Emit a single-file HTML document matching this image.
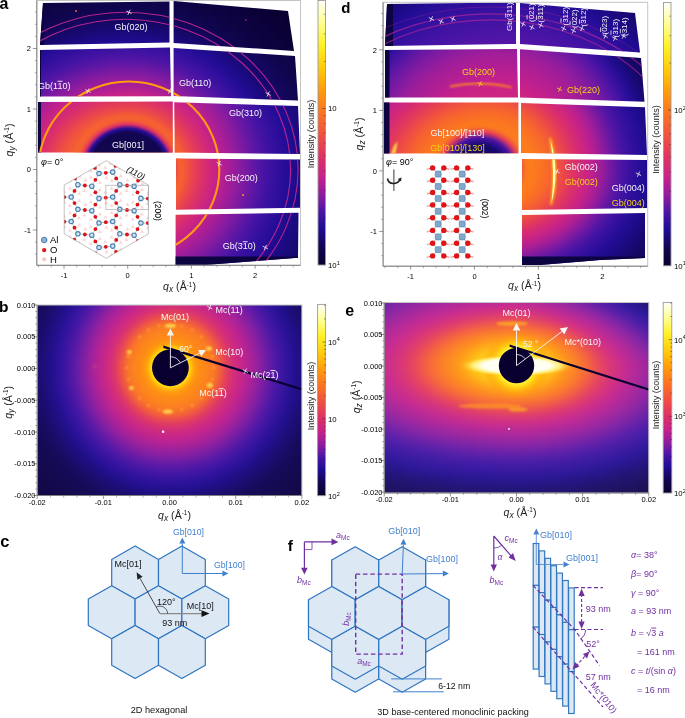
<!DOCTYPE html>
<html><head><meta charset="utf-8"><title>Figure</title>
<style>html,body{margin:0;padding:0;background:#fff;width:685px;height:718px;overflow:hidden}svg{display:block}</style>
</head><body>
<svg width="685" height="718" viewBox="0 0 685 718" font-family="'Liberation Sans', Arial, sans-serif">
<defs><clipPath id="cA"><polygon points="43.0,3.0 169.5,1.5 169.5,42.5 40.0,45.0" /><polygon points="40.0,50.0 170.0,47.5 171.0,96.3 40.0,96.5" /><polygon points="38.0,102.0 172.8,101.6 172.8,152.4 38.0,152.4" /><polygon points="173.6,1.0 288.0,11.0 294.0,51.0 173.6,43.0" /><polygon points="173.6,48.0 295.0,56.0 298.0,100.5 173.6,96.0" /><polygon points="174.2,102.2 298.0,106.0 300.0,154.0 174.8,152.4" /><polygon points="176.0,158.6 300.0,159.6 300.0,207.7 176.0,209.7" /><polygon points="175.6,214.8 298.5,212.8 298.0,257.7 259.0,260.8 205.0,264.9 175.6,264.9" /></clipPath>
<clipPath id="cA1"><polygon points="43.0,3.0 169.5,1.5 169.5,42.5 40.0,45.0" /><polygon points="173.6,1.0 288.0,11.0 294.0,51.0 173.6,43.0" /></clipPath>
<clipPath id="cA2"><polygon points="40.0,50.0 170.0,47.5 171.0,96.3 40.0,96.5" /><polygon points="173.6,48.0 295.0,56.0 298.0,100.5 173.6,96.0" /></clipPath>
<clipPath id="cA3"><polygon points="38.0,102.0 172.8,101.6 172.8,152.4 38.0,152.4" /><polygon points="174.2,102.2 298.0,106.0 300.0,154.0 174.8,152.4" /><polygon points="176.0,158.6 300.0,159.6 300.0,207.7 176.0,209.7" /><polygon points="175.6,214.8 298.5,212.8 298.0,257.7 259.0,260.8 205.0,264.9 175.6,264.9" /></clipPath>
<radialGradient id="gablob" gradientUnits="userSpaceOnUse" cx="127.7" cy="169.5" r="60" fx="127.7" fy="169.5" gradientTransform="translate(127.7 169.5) scale(1.03 1) translate(-127.7 -169.5)"><stop offset="0.0000" stop-color="#0e0548" stop-opacity="1"/><stop offset="0.6167" stop-color="#120650" stop-opacity="1"/><stop offset="0.6833" stop-color="#270d99" stop-opacity="1"/><stop offset="0.7500" stop-color="#db3069" stop-opacity="1"/><stop offset="0.8167" stop-color="#f45c35" stop-opacity="0.8"/><stop offset="0.9000" stop-color="#f96c27" stop-opacity="0.4"/><stop offset="1.0000" stop-color="#f1543c" stop-opacity="0"/></radialGradient>
<linearGradient id="cba" gradientUnits="userSpaceOnUse" x1="0" y1="0.5" x2="0" y2="265"><stop offset="0.000" stop-color="#fffff8"/><stop offset="0.033" stop-color="#ffffcf"/><stop offset="0.067" stop-color="#ffffa6"/><stop offset="0.100" stop-color="#fffc7d"/><stop offset="0.133" stop-color="#fff652"/><stop offset="0.167" stop-color="#fff128"/><stop offset="0.200" stop-color="#ffe31b"/><stop offset="0.233" stop-color="#ffd412"/><stop offset="0.267" stop-color="#ffc40a"/><stop offset="0.300" stop-color="#ffb20b"/><stop offset="0.333" stop-color="#ff9f0c"/><stop offset="0.367" stop-color="#fe8e11"/><stop offset="0.400" stop-color="#fc7e1b"/><stop offset="0.433" stop-color="#fa6f25"/><stop offset="0.467" stop-color="#f56131"/><stop offset="0.500" stop-color="#f1543c"/><stop offset="0.533" stop-color="#eb474a"/><stop offset="0.567" stop-color="#e33b59"/><stop offset="0.600" stop-color="#db3069"/><stop offset="0.633" stop-color="#d1287a"/><stop offset="0.667" stop-color="#c7218a"/><stop offset="0.700" stop-color="#ac1e95"/><stop offset="0.733" stop-color="#901c9e"/><stop offset="0.767" stop-color="#6d18a3"/><stop offset="0.800" stop-color="#4814a6"/><stop offset="0.833" stop-color="#32109d"/><stop offset="0.867" stop-color="#1e0b90"/><stop offset="0.900" stop-color="#17096f"/><stop offset="0.933" stop-color="#100650"/><stop offset="0.967" stop-color="#0d0340"/><stop offset="1.000" stop-color="#0a0030"/></linearGradient>
<clipPath id="cI"><polygon points="106.3,160.7 148.4,185.1 148.4,233.9 106.3,258.3 64.2,233.9 64.2,185.1" /></clipPath>
<clipPath id="cD"><polygon points="387.0,4.0 516.0,2.5 516.0,44.0 385.0,46.0" /><polygon points="385.0,50.0 517.0,49.0 518.0,97.4 385.0,97.5" /><polygon points="384.0,102.4 518.4,102.4 518.4,153.2 384.0,153.4" /><polygon points="520.0,3.0 635.0,13.0 640.0,52.5 520.0,44.0" /><polygon points="520.0,49.3 641.0,58.0 644.5,101.8 520.0,97.4" /><polygon points="521.0,103.0 645.0,107.3 647.0,155.0 521.0,153.0" /><polygon points="522.0,159.0 647.0,160.0 647.0,208.0 522.0,210.0" /><polygon points="522.0,215.0 645.0,213.0 645.0,258.0 600.0,260.0 540.0,264.9 522.0,264.9" /></clipPath>
<clipPath id="cD1"><polygon points="387.0,4.0 516.0,2.5 516.0,44.0 385.0,46.0" /><polygon points="520.0,3.0 635.0,13.0 640.0,52.5 520.0,44.0" /></clipPath>
<clipPath id="cD2"><polygon points="385.0,50.0 517.0,49.0 518.0,97.4 385.0,97.5" /><polygon points="520.0,49.3 641.0,58.0 644.5,101.8 520.0,97.4" /></clipPath>
<clipPath id="cD3"><polygon points="384.0,102.4 518.4,102.4 518.4,153.2 384.0,153.4" /><polygon points="521.0,103.0 645.0,107.3 647.0,155.0 521.0,153.0" /><polygon points="522.0,159.0 647.0,160.0 647.0,208.0 522.0,210.0" /><polygon points="522.0,215.0 645.0,213.0 645.0,258.0 600.0,260.0 540.0,264.9 522.0,264.9" /></clipPath>
<radialGradient id="gdblob" gradientUnits="userSpaceOnUse" cx="480" cy="169" r="50" fx="480" fy="169" gradientTransform="translate(480 169) scale(1.08 1) translate(-480 -169)"><stop offset="0.0000" stop-color="#100652" stop-opacity="1"/><stop offset="0.4800" stop-color="#17096f" stop-opacity="1"/><stop offset="0.6200" stop-color="#4814a6" stop-opacity="1"/><stop offset="0.7400" stop-color="#e03660" stop-opacity="0.9"/><stop offset="0.8600" stop-color="#fb7521" stop-opacity="0.5"/><stop offset="1.0000" stop-color="#fc7e1b" stop-opacity="0"/></radialGradient>
<linearGradient id="cbd" gradientUnits="userSpaceOnUse" x1="0" y1="2.5" x2="0" y2="265.8"><stop offset="0.000" stop-color="#fffff8"/><stop offset="0.033" stop-color="#ffffcf"/><stop offset="0.067" stop-color="#ffffa6"/><stop offset="0.100" stop-color="#fffc7d"/><stop offset="0.133" stop-color="#fff652"/><stop offset="0.167" stop-color="#fff128"/><stop offset="0.200" stop-color="#ffe31b"/><stop offset="0.233" stop-color="#ffd412"/><stop offset="0.267" stop-color="#ffc40a"/><stop offset="0.300" stop-color="#ffb20b"/><stop offset="0.333" stop-color="#ff9f0c"/><stop offset="0.367" stop-color="#fe8e11"/><stop offset="0.400" stop-color="#fc7e1b"/><stop offset="0.433" stop-color="#fa6f25"/><stop offset="0.467" stop-color="#f56131"/><stop offset="0.500" stop-color="#f1543c"/><stop offset="0.533" stop-color="#eb474a"/><stop offset="0.567" stop-color="#e33b59"/><stop offset="0.600" stop-color="#db3069"/><stop offset="0.633" stop-color="#d1287a"/><stop offset="0.667" stop-color="#c7218a"/><stop offset="0.700" stop-color="#ac1e95"/><stop offset="0.733" stop-color="#901c9e"/><stop offset="0.767" stop-color="#6d18a3"/><stop offset="0.800" stop-color="#4814a6"/><stop offset="0.833" stop-color="#32109d"/><stop offset="0.867" stop-color="#1e0b90"/><stop offset="0.900" stop-color="#17096f"/><stop offset="0.933" stop-color="#100650"/><stop offset="0.967" stop-color="#0d0340"/><stop offset="1.000" stop-color="#0a0030"/></linearGradient>
<filter id="bl4" color-interpolation-filters="sRGB" x="-5%" y="-5%" width="110%" height="110%"><feGaussianBlur stdDeviation="4"/></filter>
<filter id="bl3" color-interpolation-filters="sRGB" x="-5%" y="-5%" width="110%" height="110%"><feGaussianBlur stdDeviation="3"/></filter>
<filter id="bl1" color-interpolation-filters="sRGB" x="-20%" y="-20%" width="140%" height="140%"><feGaussianBlur stdDeviation="1.2"/></filter>
<radialGradient id="gbc" gradientUnits="userSpaceOnUse" cx="170.4" cy="367.8" r="36" fx="170.4" fy="367.8"><stop offset="0.0000" stop-color="#ffe31b" stop-opacity="1"/><stop offset="0.5000" stop-color="#ffe31b" stop-opacity="1"/><stop offset="0.5694" stop-color="#ffc80a" stop-opacity="1"/><stop offset="0.6667" stop-color="#ffa10c" stop-opacity="0.9"/><stop offset="0.8056" stop-color="#fe8c12" stop-opacity="0.5"/><stop offset="1.0000" stop-color="#fc8318" stop-opacity="0"/></radialGradient>
<clipPath id="cB"><rect x="37.2" y="305" width="264.7" height="190.5"/></clipPath>
<linearGradient id="cbb" gradientUnits="userSpaceOnUse" x1="0" y1="304.4" x2="0" y2="495.7"><stop offset="0.000" stop-color="#fffff8"/><stop offset="0.033" stop-color="#ffffcf"/><stop offset="0.067" stop-color="#ffffa6"/><stop offset="0.100" stop-color="#fffc7d"/><stop offset="0.133" stop-color="#fff652"/><stop offset="0.167" stop-color="#fff128"/><stop offset="0.200" stop-color="#ffe31b"/><stop offset="0.233" stop-color="#ffd412"/><stop offset="0.267" stop-color="#ffc40a"/><stop offset="0.300" stop-color="#ffb20b"/><stop offset="0.333" stop-color="#ff9f0c"/><stop offset="0.367" stop-color="#fe8e11"/><stop offset="0.400" stop-color="#fc7e1b"/><stop offset="0.433" stop-color="#fa6f25"/><stop offset="0.467" stop-color="#f56131"/><stop offset="0.500" stop-color="#f1543c"/><stop offset="0.533" stop-color="#eb474a"/><stop offset="0.567" stop-color="#e33b59"/><stop offset="0.600" stop-color="#db3069"/><stop offset="0.633" stop-color="#d1287a"/><stop offset="0.667" stop-color="#c7218a"/><stop offset="0.700" stop-color="#ac1e95"/><stop offset="0.733" stop-color="#901c9e"/><stop offset="0.767" stop-color="#6d18a3"/><stop offset="0.800" stop-color="#4814a6"/><stop offset="0.833" stop-color="#32109d"/><stop offset="0.867" stop-color="#1e0b90"/><stop offset="0.900" stop-color="#17096f"/><stop offset="0.933" stop-color="#100650"/><stop offset="0.967" stop-color="#0d0340"/><stop offset="1.000" stop-color="#0a0030"/></linearGradient>
<radialGradient id="gstreak" gradientUnits="userSpaceOnUse" cx="516.5" cy="365.6" r="58" fx="516.5" fy="365.6" gradientTransform="translate(516.5 365.6) scale(1 0.2) translate(-516.5 -365.6)"><stop offset="0.0000" stop-color="#ffffff" stop-opacity="1"/><stop offset="0.5862" stop-color="#fffff0" stop-opacity="1"/><stop offset="0.7586" stop-color="#fff27a" stop-opacity="0.9"/><stop offset="1.0000" stop-color="#ffb000" stop-opacity="0"/></radialGradient>
<radialGradient id="gec" gradientUnits="userSpaceOnUse" cx="516.5" cy="365.6" r="34" fx="516.5" fy="365.6"><stop offset="0.0000" stop-color="#fff33d" stop-opacity="1"/><stop offset="0.5206" stop-color="#fff33d" stop-opacity="1"/><stop offset="0.6176" stop-color="#ffda16" stop-opacity="1"/><stop offset="0.7647" stop-color="#ffb20b" stop-opacity="0.7"/><stop offset="1.0000" stop-color="#fd8815" stop-opacity="0"/></radialGradient>
<clipPath id="cE"><rect x="384.2" y="302.5" width="264.6" height="190.5"/></clipPath>
<linearGradient id="cbe" gradientUnits="userSpaceOnUse" x1="0" y1="302.4" x2="0" y2="493"><stop offset="0.000" stop-color="#fffff8"/><stop offset="0.033" stop-color="#ffffcf"/><stop offset="0.067" stop-color="#ffffa6"/><stop offset="0.100" stop-color="#fffc7d"/><stop offset="0.133" stop-color="#fff652"/><stop offset="0.167" stop-color="#fff128"/><stop offset="0.200" stop-color="#ffe31b"/><stop offset="0.233" stop-color="#ffd412"/><stop offset="0.267" stop-color="#ffc40a"/><stop offset="0.300" stop-color="#ffb20b"/><stop offset="0.333" stop-color="#ff9f0c"/><stop offset="0.367" stop-color="#fe8e11"/><stop offset="0.400" stop-color="#fc7e1b"/><stop offset="0.433" stop-color="#fa6f25"/><stop offset="0.467" stop-color="#f56131"/><stop offset="0.500" stop-color="#f1543c"/><stop offset="0.533" stop-color="#eb474a"/><stop offset="0.567" stop-color="#e33b59"/><stop offset="0.600" stop-color="#db3069"/><stop offset="0.633" stop-color="#d1287a"/><stop offset="0.667" stop-color="#c7218a"/><stop offset="0.700" stop-color="#ac1e95"/><stop offset="0.733" stop-color="#901c9e"/><stop offset="0.767" stop-color="#6d18a3"/><stop offset="0.800" stop-color="#4814a6"/><stop offset="0.833" stop-color="#32109d"/><stop offset="0.867" stop-color="#1e0b90"/><stop offset="0.900" stop-color="#17096f"/><stop offset="0.933" stop-color="#100650"/><stop offset="0.967" stop-color="#0d0340"/><stop offset="1.000" stop-color="#0a0030"/></linearGradient></defs>
<g clip-path="url(#cA1)">
<g filter="url(#bl4)"><path fill="#0c023c" d="M29 -8h8v8h-8z"/><path fill="#0c023d" d="M37 -8h8v8h-8z"/><path fill="#0d033e" d="M45 -8h8v8h-8z"/><path fill="#0d033f" d="M53 -8h8v8h-8z"/><path fill="#0d0340" d="M61 -8h8v8h-8z"/><path fill="#0d0341" d="M69 -8h8v8h-8z"/><path fill="#0d0343" d="M77 -8h8v8h-8z"/><path fill="#0d0344" d="M85 -8h8v8h-8z"/><path fill="#0e0444" d="M93 -8h8v8h-8z"/><path fill="#0e0445" d="M101 -8h8v8h-8z"/><path fill="#0e0445" d="M109 -8h8v8h-8z"/><path fill="#0e0446" d="M117 -8h8v8h-8z"/><path fill="#0e0446" d="M125 -8h8v8h-8z"/><path fill="#0e0446" d="M133 -8h8v8h-8z"/><path fill="#0e0445" d="M141 -8h8v8h-8z"/><path fill="#0e0445" d="M149 -8h8v8h-8z"/><path fill="#0d0344" d="M157 -8h8v8h-8z"/><path fill="#0d0343" d="M165 -8h8v8h-8z"/><path fill="#0d0341" d="M173 -8h8v8h-8z"/><path fill="#0d0340" d="M181 -8h8v8h-8z"/><path fill="#0d033f" d="M189 -8h8v8h-8z"/><path fill="#0c023e" d="M197 -8h8v8h-8z"/><path fill="#0c023c" d="M205 -8h8v8h-8z"/><path fill="#0c023b" d="M213 -8h8v8h-8z"/><path fill="#0c0239" d="M221 -8h8v8h-8z"/><path fill="#0b0137" d="M229 -8h8v8h-8z"/><path fill="#0b0135" d="M237 -8h8v8h-8z"/><path fill="#0b0133" d="M245 -8h8v8h-8z"/><path fill="#0a0032" d="M253 -8h8v8h-8z"/><path fill="#0a0031" d="M261 -8h8v8h-8z"/><path fill="#0a0030" d="M269 -8h8v8h-8z"/><path fill="#0a0030" d="M277 -8h8v8h-8z"/><path fill="#0a0030" d="M285 -8h8v8h-8z"/><path fill="#0a0030" d="M293 -8h8v8h-8z"/><path fill="#0a0030" d="M301 -8h8v8h-8z"/><path fill="#0d033f" d="M29 0h8v8h-8z"/><path fill="#0d0341" d="M37 0h8v8h-8z"/><path fill="#0d0342" d="M45 0h8v8h-8z"/><path fill="#0e0444" d="M53 0h8v8h-8z"/><path fill="#0e0446" d="M61 0h8v8h-8z"/><path fill="#0e0447" d="M69 0h8v8h-8z"/><path fill="#0e0448" d="M77 0h8v8h-8z"/><path fill="#0e0449" d="M85 0h8v8h-8z"/><path fill="#0f054a" d="M93 0h8v8h-8z"/><path fill="#0f054b" d="M101 0h8v8h-8z"/><path fill="#0f054b" d="M109 0h8v8h-8z"/><path fill="#0f054b" d="M117 0h8v8h-8z"/><path fill="#0f054c" d="M125 0h8v8h-8z"/><path fill="#0f054b" d="M133 0h8v8h-8z"/><path fill="#0f054b" d="M141 0h8v8h-8z"/><path fill="#0f054a" d="M149 0h8v8h-8z"/><path fill="#0e0449" d="M157 0h8v8h-8z"/><path fill="#0e0448" d="M165 0h8v8h-8z"/><path fill="#0e0447" d="M173 0h8v8h-8z"/><path fill="#0e0445" d="M181 0h8v8h-8z"/><path fill="#0d0343" d="M189 0h8v8h-8z"/><path fill="#0d0341" d="M197 0h8v8h-8z"/><path fill="#0d0340" d="M205 0h8v8h-8z"/><path fill="#0c023e" d="M213 0h8v8h-8z"/><path fill="#0c023c" d="M221 0h8v8h-8z"/><path fill="#0c023a" d="M229 0h8v8h-8z"/><path fill="#0b0138" d="M237 0h8v8h-8z"/><path fill="#0b0136" d="M245 0h8v8h-8z"/><path fill="#0b0134" d="M253 0h8v8h-8z"/><path fill="#0a0032" d="M261 0h8v8h-8z"/><path fill="#0a0031" d="M269 0h8v8h-8z"/><path fill="#0a0030" d="M277 0h8v8h-8z"/><path fill="#0a0030" d="M285 0h8v8h-8z"/><path fill="#0a0030" d="M293 0h8v8h-8z"/><path fill="#0a0030" d="M301 0h8v8h-8z"/><path fill="#0d0344" d="M29 8h8v8h-8z"/><path fill="#0e0446" d="M37 8h8v8h-8z"/><path fill="#0e0448" d="M45 8h8v8h-8z"/><path fill="#0f054a" d="M53 8h8v8h-8z"/><path fill="#0f054b" d="M61 8h8v8h-8z"/><path fill="#0f054d" d="M69 8h8v8h-8z"/><path fill="#0f054e" d="M77 8h8v8h-8z"/><path fill="#0f054f" d="M85 8h8v8h-8z"/><path fill="#100650" d="M93 8h8v8h-8z"/><path fill="#100651" d="M101 8h8v8h-8z"/><path fill="#100652" d="M109 8h8v8h-8z"/><path fill="#100652" d="M117 8h8v8h-8z"/><path fill="#100652" d="M125 8h8v8h-8z"/><path fill="#100652" d="M133 8h8v8h-8z"/><path fill="#100651" d="M141 8h8v8h-8z"/><path fill="#100650" d="M149 8h8v8h-8z"/><path fill="#0f054f" d="M157 8h8v8h-8z"/><path fill="#0f054e" d="M165 8h8v8h-8z"/><path fill="#0f054c" d="M173 8h8v8h-8z"/><path fill="#0f054b" d="M181 8h8v8h-8z"/><path fill="#0e0449" d="M189 8h8v8h-8z"/><path fill="#0e0447" d="M197 8h8v8h-8z"/><path fill="#0e0444" d="M205 8h8v8h-8z"/><path fill="#0d0342" d="M213 8h8v8h-8z"/><path fill="#0d0340" d="M221 8h8v8h-8z"/><path fill="#0c023e" d="M229 8h8v8h-8z"/><path fill="#0c023c" d="M237 8h8v8h-8z"/><path fill="#0c023a" d="M245 8h8v8h-8z"/><path fill="#0b0137" d="M253 8h8v8h-8z"/><path fill="#0b0135" d="M261 8h8v8h-8z"/><path fill="#0a0033" d="M269 8h8v8h-8z"/><path fill="#0a0032" d="M277 8h8v8h-8z"/><path fill="#0a0030" d="M285 8h8v8h-8z"/><path fill="#0a0030" d="M293 8h8v8h-8z"/><path fill="#0a0030" d="M301 8h8v8h-8z"/><path fill="#0e0449" d="M29 16h8v8h-8z"/><path fill="#0f054b" d="M37 16h8v8h-8z"/><path fill="#0f054d" d="M45 16h8v8h-8z"/><path fill="#0f054f" d="M53 16h8v8h-8z"/><path fill="#100651" d="M61 16h8v8h-8z"/><path fill="#110654" d="M69 16h8v8h-8z"/><path fill="#110758" d="M77 16h8v8h-8z"/><path fill="#12075b" d="M85 16h8v8h-8z"/><path fill="#13075d" d="M93 16h8v8h-8z"/><path fill="#13075f" d="M101 16h8v8h-8z"/><path fill="#130761" d="M109 16h8v8h-8z"/><path fill="#140761" d="M117 16h8v8h-8z"/><path fill="#140762" d="M125 16h8v8h-8z"/><path fill="#140761" d="M133 16h8v8h-8z"/><path fill="#130760" d="M141 16h8v8h-8z"/><path fill="#13075e" d="M149 16h8v8h-8z"/><path fill="#12075b" d="M157 16h8v8h-8z"/><path fill="#110658" d="M165 16h8v8h-8z"/><path fill="#100654" d="M173 16h8v8h-8z"/><path fill="#100650" d="M181 16h8v8h-8z"/><path fill="#0f054e" d="M189 16h8v8h-8z"/><path fill="#0f054c" d="M197 16h8v8h-8z"/><path fill="#0e0449" d="M205 16h8v8h-8z"/><path fill="#0e0447" d="M213 16h8v8h-8z"/><path fill="#0e0444" d="M221 16h8v8h-8z"/><path fill="#0d0341" d="M229 16h8v8h-8z"/><path fill="#0d033f" d="M237 16h8v8h-8z"/><path fill="#0c023d" d="M245 16h8v8h-8z"/><path fill="#0c023a" d="M253 16h8v8h-8z"/><path fill="#0b0138" d="M261 16h8v8h-8z"/><path fill="#0b0135" d="M269 16h8v8h-8z"/><path fill="#0b0133" d="M277 16h8v8h-8z"/><path fill="#0a0032" d="M285 16h8v8h-8z"/><path fill="#0a0031" d="M293 16h8v8h-8z"/><path fill="#0a0030" d="M301 16h8v8h-8z"/><path fill="#0f054e" d="M29 24h8v8h-8z"/><path fill="#100651" d="M37 24h8v8h-8z"/><path fill="#110655" d="M45 24h8v8h-8z"/><path fill="#12075a" d="M53 24h8v8h-8z"/><path fill="#13075f" d="M61 24h8v8h-8z"/><path fill="#140863" d="M69 24h8v8h-8z"/><path fill="#150867" d="M77 24h8v8h-8z"/><path fill="#16086a" d="M85 24h8v8h-8z"/><path fill="#16086d" d="M93 24h8v8h-8z"/><path fill="#17096f" d="M101 24h8v8h-8z"/><path fill="#170970" d="M109 24h8v8h-8z"/><path fill="#170971" d="M117 24h8v8h-8z"/><path fill="#170971" d="M125 24h8v8h-8z"/><path fill="#170971" d="M133 24h8v8h-8z"/><path fill="#17096f" d="M141 24h8v8h-8z"/><path fill="#16086d" d="M149 24h8v8h-8z"/><path fill="#16086a" d="M157 24h8v8h-8z"/><path fill="#150867" d="M165 24h8v8h-8z"/><path fill="#140762" d="M173 24h8v8h-8z"/><path fill="#13075d" d="M181 24h8v8h-8z"/><path fill="#110758" d="M189 24h8v8h-8z"/><path fill="#100652" d="M197 24h8v8h-8z"/><path fill="#0f054f" d="M205 24h8v8h-8z"/><path fill="#0f054c" d="M213 24h8v8h-8z"/><path fill="#0e0449" d="M221 24h8v8h-8z"/><path fill="#0e0446" d="M229 24h8v8h-8z"/><path fill="#0d0342" d="M237 24h8v8h-8z"/><path fill="#0d0340" d="M245 24h8v8h-8z"/><path fill="#0c023d" d="M253 24h8v8h-8z"/><path fill="#0c023b" d="M261 24h8v8h-8z"/><path fill="#0b0138" d="M269 24h8v8h-8z"/><path fill="#0b0136" d="M277 24h8v8h-8z"/><path fill="#0b0133" d="M285 24h8v8h-8z"/><path fill="#0a0032" d="M293 24h8v8h-8z"/><path fill="#0a0030" d="M301 24h8v8h-8z"/><path fill="#110657" d="M29 32h8v8h-8z"/><path fill="#13075d" d="M37 32h8v8h-8z"/><path fill="#140863" d="M45 32h8v8h-8z"/><path fill="#150868" d="M53 32h8v8h-8z"/><path fill="#16086d" d="M61 32h8v8h-8z"/><path fill="#180972" d="M69 32h8v8h-8z"/><path fill="#190976" d="M77 32h8v8h-8z"/><path fill="#1a0a7b" d="M85 32h8v8h-8z"/><path fill="#1a0a7f" d="M93 32h8v8h-8z"/><path fill="#1b0a81" d="M101 32h8v8h-8z"/><path fill="#1c0a83" d="M109 32h8v8h-8z"/><path fill="#1c0a85" d="M117 32h8v8h-8z"/><path fill="#1c0a85" d="M125 32h8v8h-8z"/><path fill="#1c0a84" d="M133 32h8v8h-8z"/><path fill="#1b0a82" d="M141 32h8v8h-8z"/><path fill="#1b0a7f" d="M149 32h8v8h-8z"/><path fill="#1a0a7b" d="M157 32h8v8h-8z"/><path fill="#190976" d="M165 32h8v8h-8z"/><path fill="#170971" d="M173 32h8v8h-8z"/><path fill="#16086c" d="M181 32h8v8h-8z"/><path fill="#150866" d="M189 32h8v8h-8z"/><path fill="#13075f" d="M197 32h8v8h-8z"/><path fill="#110758" d="M205 32h8v8h-8z"/><path fill="#100651" d="M213 32h8v8h-8z"/><path fill="#0f054e" d="M221 32h8v8h-8z"/><path fill="#0f054a" d="M229 32h8v8h-8z"/><path fill="#0e0447" d="M237 32h8v8h-8z"/><path fill="#0d0344" d="M245 32h8v8h-8z"/><path fill="#0d0340" d="M253 32h8v8h-8z"/><path fill="#0c023e" d="M261 32h8v8h-8z"/><path fill="#0c023b" d="M269 32h8v8h-8z"/><path fill="#0b0138" d="M277 32h8v8h-8z"/><path fill="#0b0136" d="M285 32h8v8h-8z"/><path fill="#0a0033" d="M293 32h8v8h-8z"/><path fill="#0a0031" d="M301 32h8v8h-8z"/><path fill="#140864" d="M29 40h8v8h-8z"/><path fill="#16086b" d="M37 40h8v8h-8z"/><path fill="#170971" d="M45 40h8v8h-8z"/><path fill="#190978" d="M53 40h8v8h-8z"/><path fill="#1a0a7f" d="M61 40h8v8h-8z"/><path fill="#1c0a85" d="M69 40h8v8h-8z"/><path fill="#1d0b8a" d="M77 40h8v8h-8z"/><path fill="#1e0b8f" d="M85 40h8v8h-8z"/><path fill="#1f0c93" d="M93 40h8v8h-8z"/><path fill="#200c96" d="M101 40h8v8h-8z"/><path fill="#210c97" d="M109 40h8v8h-8z"/><path fill="#220c97" d="M117 40h8v8h-8z"/><path fill="#220c97" d="M125 40h8v8h-8z"/><path fill="#220c97" d="M133 40h8v8h-8z"/><path fill="#210c96" d="M141 40h8v8h-8z"/><path fill="#1f0c94" d="M149 40h8v8h-8z"/><path fill="#1e0b8f" d="M157 40h8v8h-8z"/><path fill="#1d0b8a" d="M165 40h8v8h-8z"/><path fill="#1c0a84" d="M173 40h8v8h-8z"/><path fill="#1a0a7c" d="M181 40h8v8h-8z"/><path fill="#180974" d="M189 40h8v8h-8z"/><path fill="#16086d" d="M197 40h8v8h-8z"/><path fill="#150865" d="M205 40h8v8h-8z"/><path fill="#13075d" d="M213 40h8v8h-8z"/><path fill="#110655" d="M221 40h8v8h-8z"/><path fill="#0f054f" d="M229 40h8v8h-8z"/><path fill="#0f054c" d="M237 40h8v8h-8z"/><path fill="#0e0448" d="M245 40h8v8h-8z"/><path fill="#0e0444" d="M253 40h8v8h-8z"/><path fill="#0d0340" d="M261 40h8v8h-8z"/><path fill="#0c023e" d="M269 40h8v8h-8z"/><path fill="#0c023b" d="M277 40h8v8h-8z"/><path fill="#0b0138" d="M285 40h8v8h-8z"/><path fill="#0b0135" d="M293 40h8v8h-8z"/><path fill="#0a0032" d="M301 40h8v8h-8z"/><path fill="#170971" d="M29 48h8v8h-8z"/><path fill="#190979" d="M37 48h8v8h-8z"/><path fill="#1b0a82" d="M45 48h8v8h-8z"/><path fill="#1d0b8a" d="M53 48h8v8h-8z"/><path fill="#1f0c92" d="M61 48h8v8h-8z"/><path fill="#210c97" d="M69 48h8v8h-8z"/><path fill="#260d98" d="M77 48h8v8h-8z"/><path fill="#290e9a" d="M85 48h8v8h-8z"/><path fill="#2c0e9b" d="M93 48h8v8h-8z"/><path fill="#2e0f9c" d="M101 48h8v8h-8z"/><path fill="#300f9c" d="M109 48h8v8h-8z"/><path fill="#300f9d" d="M117 48h8v8h-8z"/><path fill="#310f9d" d="M125 48h8v8h-8z"/><path fill="#300f9c" d="M133 48h8v8h-8z"/><path fill="#2f0f9c" d="M141 48h8v8h-8z"/><path fill="#2c0e9b" d="M149 48h8v8h-8z"/><path fill="#290e9a" d="M157 48h8v8h-8z"/><path fill="#250d98" d="M165 48h8v8h-8z"/><path fill="#210c96" d="M173 48h8v8h-8z"/><path fill="#1e0b8f" d="M181 48h8v8h-8z"/><path fill="#1c0b86" d="M189 48h8v8h-8z"/><path fill="#1a0a7d" d="M197 48h8v8h-8z"/><path fill="#180973" d="M205 48h8v8h-8z"/><path fill="#16086a" d="M213 48h8v8h-8z"/><path fill="#140761" d="M221 48h8v8h-8z"/><path fill="#110758" d="M229 48h8v8h-8z"/><path fill="#100650" d="M237 48h8v8h-8z"/><path fill="#0f054c" d="M245 48h8v8h-8z"/><path fill="#0e0448" d="M253 48h8v8h-8z"/><path fill="#0e0444" d="M261 48h8v8h-8z"/><path fill="#0d0340" d="M269 48h8v8h-8z"/><path fill="#0c023d" d="M277 48h8v8h-8z"/><path fill="#0c023a" d="M285 48h8v8h-8z"/><path fill="#0b0138" d="M293 48h8v8h-8z"/><path fill="#0b0135" d="M301 48h8v8h-8z"/><path fill="#1b0a81" d="M29 56h8v8h-8z"/><path fill="#1d0b8b" d="M37 56h8v8h-8z"/><path fill="#200c94" d="M45 56h8v8h-8z"/><path fill="#240d98" d="M53 56h8v8h-8z"/><path fill="#2a0e9a" d="M61 56h8v8h-8z"/><path fill="#2f0f9c" d="M69 56h8v8h-8z"/><path fill="#33109e" d="M77 56h8v8h-8z"/><path fill="#37119f" d="M85 56h8v8h-8z"/><path fill="#3a11a0" d="M93 56h8v8h-8z"/><path fill="#3c12a1" d="M101 56h8v8h-8z"/><path fill="#3e12a2" d="M109 56h8v8h-8z"/><path fill="#3f12a2" d="M117 56h8v8h-8z"/><path fill="#3f12a2" d="M125 56h8v8h-8z"/><path fill="#3e12a2" d="M133 56h8v8h-8z"/><path fill="#3d12a1" d="M141 56h8v8h-8z"/><path fill="#3a11a0" d="M149 56h8v8h-8z"/><path fill="#37119f" d="M157 56h8v8h-8z"/><path fill="#33109d" d="M165 56h8v8h-8z"/><path fill="#2e0f9b" d="M173 56h8v8h-8z"/><path fill="#280e99" d="M181 56h8v8h-8z"/><path fill="#220c97" d="M189 56h8v8h-8z"/><path fill="#1e0b8e" d="M197 56h8v8h-8z"/><path fill="#1c0a83" d="M205 56h8v8h-8z"/><path fill="#190978" d="M213 56h8v8h-8z"/><path fill="#16086d" d="M221 56h8v8h-8z"/><path fill="#140864" d="M229 56h8v8h-8z"/><path fill="#120759" d="M237 56h8v8h-8z"/><path fill="#100650" d="M245 56h8v8h-8z"/><path fill="#0f054c" d="M253 56h8v8h-8z"/><path fill="#0e0448" d="M261 56h8v8h-8z"/><path fill="#0d0344" d="M269 56h8v8h-8z"/><path fill="#0d0340" d="M277 56h8v8h-8z"/><path fill="#0c023d" d="M285 56h8v8h-8z"/><path fill="#0c023a" d="M293 56h8v8h-8z"/><path fill="#0b0137" d="M301 56h8v8h-8z"/></g>
</g>
<g clip-path="url(#cA2)">
<g filter="url(#bl4)"><path fill="#180976" d="M29 36h8v8h-8z"/><path fill="#1a0a7c" d="M37 36h8v8h-8z"/><path fill="#1b0a82" d="M45 36h8v8h-8z"/><path fill="#1d0b88" d="M53 36h8v8h-8z"/><path fill="#1e0b8d" d="M61 36h8v8h-8z"/><path fill="#1f0c93" d="M69 36h8v8h-8z"/><path fill="#220c97" d="M77 36h8v8h-8z"/><path fill="#250d98" d="M85 36h8v8h-8z"/><path fill="#280e99" d="M93 36h8v8h-8z"/><path fill="#2a0e9a" d="M101 36h8v8h-8z"/><path fill="#2b0e9a" d="M109 36h8v8h-8z"/><path fill="#2c0e9b" d="M117 36h8v8h-8z"/><path fill="#2c0e9b" d="M125 36h8v8h-8z"/><path fill="#2b0e9b" d="M133 36h8v8h-8z"/><path fill="#2a0e9a" d="M141 36h8v8h-8z"/><path fill="#280e99" d="M149 36h8v8h-8z"/><path fill="#250d98" d="M157 36h8v8h-8z"/><path fill="#220c97" d="M165 36h8v8h-8z"/><path fill="#1f0c92" d="M173 36h8v8h-8z"/><path fill="#1d0b8b" d="M181 36h8v8h-8z"/><path fill="#1c0b85" d="M189 36h8v8h-8z"/><path fill="#1a0a7e" d="M197 36h8v8h-8z"/><path fill="#190977" d="M205 36h8v8h-8z"/><path fill="#17096f" d="M213 36h8v8h-8z"/><path fill="#150867" d="M221 36h8v8h-8z"/><path fill="#130760" d="M229 36h8v8h-8z"/><path fill="#120759" d="M237 36h8v8h-8z"/><path fill="#100652" d="M245 36h8v8h-8z"/><path fill="#0f054e" d="M253 36h8v8h-8z"/><path fill="#0f054b" d="M261 36h8v8h-8z"/><path fill="#0e0449" d="M269 36h8v8h-8z"/><path fill="#0e0446" d="M277 36h8v8h-8z"/><path fill="#0d0343" d="M285 36h8v8h-8z"/><path fill="#0d0340" d="M293 36h8v8h-8z"/><path fill="#0c023e" d="M301 36h8v8h-8z"/><path fill="#1b0a83" d="M29 44h8v8h-8z"/><path fill="#1d0b8a" d="M37 44h8v8h-8z"/><path fill="#1f0c91" d="M45 44h8v8h-8z"/><path fill="#220c97" d="M53 44h8v8h-8z"/><path fill="#270d99" d="M61 44h8v8h-8z"/><path fill="#2c0e9b" d="M69 44h8v8h-8z"/><path fill="#2f0f9c" d="M77 44h8v8h-8z"/><path fill="#33109d" d="M85 44h8v8h-8z"/><path fill="#35109f" d="M93 44h8v8h-8z"/><path fill="#38119f" d="M101 44h8v8h-8z"/><path fill="#3911a0" d="M109 44h8v8h-8z"/><path fill="#3a11a0" d="M117 44h8v8h-8z"/><path fill="#3a11a0" d="M125 44h8v8h-8z"/><path fill="#3a11a0" d="M133 44h8v8h-8z"/><path fill="#3811a0" d="M141 44h8v8h-8z"/><path fill="#36109f" d="M149 44h8v8h-8z"/><path fill="#33109e" d="M157 44h8v8h-8z"/><path fill="#2f0f9c" d="M165 44h8v8h-8z"/><path fill="#2b0e9a" d="M173 44h8v8h-8z"/><path fill="#250d98" d="M181 44h8v8h-8z"/><path fill="#200c95" d="M189 44h8v8h-8z"/><path fill="#1e0b8c" d="M197 44h8v8h-8z"/><path fill="#1c0a84" d="M205 44h8v8h-8z"/><path fill="#1a0a7c" d="M213 44h8v8h-8z"/><path fill="#180973" d="M221 44h8v8h-8z"/><path fill="#16086a" d="M229 44h8v8h-8z"/><path fill="#140762" d="M237 44h8v8h-8z"/><path fill="#12075a" d="M245 44h8v8h-8z"/><path fill="#100652" d="M253 44h8v8h-8z"/><path fill="#0f054e" d="M261 44h8v8h-8z"/><path fill="#0f054b" d="M269 44h8v8h-8z"/><path fill="#0e0448" d="M277 44h8v8h-8z"/><path fill="#0e0445" d="M285 44h8v8h-8z"/><path fill="#0d0343" d="M293 44h8v8h-8z"/><path fill="#0d0340" d="M301 44h8v8h-8z"/><path fill="#1f0c91" d="M29 52h8v8h-8z"/><path fill="#230d97" d="M37 52h8v8h-8z"/><path fill="#290e9a" d="M45 52h8v8h-8z"/><path fill="#2f0f9c" d="M53 52h8v8h-8z"/><path fill="#34109e" d="M61 52h8v8h-8z"/><path fill="#3911a0" d="M69 52h8v8h-8z"/><path fill="#3d12a2" d="M77 52h8v8h-8z"/><path fill="#4012a3" d="M85 52h8v8h-8z"/><path fill="#4313a4" d="M93 52h8v8h-8z"/><path fill="#4614a5" d="M101 52h8v8h-8z"/><path fill="#4714a6" d="M109 52h8v8h-8z"/><path fill="#4814a6" d="M117 52h8v8h-8z"/><path fill="#4914a6" d="M125 52h8v8h-8z"/><path fill="#4814a6" d="M133 52h8v8h-8z"/><path fill="#4614a5" d="M141 52h8v8h-8z"/><path fill="#4413a4" d="M149 52h8v8h-8z"/><path fill="#4113a3" d="M157 52h8v8h-8z"/><path fill="#3d12a1" d="M165 52h8v8h-8z"/><path fill="#3811a0" d="M173 52h8v8h-8z"/><path fill="#32109d" d="M181 52h8v8h-8z"/><path fill="#2c0e9b" d="M189 52h8v8h-8z"/><path fill="#250d98" d="M197 52h8v8h-8z"/><path fill="#1f0c93" d="M205 52h8v8h-8z"/><path fill="#1d0b89" d="M213 52h8v8h-8z"/><path fill="#1b0a80" d="M221 52h8v8h-8z"/><path fill="#180976" d="M229 52h8v8h-8z"/><path fill="#16086c" d="M237 52h8v8h-8z"/><path fill="#140763" d="M245 52h8v8h-8z"/><path fill="#12075b" d="M253 52h8v8h-8z"/><path fill="#100652" d="M261 52h8v8h-8z"/><path fill="#0f054e" d="M269 52h8v8h-8z"/><path fill="#0f054b" d="M277 52h8v8h-8z"/><path fill="#0e0448" d="M285 52h8v8h-8z"/><path fill="#0e0445" d="M293 52h8v8h-8z"/><path fill="#0d0342" d="M301 52h8v8h-8z"/><path fill="#280e99" d="M29 60h8v8h-8z"/><path fill="#2f0f9c" d="M37 60h8v8h-8z"/><path fill="#35109f" d="M45 60h8v8h-8z"/><path fill="#3b11a1" d="M53 60h8v8h-8z"/><path fill="#4113a3" d="M61 60h8v8h-8z"/><path fill="#4614a5" d="M69 60h8v8h-8z"/><path fill="#4c14a6" d="M77 60h8v8h-8z"/><path fill="#5215a5" d="M85 60h8v8h-8z"/><path fill="#5816a5" d="M93 60h8v8h-8z"/><path fill="#5d16a4" d="M101 60h8v8h-8z"/><path fill="#6017a4" d="M109 60h8v8h-8z"/><path fill="#6217a4" d="M117 60h8v8h-8z"/><path fill="#6217a4" d="M125 60h8v8h-8z"/><path fill="#6117a4" d="M133 60h8v8h-8z"/><path fill="#5e17a4" d="M141 60h8v8h-8z"/><path fill="#5916a4" d="M149 60h8v8h-8z"/><path fill="#5315a5" d="M157 60h8v8h-8z"/><path fill="#4b14a6" d="M165 60h8v8h-8z"/><path fill="#4513a5" d="M173 60h8v8h-8z"/><path fill="#3f12a2" d="M181 60h8v8h-8z"/><path fill="#3911a0" d="M189 60h8v8h-8z"/><path fill="#310f9d" d="M197 60h8v8h-8z"/><path fill="#2a0e9a" d="M205 60h8v8h-8z"/><path fill="#210c97" d="M213 60h8v8h-8z"/><path fill="#1e0b8b" d="M221 60h8v8h-8z"/><path fill="#1b0a81" d="M229 60h8v8h-8z"/><path fill="#190977" d="M237 60h8v8h-8z"/><path fill="#16086c" d="M245 60h8v8h-8z"/><path fill="#140762" d="M253 60h8v8h-8z"/><path fill="#12075a" d="M261 60h8v8h-8z"/><path fill="#100652" d="M269 60h8v8h-8z"/><path fill="#0f054d" d="M277 60h8v8h-8z"/><path fill="#0f054a" d="M285 60h8v8h-8z"/><path fill="#0e0447" d="M293 60h8v8h-8z"/><path fill="#0e0444" d="M301 60h8v8h-8z"/><path fill="#33109e" d="M29 68h8v8h-8z"/><path fill="#3a11a1" d="M37 68h8v8h-8z"/><path fill="#4113a3" d="M45 68h8v8h-8z"/><path fill="#4814a6" d="M53 68h8v8h-8z"/><path fill="#5115a5" d="M61 68h8v8h-8z"/><path fill="#5b16a4" d="M69 68h8v8h-8z"/><path fill="#6417a3" d="M77 68h8v8h-8z"/><path fill="#6c18a3" d="M85 68h8v8h-8z"/><path fill="#7219a2" d="M93 68h8v8h-8z"/><path fill="#771aa2" d="M101 68h8v8h-8z"/><path fill="#7b1aa1" d="M109 68h8v8h-8z"/><path fill="#7d1aa1" d="M117 68h8v8h-8z"/><path fill="#7d1aa1" d="M125 68h8v8h-8z"/><path fill="#7c1aa1" d="M133 68h8v8h-8z"/><path fill="#791aa2" d="M141 68h8v8h-8z"/><path fill="#7319a2" d="M149 68h8v8h-8z"/><path fill="#6c18a3" d="M157 68h8v8h-8z"/><path fill="#6317a4" d="M165 68h8v8h-8z"/><path fill="#5916a4" d="M173 68h8v8h-8z"/><path fill="#4e15a5" d="M181 68h8v8h-8z"/><path fill="#4513a5" d="M189 68h8v8h-8z"/><path fill="#3d12a2" d="M197 68h8v8h-8z"/><path fill="#35109e" d="M205 68h8v8h-8z"/><path fill="#2c0e9b" d="M213 68h8v8h-8z"/><path fill="#230d97" d="M221 68h8v8h-8z"/><path fill="#1e0b8d" d="M229 68h8v8h-8z"/><path fill="#1b0a82" d="M237 68h8v8h-8z"/><path fill="#190977" d="M245 68h8v8h-8z"/><path fill="#16086b" d="M253 68h8v8h-8z"/><path fill="#140761" d="M261 68h8v8h-8z"/><path fill="#110758" d="M269 68h8v8h-8z"/><path fill="#100650" d="M277 68h8v8h-8z"/><path fill="#0f054c" d="M285 68h8v8h-8z"/><path fill="#0e0449" d="M293 68h8v8h-8z"/><path fill="#0e0446" d="M301 68h8v8h-8z"/><path fill="#3e12a2" d="M29 76h8v8h-8z"/><path fill="#4614a5" d="M37 76h8v8h-8z"/><path fill="#5015a5" d="M45 76h8v8h-8z"/><path fill="#5d17a4" d="M53 76h8v8h-8z"/><path fill="#6918a3" d="M61 76h8v8h-8z"/><path fill="#7319a2" d="M69 76h8v8h-8z"/><path fill="#7d1aa1" d="M77 76h8v8h-8z"/><path fill="#861ba0" d="M85 76h8v8h-8z"/><path fill="#8d1c9f" d="M93 76h8v8h-8z"/><path fill="#911c9e" d="M101 76h8v8h-8z"/><path fill="#941d9d" d="M109 76h8v8h-8z"/><path fill="#961d9c" d="M117 76h8v8h-8z"/><path fill="#971d9c" d="M125 76h8v8h-8z"/><path fill="#961d9c" d="M133 76h8v8h-8z"/><path fill="#931d9d" d="M141 76h8v8h-8z"/><path fill="#8e1c9f" d="M149 76h8v8h-8z"/><path fill="#871ca0" d="M157 76h8v8h-8z"/><path fill="#7c1aa1" d="M165 76h8v8h-8z"/><path fill="#7119a2" d="M173 76h8v8h-8z"/><path fill="#6517a3" d="M181 76h8v8h-8z"/><path fill="#5616a5" d="M189 76h8v8h-8z"/><path fill="#4914a6" d="M197 76h8v8h-8z"/><path fill="#4012a3" d="M205 76h8v8h-8z"/><path fill="#37119f" d="M213 76h8v8h-8z"/><path fill="#2d0f9b" d="M221 76h8v8h-8z"/><path fill="#230d97" d="M229 76h8v8h-8z"/><path fill="#1e0b8c" d="M237 76h8v8h-8z"/><path fill="#1b0a80" d="M245 76h8v8h-8z"/><path fill="#180975" d="M253 76h8v8h-8z"/><path fill="#150868" d="M261 76h8v8h-8z"/><path fill="#13075e" d="M269 76h8v8h-8z"/><path fill="#110655" d="M277 76h8v8h-8z"/><path fill="#0f054f" d="M285 76h8v8h-8z"/><path fill="#0f054b" d="M293 76h8v8h-8z"/><path fill="#0e0448" d="M301 76h8v8h-8z"/><path fill="#4914a6" d="M29 84h8v8h-8z"/><path fill="#5716a5" d="M37 84h8v8h-8z"/><path fill="#6518a3" d="M45 84h8v8h-8z"/><path fill="#7319a2" d="M53 84h8v8h-8z"/><path fill="#801ba1" d="M61 84h8v8h-8z"/><path fill="#8c1c9f" d="M69 84h8v8h-8z"/><path fill="#951d9c" d="M77 84h8v8h-8z"/><path fill="#9c1d9a" d="M85 84h8v8h-8z"/><path fill="#a31e98" d="M93 84h8v8h-8z"/><path fill="#a91e96" d="M101 84h8v8h-8z"/><path fill="#af1e94" d="M109 84h8v8h-8z"/><path fill="#b21f93" d="M117 84h8v8h-8z"/><path fill="#b31f92" d="M125 84h8v8h-8z"/><path fill="#b11f93" d="M133 84h8v8h-8z"/><path fill="#ac1e95" d="M141 84h8v8h-8z"/><path fill="#a41e97" d="M149 84h8v8h-8z"/><path fill="#9d1d9a" d="M157 84h8v8h-8z"/><path fill="#941d9d" d="M165 84h8v8h-8z"/><path fill="#8a1ca0" d="M173 84h8v8h-8z"/><path fill="#7b1aa1" d="M181 84h8v8h-8z"/><path fill="#6c18a3" d="M189 84h8v8h-8z"/><path fill="#5c16a4" d="M197 84h8v8h-8z"/><path fill="#4c14a6" d="M205 84h8v8h-8z"/><path fill="#4113a3" d="M213 84h8v8h-8z"/><path fill="#37119f" d="M221 84h8v8h-8z"/><path fill="#2c0e9b" d="M229 84h8v8h-8z"/><path fill="#220c97" d="M237 84h8v8h-8z"/><path fill="#1d0b8a" d="M245 84h8v8h-8z"/><path fill="#1a0a7d" d="M253 84h8v8h-8z"/><path fill="#170971" d="M261 84h8v8h-8z"/><path fill="#140865" d="M269 84h8v8h-8z"/><path fill="#12075b" d="M277 84h8v8h-8z"/><path fill="#100652" d="M285 84h8v8h-8z"/><path fill="#0f054d" d="M293 84h8v8h-8z"/><path fill="#0f054a" d="M301 84h8v8h-8z"/><path fill="#5a16a4" d="M29 92h8v8h-8z"/><path fill="#6a18a3" d="M37 92h8v8h-8z"/><path fill="#7a1aa1" d="M45 92h8v8h-8z"/><path fill="#891ca0" d="M53 92h8v8h-8z"/><path fill="#951d9c" d="M61 92h8v8h-8z"/><path fill="#9f1d99" d="M69 92h8v8h-8z"/><path fill="#ac1e95" d="M77 92h8v8h-8z"/><path fill="#b81f91" d="M85 92h8v8h-8z"/><path fill="#c2208d" d="M93 92h8v8h-8z"/><path fill="#c82189" d="M101 92h8v8h-8z"/><path fill="#ca2386" d="M109 92h8v8h-8z"/><path fill="#cb2483" d="M117 92h8v8h-8z"/><path fill="#cc2483" d="M125 92h8v8h-8z"/><path fill="#cb2484" d="M133 92h8v8h-8z"/><path fill="#c92288" d="M141 92h8v8h-8z"/><path fill="#c5208c" d="M149 92h8v8h-8z"/><path fill="#b91f90" d="M157 92h8v8h-8z"/><path fill="#ab1e95" d="M165 92h8v8h-8z"/><path fill="#9d1d9a" d="M173 92h8v8h-8z"/><path fill="#911c9e" d="M181 92h8v8h-8z"/><path fill="#821ba1" d="M189 92h8v8h-8z"/><path fill="#7019a2" d="M197 92h8v8h-8z"/><path fill="#5e17a4" d="M205 92h8v8h-8z"/><path fill="#4c14a6" d="M213 92h8v8h-8z"/><path fill="#4012a3" d="M221 92h8v8h-8z"/><path fill="#35109e" d="M229 92h8v8h-8z"/><path fill="#2a0e9a" d="M237 92h8v8h-8z"/><path fill="#200c94" d="M245 92h8v8h-8z"/><path fill="#1c0b86" d="M253 92h8v8h-8z"/><path fill="#190979" d="M261 92h8v8h-8z"/><path fill="#16086c" d="M269 92h8v8h-8z"/><path fill="#130760" d="M277 92h8v8h-8z"/><path fill="#110656" d="M285 92h8v8h-8z"/><path fill="#10064f" d="M293 92h8v8h-8z"/><path fill="#0f054b" d="M301 92h8v8h-8z"/><path fill="#6c18a3" d="M29 100h8v8h-8z"/><path fill="#7d1aa1" d="M37 100h8v8h-8z"/><path fill="#8e1c9f" d="M45 100h8v8h-8z"/><path fill="#9b1d9a" d="M53 100h8v8h-8z"/><path fill="#a91e96" d="M61 100h8v8h-8z"/><path fill="#ba1f90" d="M69 100h8v8h-8z"/><path fill="#c7218a" d="M77 100h8v8h-8z"/><path fill="#cd2581" d="M85 100h8v8h-8z"/><path fill="#d12979" d="M93 100h8v8h-8z"/><path fill="#d52b73" d="M101 100h8v8h-8z"/><path fill="#d82e6e" d="M109 100h8v8h-8z"/><path fill="#da2f6b" d="M117 100h8v8h-8z"/><path fill="#da2f6b" d="M125 100h8v8h-8z"/><path fill="#d92e6c" d="M133 100h8v8h-8z"/><path fill="#d62c71" d="M141 100h8v8h-8z"/><path fill="#d22977" d="M149 100h8v8h-8z"/><path fill="#cd2580" d="M157 100h8v8h-8z"/><path fill="#c7218b" d="M165 100h8v8h-8z"/><path fill="#b71f91" d="M173 100h8v8h-8z"/><path fill="#a31e98" d="M181 100h8v8h-8z"/><path fill="#951d9c" d="M189 100h8v8h-8z"/><path fill="#841ba1" d="M197 100h8v8h-8z"/><path fill="#7019a2" d="M205 100h8v8h-8z"/><path fill="#5c16a4" d="M213 100h8v8h-8z"/><path fill="#4914a6" d="M221 100h8v8h-8z"/><path fill="#3d12a2" d="M229 100h8v8h-8z"/><path fill="#32109d" d="M237 100h8v8h-8z"/><path fill="#260d98" d="M245 100h8v8h-8z"/><path fill="#1e0b8e" d="M253 100h8v8h-8z"/><path fill="#1b0a80" d="M261 100h8v8h-8z"/><path fill="#180973" d="M269 100h8v8h-8z"/><path fill="#150865" d="M277 100h8v8h-8z"/><path fill="#12075b" d="M285 100h8v8h-8z"/><path fill="#100651" d="M293 100h8v8h-8z"/><path fill="#0f054d" d="M301 100h8v8h-8z"/><path fill="#7d1aa1" d="M29 108h8v8h-8z"/><path fill="#8f1c9e" d="M37 108h8v8h-8z"/><path fill="#9d1d9a" d="M45 108h8v8h-8z"/><path fill="#af1e94" d="M53 108h8v8h-8z"/><path fill="#c3208d" d="M61 108h8v8h-8z"/><path fill="#cc2482" d="M69 108h8v8h-8z"/><path fill="#d32a76" d="M77 108h8v8h-8z"/><path fill="#d92e6c" d="M85 108h8v8h-8z"/><path fill="#df3362" d="M93 108h8v8h-8z"/><path fill="#e2395b" d="M101 108h8v8h-8z"/><path fill="#e53e56" d="M109 108h8v8h-8z"/><path fill="#e74053" d="M117 108h8v8h-8z"/><path fill="#e74152" d="M125 108h8v8h-8z"/><path fill="#e63f54" d="M133 108h8v8h-8z"/><path fill="#e43b59" d="M141 108h8v8h-8z"/><path fill="#e03561" d="M149 108h8v8h-8z"/><path fill="#da2f6b" d="M157 108h8v8h-8z"/><path fill="#d32977" d="M165 108h8v8h-8z"/><path fill="#ca2385" d="M173 108h8v8h-8z"/><path fill="#bc1f8f" d="M181 108h8v8h-8z"/><path fill="#a51e97" d="M189 108h8v8h-8z"/><path fill="#941d9d" d="M197 108h8v8h-8z"/><path fill="#811ba1" d="M205 108h8v8h-8z"/><path fill="#6c18a3" d="M213 108h8v8h-8z"/><path fill="#5616a5" d="M221 108h8v8h-8z"/><path fill="#4513a5" d="M229 108h8v8h-8z"/><path fill="#3911a0" d="M237 108h8v8h-8z"/><path fill="#2d0f9b" d="M245 108h8v8h-8z"/><path fill="#210c96" d="M253 108h8v8h-8z"/><path fill="#1c0b87" d="M261 108h8v8h-8z"/><path fill="#190979" d="M269 108h8v8h-8z"/><path fill="#16086b" d="M277 108h8v8h-8z"/><path fill="#130760" d="M285 108h8v8h-8z"/><path fill="#110655" d="M293 108h8v8h-8z"/><path fill="#0f054e" d="M301 108h8v8h-8z"/></g>
</g>
<g clip-path="url(#cA3)">
<g filter="url(#bl4)"><path fill="#821ba1" d="M29 90h8v8h-8z"/><path fill="#901c9e" d="M37 90h8v8h-8z"/><path fill="#9c1d9a" d="M45 90h8v8h-8z"/><path fill="#a71e96" d="M53 90h8v8h-8z"/><path fill="#b31f92" d="M61 90h8v8h-8z"/><path fill="#bd1f8f" d="M69 90h8v8h-8z"/><path fill="#c6208c" d="M77 90h8v8h-8z"/><path fill="#ca2385" d="M85 90h8v8h-8z"/><path fill="#ce267f" d="M93 90h8v8h-8z"/><path fill="#d1287a" d="M101 90h8v8h-8z"/><path fill="#d32a77" d="M109 90h8v8h-8z"/><path fill="#d42a75" d="M117 90h8v8h-8z"/><path fill="#d42b74" d="M125 90h8v8h-8z"/><path fill="#d32a76" d="M133 90h8v8h-8z"/><path fill="#d22979" d="M141 90h8v8h-8z"/><path fill="#cf267e" d="M149 90h8v8h-8z"/><path fill="#cb2384" d="M157 90h8v8h-8z"/><path fill="#c6208c" d="M165 90h8v8h-8z"/><path fill="#bb1f90" d="M173 90h8v8h-8z"/><path fill="#af1e94" d="M181 90h8v8h-8z"/><path fill="#a21e98" d="M189 90h8v8h-8z"/><path fill="#941d9d" d="M197 90h8v8h-8z"/><path fill="#851ba0" d="M205 90h8v8h-8z"/><path fill="#7419a2" d="M213 90h8v8h-8z"/><path fill="#6317a4" d="M221 90h8v8h-8z"/><path fill="#5115a5" d="M229 90h8v8h-8z"/><path fill="#4313a4" d="M237 90h8v8h-8z"/><path fill="#38119f" d="M245 90h8v8h-8z"/><path fill="#2e0f9c" d="M253 90h8v8h-8z"/><path fill="#250d98" d="M261 90h8v8h-8z"/><path fill="#1f0c91" d="M269 90h8v8h-8z"/><path fill="#1c0b86" d="M277 90h8v8h-8z"/><path fill="#1a0a7c" d="M285 90h8v8h-8z"/><path fill="#180972" d="M293 90h8v8h-8z"/><path fill="#16086a" d="M301 90h8v8h-8z"/><path fill="#921d9d" d="M29 98h8v8h-8z"/><path fill="#9f1d99" d="M37 98h8v8h-8z"/><path fill="#ac1e95" d="M45 98h8v8h-8z"/><path fill="#b91f90" d="M53 98h8v8h-8z"/><path fill="#c5208c" d="M61 98h8v8h-8z"/><path fill="#cb2483" d="M69 98h8v8h-8z"/><path fill="#d1287a" d="M77 98h8v8h-8z"/><path fill="#d52c72" d="M85 98h8v8h-8z"/><path fill="#da2f6b" d="M93 98h8v8h-8z"/><path fill="#de3264" d="M101 98h8v8h-8z"/><path fill="#e03560" d="M109 98h8v8h-8z"/><path fill="#e1375e" d="M117 98h8v8h-8z"/><path fill="#e1385d" d="M125 98h8v8h-8z"/><path fill="#e1365f" d="M133 98h8v8h-8z"/><path fill="#df3363" d="M141 98h8v8h-8z"/><path fill="#db3069" d="M149 98h8v8h-8z"/><path fill="#d62c72" d="M157 98h8v8h-8z"/><path fill="#d0287b" d="M165 98h8v8h-8z"/><path fill="#ca2385" d="M173 98h8v8h-8z"/><path fill="#c1208e" d="M181 98h8v8h-8z"/><path fill="#b31f92" d="M189 98h8v8h-8z"/><path fill="#a31e98" d="M197 98h8v8h-8z"/><path fill="#951d9c" d="M205 98h8v8h-8z"/><path fill="#841ba1" d="M213 98h8v8h-8z"/><path fill="#7119a2" d="M221 98h8v8h-8z"/><path fill="#5f17a4" d="M229 98h8v8h-8z"/><path fill="#4c15a6" d="M237 98h8v8h-8z"/><path fill="#3f12a2" d="M245 98h8v8h-8z"/><path fill="#33109e" d="M253 98h8v8h-8z"/><path fill="#2a0e9a" d="M261 98h8v8h-8z"/><path fill="#210c97" d="M269 98h8v8h-8z"/><path fill="#1d0b8b" d="M277 98h8v8h-8z"/><path fill="#1b0a81" d="M285 98h8v8h-8z"/><path fill="#190977" d="M293 98h8v8h-8z"/><path fill="#16086d" d="M301 98h8v8h-8z"/><path fill="#9f1d99" d="M29 106h8v8h-8z"/><path fill="#ad1e94" d="M37 106h8v8h-8z"/><path fill="#bc1f8f" d="M45 106h8v8h-8z"/><path fill="#c82189" d="M53 106h8v8h-8z"/><path fill="#cf277d" d="M61 106h8v8h-8z"/><path fill="#d52b73" d="M69 106h8v8h-8z"/><path fill="#dc3167" d="M77 106h8v8h-8z"/><path fill="#e1375e" d="M85 106h8v8h-8z"/><path fill="#e53e56" d="M93 106h8v8h-8z"/><path fill="#e9444f" d="M101 106h8v8h-8z"/><path fill="#eb484a" d="M109 106h8v8h-8z"/><path fill="#ed4a47" d="M117 106h8v8h-8z"/><path fill="#ed4b46" d="M125 106h8v8h-8z"/><path fill="#ec4948" d="M133 106h8v8h-8z"/><path fill="#ea454d" d="M141 106h8v8h-8z"/><path fill="#e63f54" d="M149 106h8v8h-8z"/><path fill="#e1385d" d="M157 106h8v8h-8z"/><path fill="#dc3068" d="M165 106h8v8h-8z"/><path fill="#d42a75" d="M173 106h8v8h-8z"/><path fill="#cc2581" d="M181 106h8v8h-8z"/><path fill="#c3208d" d="M189 106h8v8h-8z"/><path fill="#b31f92" d="M197 106h8v8h-8z"/><path fill="#a21e98" d="M205 106h8v8h-8z"/><path fill="#921d9d" d="M213 106h8v8h-8z"/><path fill="#7f1ba1" d="M221 106h8v8h-8z"/><path fill="#6c18a3" d="M229 106h8v8h-8z"/><path fill="#5816a5" d="M237 106h8v8h-8z"/><path fill="#4614a5" d="M245 106h8v8h-8z"/><path fill="#3a11a0" d="M253 106h8v8h-8z"/><path fill="#2f0f9c" d="M261 106h8v8h-8z"/><path fill="#260d98" d="M269 106h8v8h-8z"/><path fill="#1f0c91" d="M277 106h8v8h-8z"/><path fill="#1c0b85" d="M285 106h8v8h-8z"/><path fill="#1a0a7b" d="M293 106h8v8h-8z"/><path fill="#170971" d="M301 106h8v8h-8z"/><path fill="#ac1e95" d="M29 114h8v8h-8z"/><path fill="#bb1f90" d="M37 114h8v8h-8z"/><path fill="#c82288" d="M45 114h8v8h-8z"/><path fill="#d0287b" d="M53 114h8v8h-8z"/><path fill="#d82d6e" d="M61 114h8v8h-8z"/><path fill="#e03561" d="M69 114h8v8h-8z"/><path fill="#e53e55" d="M77 114h8v8h-8z"/><path fill="#eb484a" d="M85 114h8v8h-8z"/><path fill="#f05040" d="M93 114h8v8h-8z"/><path fill="#f2563b" d="M101 114h8v8h-8z"/><path fill="#f35a37" d="M109 114h8v8h-8z"/><path fill="#f45c35" d="M117 114h8v8h-8z"/><path fill="#f45d35" d="M125 114h8v8h-8z"/><path fill="#f45b36" d="M133 114h8v8h-8z"/><path fill="#f25839" d="M141 114h8v8h-8z"/><path fill="#f1523f" d="M149 114h8v8h-8z"/><path fill="#ec4949" d="M157 114h8v8h-8z"/><path fill="#e53e56" d="M165 114h8v8h-8z"/><path fill="#de3363" d="M173 114h8v8h-8z"/><path fill="#d52b73" d="M181 114h8v8h-8z"/><path fill="#cc2581" d="M189 114h8v8h-8z"/><path fill="#c1208e" d="M197 114h8v8h-8z"/><path fill="#af1e94" d="M205 114h8v8h-8z"/><path fill="#9d1d9a" d="M213 114h8v8h-8z"/><path fill="#8c1c9f" d="M221 114h8v8h-8z"/><path fill="#771aa2" d="M229 114h8v8h-8z"/><path fill="#6317a4" d="M237 114h8v8h-8z"/><path fill="#4f15a5" d="M245 114h8v8h-8z"/><path fill="#4012a3" d="M253 114h8v8h-8z"/><path fill="#33109e" d="M261 114h8v8h-8z"/><path fill="#2a0e9a" d="M269 114h8v8h-8z"/><path fill="#200c96" d="M277 114h8v8h-8z"/><path fill="#1d0b89" d="M285 114h8v8h-8z"/><path fill="#1b0a7f" d="M293 114h8v8h-8z"/><path fill="#180974" d="M301 114h8v8h-8z"/><path fill="#b71f91" d="M29 122h8v8h-8z"/><path fill="#c7218a" d="M37 122h8v8h-8z"/><path fill="#cf277c" d="M45 122h8v8h-8z"/><path fill="#d82e6e" d="M53 122h8v8h-8z"/><path fill="#e1375f" d="M61 122h8v8h-8z"/><path fill="#e84251" d="M69 122h8v8h-8z"/><path fill="#ef4e43" d="M77 122h8v8h-8z"/><path fill="#f25839" d="M85 122h8v8h-8z"/><path fill="#f55f33" d="M93 122h8v8h-8z"/><path fill="#f45e33" d="M101 122h8v8h-8z"/><path fill="#f45d35" d="M109 122h8v8h-8z"/><path fill="#f45c36" d="M117 122h8v8h-8z"/><path fill="#f45c36" d="M125 122h8v8h-8z"/><path fill="#f45c35" d="M133 122h8v8h-8z"/><path fill="#f45e34" d="M141 122h8v8h-8z"/><path fill="#f56032" d="M149 122h8v8h-8z"/><path fill="#f35839" d="M157 122h8v8h-8z"/><path fill="#ee4d43" d="M165 122h8v8h-8z"/><path fill="#e64054" d="M173 122h8v8h-8z"/><path fill="#de3263" d="M181 122h8v8h-8z"/><path fill="#d42a75" d="M189 122h8v8h-8z"/><path fill="#ca2385" d="M197 122h8v8h-8z"/><path fill="#bb1f90" d="M205 122h8v8h-8z"/><path fill="#a81e96" d="M213 122h8v8h-8z"/><path fill="#961d9c" d="M221 122h8v8h-8z"/><path fill="#811ba1" d="M229 122h8v8h-8z"/><path fill="#6c18a3" d="M237 122h8v8h-8z"/><path fill="#5816a5" d="M245 122h8v8h-8z"/><path fill="#4513a5" d="M253 122h8v8h-8z"/><path fill="#3811a0" d="M261 122h8v8h-8z"/><path fill="#2d0f9b" d="M269 122h8v8h-8z"/><path fill="#240d97" d="M277 122h8v8h-8z"/><path fill="#1e0b8d" d="M285 122h8v8h-8z"/><path fill="#1b0a82" d="M293 122h8v8h-8z"/><path fill="#190977" d="M301 122h8v8h-8z"/><path fill="#c2208d" d="M29 130h8v8h-8z"/><path fill="#cd2581" d="M37 130h8v8h-8z"/><path fill="#d62c72" d="M45 130h8v8h-8z"/><path fill="#e03561" d="M53 130h8v8h-8z"/><path fill="#e74251" d="M61 130h8v8h-8z"/><path fill="#f04f41" d="M69 130h8v8h-8z"/><path fill="#f35b37" d="M77 130h8v8h-8z"/><path fill="#f55f33" d="M85 130h8v8h-8z"/><path fill="#f45c36" d="M93 130h8v8h-8z"/><path fill="#f45b36" d="M101 130h8v8h-8z"/><path fill="#f35b37" d="M109 130h8v8h-8z"/><path fill="#f35b37" d="M117 130h8v8h-8z"/><path fill="#f35a37" d="M125 130h8v8h-8z"/><path fill="#f35b37" d="M133 130h8v8h-8z"/><path fill="#f35b36" d="M141 130h8v8h-8z"/><path fill="#f45c36" d="M149 130h8v8h-8z"/><path fill="#f55e33" d="M157 130h8v8h-8z"/><path fill="#f35a37" d="M165 130h8v8h-8z"/><path fill="#ee4d44" d="M173 130h8v8h-8z"/><path fill="#e53d57" d="M181 130h8v8h-8z"/><path fill="#db3069" d="M189 130h8v8h-8z"/><path fill="#d0287b" d="M197 130h8v8h-8z"/><path fill="#c5208c" d="M205 130h8v8h-8z"/><path fill="#b21f93" d="M213 130h8v8h-8z"/><path fill="#9e1d99" d="M221 130h8v8h-8z"/><path fill="#8b1ca0" d="M229 130h8v8h-8z"/><path fill="#7419a2" d="M237 130h8v8h-8z"/><path fill="#5f17a4" d="M245 130h8v8h-8z"/><path fill="#4a14a6" d="M253 130h8v8h-8z"/><path fill="#3c12a1" d="M261 130h8v8h-8z"/><path fill="#300f9c" d="M269 130h8v8h-8z"/><path fill="#260d99" d="M277 130h8v8h-8z"/><path fill="#1f0c91" d="M285 130h8v8h-8z"/><path fill="#1c0a85" d="M293 130h8v8h-8z"/><path fill="#190a7a" d="M301 130h8v8h-8z"/><path fill="#c82288" d="M29 138h8v8h-8z"/><path fill="#d22979" d="M37 138h8v8h-8z"/><path fill="#dc3067" d="M45 138h8v8h-8z"/><path fill="#e53d57" d="M53 138h8v8h-8z"/><path fill="#ee4c45" d="M61 138h8v8h-8z"/><path fill="#f35a38" d="M69 138h8v8h-8z"/><path fill="#f55e33" d="M77 138h8v8h-8z"/><path fill="#f45c36" d="M85 138h8v8h-8z"/><path fill="#f35b37" d="M93 138h8v8h-8z"/><path fill="#f35a37" d="M101 138h8v8h-8z"/><path fill="#f35938" d="M109 138h8v8h-8z"/><path fill="#f35938" d="M117 138h8v8h-8z"/><path fill="#f35938" d="M125 138h8v8h-8z"/><path fill="#f35938" d="M133 138h8v8h-8z"/><path fill="#f35a37" d="M141 138h8v8h-8z"/><path fill="#f35b37" d="M149 138h8v8h-8z"/><path fill="#f45c36" d="M157 138h8v8h-8z"/><path fill="#f55f33" d="M165 138h8v8h-8z"/><path fill="#f2573a" d="M173 138h8v8h-8z"/><path fill="#eb474b" d="M181 138h8v8h-8z"/><path fill="#e1375f" d="M189 138h8v8h-8z"/><path fill="#d52b73" d="M197 138h8v8h-8z"/><path fill="#ca2385" d="M205 138h8v8h-8z"/><path fill="#b91f90" d="M213 138h8v8h-8z"/><path fill="#a51e97" d="M221 138h8v8h-8z"/><path fill="#911c9e" d="M229 138h8v8h-8z"/><path fill="#7b1aa1" d="M237 138h8v8h-8z"/><path fill="#6518a3" d="M245 138h8v8h-8z"/><path fill="#5015a5" d="M253 138h8v8h-8z"/><path fill="#3f12a3" d="M261 138h8v8h-8z"/><path fill="#33109d" d="M269 138h8v8h-8z"/><path fill="#290e99" d="M277 138h8v8h-8z"/><path fill="#200c94" d="M285 138h8v8h-8z"/><path fill="#1c0b87" d="M293 138h8v8h-8z"/><path fill="#1a0a7c" d="M301 138h8v8h-8z"/><path fill="#cc2483" d="M29 146h8v8h-8z"/><path fill="#d52b73" d="M37 146h8v8h-8z"/><path fill="#e03660" d="M45 146h8v8h-8z"/><path fill="#e9454e" d="M53 146h8v8h-8z"/><path fill="#f1543c" d="M61 146h8v8h-8z"/><path fill="#f56032" d="M69 146h8v8h-8z"/><path fill="#f45c36" d="M77 146h8v8h-8z"/><path fill="#f35b37" d="M85 146h8v8h-8z"/><path fill="#f35a37" d="M93 146h8v8h-8z"/><path fill="#f35938" d="M101 146h8v8h-8z"/><path fill="#f35839" d="M109 146h8v8h-8z"/><path fill="#f25839" d="M117 146h8v8h-8z"/><path fill="#f25839" d="M125 146h8v8h-8z"/><path fill="#f25839" d="M133 146h8v8h-8z"/><path fill="#f35938" d="M141 146h8v8h-8z"/><path fill="#f35a38" d="M149 146h8v8h-8z"/><path fill="#f35b37" d="M157 146h8v8h-8z"/><path fill="#f45c36" d="M165 146h8v8h-8z"/><path fill="#f45e33" d="M173 146h8v8h-8z"/><path fill="#ef4f41" d="M181 146h8v8h-8z"/><path fill="#e53d57" d="M189 146h8v8h-8z"/><path fill="#da2f6b" d="M197 146h8v8h-8z"/><path fill="#ce267f" d="M205 146h8v8h-8z"/><path fill="#c0208e" d="M213 146h8v8h-8z"/><path fill="#aa1e95" d="M221 146h8v8h-8z"/><path fill="#961d9c" d="M229 146h8v8h-8z"/><path fill="#801ba1" d="M237 146h8v8h-8z"/><path fill="#6a18a3" d="M245 146h8v8h-8z"/><path fill="#5415a5" d="M253 146h8v8h-8z"/><path fill="#4213a4" d="M261 146h8v8h-8z"/><path fill="#34109e" d="M269 146h8v8h-8z"/><path fill="#2a0e9a" d="M277 146h8v8h-8z"/><path fill="#200c96" d="M285 146h8v8h-8z"/><path fill="#1d0b89" d="M293 146h8v8h-8z"/><path fill="#1a0a7e" d="M301 146h8v8h-8z"/><path fill="#ce267f" d="M29 154h8v8h-8z"/><path fill="#d82e6d" d="M37 154h8v8h-8z"/><path fill="#e33a5b" d="M45 154h8v8h-8z"/><path fill="#ec4a48" d="M53 154h8v8h-8z"/><path fill="#f35938" d="M61 154h8v8h-8z"/><path fill="#f45e34" d="M69 154h8v8h-8z"/><path fill="#f45b36" d="M77 154h8v8h-8z"/><path fill="#f35a37" d="M85 154h8v8h-8z"/><path fill="#f35938" d="M93 154h8v8h-8z"/><path fill="#f35839" d="M101 154h8v8h-8z"/><path fill="#f2573a" d="M109 154h8v8h-8z"/><path fill="#f2563a" d="M117 154h8v8h-8z"/><path fill="#f2563b" d="M125 154h8v8h-8z"/><path fill="#f2573a" d="M133 154h8v8h-8z"/><path fill="#f25839" d="M141 154h8v8h-8z"/><path fill="#f35938" d="M149 154h8v8h-8z"/><path fill="#f35a37" d="M157 154h8v8h-8z"/><path fill="#f45b36" d="M165 154h8v8h-8z"/><path fill="#f55f33" d="M173 154h8v8h-8z"/><path fill="#f1543c" d="M181 154h8v8h-8z"/><path fill="#e74251" d="M189 154h8v8h-8z"/><path fill="#dd3166" d="M197 154h8v8h-8z"/><path fill="#d0287b" d="M205 154h8v8h-8z"/><path fill="#c4208d" d="M213 154h8v8h-8z"/><path fill="#ae1e94" d="M221 154h8v8h-8z"/><path fill="#991d9b" d="M229 154h8v8h-8z"/><path fill="#841ba1" d="M237 154h8v8h-8z"/><path fill="#6d18a3" d="M245 154h8v8h-8z"/><path fill="#5716a5" d="M253 154h8v8h-8z"/><path fill="#4413a4" d="M261 154h8v8h-8z"/><path fill="#36109f" d="M269 154h8v8h-8z"/><path fill="#2b0e9b" d="M277 154h8v8h-8z"/><path fill="#210c97" d="M285 154h8v8h-8z"/><path fill="#1d0b8a" d="M293 154h8v8h-8z"/><path fill="#1b0a7f" d="M301 154h8v8h-8z"/><path fill="#cf277d" d="M29 162h8v8h-8z"/><path fill="#da2f6b" d="M37 162h8v8h-8z"/><path fill="#e43c58" d="M45 162h8v8h-8z"/><path fill="#ee4c45" d="M53 162h8v8h-8z"/><path fill="#f45b36" d="M61 162h8v8h-8z"/><path fill="#f45d34" d="M69 162h8v8h-8z"/><path fill="#f35b36" d="M77 162h8v8h-8z"/><path fill="#f35a37" d="M85 162h8v8h-8z"/><path fill="#f35938" d="M93 162h8v8h-8z"/><path fill="#f25739" d="M101 162h8v8h-8z"/><path fill="#f2563a" d="M109 162h8v8h-8z"/><path fill="#f2553b" d="M117 162h8v8h-8z"/><path fill="#f1553c" d="M125 162h8v8h-8z"/><path fill="#f2563b" d="M133 162h8v8h-8z"/><path fill="#f2573a" d="M141 162h8v8h-8z"/><path fill="#f35839" d="M149 162h8v8h-8z"/><path fill="#f35a37" d="M157 162h8v8h-8z"/><path fill="#f35b36" d="M165 162h8v8h-8z"/><path fill="#f45e34" d="M173 162h8v8h-8z"/><path fill="#f2573a" d="M181 162h8v8h-8z"/><path fill="#e9444e" d="M189 162h8v8h-8z"/><path fill="#de3264" d="M197 162h8v8h-8z"/><path fill="#d12879" d="M205 162h8v8h-8z"/><path fill="#c6208c" d="M213 162h8v8h-8z"/><path fill="#b01f93" d="M221 162h8v8h-8z"/><path fill="#9b1d9a" d="M229 162h8v8h-8z"/><path fill="#861ca0" d="M237 162h8v8h-8z"/><path fill="#6f19a2" d="M245 162h8v8h-8z"/><path fill="#5816a5" d="M253 162h8v8h-8z"/><path fill="#4413a5" d="M261 162h8v8h-8z"/><path fill="#37119f" d="M269 162h8v8h-8z"/><path fill="#2c0e9b" d="M277 162h8v8h-8z"/><path fill="#220c97" d="M285 162h8v8h-8z"/><path fill="#1d0b8a" d="M293 162h8v8h-8z"/><path fill="#1b0a7f" d="M301 162h8v8h-8z"/><path fill="#cf277d" d="M29 170h8v8h-8z"/><path fill="#da2f6b" d="M37 170h8v8h-8z"/><path fill="#e43c58" d="M45 170h8v8h-8z"/><path fill="#ee4c45" d="M53 170h8v8h-8z"/><path fill="#f35b36" d="M61 170h8v8h-8z"/><path fill="#f45d34" d="M69 170h8v8h-8z"/><path fill="#f35b36" d="M77 170h8v8h-8z"/><path fill="#f35a37" d="M85 170h8v8h-8z"/><path fill="#f35938" d="M93 170h8v8h-8z"/><path fill="#f25839" d="M101 170h8v8h-8z"/><path fill="#f2563a" d="M109 170h8v8h-8z"/><path fill="#f2553b" d="M117 170h8v8h-8z"/><path fill="#f2553c" d="M125 170h8v8h-8z"/><path fill="#f2563b" d="M133 170h8v8h-8z"/><path fill="#f2573a" d="M141 170h8v8h-8z"/><path fill="#f35839" d="M149 170h8v8h-8z"/><path fill="#f35a37" d="M157 170h8v8h-8z"/><path fill="#f35b36" d="M165 170h8v8h-8z"/><path fill="#f45e34" d="M173 170h8v8h-8z"/><path fill="#f2563a" d="M181 170h8v8h-8z"/><path fill="#e9444f" d="M189 170h8v8h-8z"/><path fill="#de3264" d="M197 170h8v8h-8z"/><path fill="#d12879" d="M205 170h8v8h-8z"/><path fill="#c6208c" d="M213 170h8v8h-8z"/><path fill="#b01f93" d="M221 170h8v8h-8z"/><path fill="#9b1d9a" d="M229 170h8v8h-8z"/><path fill="#861ba0" d="M237 170h8v8h-8z"/><path fill="#6f19a2" d="M245 170h8v8h-8z"/><path fill="#5816a5" d="M253 170h8v8h-8z"/><path fill="#4413a5" d="M261 170h8v8h-8z"/><path fill="#37119f" d="M269 170h8v8h-8z"/><path fill="#2c0e9b" d="M277 170h8v8h-8z"/><path fill="#220c97" d="M285 170h8v8h-8z"/><path fill="#1d0b8a" d="M293 170h8v8h-8z"/><path fill="#1b0a7f" d="M301 170h8v8h-8z"/><path fill="#ce267f" d="M29 178h8v8h-8z"/><path fill="#d82e6e" d="M37 178h8v8h-8z"/><path fill="#e2395b" d="M45 178h8v8h-8z"/><path fill="#ec4948" d="M53 178h8v8h-8z"/><path fill="#f35939" d="M61 178h8v8h-8z"/><path fill="#f45e34" d="M69 178h8v8h-8z"/><path fill="#f45b36" d="M77 178h8v8h-8z"/><path fill="#f35a37" d="M85 178h8v8h-8z"/><path fill="#f35938" d="M93 178h8v8h-8z"/><path fill="#f35839" d="M101 178h8v8h-8z"/><path fill="#f2573a" d="M109 178h8v8h-8z"/><path fill="#f2563a" d="M117 178h8v8h-8z"/><path fill="#f2563b" d="M125 178h8v8h-8z"/><path fill="#f2573a" d="M133 178h8v8h-8z"/><path fill="#f25839" d="M141 178h8v8h-8z"/><path fill="#f35938" d="M149 178h8v8h-8z"/><path fill="#f35a37" d="M157 178h8v8h-8z"/><path fill="#f45c36" d="M165 178h8v8h-8z"/><path fill="#f55f33" d="M173 178h8v8h-8z"/><path fill="#f1543c" d="M181 178h8v8h-8z"/><path fill="#e74152" d="M189 178h8v8h-8z"/><path fill="#dc3167" d="M197 178h8v8h-8z"/><path fill="#d0277c" d="M205 178h8v8h-8z"/><path fill="#c3208d" d="M213 178h8v8h-8z"/><path fill="#ae1e94" d="M221 178h8v8h-8z"/><path fill="#991d9b" d="M229 178h8v8h-8z"/><path fill="#841ba1" d="M237 178h8v8h-8z"/><path fill="#6d18a3" d="M245 178h8v8h-8z"/><path fill="#5716a5" d="M253 178h8v8h-8z"/><path fill="#4313a4" d="M261 178h8v8h-8z"/><path fill="#36109f" d="M269 178h8v8h-8z"/><path fill="#2b0e9b" d="M277 178h8v8h-8z"/><path fill="#210c96" d="M285 178h8v8h-8z"/><path fill="#1d0b8a" d="M293 178h8v8h-8z"/><path fill="#1b0a7f" d="M301 178h8v8h-8z"/><path fill="#cb2483" d="M29 186h8v8h-8z"/><path fill="#d52b73" d="M37 186h8v8h-8z"/><path fill="#e03561" d="M45 186h8v8h-8z"/><path fill="#e9444f" d="M53 186h8v8h-8z"/><path fill="#f1543d" d="M61 186h8v8h-8z"/><path fill="#f56032" d="M69 186h8v8h-8z"/><path fill="#f45c36" d="M77 186h8v8h-8z"/><path fill="#f35b36" d="M85 186h8v8h-8z"/><path fill="#f35a37" d="M93 186h8v8h-8z"/><path fill="#f35938" d="M101 186h8v8h-8z"/><path fill="#f35839" d="M109 186h8v8h-8z"/><path fill="#f25839" d="M117 186h8v8h-8z"/><path fill="#f25839" d="M125 186h8v8h-8z"/><path fill="#f35839" d="M133 186h8v8h-8z"/><path fill="#f35938" d="M141 186h8v8h-8z"/><path fill="#f35a37" d="M149 186h8v8h-8z"/><path fill="#f35b36" d="M157 186h8v8h-8z"/><path fill="#f45c35" d="M165 186h8v8h-8z"/><path fill="#f45e34" d="M173 186h8v8h-8z"/><path fill="#ef4e42" d="M181 186h8v8h-8z"/><path fill="#e43c58" d="M189 186h8v8h-8z"/><path fill="#d92e6c" d="M197 186h8v8h-8z"/><path fill="#cd2680" d="M205 186h8v8h-8z"/><path fill="#bf208e" d="M213 186h8v8h-8z"/><path fill="#aa1e95" d="M221 186h8v8h-8z"/><path fill="#961d9c" d="M229 186h8v8h-8z"/><path fill="#801ba1" d="M237 186h8v8h-8z"/><path fill="#6a18a3" d="M245 186h8v8h-8z"/><path fill="#5315a5" d="M253 186h8v8h-8z"/><path fill="#4213a3" d="M261 186h8v8h-8z"/><path fill="#34109e" d="M269 186h8v8h-8z"/><path fill="#2a0e9a" d="M277 186h8v8h-8z"/><path fill="#200c96" d="M285 186h8v8h-8z"/><path fill="#1d0b89" d="M293 186h8v8h-8z"/><path fill="#1a0a7e" d="M301 186h8v8h-8z"/><path fill="#c82189" d="M29 194h8v8h-8z"/><path fill="#d1287a" d="M37 194h8v8h-8z"/><path fill="#db3069" d="M45 194h8v8h-8z"/><path fill="#e43c58" d="M53 194h8v8h-8z"/><path fill="#ed4b46" d="M61 194h8v8h-8z"/><path fill="#f35839" d="M69 194h8v8h-8z"/><path fill="#f55f33" d="M77 194h8v8h-8z"/><path fill="#f45c36" d="M85 194h8v8h-8z"/><path fill="#f35b36" d="M93 194h8v8h-8z"/><path fill="#f35a37" d="M101 194h8v8h-8z"/><path fill="#f35a38" d="M109 194h8v8h-8z"/><path fill="#f35938" d="M117 194h8v8h-8z"/><path fill="#f35938" d="M125 194h8v8h-8z"/><path fill="#f35938" d="M133 194h8v8h-8z"/><path fill="#f35a37" d="M141 194h8v8h-8z"/><path fill="#f35b37" d="M149 194h8v8h-8z"/><path fill="#f45c36" d="M157 194h8v8h-8z"/><path fill="#f55f33" d="M165 194h8v8h-8z"/><path fill="#f2563b" d="M173 194h8v8h-8z"/><path fill="#ea464c" d="M181 194h8v8h-8z"/><path fill="#e03660" d="M189 194h8v8h-8z"/><path fill="#d42b74" d="M197 194h8v8h-8z"/><path fill="#ca2386" d="M205 194h8v8h-8z"/><path fill="#b91f90" d="M213 194h8v8h-8z"/><path fill="#a41e97" d="M221 194h8v8h-8z"/><path fill="#911c9e" d="M229 194h8v8h-8z"/><path fill="#7a1aa1" d="M237 194h8v8h-8z"/><path fill="#6517a3" d="M245 194h8v8h-8z"/><path fill="#4f15a5" d="M253 194h8v8h-8z"/><path fill="#3f12a2" d="M261 194h8v8h-8z"/><path fill="#32109d" d="M269 194h8v8h-8z"/><path fill="#280e99" d="M277 194h8v8h-8z"/><path fill="#1f0c94" d="M285 194h8v8h-8z"/><path fill="#1c0b87" d="M293 194h8v8h-8z"/><path fill="#1a0a7c" d="M301 194h8v8h-8z"/><path fill="#c0208e" d="M29 202h8v8h-8z"/><path fill="#cc2582" d="M37 202h8v8h-8z"/><path fill="#d52b73" d="M45 202h8v8h-8z"/><path fill="#df3462" d="M53 202h8v8h-8z"/><path fill="#e74053" d="M61 202h8v8h-8z"/><path fill="#ef4e43" d="M69 202h8v8h-8z"/><path fill="#f35938" d="M77 202h8v8h-8z"/><path fill="#f55f33" d="M85 202h8v8h-8z"/><path fill="#f45c35" d="M93 202h8v8h-8z"/><path fill="#f45b36" d="M101 202h8v8h-8z"/><path fill="#f35b36" d="M109 202h8v8h-8z"/><path fill="#f35b37" d="M117 202h8v8h-8z"/><path fill="#f35b37" d="M125 202h8v8h-8z"/><path fill="#f35b37" d="M133 202h8v8h-8z"/><path fill="#f45b36" d="M141 202h8v8h-8z"/><path fill="#f45c36" d="M149 202h8v8h-8z"/><path fill="#f55f33" d="M157 202h8v8h-8z"/><path fill="#f35938" d="M165 202h8v8h-8z"/><path fill="#ed4b46" d="M173 202h8v8h-8z"/><path fill="#e43c58" d="M181 202h8v8h-8z"/><path fill="#da2f6a" d="M189 202h8v8h-8z"/><path fill="#cf277c" d="M197 202h8v8h-8z"/><path fill="#c4208d" d="M205 202h8v8h-8z"/><path fill="#b01f93" d="M213 202h8v8h-8z"/><path fill="#9d1d9a" d="M221 202h8v8h-8z"/><path fill="#8a1ca0" d="M229 202h8v8h-8z"/><path fill="#7419a2" d="M237 202h8v8h-8z"/><path fill="#5e17a4" d="M245 202h8v8h-8z"/><path fill="#4914a6" d="M253 202h8v8h-8z"/><path fill="#3c12a1" d="M261 202h8v8h-8z"/><path fill="#300f9c" d="M269 202h8v8h-8z"/><path fill="#260d98" d="M277 202h8v8h-8z"/><path fill="#1f0c90" d="M285 202h8v8h-8z"/><path fill="#1c0a85" d="M293 202h8v8h-8z"/><path fill="#190a7a" d="M301 202h8v8h-8z"/><path fill="#b61f91" d="M29 210h8v8h-8z"/><path fill="#c6208c" d="M37 210h8v8h-8z"/><path fill="#cf267e" d="M45 210h8v8h-8z"/><path fill="#d72d70" d="M53 210h8v8h-8z"/><path fill="#e03560" d="M61 210h8v8h-8z"/><path fill="#e74053" d="M69 210h8v8h-8z"/><path fill="#ee4c45" d="M77 210h8v8h-8z"/><path fill="#f2563b" d="M85 210h8v8h-8z"/><path fill="#f45d34" d="M93 210h8v8h-8z"/><path fill="#f55f33" d="M101 210h8v8h-8z"/><path fill="#f45d34" d="M109 210h8v8h-8z"/><path fill="#f45d35" d="M117 210h8v8h-8z"/><path fill="#f45c35" d="M125 210h8v8h-8z"/><path fill="#f45d35" d="M133 210h8v8h-8z"/><path fill="#f45e33" d="M141 210h8v8h-8z"/><path fill="#f55f33" d="M149 210h8v8h-8z"/><path fill="#f2573a" d="M157 210h8v8h-8z"/><path fill="#ed4b46" d="M165 210h8v8h-8z"/><path fill="#e53e56" d="M173 210h8v8h-8z"/><path fill="#dd3165" d="M181 210h8v8h-8z"/><path fill="#d32a77" d="M189 210h8v8h-8z"/><path fill="#c92286" d="M197 210h8v8h-8z"/><path fill="#ba1f90" d="M205 210h8v8h-8z"/><path fill="#a71e96" d="M213 210h8v8h-8z"/><path fill="#941d9d" d="M221 210h8v8h-8z"/><path fill="#801ba1" d="M229 210h8v8h-8z"/><path fill="#6b18a3" d="M237 210h8v8h-8z"/><path fill="#5716a5" d="M245 210h8v8h-8z"/><path fill="#4413a4" d="M253 210h8v8h-8z"/><path fill="#37119f" d="M261 210h8v8h-8z"/><path fill="#2d0f9b" d="M269 210h8v8h-8z"/><path fill="#230d97" d="M277 210h8v8h-8z"/><path fill="#1e0b8c" d="M285 210h8v8h-8z"/><path fill="#1b0a82" d="M293 210h8v8h-8z"/><path fill="#190977" d="M301 210h8v8h-8z"/><path fill="#aa1e95" d="M29 218h8v8h-8z"/><path fill="#ba1f90" d="M37 218h8v8h-8z"/><path fill="#c7218a" d="M45 218h8v8h-8z"/><path fill="#cf277d" d="M53 218h8v8h-8z"/><path fill="#d72d70" d="M61 218h8v8h-8z"/><path fill="#df3363" d="M69 218h8v8h-8z"/><path fill="#e43c57" d="M77 218h8v8h-8z"/><path fill="#ea464c" d="M85 218h8v8h-8z"/><path fill="#ef4e43" d="M93 218h8v8h-8z"/><path fill="#f1543c" d="M101 218h8v8h-8z"/><path fill="#f35839" d="M109 218h8v8h-8z"/><path fill="#f35a37" d="M117 218h8v8h-8z"/><path fill="#f35b36" d="M125 218h8v8h-8z"/><path fill="#f35a38" d="M133 218h8v8h-8z"/><path fill="#f2563b" d="M141 218h8v8h-8z"/><path fill="#f04f41" d="M149 218h8v8h-8z"/><path fill="#ea464c" d="M157 218h8v8h-8z"/><path fill="#e43c58" d="M165 218h8v8h-8z"/><path fill="#dd3165" d="M173 218h8v8h-8z"/><path fill="#d42a75" d="M181 218h8v8h-8z"/><path fill="#cb2483" d="M189 218h8v8h-8z"/><path fill="#bf208e" d="M197 218h8v8h-8z"/><path fill="#ae1e94" d="M205 218h8v8h-8z"/><path fill="#9c1d9a" d="M213 218h8v8h-8z"/><path fill="#8b1ca0" d="M221 218h8v8h-8z"/><path fill="#761aa2" d="M229 218h8v8h-8z"/><path fill="#6217a4" d="M237 218h8v8h-8z"/><path fill="#4d15a6" d="M245 218h8v8h-8z"/><path fill="#3f12a2" d="M253 218h8v8h-8z"/><path fill="#33109e" d="M261 218h8v8h-8z"/><path fill="#290e9a" d="M269 218h8v8h-8z"/><path fill="#200c96" d="M277 218h8v8h-8z"/><path fill="#1d0b89" d="M285 218h8v8h-8z"/><path fill="#1a0a7e" d="M293 218h8v8h-8z"/><path fill="#180974" d="M301 218h8v8h-8z"/><path fill="#9d1d9a" d="M29 226h8v8h-8z"/><path fill="#ac1e95" d="M37 226h8v8h-8z"/><path fill="#ba1f90" d="M45 226h8v8h-8z"/><path fill="#c7218b" d="M53 226h8v8h-8z"/><path fill="#ce267f" d="M61 226h8v8h-8z"/><path fill="#d42a75" d="M69 226h8v8h-8z"/><path fill="#db2f6a" d="M77 226h8v8h-8z"/><path fill="#e03560" d="M85 226h8v8h-8z"/><path fill="#e43c58" d="M93 226h8v8h-8z"/><path fill="#e74152" d="M101 226h8v8h-8z"/><path fill="#ea454d" d="M109 226h8v8h-8z"/><path fill="#eb484a" d="M117 226h8v8h-8z"/><path fill="#eb4849" d="M125 226h8v8h-8z"/><path fill="#eb474b" d="M133 226h8v8h-8z"/><path fill="#e84350" d="M141 226h8v8h-8z"/><path fill="#e53d57" d="M149 226h8v8h-8z"/><path fill="#e0365f" d="M157 226h8v8h-8z"/><path fill="#da2f6a" d="M165 226h8v8h-8z"/><path fill="#d32977" d="M173 226h8v8h-8z"/><path fill="#cb2483" d="M181 226h8v8h-8z"/><path fill="#c1208e" d="M189 226h8v8h-8z"/><path fill="#b11f93" d="M197 226h8v8h-8z"/><path fill="#a01d99" d="M205 226h8v8h-8z"/><path fill="#901c9e" d="M213 226h8v8h-8z"/><path fill="#7d1aa1" d="M221 226h8v8h-8z"/><path fill="#6a18a3" d="M229 226h8v8h-8z"/><path fill="#5716a5" d="M237 226h8v8h-8z"/><path fill="#4513a5" d="M245 226h8v8h-8z"/><path fill="#3911a0" d="M253 226h8v8h-8z"/><path fill="#2f0f9c" d="M261 226h8v8h-8z"/><path fill="#250d98" d="M269 226h8v8h-8z"/><path fill="#1f0b90" d="M277 226h8v8h-8z"/><path fill="#1c0a85" d="M285 226h8v8h-8z"/><path fill="#1a0a7a" d="M293 226h8v8h-8z"/><path fill="#170970" d="M301 226h8v8h-8z"/><path fill="#901c9e" d="M29 234h8v8h-8z"/><path fill="#9d1d9a" d="M37 234h8v8h-8z"/><path fill="#aa1e95" d="M45 234h8v8h-8z"/><path fill="#b71f91" d="M53 234h8v8h-8z"/><path fill="#c3208d" d="M61 234h8v8h-8z"/><path fill="#ca2385" d="M69 234h8v8h-8z"/><path fill="#cf277c" d="M77 234h8v8h-8z"/><path fill="#d42a75" d="M85 234h8v8h-8z"/><path fill="#d82e6d" d="M93 234h8v8h-8z"/><path fill="#dc3167" d="M101 234h8v8h-8z"/><path fill="#df3363" d="M109 234h8v8h-8z"/><path fill="#e03561" d="M117 234h8v8h-8z"/><path fill="#e03560" d="M125 234h8v8h-8z"/><path fill="#df3461" d="M133 234h8v8h-8z"/><path fill="#dd3165" d="M141 234h8v8h-8z"/><path fill="#d92e6c" d="M149 234h8v8h-8z"/><path fill="#d42b74" d="M157 234h8v8h-8z"/><path fill="#cf277d" d="M165 234h8v8h-8z"/><path fill="#c92287" d="M173 234h8v8h-8z"/><path fill="#bf208e" d="M181 234h8v8h-8z"/><path fill="#b11f93" d="M189 234h8v8h-8z"/><path fill="#a21e98" d="M197 234h8v8h-8z"/><path fill="#931d9d" d="M205 234h8v8h-8z"/><path fill="#821ba1" d="M213 234h8v8h-8z"/><path fill="#7019a2" d="M221 234h8v8h-8z"/><path fill="#5d17a4" d="M229 234h8v8h-8z"/><path fill="#4b14a6" d="M237 234h8v8h-8z"/><path fill="#3e12a2" d="M245 234h8v8h-8z"/><path fill="#33109e" d="M253 234h8v8h-8z"/><path fill="#2a0e9a" d="M261 234h8v8h-8z"/><path fill="#210c96" d="M269 234h8v8h-8z"/><path fill="#1d0b8a" d="M277 234h8v8h-8z"/><path fill="#1b0a80" d="M285 234h8v8h-8z"/><path fill="#190976" d="M293 234h8v8h-8z"/><path fill="#16086d" d="M301 234h8v8h-8z"/><path fill="#7f1ba1" d="M29 242h8v8h-8z"/><path fill="#8e1c9f" d="M37 242h8v8h-8z"/><path fill="#9a1d9b" d="M45 242h8v8h-8z"/><path fill="#a51e97" d="M53 242h8v8h-8z"/><path fill="#b01f93" d="M61 242h8v8h-8z"/><path fill="#ba1f90" d="M69 242h8v8h-8z"/><path fill="#c4208d" d="M77 242h8v8h-8z"/><path fill="#c92287" d="M85 242h8v8h-8z"/><path fill="#cd2581" d="M93 242h8v8h-8z"/><path fill="#cf277d" d="M101 242h8v8h-8z"/><path fill="#d12879" d="M109 242h8v8h-8z"/><path fill="#d22977" d="M117 242h8v8h-8z"/><path fill="#d32a77" d="M125 242h8v8h-8z"/><path fill="#d22978" d="M133 242h8v8h-8z"/><path fill="#d0287b" d="M141 242h8v8h-8z"/><path fill="#cd2580" d="M149 242h8v8h-8z"/><path fill="#c92287" d="M157 242h8v8h-8z"/><path fill="#c3208d" d="M165 242h8v8h-8z"/><path fill="#b81f91" d="M173 242h8v8h-8z"/><path fill="#ac1e95" d="M181 242h8v8h-8z"/><path fill="#a01d99" d="M189 242h8v8h-8z"/><path fill="#921d9d" d="M197 242h8v8h-8z"/><path fill="#831ba1" d="M205 242h8v8h-8z"/><path fill="#7219a2" d="M213 242h8v8h-8z"/><path fill="#6117a4" d="M221 242h8v8h-8z"/><path fill="#5015a5" d="M229 242h8v8h-8z"/><path fill="#4213a3" d="M237 242h8v8h-8z"/><path fill="#37119f" d="M245 242h8v8h-8z"/><path fill="#2d0f9b" d="M253 242h8v8h-8z"/><path fill="#250d98" d="M261 242h8v8h-8z"/><path fill="#1f0b90" d="M269 242h8v8h-8z"/><path fill="#1c0b85" d="M277 242h8v8h-8z"/><path fill="#1a0a7b" d="M285 242h8v8h-8z"/><path fill="#170971" d="M293 242h8v8h-8z"/><path fill="#16086a" d="M301 242h8v8h-8z"/><path fill="#6f19a2" d="M29 250h8v8h-8z"/><path fill="#7c1aa1" d="M37 250h8v8h-8z"/><path fill="#891ca0" d="M45 250h8v8h-8z"/><path fill="#941d9d" d="M53 250h8v8h-8z"/><path fill="#9e1d99" d="M61 250h8v8h-8z"/><path fill="#a71e96" d="M69 250h8v8h-8z"/><path fill="#af1e94" d="M77 250h8v8h-8z"/><path fill="#b61f91" d="M85 250h8v8h-8z"/><path fill="#bd1f8f" d="M93 250h8v8h-8z"/><path fill="#c1208e" d="M101 250h8v8h-8z"/><path fill="#c5208c" d="M109 250h8v8h-8z"/><path fill="#c6208b" d="M117 250h8v8h-8z"/><path fill="#c7218b" d="M125 250h8v8h-8z"/><path fill="#c6208c" d="M133 250h8v8h-8z"/><path fill="#c3208d" d="M141 250h8v8h-8z"/><path fill="#be1f8f" d="M149 250h8v8h-8z"/><path fill="#b71f91" d="M157 250h8v8h-8z"/><path fill="#af1e94" d="M165 250h8v8h-8z"/><path fill="#a51e97" d="M173 250h8v8h-8z"/><path fill="#9a1d9b" d="M181 250h8v8h-8z"/><path fill="#8f1c9e" d="M189 250h8v8h-8z"/><path fill="#801ba1" d="M197 250h8v8h-8z"/><path fill="#7119a2" d="M205 250h8v8h-8z"/><path fill="#6217a4" d="M213 250h8v8h-8z"/><path fill="#5215a5" d="M221 250h8v8h-8z"/><path fill="#4413a4" d="M229 250h8v8h-8z"/><path fill="#3911a0" d="M237 250h8v8h-8z"/><path fill="#300f9c" d="M245 250h8v8h-8z"/><path fill="#280e99" d="M253 250h8v8h-8z"/><path fill="#200c95" d="M261 250h8v8h-8z"/><path fill="#1d0b89" d="M269 250h8v8h-8z"/><path fill="#1b0a80" d="M277 250h8v8h-8z"/><path fill="#180976" d="M285 250h8v8h-8z"/><path fill="#16086d" d="M293 250h8v8h-8z"/><path fill="#150867" d="M301 250h8v8h-8z"/><path fill="#5d17a4" d="M29 258h8v8h-8z"/><path fill="#6918a3" d="M37 258h8v8h-8z"/><path fill="#7519a2" d="M45 258h8v8h-8z"/><path fill="#801ba1" d="M53 258h8v8h-8z"/><path fill="#8b1ca0" d="M61 258h8v8h-8z"/><path fill="#941d9d" d="M69 258h8v8h-8z"/><path fill="#9b1d9a" d="M77 258h8v8h-8z"/><path fill="#a11e98" d="M85 258h8v8h-8z"/><path fill="#a71e96" d="M93 258h8v8h-8z"/><path fill="#ab1e95" d="M101 258h8v8h-8z"/><path fill="#ae1e94" d="M109 258h8v8h-8z"/><path fill="#b01f93" d="M117 258h8v8h-8z"/><path fill="#b11f93" d="M125 258h8v8h-8z"/><path fill="#af1e94" d="M133 258h8v8h-8z"/><path fill="#ac1e95" d="M141 258h8v8h-8z"/><path fill="#a81e96" d="M149 258h8v8h-8z"/><path fill="#a21e98" d="M157 258h8v8h-8z"/><path fill="#9a1d9b" d="M165 258h8v8h-8z"/><path fill="#921d9d" d="M173 258h8v8h-8z"/><path fill="#881ca0" d="M181 258h8v8h-8z"/><path fill="#7b1aa1" d="M189 258h8v8h-8z"/><path fill="#6e19a3" d="M197 258h8v8h-8z"/><path fill="#6017a4" d="M205 258h8v8h-8z"/><path fill="#5115a5" d="M213 258h8v8h-8z"/><path fill="#4413a4" d="M221 258h8v8h-8z"/><path fill="#3a11a1" d="M229 258h8v8h-8z"/><path fill="#310f9d" d="M237 258h8v8h-8z"/><path fill="#290e9a" d="M245 258h8v8h-8z"/><path fill="#210c97" d="M253 258h8v8h-8z"/><path fill="#1e0b8c" d="M261 258h8v8h-8z"/><path fill="#1c0a83" d="M269 258h8v8h-8z"/><path fill="#19097a" d="M277 258h8v8h-8z"/><path fill="#170970" d="M285 258h8v8h-8z"/><path fill="#160869" d="M293 258h8v8h-8z"/><path fill="#140763" d="M301 258h8v8h-8z"/><path fill="#4b14a6" d="M29 266h8v8h-8z"/><path fill="#5716a5" d="M37 266h8v8h-8z"/><path fill="#6217a4" d="M45 266h8v8h-8z"/><path fill="#6c18a3" d="M53 266h8v8h-8z"/><path fill="#751aa2" d="M61 266h8v8h-8z"/><path fill="#7e1ba1" d="M69 266h8v8h-8z"/><path fill="#871ca0" d="M77 266h8v8h-8z"/><path fill="#8d1c9f" d="M85 266h8v8h-8z"/><path fill="#921d9d" d="M93 266h8v8h-8z"/><path fill="#961d9c" d="M101 266h8v8h-8z"/><path fill="#991d9b" d="M109 266h8v8h-8z"/><path fill="#9a1d9b" d="M117 266h8v8h-8z"/><path fill="#9a1d9b" d="M125 266h8v8h-8z"/><path fill="#991d9b" d="M133 266h8v8h-8z"/><path fill="#971d9c" d="M141 266h8v8h-8z"/><path fill="#931d9d" d="M149 266h8v8h-8z"/><path fill="#8e1c9f" d="M157 266h8v8h-8z"/><path fill="#861ca0" d="M165 266h8v8h-8z"/><path fill="#7c1aa1" d="M173 266h8v8h-8z"/><path fill="#7219a2" d="M181 266h8v8h-8z"/><path fill="#6718a3" d="M189 266h8v8h-8z"/><path fill="#5b16a4" d="M197 266h8v8h-8z"/><path fill="#4e15a5" d="M205 266h8v8h-8z"/><path fill="#4313a4" d="M213 266h8v8h-8z"/><path fill="#3a11a0" d="M221 266h8v8h-8z"/><path fill="#310f9d" d="M229 266h8v8h-8z"/><path fill="#2a0e9a" d="M237 266h8v8h-8z"/><path fill="#230d97" d="M245 266h8v8h-8z"/><path fill="#1e0b8e" d="M253 266h8v8h-8z"/><path fill="#1c0b85" d="M261 266h8v8h-8z"/><path fill="#1a0a7c" d="M269 266h8v8h-8z"/><path fill="#180973" d="M277 266h8v8h-8z"/><path fill="#16086c" d="M285 266h8v8h-8z"/><path fill="#150865" d="M293 266h8v8h-8z"/><path fill="#13075f" d="M301 266h8v8h-8z"/></g>
<ellipse cx="127.7" cy="169.5" rx="62" ry="60" fill="url(#gablob)"/>
</g>
<g clip-path="url(#cA)">
<path d="M36 0h8v46h-8zM36 46h5v112h-5z" fill="#0c0440"/>
<rect x="170" y="256.5" width="135" height="12" fill="#0c0440"/>
<ellipse cx="128.8" cy="169.5" rx="90.5" ry="88" fill="none" stroke="#ff9c10" stroke-width="2.1"/>
<ellipse cx="125.5" cy="169.5" rx="165.1" ry="150.3" fill="none" stroke="#b8248e" stroke-width="1.1"/>
<ellipse cx="125.5" cy="169.5" rx="172.6" ry="157.2" fill="none" stroke="#b8248e" stroke-width="1.1"/>
<circle cx="76" cy="11" r="1" fill="#e86040"/><circle cx="246" cy="20" r="0.8" fill="#c04070"/><circle cx="243" cy="195" r="1.1" fill="#ff8a20"/>
</g>
<rect x="36.8" y="0.5" width="263.7" height="264.8" fill="none" stroke="#c4c4c4" stroke-width="1"/><line x1="36.8" y1="0.5" x2="36.8" y2="265.3" stroke="#777" stroke-width="0.9"/><line x1="36.8" y1="265.3" x2="300.5" y2="265.3" stroke="#777" stroke-width="0.9"/>
<line x1="32.8" y1="48.5" x2="36.8" y2="48.5" stroke="#555" stroke-width="0.6"/>
<text x="31" y="51.2" font-size="7.5" text-anchor="end">2</text>
<line x1="32.8" y1="109.0" x2="36.8" y2="109.0" stroke="#555" stroke-width="0.6"/>
<text x="31" y="111.7" font-size="7.5" text-anchor="end">1</text>
<line x1="32.8" y1="169.5" x2="36.8" y2="169.5" stroke="#555" stroke-width="0.6"/>
<text x="31" y="172.2" font-size="7.5" text-anchor="end">0</text>
<line x1="32.8" y1="230.0" x2="36.8" y2="230.0" stroke="#555" stroke-width="0.6"/>
<text x="31" y="232.7" font-size="7.5" text-anchor="end">-1</text>
<line x1="34.8" y1="254.2" x2="36.8" y2="254.2" stroke="#666" stroke-width="0.5"/>
<line x1="34.8" y1="242.1" x2="36.8" y2="242.1" stroke="#666" stroke-width="0.5"/>
<line x1="34.8" y1="217.9" x2="36.8" y2="217.9" stroke="#666" stroke-width="0.5"/>
<line x1="34.8" y1="205.8" x2="36.8" y2="205.8" stroke="#666" stroke-width="0.5"/>
<line x1="34.8" y1="193.7" x2="36.8" y2="193.7" stroke="#666" stroke-width="0.5"/>
<line x1="34.8" y1="181.6" x2="36.8" y2="181.6" stroke="#666" stroke-width="0.5"/>
<line x1="34.8" y1="157.4" x2="36.8" y2="157.4" stroke="#666" stroke-width="0.5"/>
<line x1="34.8" y1="145.3" x2="36.8" y2="145.3" stroke="#666" stroke-width="0.5"/>
<line x1="34.8" y1="133.2" x2="36.8" y2="133.2" stroke="#666" stroke-width="0.5"/>
<line x1="34.8" y1="121.1" x2="36.8" y2="121.1" stroke="#666" stroke-width="0.5"/>
<line x1="34.8" y1="96.9" x2="36.8" y2="96.9" stroke="#666" stroke-width="0.5"/>
<line x1="34.8" y1="84.8" x2="36.8" y2="84.8" stroke="#666" stroke-width="0.5"/>
<line x1="34.8" y1="72.7" x2="36.8" y2="72.7" stroke="#666" stroke-width="0.5"/>
<line x1="34.8" y1="60.6" x2="36.8" y2="60.6" stroke="#666" stroke-width="0.5"/>
<line x1="34.8" y1="36.4" x2="36.8" y2="36.4" stroke="#666" stroke-width="0.5"/>
<line x1="34.8" y1="24.3" x2="36.8" y2="24.3" stroke="#666" stroke-width="0.5"/>
<line x1="34.8" y1="12.2" x2="36.8" y2="12.2" stroke="#666" stroke-width="0.5"/>
<line x1="64.0" y1="265.3" x2="64.0" y2="268.8" stroke="#555" stroke-width="0.6"/>
<text x="64" y="277.6" font-size="7.5" text-anchor="middle">-1</text>
<line x1="127.7" y1="265.3" x2="127.7" y2="268.8" stroke="#555" stroke-width="0.6"/>
<text x="127.7" y="277.6" font-size="7.5" text-anchor="middle">0</text>
<line x1="191.4" y1="265.3" x2="191.4" y2="268.8" stroke="#555" stroke-width="0.6"/>
<text x="191.4" y="277.6" font-size="7.5" text-anchor="middle">1</text>
<line x1="255.1" y1="265.3" x2="255.1" y2="268.8" stroke="#555" stroke-width="0.6"/>
<text x="255.1" y="277.6" font-size="7.5" text-anchor="middle">2</text>
<line x1="38.5" y1="265.3" x2="38.5" y2="267.3" stroke="#666" stroke-width="0.5"/>
<line x1="51.3" y1="265.3" x2="51.3" y2="267.3" stroke="#666" stroke-width="0.5"/>
<line x1="76.7" y1="265.3" x2="76.7" y2="267.3" stroke="#666" stroke-width="0.5"/>
<line x1="89.5" y1="265.3" x2="89.5" y2="267.3" stroke="#666" stroke-width="0.5"/>
<line x1="102.2" y1="265.3" x2="102.2" y2="267.3" stroke="#666" stroke-width="0.5"/>
<line x1="115.0" y1="265.3" x2="115.0" y2="267.3" stroke="#666" stroke-width="0.5"/>
<line x1="140.4" y1="265.3" x2="140.4" y2="267.3" stroke="#666" stroke-width="0.5"/>
<line x1="153.2" y1="265.3" x2="153.2" y2="267.3" stroke="#666" stroke-width="0.5"/>
<line x1="165.9" y1="265.3" x2="165.9" y2="267.3" stroke="#666" stroke-width="0.5"/>
<line x1="178.7" y1="265.3" x2="178.7" y2="267.3" stroke="#666" stroke-width="0.5"/>
<line x1="204.1" y1="265.3" x2="204.1" y2="267.3" stroke="#666" stroke-width="0.5"/>
<line x1="216.9" y1="265.3" x2="216.9" y2="267.3" stroke="#666" stroke-width="0.5"/>
<line x1="229.6" y1="265.3" x2="229.6" y2="267.3" stroke="#666" stroke-width="0.5"/>
<line x1="242.4" y1="265.3" x2="242.4" y2="267.3" stroke="#666" stroke-width="0.5"/>
<line x1="267.8" y1="265.3" x2="267.8" y2="267.3" stroke="#666" stroke-width="0.5"/>
<line x1="280.6" y1="265.3" x2="280.6" y2="267.3" stroke="#666" stroke-width="0.5"/>
<line x1="293.3" y1="265.3" x2="293.3" y2="267.3" stroke="#666" stroke-width="0.5"/>
<text x="179.5" y="290.3" font-size="10.6" text-anchor="middle" fill="#222"><tspan font-style="italic">q</tspan><tspan font-size="8.4" dy="2" font-style="italic">x</tspan><tspan dy="-2"> (Å</tspan><tspan font-size="6.4" dy="-3.6">-1</tspan><tspan dy="3.6">)</tspan></text>
<text x="0" y="0" font-size="10.6" text-anchor="middle" transform="translate(12.8 140) rotate(-90)" fill="#222"><tspan font-style="italic">q</tspan><tspan font-size="8.4" dy="2" font-style="italic">y</tspan><tspan dy="-2"> (Å</tspan><tspan font-size="6.4" dy="-3.6">-1</tspan><tspan dy="3.6">)</tspan></text>
<text x="131" y="30" font-size="9" text-anchor="middle" fill="#f6f6f6">Gb(020)</text>
<text x="54.3" y="88.8" font-size="9" text-anchor="middle" fill="#f6f6f6">Gb(1<tspan text-decoration="overline">1</tspan>0)</text>
<text x="195.2" y="86" font-size="9" text-anchor="middle" fill="#f6f6f6">Gb(110)</text>
<text x="245.5" y="116" font-size="9" text-anchor="middle" fill="#f6f6f6">Gb(310)</text>
<text x="127.9" y="148.2" font-size="9" text-anchor="middle" fill="#f6f6f6">Gb[001]</text>
<text x="241.3" y="181" font-size="9" text-anchor="middle" fill="#f6f6f6">Gb(200)</text>
<text x="239.2" y="249.3" font-size="9" text-anchor="middle" fill="#f6f6f6">Gb(3<tspan text-decoration="overline">1</tspan>0)</text>
<path d="M126.4 10.9L131.6 13.7M127.8 14.9L130.2 9.7" stroke="#f6f6f6" stroke-width="0.8" fill="none"/>
<path d="M85.4 89.6L90.6 92.4M86.8 93.6L89.2 88.4" stroke="#f6f6f6" stroke-width="0.8" fill="none"/>
<path d="M167.1 89.6L172.3 92.4M168.5 93.6L170.9 88.4" stroke="#f6f6f6" stroke-width="0.8" fill="none"/>
<path d="M265.6 92.6L270.8 95.4M267.0 96.6L269.4 91.4" stroke="#f6f6f6" stroke-width="0.8" fill="none"/>
<path d="M216.6 162.3L221.8 165.1M218.0 166.3L220.4 161.1" stroke="#f6f6f6" stroke-width="0.8" fill="none"/>
<path d="M262.7 246.1L267.9 248.9M264.1 250.1L266.5 244.9" stroke="#f6f6f6" stroke-width="0.8" fill="none"/>
<rect x="318" y="0.5" width="7.5" height="264.5" fill="url(#cba)" stroke="#9a9a9a" stroke-width="0.9"/>
<line x1="322.5" y1="108.5" x2="325.5" y2="108.5" stroke="#333" stroke-width="0.6"/>
<line x1="323.9" y1="217.889" x2="325.5" y2="217.889" stroke="#333" stroke-width="0.5"/>
<line x1="323.9" y1="190.331" x2="325.5" y2="190.331" stroke="#333" stroke-width="0.5"/>
<line x1="323.9" y1="170.778" x2="325.5" y2="170.778" stroke="#333" stroke-width="0.5"/>
<line x1="323.9" y1="155.611" x2="325.5" y2="155.611" stroke="#333" stroke-width="0.5"/>
<line x1="323.9" y1="143.219" x2="325.5" y2="143.219" stroke="#333" stroke-width="0.5"/>
<line x1="323.9" y1="132.742" x2="325.5" y2="132.742" stroke="#333" stroke-width="0.5"/>
<line x1="323.9" y1="123.666" x2="325.5" y2="123.666" stroke="#333" stroke-width="0.5"/>
<line x1="323.9" y1="115.661" x2="325.5" y2="115.661" stroke="#333" stroke-width="0.5"/>
<line x1="323.9" y1="61.3888" x2="325.5" y2="61.3888" stroke="#333" stroke-width="0.5"/>
<line x1="323.9" y1="33.8305" x2="325.5" y2="33.8305" stroke="#333" stroke-width="0.5"/>
<line x1="323.9" y1="14.2776" x2="325.5" y2="14.2776" stroke="#333" stroke-width="0.5"/>
<text x="328" y="111.3" font-size="7.8">10</text>
<text x="328" y="268" font-size="7.8">10<tspan font-size="5.5" dy="-3.2">1</tspan></text>
<text x="0" y="0" font-size="9" text-anchor="middle" transform="translate(314 134) rotate(-90)" fill="#222">Intensity (counts)</text>
<g clip-path="url(#cI)">
<polygon points="106.4,175.8 108.4,179.3 104.4,179.3" fill="#f2b8b8" opacity="0.55"/>
<polygon points="105.3,165.4 107.3,168.9 103.3,168.9" fill="#f2b8b8" opacity="0.55"/>
<polygon points="90.9,175.1 92.9,178.6 88.9,178.6" fill="#f2b8b8" opacity="0.55"/>
<polygon points="99.9,180.2 101.9,183.7 97.9,183.7" fill="#f2b8b8" opacity="0.55"/>
<polygon points="111.7,178.8 113.7,182.3 109.7,182.3" fill="#f2b8b8" opacity="0.55"/>
<polygon points="120.8,173.7 122.8,177.2 118.8,177.2" fill="#f2b8b8" opacity="0.55"/>
<polygon points="84.3,188.4 86.3,191.9 82.3,191.9" fill="#f2b8b8" opacity="0.55"/>
<polygon points="85.4,178.1 87.4,181.6 83.4,181.6" fill="#f2b8b8" opacity="0.55"/>
<polygon points="70.0,186.2 72.0,189.7 68.0,189.7" fill="#f2b8b8" opacity="0.55"/>
<polygon points="79.1,191.2 81.1,194.7 77.1,194.7" fill="#f2b8b8" opacity="0.55"/>
<polygon points="90.9,192.7 92.9,196.2 88.9,196.2" fill="#f2b8b8" opacity="0.55"/>
<polygon points="99.9,187.5 101.9,191.0 97.9,191.0" fill="#f2b8b8" opacity="0.55"/>
<polygon points="126.5,188.4 128.5,191.9 124.5,191.9" fill="#f2b8b8" opacity="0.55"/>
<polygon points="127.5,178.1 129.5,181.6 125.5,181.6" fill="#f2b8b8" opacity="0.55"/>
<polygon points="111.7,186.1 113.7,189.6 109.7,189.6" fill="#f2b8b8" opacity="0.55"/>
<polygon points="120.7,191.3 122.7,194.8 118.7,194.8" fill="#f2b8b8" opacity="0.55"/>
<polygon points="132.9,192.6 134.9,196.1 130.9,196.1" fill="#f2b8b8" opacity="0.55"/>
<polygon points="142.0,187.6 144.0,191.1 140.0,191.1" fill="#f2b8b8" opacity="0.55"/>
<polygon points="70.0,203.4 72.0,206.9 68.0,206.9" fill="#f2b8b8" opacity="0.55"/>
<polygon points="79.1,198.4 81.1,201.9 77.1,201.9" fill="#f2b8b8" opacity="0.55"/>
<polygon points="106.4,200.7 108.4,204.2 104.4,204.2" fill="#f2b8b8" opacity="0.55"/>
<polygon points="105.3,190.3 107.3,193.8 103.3,193.8" fill="#f2b8b8" opacity="0.55"/>
<polygon points="90.9,199.7 92.9,203.2 88.9,203.2" fill="#f2b8b8" opacity="0.55"/>
<polygon points="99.9,205.0 101.9,208.5 97.9,208.5" fill="#f2b8b8" opacity="0.55"/>
<polygon points="111.7,203.6 113.7,207.1 109.7,207.1" fill="#f2b8b8" opacity="0.55"/>
<polygon points="120.7,198.3 122.7,201.8 118.7,201.8" fill="#f2b8b8" opacity="0.55"/>
<polygon points="132.9,199.9 134.9,203.4 130.9,203.4" fill="#f2b8b8" opacity="0.55"/>
<polygon points="142.0,204.9 144.0,208.4 140.0,208.4" fill="#f2b8b8" opacity="0.55"/>
<polygon points="84.3,213.0 86.3,216.5 82.3,216.5" fill="#f2b8b8" opacity="0.55"/>
<polygon points="85.4,202.6 87.4,206.1 83.4,206.1" fill="#f2b8b8" opacity="0.55"/>
<polygon points="70.0,210.7 72.0,214.2 68.0,214.2" fill="#f2b8b8" opacity="0.55"/>
<polygon points="79.1,215.7 81.1,219.2 77.1,219.2" fill="#f2b8b8" opacity="0.55"/>
<polygon points="90.9,217.3 92.9,220.8 88.9,220.8" fill="#f2b8b8" opacity="0.55"/>
<polygon points="99.9,212.0 101.9,215.5 97.9,215.5" fill="#f2b8b8" opacity="0.55"/>
<polygon points="126.5,213.0 128.5,216.5 124.5,216.5" fill="#f2b8b8" opacity="0.55"/>
<polygon points="127.5,202.6 129.5,206.1 125.5,206.1" fill="#f2b8b8" opacity="0.55"/>
<polygon points="111.7,210.6 113.7,214.1 109.7,214.1" fill="#f2b8b8" opacity="0.55"/>
<polygon points="120.7,215.8 122.7,219.3 118.7,219.3" fill="#f2b8b8" opacity="0.55"/>
<polygon points="132.9,217.1 134.9,220.6 130.9,220.6" fill="#f2b8b8" opacity="0.55"/>
<polygon points="142.0,212.1 144.0,215.6 140.0,215.6" fill="#f2b8b8" opacity="0.55"/>
<polygon points="70.0,228.0 72.0,231.5 68.0,231.5" fill="#f2b8b8" opacity="0.55"/>
<polygon points="79.1,223.0 81.1,226.5 77.1,226.5" fill="#f2b8b8" opacity="0.55"/>
<polygon points="106.4,225.2 108.4,228.7 104.4,228.7" fill="#f2b8b8" opacity="0.55"/>
<polygon points="105.3,214.9 107.3,218.4 103.3,218.4" fill="#f2b8b8" opacity="0.55"/>
<polygon points="90.9,224.3 92.9,227.8 88.9,227.8" fill="#f2b8b8" opacity="0.55"/>
<polygon points="99.9,229.5 101.9,233.0 97.9,233.0" fill="#f2b8b8" opacity="0.55"/>
<polygon points="111.7,228.1 113.7,231.6 109.7,231.6" fill="#f2b8b8" opacity="0.55"/>
<polygon points="120.7,222.8 122.7,226.3 118.7,226.3" fill="#f2b8b8" opacity="0.55"/>
<polygon points="132.9,224.4 134.9,227.9 130.9,227.9" fill="#f2b8b8" opacity="0.55"/>
<polygon points="142.0,229.4 144.0,232.9 140.0,232.9" fill="#f2b8b8" opacity="0.55"/>
<polygon points="84.3,237.5 86.3,241.0 82.3,241.0" fill="#f2b8b8" opacity="0.55"/>
<polygon points="85.4,227.1 87.4,230.6 83.4,230.6" fill="#f2b8b8" opacity="0.55"/>
<polygon points="90.9,241.8 92.9,245.3 88.9,245.3" fill="#f2b8b8" opacity="0.55"/>
<polygon points="99.9,236.5 101.9,240.0 97.9,240.0" fill="#f2b8b8" opacity="0.55"/>
<polygon points="126.5,237.5 128.5,241.0 124.5,241.0" fill="#f2b8b8" opacity="0.55"/>
<polygon points="127.5,227.1 129.5,230.6 125.5,230.6" fill="#f2b8b8" opacity="0.55"/>
<polygon points="111.7,235.1 113.7,238.6 109.7,238.6" fill="#f2b8b8" opacity="0.55"/>
<polygon points="120.7,240.3 122.7,243.8 118.7,243.8" fill="#f2b8b8" opacity="0.55"/>
<polygon points="106.4,249.7 108.4,253.2 104.4,253.2" fill="#f2b8b8" opacity="0.55"/>
<polygon points="105.3,239.4 107.3,242.9 103.3,242.9" fill="#f2b8b8" opacity="0.55"/>
<polygon points="99.1,162.7 101.1,166.2 97.1,166.2" fill="#f2b8b8" opacity="0.55"/>
<polygon points="90.7,168.8 92.7,172.3 88.7,172.3" fill="#f2b8b8" opacity="0.55"/>
<polygon points="120.2,165.7 122.2,169.2 118.2,169.2" fill="#f2b8b8" opacity="0.55"/>
<polygon points="110.7,161.5 112.7,165.0 108.7,165.0" fill="#f2b8b8" opacity="0.55"/>
<polygon points="79.8,174.1 81.8,177.6 77.8,177.6" fill="#f2b8b8" opacity="0.55"/>
<polygon points="70.4,178.4 72.4,181.9 68.4,181.9" fill="#f2b8b8" opacity="0.55"/>
<polygon points="142.4,181.4 144.4,184.9 140.4,184.9" fill="#f2b8b8" opacity="0.55"/>
<polygon points="133.9,175.3 135.9,178.8 131.9,178.8" fill="#f2b8b8" opacity="0.55"/>
<polygon points="64.2,189.8 66.2,193.3 62.2,193.3" fill="#f2b8b8" opacity="0.55"/>
<polygon points="64.4,200.1 66.4,203.6 62.4,203.6" fill="#f2b8b8" opacity="0.55"/>
<polygon points="147.7,201.6 149.7,205.1 145.7,205.1" fill="#f2b8b8" opacity="0.55"/>
<polygon points="147.9,191.2 149.9,194.7 145.9,194.7" fill="#f2b8b8" opacity="0.55"/>
<polygon points="64.2,214.3 66.2,217.8 62.2,217.8" fill="#f2b8b8" opacity="0.55"/>
<polygon points="64.4,224.7 66.4,228.2 62.4,228.2" fill="#f2b8b8" opacity="0.55"/>
<polygon points="147.7,226.1 149.7,229.6 145.7,229.6" fill="#f2b8b8" opacity="0.55"/>
<polygon points="147.9,215.7 149.9,219.2 145.9,219.2" fill="#f2b8b8" opacity="0.55"/>
<polygon points="69.9,234.8 71.9,238.3 67.9,238.3" fill="#f2b8b8" opacity="0.55"/>
<polygon points="78.8,240.2 80.8,243.7 76.8,243.7" fill="#f2b8b8" opacity="0.55"/>
<polygon points="133.2,241.6 135.2,245.1 131.2,245.1" fill="#f2b8b8" opacity="0.55"/>
<polygon points="142.1,236.2 144.1,239.7 140.1,239.7" fill="#f2b8b8" opacity="0.55"/>
<polygon points="91.0,248.7 93.0,252.2 89.0,252.2" fill="#f2b8b8" opacity="0.55"/>
<polygon points="100.1,253.9 102.1,257.4 98.1,257.4" fill="#f2b8b8" opacity="0.55"/>
<polygon points="111.6,252.4 113.6,255.9 109.6,255.9" fill="#f2b8b8" opacity="0.55"/>
<polygon points="120.6,247.3 122.6,250.8 118.6,250.8" fill="#f2b8b8" opacity="0.55"/>
<path d="M100.8 173.3L110.8 172.3" stroke="#a8c0d8" stroke-width="0.9"/>
<path d="M97.9 175.5L92.9 184.2" stroke="#a8c0d8" stroke-width="0.9"/>
<path d="M113.8 174.1L118.7 182.8" stroke="#a8c0d8" stroke-width="0.9"/>
<path d="M79.9 184.9L89.8 186.0" stroke="#a8c0d8" stroke-width="0.9"/>
<path d="M77.0 186.5L72.1 195.3" stroke="#a8c0d8" stroke-width="0.9"/>
<path d="M92.9 188.0L97.9 196.6" stroke="#a8c0d8" stroke-width="0.9"/>
<path d="M122.0 185.0L131.9 186.0" stroke="#a8c0d8" stroke-width="0.9"/>
<path d="M118.8 186.6L113.7 195.2" stroke="#a8c0d8" stroke-width="0.9"/>
<path d="M135.1 187.9L139.9 196.7" stroke="#a8c0d8" stroke-width="0.9"/>
<path d="M72.1 198.8L77.0 207.5" stroke="#a8c0d8" stroke-width="0.9"/>
<path d="M100.8 198.2L110.8 197.2" stroke="#a8c0d8" stroke-width="0.9"/>
<path d="M97.9 200.2L92.9 208.9" stroke="#a8c0d8" stroke-width="0.9"/>
<path d="M113.7 198.8L118.8 207.5" stroke="#a8c0d8" stroke-width="0.9"/>
<path d="M139.9 200.2L135.1 208.9" stroke="#a8c0d8" stroke-width="0.9"/>
<path d="M79.9 209.5L89.8 210.5" stroke="#a8c0d8" stroke-width="0.9"/>
<path d="M77.0 211.0L72.1 219.8" stroke="#a8c0d8" stroke-width="0.9"/>
<path d="M92.9 212.5L97.9 221.1" stroke="#a8c0d8" stroke-width="0.9"/>
<path d="M122.0 209.5L131.9 210.5" stroke="#a8c0d8" stroke-width="0.9"/>
<path d="M118.8 211.1L113.7 219.7" stroke="#a8c0d8" stroke-width="0.9"/>
<path d="M135.1 212.4L139.9 221.2" stroke="#a8c0d8" stroke-width="0.9"/>
<path d="M72.1 223.3L77.0 232.0" stroke="#a8c0d8" stroke-width="0.9"/>
<path d="M100.8 222.8L110.8 221.7" stroke="#a8c0d8" stroke-width="0.9"/>
<path d="M97.9 224.8L92.9 233.4" stroke="#a8c0d8" stroke-width="0.9"/>
<path d="M113.7 223.3L118.8 232.0" stroke="#a8c0d8" stroke-width="0.9"/>
<path d="M139.9 224.7L135.1 233.5" stroke="#a8c0d8" stroke-width="0.9"/>
<path d="M79.9 234.0L89.8 235.0" stroke="#a8c0d8" stroke-width="0.9"/>
<path d="M92.9 237.0L97.9 245.7" stroke="#a8c0d8" stroke-width="0.9"/>
<path d="M122.0 234.0L131.9 235.0" stroke="#a8c0d8" stroke-width="0.9"/>
<path d="M118.8 235.6L113.7 244.2" stroke="#a8c0d8" stroke-width="0.9"/>
<path d="M100.8 247.3L110.8 246.3" stroke="#a8c0d8" stroke-width="0.9"/>
<path d="M97.9 172.0L92.0 163.9" stroke="#a8c0d8" stroke-width="0.9"/>
<path d="M113.4 170.3L117.5 161.2" stroke="#a8c0d8" stroke-width="0.9"/>
<path d="M77.1 183.0L73.1 173.9" stroke="#a8c0d8" stroke-width="0.9"/>
<path d="M135.2 184.6L141.1 176.5" stroke="#a8c0d8" stroke-width="0.9"/>
<path d="M69.3 197.0L59.3 197.3" stroke="#a8c0d8" stroke-width="0.9"/>
<path d="M142.8 198.5L152.8 198.7" stroke="#a8c0d8" stroke-width="0.9"/>
<path d="M69.3 221.6L59.3 221.8" stroke="#a8c0d8" stroke-width="0.9"/>
<path d="M142.8 223.0L152.8 223.2" stroke="#a8c0d8" stroke-width="0.9"/>
<path d="M76.9 235.4L71.8 244.0" stroke="#a8c0d8" stroke-width="0.9"/>
<path d="M135.1 236.8L140.3 245.4" stroke="#a8c0d8" stroke-width="0.9"/>
<path d="M98.0 249.1L93.1 257.8" stroke="#a8c0d8" stroke-width="0.9"/>
<path d="M113.6 247.7L118.6 256.4" stroke="#a8c0d8" stroke-width="0.9"/>
<circle cx="105.8" cy="172.8" r="1.9" fill="#e01010"/>
<circle cx="95.4" cy="179.8" r="1.9" fill="#e01010"/>
<circle cx="116.2" cy="178.4" r="1.9" fill="#e01010"/>
<circle cx="84.9" cy="185.5" r="1.9" fill="#e01010"/>
<circle cx="74.5" cy="190.9" r="1.9" fill="#e01010"/>
<circle cx="95.4" cy="192.3" r="1.9" fill="#e01010"/>
<circle cx="127.0" cy="185.5" r="1.9" fill="#e01010"/>
<circle cx="116.2" cy="190.9" r="1.9" fill="#e01010"/>
<circle cx="137.5" cy="192.3" r="1.9" fill="#e01010"/>
<circle cx="74.5" cy="203.1" r="1.9" fill="#e01010"/>
<circle cx="105.8" cy="197.7" r="1.9" fill="#e01010"/>
<circle cx="95.4" cy="204.6" r="1.9" fill="#e01010"/>
<circle cx="116.2" cy="203.1" r="1.9" fill="#e01010"/>
<circle cx="137.5" cy="204.6" r="1.9" fill="#e01010"/>
<circle cx="84.9" cy="210.0" r="1.9" fill="#e01010"/>
<circle cx="74.5" cy="215.4" r="1.9" fill="#e01010"/>
<circle cx="95.4" cy="216.8" r="1.9" fill="#e01010"/>
<circle cx="127.0" cy="210.0" r="1.9" fill="#e01010"/>
<circle cx="116.2" cy="215.4" r="1.9" fill="#e01010"/>
<circle cx="137.5" cy="216.8" r="1.9" fill="#e01010"/>
<circle cx="74.5" cy="227.7" r="1.9" fill="#e01010"/>
<circle cx="105.8" cy="222.2" r="1.9" fill="#e01010"/>
<circle cx="95.4" cy="229.1" r="1.9" fill="#e01010"/>
<circle cx="116.2" cy="227.7" r="1.9" fill="#e01010"/>
<circle cx="137.5" cy="229.1" r="1.9" fill="#e01010"/>
<circle cx="84.9" cy="234.5" r="1.9" fill="#e01010"/>
<circle cx="95.4" cy="241.4" r="1.9" fill="#e01010"/>
<circle cx="127.0" cy="234.5" r="1.9" fill="#e01010"/>
<circle cx="116.2" cy="239.9" r="1.9" fill="#e01010"/>
<circle cx="105.8" cy="246.8" r="1.9" fill="#e01010"/>
<circle cx="94.9" cy="167.9" r="1.9" fill="#e01010"/>
<circle cx="115.5" cy="165.8" r="1.9" fill="#e01010"/>
<circle cx="75.1" cy="178.4" r="1.9" fill="#e01010"/>
<circle cx="138.1" cy="180.6" r="1.9" fill="#e01010"/>
<circle cx="64.3" cy="197.1" r="1.9" fill="#e01010"/>
<circle cx="147.8" cy="198.6" r="1.9" fill="#e01010"/>
<circle cx="64.3" cy="221.7" r="1.9" fill="#e01010"/>
<circle cx="147.8" cy="223.1" r="1.9" fill="#e01010"/>
<circle cx="74.3" cy="239.7" r="1.9" fill="#e01010"/>
<circle cx="137.7" cy="241.1" r="1.9" fill="#e01010"/>
<circle cx="95.5" cy="253.5" r="1.9" fill="#e01010"/>
<circle cx="116.1" cy="252.0" r="1.9" fill="#e01010"/>
<circle cx="99.0" cy="173.5" r="2.2" fill="#d4e6f4" stroke="#5283ad" stroke-width="1.2"/>
<circle cx="112.7" cy="172.1" r="2.2" fill="#d4e6f4" stroke="#5283ad" stroke-width="1.2"/>
<circle cx="77.9" cy="184.7" r="2.2" fill="#d4e6f4" stroke="#5283ad" stroke-width="1.2"/>
<circle cx="91.8" cy="186.2" r="2.2" fill="#d4e6f4" stroke="#5283ad" stroke-width="1.2"/>
<circle cx="119.8" cy="184.7" r="2.2" fill="#d4e6f4" stroke="#5283ad" stroke-width="1.2"/>
<circle cx="134.1" cy="186.2" r="2.2" fill="#d4e6f4" stroke="#5283ad" stroke-width="1.2"/>
<circle cx="71.2" cy="197.0" r="2.2" fill="#d4e6f4" stroke="#5283ad" stroke-width="1.2"/>
<circle cx="99.0" cy="198.4" r="2.2" fill="#d4e6f4" stroke="#5283ad" stroke-width="1.2"/>
<circle cx="112.7" cy="197.0" r="2.2" fill="#d4e6f4" stroke="#5283ad" stroke-width="1.2"/>
<circle cx="140.9" cy="198.4" r="2.2" fill="#d4e6f4" stroke="#5283ad" stroke-width="1.2"/>
<circle cx="77.9" cy="209.3" r="2.2" fill="#d4e6f4" stroke="#5283ad" stroke-width="1.2"/>
<circle cx="91.8" cy="210.7" r="2.2" fill="#d4e6f4" stroke="#5283ad" stroke-width="1.2"/>
<circle cx="119.8" cy="209.3" r="2.2" fill="#d4e6f4" stroke="#5283ad" stroke-width="1.2"/>
<circle cx="134.1" cy="210.7" r="2.2" fill="#d4e6f4" stroke="#5283ad" stroke-width="1.2"/>
<circle cx="71.2" cy="221.5" r="2.2" fill="#d4e6f4" stroke="#5283ad" stroke-width="1.2"/>
<circle cx="99.0" cy="223.0" r="2.2" fill="#d4e6f4" stroke="#5283ad" stroke-width="1.2"/>
<circle cx="112.7" cy="221.5" r="2.2" fill="#d4e6f4" stroke="#5283ad" stroke-width="1.2"/>
<circle cx="140.9" cy="223.0" r="2.2" fill="#d4e6f4" stroke="#5283ad" stroke-width="1.2"/>
<circle cx="77.9" cy="233.8" r="2.2" fill="#d4e6f4" stroke="#5283ad" stroke-width="1.2"/>
<circle cx="91.8" cy="235.2" r="2.2" fill="#d4e6f4" stroke="#5283ad" stroke-width="1.2"/>
<circle cx="119.8" cy="233.8" r="2.2" fill="#d4e6f4" stroke="#5283ad" stroke-width="1.2"/>
<circle cx="134.1" cy="235.2" r="2.2" fill="#d4e6f4" stroke="#5283ad" stroke-width="1.2"/>
<circle cx="99.0" cy="247.5" r="2.2" fill="#d4e6f4" stroke="#5283ad" stroke-width="1.2"/>
<circle cx="112.7" cy="246.1" r="2.2" fill="#d4e6f4" stroke="#5283ad" stroke-width="1.2"/>
</g>
<polygon points="106.3,160.7 148.4,185.1 148.4,233.9 106.3,258.3 64.2,233.9 64.2,185.1" fill="none" stroke="#9a9a9a" stroke-width="0.6"/>
<rect x="105.9" y="185.2" width="42.5" height="24.1" fill="none" stroke="#a0a0a0" stroke-width="0.6"/>
<text x="41" y="165" font-size="9"><tspan font-style="italic">φ</tspan>= 0°</text>
<text x="126" y="171" font-size="8.5" font-style="italic" transform="rotate(28 126 171)">(110)</text>
<text x="154.5" y="201" font-size="8.5" transform="rotate(90 154.5 201)">(200)</text>
<circle cx="44.2" cy="240" r="2.8" fill="#8fb2d2" stroke="#4f7fa8" stroke-width="1"/>
<circle cx="44.2" cy="250.1" r="2.2" fill="#e31a1a"/>
<circle cx="44.2" cy="259.3" r="1.6" fill="#f6d0d0" stroke="#e8a0a0" stroke-width="0.5"/>
<text x="50" y="243.3" font-size="9.5">Al</text>
<text x="50" y="253.4" font-size="9.5">O</text>
<text x="50" y="262.6" font-size="9.5">H</text>
<g clip-path="url(#cD1)">
<g filter="url(#bl4)"><path fill="#140864" d="M375 -8h8v8h-8z"/><path fill="#150869" d="M383 -8h8v8h-8z"/><path fill="#17096f" d="M391 -8h8v8h-8z"/><path fill="#180975" d="M399 -8h8v8h-8z"/><path fill="#1a0a7b" d="M407 -8h8v8h-8z"/><path fill="#1b0a80" d="M415 -8h8v8h-8z"/><path fill="#1c0b85" d="M423 -8h8v8h-8z"/><path fill="#1d0b8b" d="M431 -8h8v8h-8z"/><path fill="#1f0b90" d="M439 -8h8v8h-8z"/><path fill="#200c95" d="M447 -8h8v8h-8z"/><path fill="#220c97" d="M455 -8h8v8h-8z"/><path fill="#240d98" d="M463 -8h8v8h-8z"/><path fill="#260d98" d="M471 -8h8v8h-8z"/><path fill="#270d99" d="M479 -8h8v8h-8z"/><path fill="#280e99" d="M487 -8h8v8h-8z"/><path fill="#280e99" d="M495 -8h8v8h-8z"/><path fill="#280e99" d="M503 -8h8v8h-8z"/><path fill="#270d99" d="M511 -8h8v8h-8z"/><path fill="#260d98" d="M519 -8h8v8h-8z"/><path fill="#240d98" d="M527 -8h8v8h-8z"/><path fill="#220c97" d="M535 -8h8v8h-8z"/><path fill="#200c96" d="M543 -8h8v8h-8z"/><path fill="#1f0c91" d="M551 -8h8v8h-8z"/><path fill="#1e0b8c" d="M559 -8h8v8h-8z"/><path fill="#1c0b87" d="M567 -8h8v8h-8z"/><path fill="#1b0a81" d="M575 -8h8v8h-8z"/><path fill="#1a0a7c" d="M583 -8h8v8h-8z"/><path fill="#190977" d="M591 -8h8v8h-8z"/><path fill="#170971" d="M599 -8h8v8h-8z"/><path fill="#16086b" d="M607 -8h8v8h-8z"/><path fill="#140865" d="M615 -8h8v8h-8z"/><path fill="#140761" d="M623 -8h8v8h-8z"/><path fill="#13075d" d="M631 -8h8v8h-8z"/><path fill="#12075a" d="M639 -8h8v8h-8z"/><path fill="#110656" d="M647 -8h8v8h-8z"/><path fill="#100652" d="M655 -8h8v8h-8z"/><path fill="#16086c" d="M375 0h8v8h-8z"/><path fill="#180973" d="M383 0h8v8h-8z"/><path fill="#190979" d="M391 0h8v8h-8z"/><path fill="#1b0a7f" d="M399 0h8v8h-8z"/><path fill="#1c0b86" d="M407 0h8v8h-8z"/><path fill="#1e0b8d" d="M415 0h8v8h-8z"/><path fill="#1f0c93" d="M423 0h8v8h-8z"/><path fill="#220c97" d="M431 0h8v8h-8z"/><path fill="#260d98" d="M439 0h8v8h-8z"/><path fill="#290e9a" d="M447 0h8v8h-8z"/><path fill="#2c0e9b" d="M455 0h8v8h-8z"/><path fill="#2e0f9c" d="M463 0h8v8h-8z"/><path fill="#2f0f9c" d="M471 0h8v8h-8z"/><path fill="#300f9d" d="M479 0h8v8h-8z"/><path fill="#310f9d" d="M487 0h8v8h-8z"/><path fill="#310f9d" d="M495 0h8v8h-8z"/><path fill="#310f9d" d="M503 0h8v8h-8z"/><path fill="#310f9d" d="M511 0h8v8h-8z"/><path fill="#300f9c" d="M519 0h8v8h-8z"/><path fill="#2e0f9c" d="M527 0h8v8h-8z"/><path fill="#2d0f9b" d="M535 0h8v8h-8z"/><path fill="#2a0e9a" d="M543 0h8v8h-8z"/><path fill="#270d99" d="M551 0h8v8h-8z"/><path fill="#230d97" d="M559 0h8v8h-8z"/><path fill="#200c95" d="M567 0h8v8h-8z"/><path fill="#1e0b8f" d="M575 0h8v8h-8z"/><path fill="#1d0b88" d="M583 0h8v8h-8z"/><path fill="#1b0a81" d="M591 0h8v8h-8z"/><path fill="#1a0a7b" d="M599 0h8v8h-8z"/><path fill="#180974" d="M607 0h8v8h-8z"/><path fill="#17086e" d="M615 0h8v8h-8z"/><path fill="#150867" d="M623 0h8v8h-8z"/><path fill="#140762" d="M631 0h8v8h-8z"/><path fill="#13075e" d="M639 0h8v8h-8z"/><path fill="#12075a" d="M647 0h8v8h-8z"/><path fill="#110656" d="M655 0h8v8h-8z"/><path fill="#180975" d="M375 8h8v8h-8z"/><path fill="#1a0a7c" d="M383 8h8v8h-8z"/><path fill="#1c0a83" d="M391 8h8v8h-8z"/><path fill="#1e0b8c" d="M399 8h8v8h-8z"/><path fill="#1f0c93" d="M407 8h8v8h-8z"/><path fill="#230d97" d="M415 8h8v8h-8z"/><path fill="#280e99" d="M423 8h8v8h-8z"/><path fill="#2c0e9b" d="M431 8h8v8h-8z"/><path fill="#2f0f9c" d="M439 8h8v8h-8z"/><path fill="#32109d" d="M447 8h8v8h-8z"/><path fill="#34109e" d="M455 8h8v8h-8z"/><path fill="#36109f" d="M463 8h8v8h-8z"/><path fill="#37119f" d="M471 8h8v8h-8z"/><path fill="#3811a0" d="M479 8h8v8h-8z"/><path fill="#3911a0" d="M487 8h8v8h-8z"/><path fill="#3911a0" d="M495 8h8v8h-8z"/><path fill="#3911a0" d="M503 8h8v8h-8z"/><path fill="#3911a0" d="M511 8h8v8h-8z"/><path fill="#38119f" d="M519 8h8v8h-8z"/><path fill="#36109f" d="M527 8h8v8h-8z"/><path fill="#35109e" d="M535 8h8v8h-8z"/><path fill="#32109d" d="M543 8h8v8h-8z"/><path fill="#300f9c" d="M551 8h8v8h-8z"/><path fill="#2d0f9b" d="M559 8h8v8h-8z"/><path fill="#290e9a" d="M567 8h8v8h-8z"/><path fill="#240d98" d="M575 8h8v8h-8z"/><path fill="#200c95" d="M583 8h8v8h-8z"/><path fill="#1e0b8e" d="M591 8h8v8h-8z"/><path fill="#1c0b85" d="M599 8h8v8h-8z"/><path fill="#1a0a7e" d="M607 8h8v8h-8z"/><path fill="#190977" d="M615 8h8v8h-8z"/><path fill="#170970" d="M623 8h8v8h-8z"/><path fill="#150869" d="M631 8h8v8h-8z"/><path fill="#140863" d="M639 8h8v8h-8z"/><path fill="#13075f" d="M647 8h8v8h-8z"/><path fill="#12075a" d="M655 8h8v8h-8z"/><path fill="#1a0a7f" d="M375 16h8v8h-8z"/><path fill="#1c0b87" d="M383 16h8v8h-8z"/><path fill="#1f0b90" d="M391 16h8v8h-8z"/><path fill="#220c97" d="M399 16h8v8h-8z"/><path fill="#270d99" d="M407 16h8v8h-8z"/><path fill="#2d0f9b" d="M415 16h8v8h-8z"/><path fill="#310f9d" d="M423 16h8v8h-8z"/><path fill="#34109e" d="M431 16h8v8h-8z"/><path fill="#37119f" d="M439 16h8v8h-8z"/><path fill="#3a11a0" d="M447 16h8v8h-8z"/><path fill="#3c12a1" d="M455 16h8v8h-8z"/><path fill="#3e12a2" d="M463 16h8v8h-8z"/><path fill="#3f12a3" d="M471 16h8v8h-8z"/><path fill="#4012a3" d="M479 16h8v8h-8z"/><path fill="#4113a3" d="M487 16h8v8h-8z"/><path fill="#4113a3" d="M495 16h8v8h-8z"/><path fill="#4113a3" d="M503 16h8v8h-8z"/><path fill="#4113a3" d="M511 16h8v8h-8z"/><path fill="#4012a3" d="M519 16h8v8h-8z"/><path fill="#3e12a2" d="M527 16h8v8h-8z"/><path fill="#3c12a1" d="M535 16h8v8h-8z"/><path fill="#3a11a0" d="M543 16h8v8h-8z"/><path fill="#38119f" d="M551 16h8v8h-8z"/><path fill="#35109e" d="M559 16h8v8h-8z"/><path fill="#310f9d" d="M567 16h8v8h-8z"/><path fill="#2e0f9c" d="M575 16h8v8h-8z"/><path fill="#290e9a" d="M583 16h8v8h-8z"/><path fill="#230d97" d="M591 16h8v8h-8z"/><path fill="#1f0c92" d="M599 16h8v8h-8z"/><path fill="#1d0b89" d="M607 16h8v8h-8z"/><path fill="#1b0a80" d="M615 16h8v8h-8z"/><path fill="#190979" d="M623 16h8v8h-8z"/><path fill="#170971" d="M631 16h8v8h-8z"/><path fill="#160869" d="M639 16h8v8h-8z"/><path fill="#140863" d="M647 16h8v8h-8z"/><path fill="#13075f" d="M655 16h8v8h-8z"/><path fill="#1d0b89" d="M375 24h8v8h-8z"/><path fill="#1f0c93" d="M383 24h8v8h-8z"/><path fill="#250d98" d="M391 24h8v8h-8z"/><path fill="#2b0e9a" d="M399 24h8v8h-8z"/><path fill="#300f9c" d="M407 24h8v8h-8z"/><path fill="#34109e" d="M415 24h8v8h-8z"/><path fill="#38119f" d="M423 24h8v8h-8z"/><path fill="#3b11a1" d="M431 24h8v8h-8z"/><path fill="#3e12a2" d="M439 24h8v8h-8z"/><path fill="#4113a3" d="M447 24h8v8h-8z"/><path fill="#4313a4" d="M455 24h8v8h-8z"/><path fill="#4413a4" d="M463 24h8v8h-8z"/><path fill="#4513a5" d="M471 24h8v8h-8z"/><path fill="#4614a5" d="M479 24h8v8h-8z"/><path fill="#4614a5" d="M487 24h8v8h-8z"/><path fill="#4714a5" d="M495 24h8v8h-8z"/><path fill="#4714a5" d="M503 24h8v8h-8z"/><path fill="#4614a5" d="M511 24h8v8h-8z"/><path fill="#4513a5" d="M519 24h8v8h-8z"/><path fill="#4413a5" d="M527 24h8v8h-8z"/><path fill="#4313a4" d="M535 24h8v8h-8z"/><path fill="#4213a3" d="M543 24h8v8h-8z"/><path fill="#3f12a2" d="M551 24h8v8h-8z"/><path fill="#3c12a1" d="M559 24h8v8h-8z"/><path fill="#3911a0" d="M567 24h8v8h-8z"/><path fill="#35109e" d="M575 24h8v8h-8z"/><path fill="#310f9d" d="M583 24h8v8h-8z"/><path fill="#2c0e9b" d="M591 24h8v8h-8z"/><path fill="#260d98" d="M599 24h8v8h-8z"/><path fill="#200c96" d="M607 24h8v8h-8z"/><path fill="#1e0b8c" d="M615 24h8v8h-8z"/><path fill="#1b0a82" d="M623 24h8v8h-8z"/><path fill="#190a7a" d="M631 24h8v8h-8z"/><path fill="#170972" d="M639 24h8v8h-8z"/><path fill="#160869" d="M647 24h8v8h-8z"/><path fill="#140763" d="M655 24h8v8h-8z"/><path fill="#200c95" d="M375 32h8v8h-8z"/><path fill="#260d99" d="M383 32h8v8h-8z"/><path fill="#2d0f9b" d="M391 32h8v8h-8z"/><path fill="#32109d" d="M399 32h8v8h-8z"/><path fill="#36109f" d="M407 32h8v8h-8z"/><path fill="#3b11a1" d="M415 32h8v8h-8z"/><path fill="#3f12a2" d="M423 32h8v8h-8z"/><path fill="#4213a4" d="M431 32h8v8h-8z"/><path fill="#4413a5" d="M439 32h8v8h-8z"/><path fill="#4614a5" d="M447 32h8v8h-8z"/><path fill="#4814a6" d="M455 32h8v8h-8z"/><path fill="#4a14a6" d="M463 32h8v8h-8z"/><path fill="#4c14a6" d="M471 32h8v8h-8z"/><path fill="#4d15a6" d="M479 32h8v8h-8z"/><path fill="#4e15a5" d="M487 32h8v8h-8z"/><path fill="#4f15a5" d="M495 32h8v8h-8z"/><path fill="#4e15a5" d="M503 32h8v8h-8z"/><path fill="#4e15a5" d="M511 32h8v8h-8z"/><path fill="#4c15a6" d="M519 32h8v8h-8z"/><path fill="#4b14a6" d="M527 32h8v8h-8z"/><path fill="#4814a6" d="M535 32h8v8h-8z"/><path fill="#4714a5" d="M543 32h8v8h-8z"/><path fill="#4513a5" d="M551 32h8v8h-8z"/><path fill="#4313a4" d="M559 32h8v8h-8z"/><path fill="#4012a3" d="M567 32h8v8h-8z"/><path fill="#3c12a1" d="M575 32h8v8h-8z"/><path fill="#38119f" d="M583 32h8v8h-8z"/><path fill="#33109e" d="M591 32h8v8h-8z"/><path fill="#2e0f9c" d="M599 32h8v8h-8z"/><path fill="#280e99" d="M607 32h8v8h-8z"/><path fill="#210c96" d="M615 32h8v8h-8z"/><path fill="#1e0b8d" d="M623 32h8v8h-8z"/><path fill="#1b0a82" d="M631 32h8v8h-8z"/><path fill="#190a7a" d="M639 32h8v8h-8z"/><path fill="#170971" d="M647 32h8v8h-8z"/><path fill="#150868" d="M655 32h8v8h-8z"/><path fill="#270d99" d="M375 40h8v8h-8z"/><path fill="#2e0f9c" d="M383 40h8v8h-8z"/><path fill="#33109e" d="M391 40h8v8h-8z"/><path fill="#3811a0" d="M399 40h8v8h-8z"/><path fill="#3d12a2" d="M407 40h8v8h-8z"/><path fill="#4113a3" d="M415 40h8v8h-8z"/><path fill="#4413a5" d="M423 40h8v8h-8z"/><path fill="#4714a6" d="M431 40h8v8h-8z"/><path fill="#4a14a6" d="M439 40h8v8h-8z"/><path fill="#4d15a6" d="M447 40h8v8h-8z"/><path fill="#5015a5" d="M455 40h8v8h-8z"/><path fill="#5315a5" d="M463 40h8v8h-8z"/><path fill="#5315a5" d="M471 40h8v8h-8z"/><path fill="#5415a5" d="M479 40h8v8h-8z"/><path fill="#5415a5" d="M487 40h8v8h-8z"/><path fill="#5415a5" d="M495 40h8v8h-8z"/><path fill="#5415a5" d="M503 40h8v8h-8z"/><path fill="#5415a5" d="M511 40h8v8h-8z"/><path fill="#5315a5" d="M519 40h8v8h-8z"/><path fill="#5315a5" d="M527 40h8v8h-8z"/><path fill="#5115a5" d="M535 40h8v8h-8z"/><path fill="#4e15a5" d="M543 40h8v8h-8z"/><path fill="#4b14a6" d="M551 40h8v8h-8z"/><path fill="#4714a6" d="M559 40h8v8h-8z"/><path fill="#4513a5" d="M567 40h8v8h-8z"/><path fill="#4213a4" d="M575 40h8v8h-8z"/><path fill="#3e12a2" d="M583 40h8v8h-8z"/><path fill="#3a11a0" d="M591 40h8v8h-8z"/><path fill="#35109e" d="M599 40h8v8h-8z"/><path fill="#2f0f9c" d="M607 40h8v8h-8z"/><path fill="#290e9a" d="M615 40h8v8h-8z"/><path fill="#210c97" d="M623 40h8v8h-8z"/><path fill="#1e0b8d" d="M631 40h8v8h-8z"/><path fill="#1b0a82" d="M639 40h8v8h-8z"/><path fill="#190979" d="M647 40h8v8h-8z"/><path fill="#170970" d="M655 40h8v8h-8z"/><path fill="#2e0f9c" d="M375 48h8v8h-8z"/><path fill="#34109e" d="M383 48h8v8h-8z"/><path fill="#3911a0" d="M391 48h8v8h-8z"/><path fill="#3f12a2" d="M399 48h8v8h-8z"/><path fill="#4313a4" d="M407 48h8v8h-8z"/><path fill="#4614a5" d="M415 48h8v8h-8z"/><path fill="#4914a6" d="M423 48h8v8h-8z"/><path fill="#4e15a5" d="M431 48h8v8h-8z"/><path fill="#5215a5" d="M439 48h8v8h-8z"/><path fill="#5415a5" d="M447 48h8v8h-8z"/><path fill="#5415a5" d="M455 48h8v8h-8z"/><path fill="#5516a5" d="M463 48h8v8h-8z"/><path fill="#5516a5" d="M471 48h8v8h-8z"/><path fill="#5616a5" d="M479 48h8v8h-8z"/><path fill="#5616a5" d="M487 48h8v8h-8z"/><path fill="#5616a5" d="M495 48h8v8h-8z"/><path fill="#5616a5" d="M503 48h8v8h-8z"/><path fill="#5616a5" d="M511 48h8v8h-8z"/><path fill="#5516a5" d="M519 48h8v8h-8z"/><path fill="#5516a5" d="M527 48h8v8h-8z"/><path fill="#5416a5" d="M535 48h8v8h-8z"/><path fill="#5415a5" d="M543 48h8v8h-8z"/><path fill="#5315a5" d="M551 48h8v8h-8z"/><path fill="#4f15a5" d="M559 48h8v8h-8z"/><path fill="#4b14a6" d="M567 48h8v8h-8z"/><path fill="#4714a5" d="M575 48h8v8h-8z"/><path fill="#4413a4" d="M583 48h8v8h-8z"/><path fill="#4012a3" d="M591 48h8v8h-8z"/><path fill="#3b11a1" d="M599 48h8v8h-8z"/><path fill="#35109f" d="M607 48h8v8h-8z"/><path fill="#300f9c" d="M615 48h8v8h-8z"/><path fill="#290e9a" d="M623 48h8v8h-8z"/><path fill="#210c96" d="M631 48h8v8h-8z"/><path fill="#1e0b8c" d="M639 48h8v8h-8z"/><path fill="#1b0a80" d="M647 48h8v8h-8z"/><path fill="#190977" d="M655 48h8v8h-8z"/><path fill="#34109e" d="M375 56h8v8h-8z"/><path fill="#3a11a0" d="M383 56h8v8h-8z"/><path fill="#3f12a3" d="M391 56h8v8h-8z"/><path fill="#4413a4" d="M399 56h8v8h-8z"/><path fill="#4714a6" d="M407 56h8v8h-8z"/><path fill="#4c14a6" d="M415 56h8v8h-8z"/><path fill="#5115a5" d="M423 56h8v8h-8z"/><path fill="#5415a5" d="M431 56h8v8h-8z"/><path fill="#5516a5" d="M439 56h8v8h-8z"/><path fill="#5516a5" d="M447 56h8v8h-8z"/><path fill="#5616a5" d="M455 56h8v8h-8z"/><path fill="#5716a5" d="M463 56h8v8h-8z"/><path fill="#5716a5" d="M471 56h8v8h-8z"/><path fill="#5816a5" d="M479 56h8v8h-8z"/><path fill="#5816a5" d="M487 56h8v8h-8z"/><path fill="#5816a5" d="M495 56h8v8h-8z"/><path fill="#5816a5" d="M503 56h8v8h-8z"/><path fill="#5816a5" d="M511 56h8v8h-8z"/><path fill="#5716a5" d="M519 56h8v8h-8z"/><path fill="#5716a5" d="M527 56h8v8h-8z"/><path fill="#5616a5" d="M535 56h8v8h-8z"/><path fill="#5616a5" d="M543 56h8v8h-8z"/><path fill="#5516a5" d="M551 56h8v8h-8z"/><path fill="#5415a5" d="M559 56h8v8h-8z"/><path fill="#5215a5" d="M567 56h8v8h-8z"/><path fill="#4d15a6" d="M575 56h8v8h-8z"/><path fill="#4814a6" d="M583 56h8v8h-8z"/><path fill="#4413a5" d="M591 56h8v8h-8z"/><path fill="#4113a3" d="M599 56h8v8h-8z"/><path fill="#3b11a1" d="M607 56h8v8h-8z"/><path fill="#35109f" d="M615 56h8v8h-8z"/><path fill="#2f0f9c" d="M623 56h8v8h-8z"/><path fill="#280e99" d="M631 56h8v8h-8z"/><path fill="#200c95" d="M639 56h8v8h-8z"/><path fill="#1d0b89" d="M647 56h8v8h-8z"/><path fill="#1a0a7e" d="M655 56h8v8h-8z"/></g>
</g>
<g clip-path="url(#cD2)">
<g filter="url(#bl4)"><path fill="#190977" d="M375 36h8v8h-8z"/><path fill="#1d0b88" d="M383 36h8v8h-8z"/><path fill="#220c97" d="M391 36h8v8h-8z"/><path fill="#2e0f9b" d="M399 36h8v8h-8z"/><path fill="#3911a0" d="M407 36h8v8h-8z"/><path fill="#4413a4" d="M415 36h8v8h-8z"/><path fill="#5315a5" d="M423 36h8v8h-8z"/><path fill="#5d16a4" d="M431 36h8v8h-8z"/><path fill="#6518a3" d="M439 36h8v8h-8z"/><path fill="#6d19a3" d="M447 36h8v8h-8z"/><path fill="#7419a2" d="M455 36h8v8h-8z"/><path fill="#7a1aa1" d="M463 36h8v8h-8z"/><path fill="#7f1ba1" d="M471 36h8v8h-8z"/><path fill="#821ba1" d="M479 36h8v8h-8z"/><path fill="#841ba1" d="M487 36h8v8h-8z"/><path fill="#851ba0" d="M495 36h8v8h-8z"/><path fill="#841ba1" d="M503 36h8v8h-8z"/><path fill="#821ba1" d="M511 36h8v8h-8z"/><path fill="#7e1ba1" d="M519 36h8v8h-8z"/><path fill="#781aa2" d="M527 36h8v8h-8z"/><path fill="#7119a2" d="M535 36h8v8h-8z"/><path fill="#6918a3" d="M543 36h8v8h-8z"/><path fill="#5f17a4" d="M551 36h8v8h-8z"/><path fill="#5315a5" d="M559 36h8v8h-8z"/><path fill="#4313a4" d="M567 36h8v8h-8z"/><path fill="#37119f" d="M575 36h8v8h-8z"/><path fill="#290e9a" d="M583 36h8v8h-8z"/><path fill="#1f0b90" d="M591 36h8v8h-8z"/><path fill="#1a0a7d" d="M599 36h8v8h-8z"/><path fill="#16086c" d="M607 36h8v8h-8z"/><path fill="#140762" d="M615 36h8v8h-8z"/><path fill="#120759" d="M623 36h8v8h-8z"/><path fill="#100651" d="M631 36h8v8h-8z"/><path fill="#100650" d="M639 36h8v8h-8z"/><path fill="#0f054e" d="M647 36h8v8h-8z"/><path fill="#0f054c" d="M655 36h8v8h-8z"/><path fill="#1d0b8a" d="M375 44h8v8h-8z"/><path fill="#240d98" d="M383 44h8v8h-8z"/><path fill="#310f9d" d="M391 44h8v8h-8z"/><path fill="#3e12a2" d="M399 44h8v8h-8z"/><path fill="#4b14a6" d="M407 44h8v8h-8z"/><path fill="#5a16a4" d="M415 44h8v8h-8z"/><path fill="#6518a3" d="M423 44h8v8h-8z"/><path fill="#6f19a2" d="M431 44h8v8h-8z"/><path fill="#791aa2" d="M439 44h8v8h-8z"/><path fill="#811ba1" d="M447 44h8v8h-8z"/><path fill="#881ca0" d="M455 44h8v8h-8z"/><path fill="#8d1c9f" d="M463 44h8v8h-8z"/><path fill="#911c9e" d="M471 44h8v8h-8z"/><path fill="#941d9d" d="M479 44h8v8h-8z"/><path fill="#951d9c" d="M487 44h8v8h-8z"/><path fill="#961d9c" d="M495 44h8v8h-8z"/><path fill="#951d9c" d="M503 44h8v8h-8z"/><path fill="#931d9d" d="M511 44h8v8h-8z"/><path fill="#901c9e" d="M519 44h8v8h-8z"/><path fill="#8c1c9f" d="M527 44h8v8h-8z"/><path fill="#851ba0" d="M535 44h8v8h-8z"/><path fill="#7c1aa1" d="M543 44h8v8h-8z"/><path fill="#7119a2" d="M551 44h8v8h-8z"/><path fill="#6618a3" d="M559 44h8v8h-8z"/><path fill="#5916a4" d="M567 44h8v8h-8z"/><path fill="#4714a6" d="M575 44h8v8h-8z"/><path fill="#3911a0" d="M583 44h8v8h-8z"/><path fill="#2a0e9a" d="M591 44h8v8h-8z"/><path fill="#1e0b8f" d="M599 44h8v8h-8z"/><path fill="#190a7a" d="M607 44h8v8h-8z"/><path fill="#16086a" d="M615 44h8v8h-8z"/><path fill="#130760" d="M623 44h8v8h-8z"/><path fill="#110656" d="M631 44h8v8h-8z"/><path fill="#100651" d="M639 44h8v8h-8z"/><path fill="#0f054f" d="M647 44h8v8h-8z"/><path fill="#0f054d" d="M655 44h8v8h-8z"/><path fill="#240d98" d="M375 52h8v8h-8z"/><path fill="#32109d" d="M383 52h8v8h-8z"/><path fill="#4012a3" d="M391 52h8v8h-8z"/><path fill="#5015a5" d="M399 52h8v8h-8z"/><path fill="#5e17a4" d="M407 52h8v8h-8z"/><path fill="#6b18a3" d="M415 52h8v8h-8z"/><path fill="#771aa2" d="M423 52h8v8h-8z"/><path fill="#821ba1" d="M431 52h8v8h-8z"/><path fill="#8b1ca0" d="M439 52h8v8h-8z"/><path fill="#921d9d" d="M447 52h8v8h-8z"/><path fill="#981d9b" d="M455 52h8v8h-8z"/><path fill="#9c1d9a" d="M463 52h8v8h-8z"/><path fill="#a01d99" d="M471 52h8v8h-8z"/><path fill="#a31e98" d="M479 52h8v8h-8z"/><path fill="#a51e97" d="M487 52h8v8h-8z"/><path fill="#a51e97" d="M495 52h8v8h-8z"/><path fill="#a51e97" d="M503 52h8v8h-8z"/><path fill="#a31e98" d="M511 52h8v8h-8z"/><path fill="#a01d99" d="M519 52h8v8h-8z"/><path fill="#9b1d9a" d="M527 52h8v8h-8z"/><path fill="#951d9c" d="M535 52h8v8h-8z"/><path fill="#8e1c9f" d="M543 52h8v8h-8z"/><path fill="#841ba1" d="M551 52h8v8h-8z"/><path fill="#771aa2" d="M559 52h8v8h-8z"/><path fill="#6a18a3" d="M567 52h8v8h-8z"/><path fill="#5b16a4" d="M575 52h8v8h-8z"/><path fill="#4814a6" d="M583 52h8v8h-8z"/><path fill="#3811a0" d="M591 52h8v8h-8z"/><path fill="#280e99" d="M599 52h8v8h-8z"/><path fill="#1e0b8c" d="M607 52h8v8h-8z"/><path fill="#180975" d="M615 52h8v8h-8z"/><path fill="#150867" d="M623 52h8v8h-8z"/><path fill="#13075d" d="M631 52h8v8h-8z"/><path fill="#100652" d="M639 52h8v8h-8z"/><path fill="#100650" d="M647 52h8v8h-8z"/><path fill="#0f054e" d="M655 52h8v8h-8z"/><path fill="#310f9d" d="M375 60h8v8h-8z"/><path fill="#4012a3" d="M383 60h8v8h-8z"/><path fill="#5215a5" d="M391 60h8v8h-8z"/><path fill="#6117a4" d="M399 60h8v8h-8z"/><path fill="#6f19a2" d="M407 60h8v8h-8z"/><path fill="#7c1aa1" d="M415 60h8v8h-8z"/><path fill="#881ca0" d="M423 60h8v8h-8z"/><path fill="#911c9e" d="M431 60h8v8h-8z"/><path fill="#991d9b" d="M439 60h8v8h-8z"/><path fill="#a01d99" d="M447 60h8v8h-8z"/><path fill="#a51e97" d="M455 60h8v8h-8z"/><path fill="#a91e96" d="M463 60h8v8h-8z"/><path fill="#ab1e95" d="M471 60h8v8h-8z"/><path fill="#ad1e94" d="M479 60h8v8h-8z"/><path fill="#ae1e94" d="M487 60h8v8h-8z"/><path fill="#af1e94" d="M495 60h8v8h-8z"/><path fill="#ae1e94" d="M503 60h8v8h-8z"/><path fill="#ad1e94" d="M511 60h8v8h-8z"/><path fill="#ab1e95" d="M519 60h8v8h-8z"/><path fill="#a81e96" d="M527 60h8v8h-8z"/><path fill="#a41e97" d="M535 60h8v8h-8z"/><path fill="#9c1d9a" d="M543 60h8v8h-8z"/><path fill="#931d9d" d="M551 60h8v8h-8z"/><path fill="#891ca0" d="M559 60h8v8h-8z"/><path fill="#7b1aa1" d="M567 60h8v8h-8z"/><path fill="#6c18a3" d="M575 60h8v8h-8z"/><path fill="#5b16a4" d="M583 60h8v8h-8z"/><path fill="#4714a5" d="M591 60h8v8h-8z"/><path fill="#36109f" d="M599 60h8v8h-8z"/><path fill="#250d98" d="M607 60h8v8h-8z"/><path fill="#1c0b85" d="M615 60h8v8h-8z"/><path fill="#17096e" d="M623 60h8v8h-8z"/><path fill="#140864" d="M631 60h8v8h-8z"/><path fill="#110758" d="M639 60h8v8h-8z"/><path fill="#100651" d="M647 60h8v8h-8z"/><path fill="#10064f" d="M655 60h8v8h-8z"/><path fill="#3e12a2" d="M375 68h8v8h-8z"/><path fill="#5115a5" d="M383 68h8v8h-8z"/><path fill="#6117a4" d="M391 68h8v8h-8z"/><path fill="#7019a2" d="M399 68h8v8h-8z"/><path fill="#7f1ba1" d="M407 68h8v8h-8z"/><path fill="#8c1c9f" d="M415 68h8v8h-8z"/><path fill="#951d9c" d="M423 68h8v8h-8z"/><path fill="#9f1d99" d="M431 68h8v8h-8z"/><path fill="#a61e97" d="M439 68h8v8h-8z"/><path fill="#aa1e95" d="M447 68h8v8h-8z"/><path fill="#ae1e94" d="M455 68h8v8h-8z"/><path fill="#b21f93" d="M463 68h8v8h-8z"/><path fill="#b51f92" d="M471 68h8v8h-8z"/><path fill="#b71f91" d="M479 68h8v8h-8z"/><path fill="#b81f91" d="M487 68h8v8h-8z"/><path fill="#b91f90" d="M495 68h8v8h-8z"/><path fill="#b81f91" d="M503 68h8v8h-8z"/><path fill="#b71f91" d="M511 68h8v8h-8z"/><path fill="#b41f92" d="M519 68h8v8h-8z"/><path fill="#b11f93" d="M527 68h8v8h-8z"/><path fill="#ad1e94" d="M535 68h8v8h-8z"/><path fill="#a71e96" d="M543 68h8v8h-8z"/><path fill="#a01d99" d="M551 68h8v8h-8z"/><path fill="#961d9c" d="M559 68h8v8h-8z"/><path fill="#8b1ca0" d="M567 68h8v8h-8z"/><path fill="#7b1aa1" d="M575 68h8v8h-8z"/><path fill="#6a18a3" d="M583 68h8v8h-8z"/><path fill="#5916a4" d="M591 68h8v8h-8z"/><path fill="#4313a4" d="M599 68h8v8h-8z"/><path fill="#310f9d" d="M607 68h8v8h-8z"/><path fill="#200c95" d="M615 68h8v8h-8z"/><path fill="#1a0a7c" d="M623 68h8v8h-8z"/><path fill="#16086a" d="M631 68h8v8h-8z"/><path fill="#13075e" d="M639 68h8v8h-8z"/><path fill="#100653" d="M647 68h8v8h-8z"/><path fill="#100650" d="M655 68h8v8h-8z"/><path fill="#4c14a6" d="M375 76h8v8h-8z"/><path fill="#5f17a4" d="M383 76h8v8h-8z"/><path fill="#6f19a2" d="M391 76h8v8h-8z"/><path fill="#7f1ba1" d="M399 76h8v8h-8z"/><path fill="#8d1c9f" d="M407 76h8v8h-8z"/><path fill="#981d9b" d="M415 76h8v8h-8z"/><path fill="#a21e98" d="M423 76h8v8h-8z"/><path fill="#a91e96" d="M431 76h8v8h-8z"/><path fill="#ae1e94" d="M439 76h8v8h-8z"/><path fill="#b31f92" d="M447 76h8v8h-8z"/><path fill="#b71f91" d="M455 76h8v8h-8z"/><path fill="#bb1f90" d="M463 76h8v8h-8z"/><path fill="#bf208e" d="M471 76h8v8h-8z"/><path fill="#c2208d" d="M479 76h8v8h-8z"/><path fill="#c4208d" d="M487 76h8v8h-8z"/><path fill="#c5208c" d="M495 76h8v8h-8z"/><path fill="#c4208d" d="M503 76h8v8h-8z"/><path fill="#c2208d" d="M511 76h8v8h-8z"/><path fill="#be1f8f" d="M519 76h8v8h-8z"/><path fill="#ba1f90" d="M527 76h8v8h-8z"/><path fill="#b51f92" d="M535 76h8v8h-8z"/><path fill="#b01f93" d="M543 76h8v8h-8z"/><path fill="#aa1e95" d="M551 76h8v8h-8z"/><path fill="#a31e98" d="M559 76h8v8h-8z"/><path fill="#971d9c" d="M567 76h8v8h-8z"/><path fill="#8a1ca0" d="M575 76h8v8h-8z"/><path fill="#791aa2" d="M583 76h8v8h-8z"/><path fill="#6718a3" d="M591 76h8v8h-8z"/><path fill="#5415a5" d="M599 76h8v8h-8z"/><path fill="#3d12a1" d="M607 76h8v8h-8z"/><path fill="#2a0e9a" d="M615 76h8v8h-8z"/><path fill="#1d0b8a" d="M623 76h8v8h-8z"/><path fill="#170971" d="M631 76h8v8h-8z"/><path fill="#140864" d="M639 76h8v8h-8z"/><path fill="#120758" d="M647 76h8v8h-8z"/><path fill="#100651" d="M655 76h8v8h-8z"/><path fill="#5a16a4" d="M375 84h8v8h-8z"/><path fill="#6c18a3" d="M383 84h8v8h-8z"/><path fill="#7c1aa1" d="M391 84h8v8h-8z"/><path fill="#8c1c9f" d="M399 84h8v8h-8z"/><path fill="#981d9b" d="M407 84h8v8h-8z"/><path fill="#a31e98" d="M415 84h8v8h-8z"/><path fill="#aa1e95" d="M423 84h8v8h-8z"/><path fill="#b01f93" d="M431 84h8v8h-8z"/><path fill="#b61f91" d="M439 84h8v8h-8z"/><path fill="#bc1f8f" d="M447 84h8v8h-8z"/><path fill="#c2208d" d="M455 84h8v8h-8z"/><path fill="#c7208b" d="M463 84h8v8h-8z"/><path fill="#c82288" d="M471 84h8v8h-8z"/><path fill="#ca2386" d="M479 84h8v8h-8z"/><path fill="#ca2385" d="M487 84h8v8h-8z"/><path fill="#cb2484" d="M495 84h8v8h-8z"/><path fill="#ca2385" d="M503 84h8v8h-8z"/><path fill="#ca2386" d="M511 84h8v8h-8z"/><path fill="#c82289" d="M519 84h8v8h-8z"/><path fill="#c6208c" d="M527 84h8v8h-8z"/><path fill="#be1f8f" d="M535 84h8v8h-8z"/><path fill="#b81f91" d="M543 84h8v8h-8z"/><path fill="#b21f93" d="M551 84h8v8h-8z"/><path fill="#ab1e95" d="M559 84h8v8h-8z"/><path fill="#a21e98" d="M567 84h8v8h-8z"/><path fill="#951d9c" d="M575 84h8v8h-8z"/><path fill="#861ca0" d="M583 84h8v8h-8z"/><path fill="#7319a2" d="M591 84h8v8h-8z"/><path fill="#6017a4" d="M599 84h8v8h-8z"/><path fill="#4814a6" d="M607 84h8v8h-8z"/><path fill="#34109e" d="M615 84h8v8h-8z"/><path fill="#210c96" d="M623 84h8v8h-8z"/><path fill="#1a0a7d" d="M631 84h8v8h-8z"/><path fill="#16086a" d="M639 84h8v8h-8z"/><path fill="#13075e" d="M647 84h8v8h-8z"/><path fill="#100652" d="M655 84h8v8h-8z"/><path fill="#6618a3" d="M375 92h8v8h-8z"/><path fill="#771aa2" d="M383 92h8v8h-8z"/><path fill="#891ca0" d="M391 92h8v8h-8z"/><path fill="#961d9c" d="M399 92h8v8h-8z"/><path fill="#a21e98" d="M407 92h8v8h-8z"/><path fill="#aa1e95" d="M415 92h8v8h-8z"/><path fill="#b11f93" d="M423 92h8v8h-8z"/><path fill="#b81f91" d="M431 92h8v8h-8z"/><path fill="#bf208e" d="M439 92h8v8h-8z"/><path fill="#c6208b" d="M447 92h8v8h-8z"/><path fill="#c92287" d="M455 92h8v8h-8z"/><path fill="#cb2483" d="M463 92h8v8h-8z"/><path fill="#cc2582" d="M471 92h8v8h-8z"/><path fill="#cc2581" d="M479 92h8v8h-8z"/><path fill="#cd2581" d="M487 92h8v8h-8z"/><path fill="#cd2581" d="M495 92h8v8h-8z"/><path fill="#cd2581" d="M503 92h8v8h-8z"/><path fill="#cc2581" d="M511 92h8v8h-8z"/><path fill="#cc2582" d="M519 92h8v8h-8z"/><path fill="#cb2384" d="M527 92h8v8h-8z"/><path fill="#c82189" d="M535 92h8v8h-8z"/><path fill="#c2208d" d="M543 92h8v8h-8z"/><path fill="#b91f90" d="M551 92h8v8h-8z"/><path fill="#b21f93" d="M559 92h8v8h-8z"/><path fill="#aa1e95" d="M567 92h8v8h-8z"/><path fill="#9f1d99" d="M575 92h8v8h-8z"/><path fill="#911c9e" d="M583 92h8v8h-8z"/><path fill="#801ba1" d="M591 92h8v8h-8z"/><path fill="#6b18a3" d="M599 92h8v8h-8z"/><path fill="#5716a5" d="M607 92h8v8h-8z"/><path fill="#3e12a2" d="M615 92h8v8h-8z"/><path fill="#2a0e9a" d="M623 92h8v8h-8z"/><path fill="#1d0b89" d="M631 92h8v8h-8z"/><path fill="#17096f" d="M639 92h8v8h-8z"/><path fill="#140762" d="M647 92h8v8h-8z"/><path fill="#110656" d="M655 92h8v8h-8z"/><path fill="#7019a2" d="M375 100h8v8h-8z"/><path fill="#831ba1" d="M383 100h8v8h-8z"/><path fill="#921d9d" d="M391 100h8v8h-8z"/><path fill="#9f1d99" d="M399 100h8v8h-8z"/><path fill="#a91e96" d="M407 100h8v8h-8z"/><path fill="#b11f93" d="M415 100h8v8h-8z"/><path fill="#b81f91" d="M423 100h8v8h-8z"/><path fill="#c0208e" d="M431 100h8v8h-8z"/><path fill="#c7218a" d="M439 100h8v8h-8z"/><path fill="#cb2384" d="M447 100h8v8h-8z"/><path fill="#cc2582" d="M455 100h8v8h-8z"/><path fill="#cd2581" d="M463 100h8v8h-8z"/><path fill="#cd2580" d="M471 100h8v8h-8z"/><path fill="#cd2580" d="M479 100h8v8h-8z"/><path fill="#ce267f" d="M487 100h8v8h-8z"/><path fill="#ce267f" d="M495 100h8v8h-8z"/><path fill="#ce267f" d="M503 100h8v8h-8z"/><path fill="#cd2580" d="M511 100h8v8h-8z"/><path fill="#cd2580" d="M519 100h8v8h-8z"/><path fill="#cd2581" d="M527 100h8v8h-8z"/><path fill="#cc2582" d="M535 100h8v8h-8z"/><path fill="#c92288" d="M543 100h8v8h-8z"/><path fill="#c2208d" d="M551 100h8v8h-8z"/><path fill="#b91f90" d="M559 100h8v8h-8z"/><path fill="#b01f93" d="M567 100h8v8h-8z"/><path fill="#a71e96" d="M575 100h8v8h-8z"/><path fill="#9a1d9b" d="M583 100h8v8h-8z"/><path fill="#8b1ca0" d="M591 100h8v8h-8z"/><path fill="#761aa2" d="M599 100h8v8h-8z"/><path fill="#6117a4" d="M607 100h8v8h-8z"/><path fill="#4714a6" d="M615 100h8v8h-8z"/><path fill="#32109d" d="M623 100h8v8h-8z"/><path fill="#1f0c94" d="M631 100h8v8h-8z"/><path fill="#190978" d="M639 100h8v8h-8z"/><path fill="#150867" d="M647 100h8v8h-8z"/><path fill="#12075a" d="M655 100h8v8h-8z"/><path fill="#7a1aa1" d="M375 108h8v8h-8z"/><path fill="#8c1c9f" d="M383 108h8v8h-8z"/><path fill="#9a1d9b" d="M391 108h8v8h-8z"/><path fill="#a61e97" d="M399 108h8v8h-8z"/><path fill="#ae1e94" d="M407 108h8v8h-8z"/><path fill="#b71f91" d="M415 108h8v8h-8z"/><path fill="#bf208e" d="M423 108h8v8h-8z"/><path fill="#c7218a" d="M431 108h8v8h-8z"/><path fill="#cb2483" d="M439 108h8v8h-8z"/><path fill="#cc2581" d="M447 108h8v8h-8z"/><path fill="#cd2580" d="M455 108h8v8h-8z"/><path fill="#cd2680" d="M463 108h8v8h-8z"/><path fill="#ce267f" d="M471 108h8v8h-8z"/><path fill="#ce267e" d="M479 108h8v8h-8z"/><path fill="#ce267e" d="M487 108h8v8h-8z"/><path fill="#ce267e" d="M495 108h8v8h-8z"/><path fill="#ce267e" d="M503 108h8v8h-8z"/><path fill="#ce267e" d="M511 108h8v8h-8z"/><path fill="#ce267f" d="M519 108h8v8h-8z"/><path fill="#cd2680" d="M527 108h8v8h-8z"/><path fill="#cd2581" d="M535 108h8v8h-8z"/><path fill="#cc2582" d="M543 108h8v8h-8z"/><path fill="#c82288" d="M551 108h8v8h-8z"/><path fill="#c0208e" d="M559 108h8v8h-8z"/><path fill="#b61f91" d="M567 108h8v8h-8z"/><path fill="#ad1e94" d="M575 108h8v8h-8z"/><path fill="#a21e98" d="M583 108h8v8h-8z"/><path fill="#931d9d" d="M591 108h8v8h-8z"/><path fill="#801ba1" d="M599 108h8v8h-8z"/><path fill="#6a18a3" d="M607 108h8v8h-8z"/><path fill="#5415a5" d="M615 108h8v8h-8z"/><path fill="#3a11a1" d="M623 108h8v8h-8z"/><path fill="#250d98" d="M631 108h8v8h-8z"/><path fill="#1b0a81" d="M639 108h8v8h-8z"/><path fill="#16086b" d="M647 108h8v8h-8z"/><path fill="#13075e" d="M655 108h8v8h-8z"/></g>
</g>
<g clip-path="url(#cD3)">
<g filter="url(#bl4)"><path fill="#911c9e" d="M375 90h8v8h-8z"/><path fill="#a41e97" d="M383 90h8v8h-8z"/><path fill="#b31f92" d="M391 90h8v8h-8z"/><path fill="#c2208d" d="M399 90h8v8h-8z"/><path fill="#ca2386" d="M407 90h8v8h-8z"/><path fill="#cf277d" d="M415 90h8v8h-8z"/><path fill="#d42a75" d="M423 90h8v8h-8z"/><path fill="#d82e6e" d="M431 90h8v8h-8z"/><path fill="#dd3166" d="M439 90h8v8h-8z"/><path fill="#e03660" d="M447 90h8v8h-8z"/><path fill="#e33a5a" d="M455 90h8v8h-8z"/><path fill="#e53e56" d="M463 90h8v8h-8z"/><path fill="#e74153" d="M471 90h8v8h-8z"/><path fill="#e84251" d="M479 90h8v8h-8z"/><path fill="#e84250" d="M487 90h8v8h-8z"/><path fill="#e74152" d="M495 90h8v8h-8z"/><path fill="#e53e55" d="M503 90h8v8h-8z"/><path fill="#e2395b" d="M511 90h8v8h-8z"/><path fill="#df3363" d="M519 90h8v8h-8z"/><path fill="#d92e6c" d="M527 90h8v8h-8z"/><path fill="#d32a76" d="M535 90h8v8h-8z"/><path fill="#cd2580" d="M543 90h8v8h-8z"/><path fill="#c6208c" d="M551 90h8v8h-8z"/><path fill="#b41f92" d="M559 90h8v8h-8z"/><path fill="#9f1d99" d="M567 90h8v8h-8z"/><path fill="#841ba1" d="M575 90h8v8h-8z"/><path fill="#6818a3" d="M583 90h8v8h-8z"/><path fill="#5115a5" d="M591 90h8v8h-8z"/><path fill="#3f12a2" d="M599 90h8v8h-8z"/><path fill="#33109e" d="M607 90h8v8h-8z"/><path fill="#270d99" d="M615 90h8v8h-8z"/><path fill="#1f0c93" d="M623 90h8v8h-8z"/><path fill="#1c0b85" d="M631 90h8v8h-8z"/><path fill="#190977" d="M639 90h8v8h-8z"/><path fill="#150869" d="M647 90h8v8h-8z"/><path fill="#140762" d="M655 90h8v8h-8z"/><path fill="#a71e96" d="M375 98h8v8h-8z"/><path fill="#b71f91" d="M383 98h8v8h-8z"/><path fill="#c6208c" d="M391 98h8v8h-8z"/><path fill="#cc2581" d="M399 98h8v8h-8z"/><path fill="#d22977" d="M407 98h8v8h-8z"/><path fill="#d82d6e" d="M415 98h8v8h-8z"/><path fill="#de3265" d="M423 98h8v8h-8z"/><path fill="#e2395b" d="M431 98h8v8h-8z"/><path fill="#e74053" d="M439 98h8v8h-8z"/><path fill="#ea464c" d="M447 98h8v8h-8z"/><path fill="#ed4b46" d="M455 98h8v8h-8z"/><path fill="#f04f41" d="M463 98h8v8h-8z"/><path fill="#f1523e" d="M471 98h8v8h-8z"/><path fill="#f1543c" d="M479 98h8v8h-8z"/><path fill="#f1553c" d="M487 98h8v8h-8z"/><path fill="#f1533d" d="M495 98h8v8h-8z"/><path fill="#f05040" d="M503 98h8v8h-8z"/><path fill="#ed4a47" d="M511 98h8v8h-8z"/><path fill="#e8434f" d="M519 98h8v8h-8z"/><path fill="#e33b59" d="M527 98h8v8h-8z"/><path fill="#dd3165" d="M535 98h8v8h-8z"/><path fill="#d62c72" d="M543 98h8v8h-8z"/><path fill="#ce267e" d="M551 98h8v8h-8z"/><path fill="#c6208b" d="M559 98h8v8h-8z"/><path fill="#b21f93" d="M567 98h8v8h-8z"/><path fill="#9b1d9a" d="M575 98h8v8h-8z"/><path fill="#7c1aa1" d="M583 98h8v8h-8z"/><path fill="#6117a4" d="M591 98h8v8h-8z"/><path fill="#4814a6" d="M599 98h8v8h-8z"/><path fill="#3b11a1" d="M607 98h8v8h-8z"/><path fill="#2e0f9c" d="M615 98h8v8h-8z"/><path fill="#230d97" d="M623 98h8v8h-8z"/><path fill="#1e0b8c" d="M631 98h8v8h-8z"/><path fill="#1a0a7e" d="M639 98h8v8h-8z"/><path fill="#170970" d="M647 98h8v8h-8z"/><path fill="#140864" d="M655 98h8v8h-8z"/><path fill="#b71f91" d="M375 106h8v8h-8z"/><path fill="#c7218b" d="M383 106h8v8h-8z"/><path fill="#ce267f" d="M391 106h8v8h-8z"/><path fill="#d42b74" d="M399 106h8v8h-8z"/><path fill="#da2f6a" d="M407 106h8v8h-8z"/><path fill="#e1375e" d="M415 106h8v8h-8z"/><path fill="#e64053" d="M423 106h8v8h-8z"/><path fill="#eb4849" d="M431 106h8v8h-8z"/><path fill="#f05040" d="M439 106h8v8h-8z"/><path fill="#f2573a" d="M447 106h8v8h-8z"/><path fill="#f45d35" d="M455 106h8v8h-8z"/><path fill="#f66230" d="M463 106h8v8h-8z"/><path fill="#f7652d" d="M471 106h8v8h-8z"/><path fill="#f7672c" d="M479 106h8v8h-8z"/><path fill="#f7682b" d="M487 106h8v8h-8z"/><path fill="#f7662c" d="M495 106h8v8h-8z"/><path fill="#f66230" d="M503 106h8v8h-8z"/><path fill="#f45c35" d="M511 106h8v8h-8z"/><path fill="#f1543d" d="M519 106h8v8h-8z"/><path fill="#ec4a47" d="M527 106h8v8h-8z"/><path fill="#e63f54" d="M535 106h8v8h-8z"/><path fill="#df3362" d="M543 106h8v8h-8z"/><path fill="#d62c71" d="M551 106h8v8h-8z"/><path fill="#ce267f" d="M559 106h8v8h-8z"/><path fill="#c3208d" d="M567 106h8v8h-8z"/><path fill="#ad1e94" d="M575 106h8v8h-8z"/><path fill="#921d9d" d="M583 106h8v8h-8z"/><path fill="#7119a2" d="M591 106h8v8h-8z"/><path fill="#5716a5" d="M599 106h8v8h-8z"/><path fill="#4113a3" d="M607 106h8v8h-8z"/><path fill="#34109e" d="M615 106h8v8h-8z"/><path fill="#270d99" d="M623 106h8v8h-8z"/><path fill="#1f0c92" d="M631 106h8v8h-8z"/><path fill="#1c0a84" d="M639 106h8v8h-8z"/><path fill="#180975" d="M647 106h8v8h-8z"/><path fill="#150867" d="M655 106h8v8h-8z"/><path fill="#c6208c" d="M375 114h8v8h-8z"/><path fill="#cd2580" d="M383 114h8v8h-8z"/><path fill="#d42b74" d="M391 114h8v8h-8z"/><path fill="#db3068" d="M399 114h8v8h-8z"/><path fill="#e33a5b" d="M407 114h8v8h-8z"/><path fill="#e9444f" d="M415 114h8v8h-8z"/><path fill="#ef4e43" d="M423 114h8v8h-8z"/><path fill="#f2573a" d="M431 114h8v8h-8z"/><path fill="#f56032" d="M439 114h8v8h-8z"/><path fill="#f7682b" d="M447 114h8v8h-8z"/><path fill="#f96b28" d="M455 114h8v8h-8z"/><path fill="#f96e26" d="M463 114h8v8h-8z"/><path fill="#fa7024" d="M471 114h8v8h-8z"/><path fill="#fa7123" d="M479 114h8v8h-8z"/><path fill="#fa7223" d="M487 114h8v8h-8z"/><path fill="#fa7124" d="M495 114h8v8h-8z"/><path fill="#f96e26" d="M503 114h8v8h-8z"/><path fill="#f86b29" d="M511 114h8v8h-8z"/><path fill="#f6642e" d="M519 114h8v8h-8z"/><path fill="#f35938" d="M527 114h8v8h-8z"/><path fill="#ee4d44" d="M535 114h8v8h-8z"/><path fill="#e64053" d="M543 114h8v8h-8z"/><path fill="#de3264" d="M551 114h8v8h-8z"/><path fill="#d52b74" d="M559 114h8v8h-8z"/><path fill="#cb2483" d="M567 114h8v8h-8z"/><path fill="#bb1f90" d="M575 114h8v8h-8z"/><path fill="#a31e98" d="M583 114h8v8h-8z"/><path fill="#841ba1" d="M591 114h8v8h-8z"/><path fill="#6417a3" d="M599 114h8v8h-8z"/><path fill="#4914a6" d="M607 114h8v8h-8z"/><path fill="#3a11a0" d="M615 114h8v8h-8z"/><path fill="#2d0f9b" d="M623 114h8v8h-8z"/><path fill="#210c97" d="M631 114h8v8h-8z"/><path fill="#1d0b89" d="M639 114h8v8h-8z"/><path fill="#1a0a7a" d="M647 114h8v8h-8z"/><path fill="#16086c" d="M655 114h8v8h-8z"/><path fill="#cc2483" d="M375 122h8v8h-8z"/><path fill="#d32a76" d="M383 122h8v8h-8z"/><path fill="#db2f6a" d="M391 122h8v8h-8z"/><path fill="#e2395b" d="M399 122h8v8h-8z"/><path fill="#e9454e" d="M407 122h8v8h-8z"/><path fill="#f05040" d="M415 122h8v8h-8z"/><path fill="#f35b36" d="M423 122h8v8h-8z"/><path fill="#f7662d" d="M431 122h8v8h-8z"/><path fill="#f96c28" d="M439 122h8v8h-8z"/><path fill="#fa7024" d="M447 122h8v8h-8z"/><path fill="#fb7421" d="M455 122h8v8h-8z"/><path fill="#fb781f" d="M463 122h8v8h-8z"/><path fill="#fb7b1d" d="M471 122h8v8h-8z"/><path fill="#fc7c1c" d="M479 122h8v8h-8z"/><path fill="#fc7d1c" d="M487 122h8v8h-8z"/><path fill="#fc7c1d" d="M495 122h8v8h-8z"/><path fill="#fb781f" d="M503 122h8v8h-8z"/><path fill="#fa7422" d="M511 122h8v8h-8z"/><path fill="#f96e26" d="M519 122h8v8h-8z"/><path fill="#f7682b" d="M527 122h8v8h-8z"/><path fill="#f35a37" d="M535 122h8v8h-8z"/><path fill="#ed4b45" d="M543 122h8v8h-8z"/><path fill="#e53d57" d="M551 122h8v8h-8z"/><path fill="#db306a" d="M559 122h8v8h-8z"/><path fill="#d1287a" d="M567 122h8v8h-8z"/><path fill="#c7218a" d="M575 122h8v8h-8z"/><path fill="#b01f93" d="M583 122h8v8h-8z"/><path fill="#931d9d" d="M591 122h8v8h-8z"/><path fill="#6f19a2" d="M599 122h8v8h-8z"/><path fill="#5415a5" d="M607 122h8v8h-8z"/><path fill="#3f12a2" d="M615 122h8v8h-8z"/><path fill="#32109d" d="M623 122h8v8h-8z"/><path fill="#250d98" d="M631 122h8v8h-8z"/><path fill="#1e0b8e" d="M639 122h8v8h-8z"/><path fill="#1b0a7f" d="M647 122h8v8h-8z"/><path fill="#170970" d="M655 122h8v8h-8z"/><path fill="#d0287b" d="M375 130h8v8h-8z"/><path fill="#d82e6e" d="M383 130h8v8h-8z"/><path fill="#e1365f" d="M391 130h8v8h-8z"/><path fill="#e84350" d="M399 130h8v8h-8z"/><path fill="#ef4f42" d="M407 130h8v8h-8z"/><path fill="#f35b36" d="M415 130h8v8h-8z"/><path fill="#f7672c" d="M423 130h8v8h-8z"/><path fill="#f96d26" d="M431 130h8v8h-8z"/><path fill="#fa7322" d="M439 130h8v8h-8z"/><path fill="#fb791e" d="M447 130h8v8h-8z"/><path fill="#fc7e1b" d="M455 130h8v8h-8z"/><path fill="#fc7e1b" d="M463 130h8v8h-8z"/><path fill="#fc7e1b" d="M471 130h8v8h-8z"/><path fill="#fc7e1b" d="M479 130h8v8h-8z"/><path fill="#fc7e1b" d="M487 130h8v8h-8z"/><path fill="#fc7e1b" d="M495 130h8v8h-8z"/><path fill="#fc7e1b" d="M503 130h8v8h-8z"/><path fill="#fc7d1c" d="M511 130h8v8h-8z"/><path fill="#fb7620" d="M519 130h8v8h-8z"/><path fill="#f96e25" d="M527 130h8v8h-8z"/><path fill="#f7662d" d="M535 130h8v8h-8z"/><path fill="#f2563b" d="M543 130h8v8h-8z"/><path fill="#ea464c" d="M551 130h8v8h-8z"/><path fill="#e1365f" d="M559 130h8v8h-8z"/><path fill="#d62c71" d="M567 130h8v8h-8z"/><path fill="#cc2483" d="M575 130h8v8h-8z"/><path fill="#ba1f90" d="M583 130h8v8h-8z"/><path fill="#9f1d99" d="M591 130h8v8h-8z"/><path fill="#7c1aa1" d="M599 130h8v8h-8z"/><path fill="#5d17a4" d="M607 130h8v8h-8z"/><path fill="#4413a4" d="M615 130h8v8h-8z"/><path fill="#36109f" d="M623 130h8v8h-8z"/><path fill="#280e99" d="M631 130h8v8h-8z"/><path fill="#1f0c92" d="M639 130h8v8h-8z"/><path fill="#1b0a83" d="M647 130h8v8h-8z"/><path fill="#180973" d="M655 130h8v8h-8z"/><path fill="#d42b74" d="M375 138h8v8h-8z"/><path fill="#dd3166" d="M383 138h8v8h-8z"/><path fill="#e53d56" d="M391 138h8v8h-8z"/><path fill="#ed4a47" d="M399 138h8v8h-8z"/><path fill="#f2573a" d="M407 138h8v8h-8z"/><path fill="#f6652e" d="M415 138h8v8h-8z"/><path fill="#f96d27" d="M423 138h8v8h-8z"/><path fill="#fa7322" d="M431 138h8v8h-8z"/><path fill="#fb7a1d" d="M439 138h8v8h-8z"/><path fill="#fc7e1b" d="M447 138h8v8h-8z"/><path fill="#fc7e1b" d="M455 138h8v8h-8z"/><path fill="#fc7e1b" d="M463 138h8v8h-8z"/><path fill="#fc7e1b" d="M471 138h8v8h-8z"/><path fill="#fc7e1b" d="M479 138h8v8h-8z"/><path fill="#fc7e1b" d="M487 138h8v8h-8z"/><path fill="#fc7e1b" d="M495 138h8v8h-8z"/><path fill="#fc7e1b" d="M503 138h8v8h-8z"/><path fill="#fc7e1b" d="M511 138h8v8h-8z"/><path fill="#fc7e1b" d="M519 138h8v8h-8z"/><path fill="#fb7521" d="M527 138h8v8h-8z"/><path fill="#f96c27" d="M535 138h8v8h-8z"/><path fill="#f56032" d="M543 138h8v8h-8z"/><path fill="#ef4e42" d="M551 138h8v8h-8z"/><path fill="#e53e56" d="M559 138h8v8h-8z"/><path fill="#da2f6b" d="M567 138h8v8h-8z"/><path fill="#cf277c" d="M575 138h8v8h-8z"/><path fill="#c3208d" d="M583 138h8v8h-8z"/><path fill="#a81e96" d="M591 138h8v8h-8z"/><path fill="#881ca0" d="M599 138h8v8h-8z"/><path fill="#6517a3" d="M607 138h8v8h-8z"/><path fill="#4814a6" d="M615 138h8v8h-8z"/><path fill="#3911a0" d="M623 138h8v8h-8z"/><path fill="#2b0e9a" d="M631 138h8v8h-8z"/><path fill="#200c95" d="M639 138h8v8h-8z"/><path fill="#1c0b86" d="M647 138h8v8h-8z"/><path fill="#190976" d="M655 138h8v8h-8z"/><path fill="#d72d6f" d="M375 146h8v8h-8z"/><path fill="#e03660" d="M383 146h8v8h-8z"/><path fill="#e84350" d="M391 146h8v8h-8z"/><path fill="#f05040" d="M399 146h8v8h-8z"/><path fill="#f55e33" d="M407 146h8v8h-8z"/><path fill="#f86a29" d="M415 146h8v8h-8z"/><path fill="#fa7123" d="M423 146h8v8h-8z"/><path fill="#fb791e" d="M431 146h8v8h-8z"/><path fill="#fc7e1b" d="M439 146h8v8h-8z"/><path fill="#fc7e1b" d="M447 146h8v8h-8z"/><path fill="#fc7e1b" d="M455 146h8v8h-8z"/><path fill="#fc7e1b" d="M463 146h8v8h-8z"/><path fill="#fc7e1b" d="M471 146h8v8h-8z"/><path fill="#fc7e1b" d="M479 146h8v8h-8z"/><path fill="#fc7e1b" d="M487 146h8v8h-8z"/><path fill="#fc7e1b" d="M495 146h8v8h-8z"/><path fill="#fc7e1b" d="M503 146h8v8h-8z"/><path fill="#fc7e1b" d="M511 146h8v8h-8z"/><path fill="#fc7e1b" d="M519 146h8v8h-8z"/><path fill="#fb7b1d" d="M527 146h8v8h-8z"/><path fill="#fa7024" d="M535 146h8v8h-8z"/><path fill="#f7672c" d="M543 146h8v8h-8z"/><path fill="#f1553c" d="M551 146h8v8h-8z"/><path fill="#e8434f" d="M559 146h8v8h-8z"/><path fill="#de3264" d="M567 146h8v8h-8z"/><path fill="#d22978" d="M575 146h8v8h-8z"/><path fill="#c7218a" d="M583 146h8v8h-8z"/><path fill="#ae1e94" d="M591 146h8v8h-8z"/><path fill="#8f1c9e" d="M599 146h8v8h-8z"/><path fill="#6a18a3" d="M607 146h8v8h-8z"/><path fill="#4d15a6" d="M615 146h8v8h-8z"/><path fill="#3b11a1" d="M623 146h8v8h-8z"/><path fill="#2d0f9b" d="M631 146h8v8h-8z"/><path fill="#210c96" d="M639 146h8v8h-8z"/><path fill="#1d0b88" d="M647 146h8v8h-8z"/><path fill="#190979" d="M655 146h8v8h-8z"/><path fill="#d92e6c" d="M375 154h8v8h-8z"/><path fill="#e2395b" d="M383 154h8v8h-8z"/><path fill="#eb474b" d="M391 154h8v8h-8z"/><path fill="#f2553c" d="M399 154h8v8h-8z"/><path fill="#f6632f" d="M407 154h8v8h-8z"/><path fill="#f96d27" d="M415 154h8v8h-8z"/><path fill="#fb7521" d="M423 154h8v8h-8z"/><path fill="#fc7d1c" d="M431 154h8v8h-8z"/><path fill="#fc7e1b" d="M439 154h8v8h-8z"/><path fill="#fc7e1b" d="M447 154h8v8h-8z"/><path fill="#fc7e1b" d="M455 154h8v8h-8z"/><path fill="#fc7e1b" d="M463 154h8v8h-8z"/><path fill="#fc7e1b" d="M471 154h8v8h-8z"/><path fill="#fc7e1b" d="M479 154h8v8h-8z"/><path fill="#fc7e1b" d="M487 154h8v8h-8z"/><path fill="#fc7e1b" d="M495 154h8v8h-8z"/><path fill="#fc7e1b" d="M503 154h8v8h-8z"/><path fill="#fc7e1b" d="M511 154h8v8h-8z"/><path fill="#fc7e1b" d="M519 154h8v8h-8z"/><path fill="#fc7e1b" d="M527 154h8v8h-8z"/><path fill="#fb7422" d="M535 154h8v8h-8z"/><path fill="#f86a29" d="M543 154h8v8h-8z"/><path fill="#f35938" d="M551 154h8v8h-8z"/><path fill="#eb474b" d="M559 154h8v8h-8z"/><path fill="#e03560" d="M567 154h8v8h-8z"/><path fill="#d42b74" d="M575 154h8v8h-8z"/><path fill="#c92287" d="M583 154h8v8h-8z"/><path fill="#b31f92" d="M591 154h8v8h-8z"/><path fill="#941d9d" d="M599 154h8v8h-8z"/><path fill="#6e19a3" d="M607 154h8v8h-8z"/><path fill="#5115a5" d="M615 154h8v8h-8z"/><path fill="#3d12a2" d="M623 154h8v8h-8z"/><path fill="#2f0f9c" d="M631 154h8v8h-8z"/><path fill="#220c97" d="M639 154h8v8h-8z"/><path fill="#1d0b89" d="M647 154h8v8h-8z"/><path fill="#190a7a" d="M655 154h8v8h-8z"/><path fill="#da2f6a" d="M375 162h8v8h-8z"/><path fill="#e33b59" d="M383 162h8v8h-8z"/><path fill="#ec4949" d="M391 162h8v8h-8z"/><path fill="#f2573a" d="M399 162h8v8h-8z"/><path fill="#f7662d" d="M407 162h8v8h-8z"/><path fill="#f96e26" d="M415 162h8v8h-8z"/><path fill="#fb7620" d="M423 162h8v8h-8z"/><path fill="#fc7e1b" d="M431 162h8v8h-8z"/><path fill="#fc7e1b" d="M439 162h8v8h-8z"/><path fill="#fc7e1b" d="M447 162h8v8h-8z"/><path fill="#fc7e1b" d="M455 162h8v8h-8z"/><path fill="#fc7e1b" d="M463 162h8v8h-8z"/><path fill="#fc7e1b" d="M471 162h8v8h-8z"/><path fill="#fc7e1b" d="M479 162h8v8h-8z"/><path fill="#fc7e1b" d="M487 162h8v8h-8z"/><path fill="#fc7e1b" d="M495 162h8v8h-8z"/><path fill="#fc7e1b" d="M503 162h8v8h-8z"/><path fill="#fc7e1b" d="M511 162h8v8h-8z"/><path fill="#fc7e1b" d="M519 162h8v8h-8z"/><path fill="#fc7e1b" d="M527 162h8v8h-8z"/><path fill="#fb7620" d="M535 162h8v8h-8z"/><path fill="#f96b28" d="M543 162h8v8h-8z"/><path fill="#f45c36" d="M551 162h8v8h-8z"/><path fill="#ec4948" d="M559 162h8v8h-8z"/><path fill="#e1375e" d="M567 162h8v8h-8z"/><path fill="#d52b73" d="M575 162h8v8h-8z"/><path fill="#ca2385" d="M583 162h8v8h-8z"/><path fill="#b51f92" d="M591 162h8v8h-8z"/><path fill="#971d9c" d="M599 162h8v8h-8z"/><path fill="#7019a2" d="M607 162h8v8h-8z"/><path fill="#5315a5" d="M615 162h8v8h-8z"/><path fill="#3e12a2" d="M623 162h8v8h-8z"/><path fill="#2f0f9c" d="M631 162h8v8h-8z"/><path fill="#230d97" d="M639 162h8v8h-8z"/><path fill="#1d0b8a" d="M647 162h8v8h-8z"/><path fill="#1a0a7b" d="M655 162h8v8h-8z"/><path fill="#da2f6a" d="M375 170h8v8h-8z"/><path fill="#e33b59" d="M383 170h8v8h-8z"/><path fill="#ec4949" d="M391 170h8v8h-8z"/><path fill="#f2573a" d="M399 170h8v8h-8z"/><path fill="#f7662d" d="M407 170h8v8h-8z"/><path fill="#f96e26" d="M415 170h8v8h-8z"/><path fill="#fb7620" d="M423 170h8v8h-8z"/><path fill="#fc7e1b" d="M431 170h8v8h-8z"/><path fill="#fc7e1b" d="M439 170h8v8h-8z"/><path fill="#fc7e1b" d="M447 170h8v8h-8z"/><path fill="#fc7e1b" d="M455 170h8v8h-8z"/><path fill="#fc7e1b" d="M463 170h8v8h-8z"/><path fill="#fc7e1b" d="M471 170h8v8h-8z"/><path fill="#fc7e1b" d="M479 170h8v8h-8z"/><path fill="#fc7e1b" d="M487 170h8v8h-8z"/><path fill="#fc7e1b" d="M495 170h8v8h-8z"/><path fill="#fc7e1b" d="M503 170h8v8h-8z"/><path fill="#fc7e1b" d="M511 170h8v8h-8z"/><path fill="#fc7e1b" d="M519 170h8v8h-8z"/><path fill="#fc7e1b" d="M527 170h8v8h-8z"/><path fill="#fb7521" d="M535 170h8v8h-8z"/><path fill="#f96b28" d="M543 170h8v8h-8z"/><path fill="#f45c36" d="M551 170h8v8h-8z"/><path fill="#ec4949" d="M559 170h8v8h-8z"/><path fill="#e1375e" d="M567 170h8v8h-8z"/><path fill="#d52b73" d="M575 170h8v8h-8z"/><path fill="#ca2385" d="M583 170h8v8h-8z"/><path fill="#b41f92" d="M591 170h8v8h-8z"/><path fill="#961d9c" d="M599 170h8v8h-8z"/><path fill="#7019a2" d="M607 170h8v8h-8z"/><path fill="#5315a5" d="M615 170h8v8h-8z"/><path fill="#3e12a2" d="M623 170h8v8h-8z"/><path fill="#2f0f9c" d="M631 170h8v8h-8z"/><path fill="#230d97" d="M639 170h8v8h-8z"/><path fill="#1d0b8a" d="M647 170h8v8h-8z"/><path fill="#1a0a7b" d="M655 170h8v8h-8z"/><path fill="#d82e6d" d="M375 178h8v8h-8z"/><path fill="#e1385d" d="M383 178h8v8h-8z"/><path fill="#ea454d" d="M391 178h8v8h-8z"/><path fill="#f1533d" d="M399 178h8v8h-8z"/><path fill="#f56131" d="M407 178h8v8h-8z"/><path fill="#f96c28" d="M415 178h8v8h-8z"/><path fill="#fa7322" d="M423 178h8v8h-8z"/><path fill="#fb7b1d" d="M431 178h8v8h-8z"/><path fill="#fc7e1b" d="M439 178h8v8h-8z"/><path fill="#fc7e1b" d="M447 178h8v8h-8z"/><path fill="#fc7e1b" d="M455 178h8v8h-8z"/><path fill="#fc7e1b" d="M463 178h8v8h-8z"/><path fill="#fc7e1b" d="M471 178h8v8h-8z"/><path fill="#fc7e1b" d="M479 178h8v8h-8z"/><path fill="#fc7e1b" d="M487 178h8v8h-8z"/><path fill="#fc7e1b" d="M495 178h8v8h-8z"/><path fill="#fc7e1b" d="M503 178h8v8h-8z"/><path fill="#fc7e1b" d="M511 178h8v8h-8z"/><path fill="#fc7e1b" d="M519 178h8v8h-8z"/><path fill="#fc7d1c" d="M527 178h8v8h-8z"/><path fill="#fa7222" d="M535 178h8v8h-8z"/><path fill="#f8692a" d="M543 178h8v8h-8z"/><path fill="#f25839" d="M551 178h8v8h-8z"/><path fill="#ea464d" d="M559 178h8v8h-8z"/><path fill="#df3462" d="M567 178h8v8h-8z"/><path fill="#d42a75" d="M575 178h8v8h-8z"/><path fill="#c82288" d="M583 178h8v8h-8z"/><path fill="#b11f93" d="M591 178h8v8h-8z"/><path fill="#921d9d" d="M599 178h8v8h-8z"/><path fill="#6d18a3" d="M607 178h8v8h-8z"/><path fill="#5015a5" d="M615 178h8v8h-8z"/><path fill="#3c12a1" d="M623 178h8v8h-8z"/><path fill="#2e0f9c" d="M631 178h8v8h-8z"/><path fill="#220c97" d="M639 178h8v8h-8z"/><path fill="#1d0b89" d="M647 178h8v8h-8z"/><path fill="#190979" d="M655 178h8v8h-8z"/><path fill="#d52b73" d="M375 186h8v8h-8z"/><path fill="#de3264" d="M383 186h8v8h-8z"/><path fill="#e63f54" d="M391 186h8v8h-8z"/><path fill="#ee4c45" d="M399 186h8v8h-8z"/><path fill="#f35938" d="M407 186h8v8h-8z"/><path fill="#f7672c" d="M415 186h8v8h-8z"/><path fill="#f96e26" d="M423 186h8v8h-8z"/><path fill="#fb7521" d="M431 186h8v8h-8z"/><path fill="#fc7c1c" d="M439 186h8v8h-8z"/><path fill="#fc7e1b" d="M447 186h8v8h-8z"/><path fill="#fc7e1b" d="M455 186h8v8h-8z"/><path fill="#fc7e1b" d="M463 186h8v8h-8z"/><path fill="#fc7e1b" d="M471 186h8v8h-8z"/><path fill="#fc7e1b" d="M479 186h8v8h-8z"/><path fill="#fc7e1b" d="M487 186h8v8h-8z"/><path fill="#fc7e1b" d="M495 186h8v8h-8z"/><path fill="#fc7e1b" d="M503 186h8v8h-8z"/><path fill="#fc7e1b" d="M511 186h8v8h-8z"/><path fill="#fc7e1b" d="M519 186h8v8h-8z"/><path fill="#fb7620" d="M527 186h8v8h-8z"/><path fill="#f96d26" d="M535 186h8v8h-8z"/><path fill="#f66231" d="M543 186h8v8h-8z"/><path fill="#f05040" d="M551 186h8v8h-8z"/><path fill="#e63f54" d="M559 186h8v8h-8z"/><path fill="#db3069" d="M567 186h8v8h-8z"/><path fill="#d0287b" d="M575 186h8v8h-8z"/><path fill="#c5208c" d="M583 186h8v8h-8z"/><path fill="#aa1e95" d="M591 186h8v8h-8z"/><path fill="#8a1ca0" d="M599 186h8v8h-8z"/><path fill="#6618a3" d="M607 186h8v8h-8z"/><path fill="#4914a6" d="M615 186h8v8h-8z"/><path fill="#3911a0" d="M623 186h8v8h-8z"/><path fill="#2b0e9b" d="M631 186h8v8h-8z"/><path fill="#200c96" d="M639 186h8v8h-8z"/><path fill="#1c0b86" d="M647 186h8v8h-8z"/><path fill="#190977" d="M655 186h8v8h-8z"/><path fill="#d0287b" d="M375 194h8v8h-8z"/><path fill="#d82d6e" d="M383 194h8v8h-8z"/><path fill="#e0365f" d="M391 194h8v8h-8z"/><path fill="#e84251" d="M399 194h8v8h-8z"/><path fill="#ef4e42" d="M407 194h8v8h-8z"/><path fill="#f35a37" d="M415 194h8v8h-8z"/><path fill="#f7672c" d="M423 194h8v8h-8z"/><path fill="#f96d27" d="M431 194h8v8h-8z"/><path fill="#fa7322" d="M439 194h8v8h-8z"/><path fill="#fb781f" d="M447 194h8v8h-8z"/><path fill="#fc7e1b" d="M455 194h8v8h-8z"/><path fill="#fc7e1b" d="M463 194h8v8h-8z"/><path fill="#fc7e1b" d="M471 194h8v8h-8z"/><path fill="#fc7e1b" d="M479 194h8v8h-8z"/><path fill="#fc7e1b" d="M487 194h8v8h-8z"/><path fill="#fc7e1b" d="M495 194h8v8h-8z"/><path fill="#fc7e1b" d="M503 194h8v8h-8z"/><path fill="#fc7d1c" d="M511 194h8v8h-8z"/><path fill="#fb7620" d="M519 194h8v8h-8z"/><path fill="#f96e26" d="M527 194h8v8h-8z"/><path fill="#f7662d" d="M535 194h8v8h-8z"/><path fill="#f2563b" d="M543 194h8v8h-8z"/><path fill="#ea464c" d="M551 194h8v8h-8z"/><path fill="#e0365f" d="M559 194h8v8h-8z"/><path fill="#d62c72" d="M567 194h8v8h-8z"/><path fill="#cb2483" d="M575 194h8v8h-8z"/><path fill="#ba1f90" d="M583 194h8v8h-8z"/><path fill="#9f1d99" d="M591 194h8v8h-8z"/><path fill="#7b1aa1" d="M599 194h8v8h-8z"/><path fill="#5d17a4" d="M607 194h8v8h-8z"/><path fill="#4313a4" d="M615 194h8v8h-8z"/><path fill="#35109f" d="M623 194h8v8h-8z"/><path fill="#280e99" d="M631 194h8v8h-8z"/><path fill="#1f0c92" d="M639 194h8v8h-8z"/><path fill="#1b0a82" d="M647 194h8v8h-8z"/><path fill="#180973" d="M655 194h8v8h-8z"/><path fill="#ca2386" d="M375 202h8v8h-8z"/><path fill="#d12879" d="M383 202h8v8h-8z"/><path fill="#d92e6d" d="M391 202h8v8h-8z"/><path fill="#e0365f" d="M399 202h8v8h-8z"/><path fill="#e74152" d="M407 202h8v8h-8z"/><path fill="#ed4c45" d="M415 202h8v8h-8z"/><path fill="#f2563a" d="M423 202h8v8h-8z"/><path fill="#f56131" d="M431 202h8v8h-8z"/><path fill="#f8692a" d="M439 202h8v8h-8z"/><path fill="#f96d26" d="M447 202h8v8h-8z"/><path fill="#fa7123" d="M455 202h8v8h-8z"/><path fill="#fb7421" d="M463 202h8v8h-8z"/><path fill="#fb7720" d="M471 202h8v8h-8z"/><path fill="#fb791f" d="M479 202h8v8h-8z"/><path fill="#fb791e" d="M487 202h8v8h-8z"/><path fill="#fb781f" d="M495 202h8v8h-8z"/><path fill="#fb7521" d="M503 202h8v8h-8z"/><path fill="#fa7024" d="M511 202h8v8h-8z"/><path fill="#f96b28" d="M519 202h8v8h-8z"/><path fill="#f66330" d="M527 202h8v8h-8z"/><path fill="#f2553b" d="M535 202h8v8h-8z"/><path fill="#eb484a" d="M543 202h8v8h-8z"/><path fill="#e2395b" d="M551 202h8v8h-8z"/><path fill="#d92e6d" d="M559 202h8v8h-8z"/><path fill="#cf277d" d="M567 202h8v8h-8z"/><path fill="#c4208d" d="M575 202h8v8h-8z"/><path fill="#ac1e95" d="M583 202h8v8h-8z"/><path fill="#8e1c9f" d="M591 202h8v8h-8z"/><path fill="#6c18a3" d="M599 202h8v8h-8z"/><path fill="#5015a5" d="M607 202h8v8h-8z"/><path fill="#3d12a2" d="M615 202h8v8h-8z"/><path fill="#300f9c" d="M623 202h8v8h-8z"/><path fill="#240d97" d="M631 202h8v8h-8z"/><path fill="#1e0b8c" d="M639 202h8v8h-8z"/><path fill="#1a0a7d" d="M647 202h8v8h-8z"/><path fill="#17096e" d="M655 202h8v8h-8z"/><path fill="#bc1f8f" d="M375 210h8v8h-8z"/><path fill="#c92287" d="M383 210h8v8h-8z"/><path fill="#d0287b" d="M391 210h8v8h-8z"/><path fill="#d72d70" d="M399 210h8v8h-8z"/><path fill="#de3264" d="M407 210h8v8h-8z"/><path fill="#e43c59" d="M415 210h8v8h-8z"/><path fill="#e9454d" d="M423 210h8v8h-8z"/><path fill="#ee4d43" d="M431 210h8v8h-8z"/><path fill="#f2563b" d="M439 210h8v8h-8z"/><path fill="#f45d35" d="M447 210h8v8h-8z"/><path fill="#f6632f" d="M455 210h8v8h-8z"/><path fill="#f8682b" d="M463 210h8v8h-8z"/><path fill="#f86a29" d="M471 210h8v8h-8z"/><path fill="#f86b28" d="M479 210h8v8h-8z"/><path fill="#f96b28" d="M487 210h8v8h-8z"/><path fill="#f86a29" d="M495 210h8v8h-8z"/><path fill="#f8682b" d="M503 210h8v8h-8z"/><path fill="#f66230" d="M511 210h8v8h-8z"/><path fill="#f35a38" d="M519 210h8v8h-8z"/><path fill="#ef4f41" d="M527 210h8v8h-8z"/><path fill="#e9444e" d="M535 210h8v8h-8z"/><path fill="#e1385d" d="M543 210h8v8h-8z"/><path fill="#d92e6d" d="M551 210h8v8h-8z"/><path fill="#d0287b" d="M559 210h8v8h-8z"/><path fill="#c7218a" d="M567 210h8v8h-8z"/><path fill="#b21f93" d="M575 210h8v8h-8z"/><path fill="#991d9b" d="M583 210h8v8h-8z"/><path fill="#761aa2" d="M591 210h8v8h-8z"/><path fill="#5c16a4" d="M599 210h8v8h-8z"/><path fill="#4413a4" d="M607 210h8v8h-8z"/><path fill="#36109f" d="M615 210h8v8h-8z"/><path fill="#290e9a" d="M623 210h8v8h-8z"/><path fill="#200c94" d="M631 210h8v8h-8z"/><path fill="#1c0b86" d="M639 210h8v8h-8z"/><path fill="#190977" d="M647 210h8v8h-8z"/><path fill="#150869" d="M655 210h8v8h-8z"/><path fill="#a71e96" d="M375 218h8v8h-8z"/><path fill="#b81f91" d="M383 218h8v8h-8z"/><path fill="#c7208b" d="M391 218h8v8h-8z"/><path fill="#cd2581" d="M399 218h8v8h-8z"/><path fill="#d32a77" d="M407 218h8v8h-8z"/><path fill="#d82e6d" d="M415 218h8v8h-8z"/><path fill="#de3264" d="M423 218h8v8h-8z"/><path fill="#e33a5a" d="M431 218h8v8h-8z"/><path fill="#e74152" d="M439 218h8v8h-8z"/><path fill="#eb474b" d="M447 218h8v8h-8z"/><path fill="#ee4c45" d="M455 218h8v8h-8z"/><path fill="#f05040" d="M463 218h8v8h-8z"/><path fill="#f1533d" d="M471 218h8v8h-8z"/><path fill="#f2553b" d="M479 218h8v8h-8z"/><path fill="#f2563b" d="M487 218h8v8h-8z"/><path fill="#f1543c" d="M495 218h8v8h-8z"/><path fill="#f0513f" d="M503 218h8v8h-8z"/><path fill="#ed4b46" d="M511 218h8v8h-8z"/><path fill="#e9444e" d="M519 218h8v8h-8z"/><path fill="#e43c58" d="M527 218h8v8h-8z"/><path fill="#de3264" d="M535 218h8v8h-8z"/><path fill="#d62c71" d="M543 218h8v8h-8z"/><path fill="#cf277d" d="M551 218h8v8h-8z"/><path fill="#c7218b" d="M559 218h8v8h-8z"/><path fill="#b31f92" d="M567 218h8v8h-8z"/><path fill="#9c1d9a" d="M575 218h8v8h-8z"/><path fill="#7e1ba1" d="M583 218h8v8h-8z"/><path fill="#6217a4" d="M591 218h8v8h-8z"/><path fill="#4914a6" d="M599 218h8v8h-8z"/><path fill="#3b11a1" d="M607 218h8v8h-8z"/><path fill="#2e0f9c" d="M615 218h8v8h-8z"/><path fill="#230d97" d="M623 218h8v8h-8z"/><path fill="#1e0b8c" d="M631 218h8v8h-8z"/><path fill="#1a0a7e" d="M639 218h8v8h-8z"/><path fill="#170970" d="M647 218h8v8h-8z"/><path fill="#140864" d="M655 218h8v8h-8z"/><path fill="#8c1c9f" d="M375 226h8v8h-8z"/><path fill="#9f1d99" d="M383 226h8v8h-8z"/><path fill="#ae1e94" d="M391 226h8v8h-8z"/><path fill="#bc1f8f" d="M399 226h8v8h-8z"/><path fill="#c82189" d="M407 226h8v8h-8z"/><path fill="#cd2581" d="M415 226h8v8h-8z"/><path fill="#d12979" d="M423 226h8v8h-8z"/><path fill="#d62c72" d="M431 226h8v8h-8z"/><path fill="#da2f6b" d="M439 226h8v8h-8z"/><path fill="#de3265" d="M447 226h8v8h-8z"/><path fill="#e0365f" d="M455 226h8v8h-8z"/><path fill="#e33a5b" d="M463 226h8v8h-8z"/><path fill="#e43c58" d="M471 226h8v8h-8z"/><path fill="#e53e56" d="M479 226h8v8h-8z"/><path fill="#e53e56" d="M487 226h8v8h-8z"/><path fill="#e53d57" d="M495 226h8v8h-8z"/><path fill="#e33a5b" d="M503 226h8v8h-8z"/><path fill="#e03560" d="M511 226h8v8h-8z"/><path fill="#dc3068" d="M519 226h8v8h-8z"/><path fill="#d72c70" d="M527 226h8v8h-8z"/><path fill="#d1287a" d="M535 226h8v8h-8z"/><path fill="#cb2484" d="M543 226h8v8h-8z"/><path fill="#c1208e" d="M551 226h8v8h-8z"/><path fill="#af1e94" d="M559 226h8v8h-8z"/><path fill="#991d9b" d="M567 226h8v8h-8z"/><path fill="#7d1aa1" d="M575 226h8v8h-8z"/><path fill="#6417a3" d="M583 226h8v8h-8z"/><path fill="#4c15a6" d="M591 226h8v8h-8z"/><path fill="#3d12a2" d="M599 226h8v8h-8z"/><path fill="#310f9d" d="M607 226h8v8h-8z"/><path fill="#260d98" d="M615 226h8v8h-8z"/><path fill="#1f0c91" d="M623 226h8v8h-8z"/><path fill="#1c0a83" d="M631 226h8v8h-8z"/><path fill="#180975" d="M639 226h8v8h-8z"/><path fill="#150868" d="M647 226h8v8h-8z"/><path fill="#140761" d="M655 226h8v8h-8z"/><path fill="#6918a3" d="M375 234h8v8h-8z"/><path fill="#7b1aa1" d="M383 234h8v8h-8z"/><path fill="#901c9e" d="M391 234h8v8h-8z"/><path fill="#a01d99" d="M399 234h8v8h-8z"/><path fill="#ad1e94" d="M407 234h8v8h-8z"/><path fill="#b91f90" d="M415 234h8v8h-8z"/><path fill="#c3208d" d="M423 234h8v8h-8z"/><path fill="#c92287" d="M431 234h8v8h-8z"/><path fill="#cc2582" d="M439 234h8v8h-8z"/><path fill="#cf277c" d="M447 234h8v8h-8z"/><path fill="#d22978" d="M455 234h8v8h-8z"/><path fill="#d42a75" d="M463 234h8v8h-8z"/><path fill="#d52b73" d="M471 234h8v8h-8z"/><path fill="#d62c71" d="M479 234h8v8h-8z"/><path fill="#d62c71" d="M487 234h8v8h-8z"/><path fill="#d62c72" d="M495 234h8v8h-8z"/><path fill="#d42a75" d="M503 234h8v8h-8z"/><path fill="#d12979" d="M511 234h8v8h-8z"/><path fill="#ce267f" d="M519 234h8v8h-8z"/><path fill="#ca2386" d="M527 234h8v8h-8z"/><path fill="#c2208d" d="M535 234h8v8h-8z"/><path fill="#b41f92" d="M543 234h8v8h-8z"/><path fill="#a51e97" d="M551 234h8v8h-8z"/><path fill="#901c9e" d="M559 234h8v8h-8z"/><path fill="#7519a2" d="M567 234h8v8h-8z"/><path fill="#6017a4" d="M575 234h8v8h-8z"/><path fill="#4b14a6" d="M583 234h8v8h-8z"/><path fill="#3d12a2" d="M591 234h8v8h-8z"/><path fill="#32109d" d="M599 234h8v8h-8z"/><path fill="#270d99" d="M607 234h8v8h-8z"/><path fill="#1f0c93" d="M615 234h8v8h-8z"/><path fill="#1c0b86" d="M623 234h8v8h-8z"/><path fill="#190979" d="M631 234h8v8h-8z"/><path fill="#16086c" d="M639 234h8v8h-8z"/><path fill="#140763" d="M647 234h8v8h-8z"/><path fill="#13075e" d="M655 234h8v8h-8z"/><path fill="#4d15a6" d="M375 242h8v8h-8z"/><path fill="#5c16a4" d="M383 242h8v8h-8z"/><path fill="#6918a3" d="M391 242h8v8h-8z"/><path fill="#781aa2" d="M399 242h8v8h-8z"/><path fill="#8a1ca0" d="M407 242h8v8h-8z"/><path fill="#971d9c" d="M415 242h8v8h-8z"/><path fill="#a41e97" d="M423 242h8v8h-8z"/><path fill="#ac1e95" d="M431 242h8v8h-8z"/><path fill="#b41f92" d="M439 242h8v8h-8z"/><path fill="#bb1f90" d="M447 242h8v8h-8z"/><path fill="#c0208e" d="M455 242h8v8h-8z"/><path fill="#c5208c" d="M463 242h8v8h-8z"/><path fill="#c7218b" d="M471 242h8v8h-8z"/><path fill="#c7218a" d="M479 242h8v8h-8z"/><path fill="#c82189" d="M487 242h8v8h-8z"/><path fill="#c7218a" d="M495 242h8v8h-8z"/><path fill="#c5208c" d="M503 242h8v8h-8z"/><path fill="#bf208e" d="M511 242h8v8h-8z"/><path fill="#b81f91" d="M519 242h8v8h-8z"/><path fill="#ae1e94" d="M527 242h8v8h-8z"/><path fill="#a21e98" d="M535 242h8v8h-8z"/><path fill="#921d9d" d="M543 242h8v8h-8z"/><path fill="#7e1aa1" d="M551 242h8v8h-8z"/><path fill="#6a18a3" d="M559 242h8v8h-8z"/><path fill="#5816a5" d="M567 242h8v8h-8z"/><path fill="#4614a5" d="M575 242h8v8h-8z"/><path fill="#3b11a1" d="M583 242h8v8h-8z"/><path fill="#310f9d" d="M591 242h8v8h-8z"/><path fill="#270d99" d="M599 242h8v8h-8z"/><path fill="#1f0c94" d="M607 242h8v8h-8z"/><path fill="#1d0b87" d="M615 242h8v8h-8z"/><path fill="#1a0a7b" d="M623 242h8v8h-8z"/><path fill="#17086e" d="M631 242h8v8h-8z"/><path fill="#140864" d="M639 242h8v8h-8z"/><path fill="#13075f" d="M647 242h8v8h-8z"/><path fill="#12075a" d="M655 242h8v8h-8z"/><path fill="#3b11a1" d="M375 250h8v8h-8z"/><path fill="#4213a3" d="M383 250h8v8h-8z"/><path fill="#4a14a6" d="M391 250h8v8h-8z"/><path fill="#5616a5" d="M399 250h8v8h-8z"/><path fill="#6217a4" d="M407 250h8v8h-8z"/><path fill="#6c18a3" d="M415 250h8v8h-8z"/><path fill="#771aa2" d="M423 250h8v8h-8z"/><path fill="#841ba1" d="M431 250h8v8h-8z"/><path fill="#8e1c9f" d="M439 250h8v8h-8z"/><path fill="#961d9c" d="M447 250h8v8h-8z"/><path fill="#9c1d9a" d="M455 250h8v8h-8z"/><path fill="#a11e98" d="M463 250h8v8h-8z"/><path fill="#a41e97" d="M471 250h8v8h-8z"/><path fill="#a61e97" d="M479 250h8v8h-8z"/><path fill="#a61e97" d="M487 250h8v8h-8z"/><path fill="#a51e97" d="M495 250h8v8h-8z"/><path fill="#a21e98" d="M503 250h8v8h-8z"/><path fill="#9b1d9a" d="M511 250h8v8h-8z"/><path fill="#921d9d" d="M519 250h8v8h-8z"/><path fill="#861ca0" d="M527 250h8v8h-8z"/><path fill="#761aa2" d="M535 250h8v8h-8z"/><path fill="#6818a3" d="M543 250h8v8h-8z"/><path fill="#5a16a4" d="M551 250h8v8h-8z"/><path fill="#4a14a6" d="M559 250h8v8h-8z"/><path fill="#4012a3" d="M567 250h8v8h-8z"/><path fill="#37119f" d="M575 250h8v8h-8z"/><path fill="#2e0f9b" d="M583 250h8v8h-8z"/><path fill="#250d98" d="M591 250h8v8h-8z"/><path fill="#1f0c92" d="M599 250h8v8h-8z"/><path fill="#1c0b86" d="M607 250h8v8h-8z"/><path fill="#1a0a7b" d="M615 250h8v8h-8z"/><path fill="#17096f" d="M623 250h8v8h-8z"/><path fill="#140864" d="M631 250h8v8h-8z"/><path fill="#130760" d="M639 250h8v8h-8z"/><path fill="#12075b" d="M647 250h8v8h-8z"/><path fill="#110656" d="M655 250h8v8h-8z"/><path fill="#2c0e9b" d="M375 258h8v8h-8z"/><path fill="#32109d" d="M383 258h8v8h-8z"/><path fill="#3811a0" d="M391 258h8v8h-8z"/><path fill="#3e12a2" d="M399 258h8v8h-8z"/><path fill="#4313a4" d="M407 258h8v8h-8z"/><path fill="#4a14a6" d="M415 258h8v8h-8z"/><path fill="#5315a5" d="M423 258h8v8h-8z"/><path fill="#5b16a4" d="M431 258h8v8h-8z"/><path fill="#6217a4" d="M439 258h8v8h-8z"/><path fill="#6818a3" d="M447 258h8v8h-8z"/><path fill="#6d18a3" d="M455 258h8v8h-8z"/><path fill="#7119a2" d="M463 258h8v8h-8z"/><path fill="#7319a2" d="M471 258h8v8h-8z"/><path fill="#761aa2" d="M479 258h8v8h-8z"/><path fill="#761aa2" d="M487 258h8v8h-8z"/><path fill="#7419a2" d="M495 258h8v8h-8z"/><path fill="#7119a2" d="M503 258h8v8h-8z"/><path fill="#6c18a3" d="M511 258h8v8h-8z"/><path fill="#6518a3" d="M519 258h8v8h-8z"/><path fill="#5c16a4" d="M527 258h8v8h-8z"/><path fill="#5215a5" d="M535 258h8v8h-8z"/><path fill="#4714a6" d="M543 258h8v8h-8z"/><path fill="#3f12a3" d="M551 258h8v8h-8z"/><path fill="#3811a0" d="M559 258h8v8h-8z"/><path fill="#310f9d" d="M567 258h8v8h-8z"/><path fill="#280e99" d="M575 258h8v8h-8z"/><path fill="#210c97" d="M583 258h8v8h-8z"/><path fill="#1e0b8e" d="M591 258h8v8h-8z"/><path fill="#1c0a83" d="M599 258h8v8h-8z"/><path fill="#190979" d="M607 258h8v8h-8z"/><path fill="#16086d" d="M615 258h8v8h-8z"/><path fill="#140864" d="M623 258h8v8h-8z"/><path fill="#130760" d="M631 258h8v8h-8z"/><path fill="#12075b" d="M639 258h8v8h-8z"/><path fill="#110656" d="M647 258h8v8h-8z"/><path fill="#100652" d="M655 258h8v8h-8z"/><path fill="#200c95" d="M375 266h8v8h-8z"/><path fill="#240d97" d="M383 266h8v8h-8z"/><path fill="#280e99" d="M391 266h8v8h-8z"/><path fill="#2d0f9b" d="M399 266h8v8h-8z"/><path fill="#32109d" d="M407 266h8v8h-8z"/><path fill="#37119f" d="M415 266h8v8h-8z"/><path fill="#3b11a1" d="M423 266h8v8h-8z"/><path fill="#3e12a2" d="M431 266h8v8h-8z"/><path fill="#4113a3" d="M439 266h8v8h-8z"/><path fill="#4513a5" d="M447 266h8v8h-8z"/><path fill="#4814a6" d="M455 266h8v8h-8z"/><path fill="#4b14a6" d="M463 266h8v8h-8z"/><path fill="#4d15a6" d="M471 266h8v8h-8z"/><path fill="#4f15a5" d="M479 266h8v8h-8z"/><path fill="#4f15a5" d="M487 266h8v8h-8z"/><path fill="#4e15a5" d="M495 266h8v8h-8z"/><path fill="#4b14a6" d="M503 266h8v8h-8z"/><path fill="#4714a6" d="M511 266h8v8h-8z"/><path fill="#4313a4" d="M519 266h8v8h-8z"/><path fill="#3f12a2" d="M527 266h8v8h-8z"/><path fill="#3a11a1" d="M535 266h8v8h-8z"/><path fill="#35109e" d="M543 266h8v8h-8z"/><path fill="#2f0f9c" d="M551 266h8v8h-8z"/><path fill="#280e99" d="M559 266h8v8h-8z"/><path fill="#220c97" d="M567 266h8v8h-8z"/><path fill="#1f0c91" d="M575 266h8v8h-8z"/><path fill="#1d0b88" d="M583 266h8v8h-8z"/><path fill="#1a0a7e" d="M591 266h8v8h-8z"/><path fill="#180974" d="M599 266h8v8h-8z"/><path fill="#16086a" d="M607 266h8v8h-8z"/><path fill="#140863" d="M615 266h8v8h-8z"/><path fill="#13075f" d="M623 266h8v8h-8z"/><path fill="#12075b" d="M631 266h8v8h-8z"/><path fill="#110656" d="M639 266h8v8h-8z"/><path fill="#100652" d="M647 266h8v8h-8z"/><path fill="#100650" d="M655 266h8v8h-8z"/></g>
<ellipse cx="480" cy="169" rx="54" ry="50" fill="url(#gdblob)"/>
</g>
<g clip-path="url(#cD)">
<path d="M383 0h10v47h-10zM383 47h6.5v112h-6.5z" fill="#0c0440"/>
<rect x="515" y="256.5" width="135" height="12" fill="#0c0440"/>
<ellipse cx="490" cy="170.9" rx="195" ry="151" fill="none" stroke="#b02898" stroke-width="1.2" opacity="0.7"/>
<ellipse cx="490" cy="170.9" rx="204" ry="157" fill="none" stroke="#b02898" stroke-width="1.2" opacity="0.7"/>
<ellipse cx="490" cy="170.9" rx="214" ry="164" fill="none" stroke="#a02898" stroke-width="1" opacity="0.35"/>
<path d="M450 86.5 Q481 80 512 87.5" fill="none" stroke="#ff8a20" stroke-width="1.8" opacity="0.95" filter="url(#bl1)"/>
<path d="M550 138 Q561 172 551 205 Q556 172 550 138Z" fill="#ff9a10" stroke="#ffa020" stroke-width="2.5" filter="url(#bl1)"/>
<path d="M550.5 140 Q560 172 551.5 203 Q555 172 550.5 140Z" fill="#ffffb0"/>
<polygon points="391,154 394,146 397.5,141 396.5,148 395,154" fill="#ffe040" filter="url(#bl1)"/>
</g>
<rect x="383.1" y="2.3" width="264.6" height="263.9" fill="none" stroke="#c4c4c4" stroke-width="1"/><line x1="383.1" y1="2.3" x2="383.1" y2="266.2" stroke="#777" stroke-width="0.9"/><line x1="383.1" y1="266.2" x2="647.7" y2="266.2" stroke="#777" stroke-width="0.9"/>
<line x1="379.1" y1="49.8" x2="383.1" y2="49.8" stroke="#555" stroke-width="0.6"/>
<text x="377" y="52.5" font-size="7.5" text-anchor="end">2</text>
<line x1="379.1" y1="110.4" x2="383.1" y2="110.4" stroke="#555" stroke-width="0.6"/>
<text x="377" y="113.05" font-size="7.5" text-anchor="end">1</text>
<line x1="379.1" y1="170.9" x2="383.1" y2="170.9" stroke="#555" stroke-width="0.6"/>
<text x="377" y="173.6" font-size="7.5" text-anchor="end">0</text>
<line x1="379.1" y1="231.4" x2="383.1" y2="231.4" stroke="#555" stroke-width="0.6"/>
<text x="377" y="234.15" font-size="7.5" text-anchor="end">-1</text>
<line x1="381.1" y1="255.7" x2="383.1" y2="255.7" stroke="#666" stroke-width="0.5"/>
<line x1="381.1" y1="243.6" x2="383.1" y2="243.6" stroke="#666" stroke-width="0.5"/>
<line x1="381.1" y1="219.3" x2="383.1" y2="219.3" stroke="#666" stroke-width="0.5"/>
<line x1="381.1" y1="207.2" x2="383.1" y2="207.2" stroke="#666" stroke-width="0.5"/>
<line x1="381.1" y1="195.1" x2="383.1" y2="195.1" stroke="#666" stroke-width="0.5"/>
<line x1="381.1" y1="183.0" x2="383.1" y2="183.0" stroke="#666" stroke-width="0.5"/>
<line x1="381.1" y1="158.8" x2="383.1" y2="158.8" stroke="#666" stroke-width="0.5"/>
<line x1="381.1" y1="146.7" x2="383.1" y2="146.7" stroke="#666" stroke-width="0.5"/>
<line x1="381.1" y1="134.6" x2="383.1" y2="134.6" stroke="#666" stroke-width="0.5"/>
<line x1="381.1" y1="122.5" x2="383.1" y2="122.5" stroke="#666" stroke-width="0.5"/>
<line x1="381.1" y1="98.2" x2="383.1" y2="98.2" stroke="#666" stroke-width="0.5"/>
<line x1="381.1" y1="86.1" x2="383.1" y2="86.1" stroke="#666" stroke-width="0.5"/>
<line x1="381.1" y1="74.0" x2="383.1" y2="74.0" stroke="#666" stroke-width="0.5"/>
<line x1="381.1" y1="61.9" x2="383.1" y2="61.9" stroke="#666" stroke-width="0.5"/>
<line x1="381.1" y1="37.7" x2="383.1" y2="37.7" stroke="#666" stroke-width="0.5"/>
<line x1="381.1" y1="25.6" x2="383.1" y2="25.6" stroke="#666" stroke-width="0.5"/>
<line x1="381.1" y1="13.5" x2="383.1" y2="13.5" stroke="#666" stroke-width="0.5"/>
<line x1="410.6" y1="266.2" x2="410.6" y2="269.7" stroke="#555" stroke-width="0.6"/>
<text x="410.6" y="279.2" font-size="7.5" text-anchor="middle">-1</text>
<line x1="474.5" y1="266.2" x2="474.5" y2="269.7" stroke="#555" stroke-width="0.6"/>
<text x="474.5" y="279.2" font-size="7.5" text-anchor="middle">0</text>
<line x1="538.4" y1="266.2" x2="538.4" y2="269.7" stroke="#555" stroke-width="0.6"/>
<text x="538.4" y="279.2" font-size="7.5" text-anchor="middle">1</text>
<line x1="602.3" y1="266.2" x2="602.3" y2="269.7" stroke="#555" stroke-width="0.6"/>
<text x="602.3" y="279.2" font-size="7.5" text-anchor="middle">2</text>
<line x1="385.0" y1="266.2" x2="385.0" y2="268.2" stroke="#666" stroke-width="0.5"/>
<line x1="397.8" y1="266.2" x2="397.8" y2="268.2" stroke="#666" stroke-width="0.5"/>
<line x1="423.4" y1="266.2" x2="423.4" y2="268.2" stroke="#666" stroke-width="0.5"/>
<line x1="436.2" y1="266.2" x2="436.2" y2="268.2" stroke="#666" stroke-width="0.5"/>
<line x1="448.9" y1="266.2" x2="448.9" y2="268.2" stroke="#666" stroke-width="0.5"/>
<line x1="461.7" y1="266.2" x2="461.7" y2="268.2" stroke="#666" stroke-width="0.5"/>
<line x1="487.3" y1="266.2" x2="487.3" y2="268.2" stroke="#666" stroke-width="0.5"/>
<line x1="500.1" y1="266.2" x2="500.1" y2="268.2" stroke="#666" stroke-width="0.5"/>
<line x1="512.8" y1="266.2" x2="512.8" y2="268.2" stroke="#666" stroke-width="0.5"/>
<line x1="525.6" y1="266.2" x2="525.6" y2="268.2" stroke="#666" stroke-width="0.5"/>
<line x1="551.2" y1="266.2" x2="551.2" y2="268.2" stroke="#666" stroke-width="0.5"/>
<line x1="564.0" y1="266.2" x2="564.0" y2="268.2" stroke="#666" stroke-width="0.5"/>
<line x1="576.7" y1="266.2" x2="576.7" y2="268.2" stroke="#666" stroke-width="0.5"/>
<line x1="589.5" y1="266.2" x2="589.5" y2="268.2" stroke="#666" stroke-width="0.5"/>
<line x1="615.1" y1="266.2" x2="615.1" y2="268.2" stroke="#666" stroke-width="0.5"/>
<line x1="627.9" y1="266.2" x2="627.9" y2="268.2" stroke="#666" stroke-width="0.5"/>
<line x1="640.6" y1="266.2" x2="640.6" y2="268.2" stroke="#666" stroke-width="0.5"/>
<text x="524.5" y="289.4" font-size="10.6" text-anchor="middle" fill="#222"><tspan font-style="italic">q</tspan><tspan font-size="8.4" dy="2" font-style="italic">x</tspan><tspan dy="-2"> (Å</tspan><tspan font-size="6.4" dy="-3.6">-1</tspan><tspan dy="3.6">)</tspan></text>
<text x="0" y="0" font-size="10.6" text-anchor="middle" transform="translate(363 134) rotate(-90)" fill="#222"><tspan font-style="italic">q</tspan><tspan font-size="8.4" dy="2" font-style="italic">z</tspan><tspan dy="-2"> (Å</tspan><tspan font-size="6.4" dy="-3.6">-1</tspan><tspan dy="3.6">)</tspan></text>
<text x="478.5" y="75" font-size="9" text-anchor="middle" fill="#f5d316">Gb(200)</text>
<text x="583.4" y="93.1" font-size="9" text-anchor="middle" fill="#f5d316">Gb(220)</text>
<text x="457.4" y="135.6" font-size="9" text-anchor="middle" fill="#f6f6f6">Gb[100]/[110]</text>
<text x="457.4" y="151" font-size="9" text-anchor="middle" fill="#f5d316">Gb[010]/[130]</text>
<text x="581.2" y="169.5" font-size="9" text-anchor="middle" fill="#f6f6f6">Gb(002)</text>
<text x="581.2" y="184.5" font-size="9" text-anchor="middle" fill="#f5d316">Gb(002)</text>
<text x="628.3" y="191" font-size="9" text-anchor="middle" fill="#f6f6f6">Gb(004)</text>
<text x="628.3" y="205.5" font-size="9" text-anchor="middle" fill="#f5d316">Gb(004)</text>
<path d="M428.8 17.5L434.0 20.3M430.2 21.5L432.6 16.3" stroke="#f6f6f6" stroke-width="0.8" fill="none"/>
<path d="M438.6 20.1L443.8 22.9M440.0 24.1L442.4 18.9" stroke="#f6f6f6" stroke-width="0.8" fill="none"/>
<path d="M450.4 17.5L455.6 20.3M451.8 21.5L454.2 16.3" stroke="#f6f6f6" stroke-width="0.8" fill="none"/>
<path d="M477.7 82.4L482.9 85.2M479.1 86.4L481.5 81.2" stroke="#f5d316" stroke-width="0.8" fill="none"/>
<path d="M557.0 87.9L562.2 90.7M558.4 91.9L560.8 86.7" stroke="#f5d316" stroke-width="0.8" fill="none"/>
<path d="M554.4 170.1L559.6 172.9M555.8 174.1L558.2 168.9" stroke="#f6f6f6" stroke-width="0.8" fill="none"/>
<path d="M635.9 172.8L641.1 175.6M637.3 176.8L639.7 171.6" stroke="#f6f6f6" stroke-width="0.8" fill="none"/>
<path d="M520.5 22.7L525.7 25.5M521.9 26.7L524.3 21.5" stroke="#f6f6f6" stroke-width="0.8" fill="none"/>
<path d="M529.3 26.0L534.5 28.8M530.7 30.0L533.1 24.8" stroke="#f6f6f6" stroke-width="0.8" fill="none"/>
<path d="M538.1 23.8L543.3 26.6M539.5 27.8L541.9 22.6" stroke="#f6f6f6" stroke-width="0.8" fill="none"/>
<path d="M561.0 27.1L566.2 29.9M562.4 31.1L564.8 25.9" stroke="#f6f6f6" stroke-width="0.8" fill="none"/>
<path d="M570.9 29.3L576.1 32.1M572.3 33.3L574.7 28.1" stroke="#f6f6f6" stroke-width="0.8" fill="none"/>
<path d="M579.2 27.1L584.4 29.9M580.6 31.1L583.0 25.9" stroke="#f6f6f6" stroke-width="0.8" fill="none"/>
<path d="M602.6 34.7L607.8 37.5M604.0 38.7L606.4 33.5" stroke="#f6f6f6" stroke-width="0.8" fill="none"/>
<path d="M612.1 36.9L617.3 39.7M613.5 40.9L615.9 35.7" stroke="#f6f6f6" stroke-width="0.8" fill="none"/>
<path d="M620.8 34.7L626.0 37.5M622.2 38.7L624.6 33.5" stroke="#f6f6f6" stroke-width="0.8" fill="none"/>
<text x="0" y="0" font-size="8" fill="#f6f6f6" transform="translate(512.38 31) rotate(-90)">Gb(<tspan text-decoration="overline">3</tspan>11)</text>
<text x="0" y="0" font-size="8" fill="#f6f6f6" transform="translate(533.68 22) rotate(-90)">(<tspan text-decoration="overline">0</tspan>21)</text>
<text x="0" y="0" font-size="8" fill="#f6f6f6" transform="translate(543.28 22.5) rotate(-90)">(<tspan text-decoration="overline">3</tspan>11)</text>
<text x="0" y="0" font-size="8" fill="#f6f6f6" transform="translate(567.58 25.5) rotate(-90)">(<tspan text-decoration="overline">3</tspan>12)</text>
<text x="0" y="0" font-size="8" fill="#f6f6f6" transform="translate(576.68 28) rotate(-90)">(<tspan text-decoration="overline">0</tspan>22)</text>
<text x="0" y="0" font-size="8" fill="#f6f6f6" transform="translate(586.28 26.5) rotate(-90)">(<tspan text-decoration="overline">3</tspan>12)</text>
<text x="0" y="0" font-size="8" fill="#f6f6f6" transform="translate(607.28 34.5) rotate(-90)">(<tspan text-decoration="overline">0</tspan>23)</text>
<text x="0" y="0" font-size="8" fill="#f6f6f6" transform="translate(617.58 37.5) rotate(-90)">(<tspan text-decoration="overline">3</tspan>13)</text>
<text x="0" y="0" font-size="8" fill="#f6f6f6" transform="translate(626.88 36) rotate(-90)">(<tspan text-decoration="overline">3</tspan>14)</text>
<rect x="663.5" y="2.5" width="7.5" height="263.3" fill="url(#cbd)" stroke="#9a9a9a" stroke-width="0.9"/>
<line x1="668" y1="110" x2="671" y2="110" stroke="#333" stroke-width="0.6"/>
<line x1="669.4" y1="218.9" x2="671" y2="218.9" stroke="#333" stroke-width="0.5"/>
<line x1="669.4" y1="191.465" x2="671" y2="191.465" stroke="#333" stroke-width="0.5"/>
<line x1="669.4" y1="171.999" x2="671" y2="171.999" stroke="#333" stroke-width="0.5"/>
<line x1="669.4" y1="156.9" x2="671" y2="156.9" stroke="#333" stroke-width="0.5"/>
<line x1="669.4" y1="144.564" x2="671" y2="144.564" stroke="#333" stroke-width="0.5"/>
<line x1="669.4" y1="134.134" x2="671" y2="134.134" stroke="#333" stroke-width="0.5"/>
<line x1="669.4" y1="125.099" x2="671" y2="125.099" stroke="#333" stroke-width="0.5"/>
<line x1="669.4" y1="117.129" x2="671" y2="117.129" stroke="#333" stroke-width="0.5"/>
<line x1="669.4" y1="63.0995" x2="671" y2="63.0995" stroke="#333" stroke-width="0.5"/>
<line x1="669.4" y1="35.6645" x2="671" y2="35.6645" stroke="#333" stroke-width="0.5"/>
<line x1="669.4" y1="16.1991" x2="671" y2="16.1991" stroke="#333" stroke-width="0.5"/>
<text x="674" y="113" font-size="7.8">10<tspan font-size="5.5" dy="-3.2">2</tspan></text>
<text x="674" y="268.5" font-size="7.8">10<tspan font-size="5.5" dy="-3.2">1</tspan></text>
<text x="0" y="0" font-size="9" text-anchor="middle" transform="translate(658.5 139.5) rotate(-90)" fill="#222">Intensity (counts)</text>
<path d="M450 165 L450 259" stroke="#c0c0c0" stroke-width="0.5" stroke-dasharray="1 1.2"/>
<circle cx="427.7" cy="169.1" r="1.1" fill="#f0b8b8"/>
<path d="M432.6 167.9L428.7 168.9" stroke="#e04040" stroke-width="0.9"/>
<circle cx="448.7" cy="169.1" r="1.1" fill="#f0b8b8"/>
<path d="M443.8 167.9L447.7 168.9" stroke="#e04040" stroke-width="0.9"/>
<circle cx="427.7" cy="181.4" r="1.1" fill="#f0b8b8"/>
<path d="M432.6 180.2L428.7 181.2" stroke="#e04040" stroke-width="0.9"/>
<circle cx="448.7" cy="181.4" r="1.1" fill="#f0b8b8"/>
<path d="M443.8 180.2L447.7 181.2" stroke="#e04040" stroke-width="0.9"/>
<circle cx="427.7" cy="193.7" r="1.1" fill="#f0b8b8"/>
<path d="M432.6 192.5L428.7 193.5" stroke="#e04040" stroke-width="0.9"/>
<circle cx="448.7" cy="193.7" r="1.1" fill="#f0b8b8"/>
<path d="M443.8 192.5L447.7 193.5" stroke="#e04040" stroke-width="0.9"/>
<circle cx="427.7" cy="206.1" r="1.1" fill="#f0b8b8"/>
<path d="M432.6 204.9L428.7 205.9" stroke="#e04040" stroke-width="0.9"/>
<circle cx="448.7" cy="206.1" r="1.1" fill="#f0b8b8"/>
<path d="M443.8 204.9L447.7 205.9" stroke="#e04040" stroke-width="0.9"/>
<circle cx="427.7" cy="218.8" r="1.1" fill="#f0b8b8"/>
<path d="M432.6 217.7L428.7 218.7" stroke="#e04040" stroke-width="0.9"/>
<circle cx="448.7" cy="218.8" r="1.1" fill="#f0b8b8"/>
<path d="M443.8 217.7L447.7 218.7" stroke="#e04040" stroke-width="0.9"/>
<circle cx="427.7" cy="231.6" r="1.1" fill="#f0b8b8"/>
<path d="M432.6 230.4L428.7 231.4" stroke="#e04040" stroke-width="0.9"/>
<circle cx="448.7" cy="231.6" r="1.1" fill="#f0b8b8"/>
<path d="M443.8 230.4L447.7 231.4" stroke="#e04040" stroke-width="0.9"/>
<circle cx="427.7" cy="244.5" r="1.1" fill="#f0b8b8"/>
<path d="M432.6 243.3L428.7 244.3" stroke="#e04040" stroke-width="0.9"/>
<circle cx="448.7" cy="244.5" r="1.1" fill="#f0b8b8"/>
<path d="M443.8 243.3L447.7 244.3" stroke="#e04040" stroke-width="0.9"/>
<circle cx="427.7" cy="257.1" r="1.1" fill="#f0b8b8"/>
<path d="M432.6 255.9L428.7 256.9" stroke="#e04040" stroke-width="0.9"/>
<circle cx="448.7" cy="257.1" r="1.1" fill="#f0b8b8"/>
<path d="M443.8 255.9L447.7 256.9" stroke="#e04040" stroke-width="0.9"/>
<path d="M438.2 174.1L432.6 167.9" stroke="#a8c4dc" stroke-width="1.2"/>
<path d="M438.2 174.1L443.8 167.9" stroke="#a8c4dc" stroke-width="1.2"/>
<path d="M438.2 174.1L432.6 180.2" stroke="#a8c4dc" stroke-width="1.2"/>
<path d="M438.2 174.1L443.8 180.2" stroke="#a8c4dc" stroke-width="1.2"/>
<path d="M438.2 186.4L432.6 180.2" stroke="#a8c4dc" stroke-width="1.2"/>
<path d="M438.2 186.4L443.8 180.2" stroke="#a8c4dc" stroke-width="1.2"/>
<path d="M438.2 186.4L432.6 192.6" stroke="#a8c4dc" stroke-width="1.2"/>
<path d="M438.2 186.4L443.8 192.6" stroke="#a8c4dc" stroke-width="1.2"/>
<path d="M438.2 198.6L432.6 192.4" stroke="#a8c4dc" stroke-width="1.2"/>
<path d="M438.2 198.6L443.8 192.4" stroke="#a8c4dc" stroke-width="1.2"/>
<path d="M438.2 198.6L432.6 204.8" stroke="#a8c4dc" stroke-width="1.2"/>
<path d="M438.2 198.6L443.8 204.8" stroke="#a8c4dc" stroke-width="1.2"/>
<path d="M438.2 211.3L432.6 205.2" stroke="#a8c4dc" stroke-width="1.2"/>
<path d="M438.2 211.3L443.8 205.2" stroke="#a8c4dc" stroke-width="1.2"/>
<path d="M438.2 211.3L432.6 217.5" stroke="#a8c4dc" stroke-width="1.2"/>
<path d="M438.2 211.3L443.8 217.5" stroke="#a8c4dc" stroke-width="1.2"/>
<path d="M438.2 224.0L432.6 217.8" stroke="#a8c4dc" stroke-width="1.2"/>
<path d="M438.2 224.0L443.8 217.8" stroke="#a8c4dc" stroke-width="1.2"/>
<path d="M438.2 224.0L432.6 230.2" stroke="#a8c4dc" stroke-width="1.2"/>
<path d="M438.2 224.0L443.8 230.2" stroke="#a8c4dc" stroke-width="1.2"/>
<path d="M438.2 236.9L432.6 230.8" stroke="#a8c4dc" stroke-width="1.2"/>
<path d="M438.2 236.9L443.8 230.8" stroke="#a8c4dc" stroke-width="1.2"/>
<path d="M438.2 236.9L432.6 243.1" stroke="#a8c4dc" stroke-width="1.2"/>
<path d="M438.2 236.9L443.8 243.1" stroke="#a8c4dc" stroke-width="1.2"/>
<path d="M438.2 249.7L432.6 243.5" stroke="#a8c4dc" stroke-width="1.2"/>
<path d="M438.2 249.7L443.8 243.5" stroke="#a8c4dc" stroke-width="1.2"/>
<path d="M438.2 249.7L432.6 255.8" stroke="#a8c4dc" stroke-width="1.2"/>
<path d="M438.2 249.7L443.8 255.8" stroke="#a8c4dc" stroke-width="1.2"/>
<circle cx="432.6" cy="167.9" r="2.7" fill="#e01414"/>
<circle cx="443.8" cy="167.9" r="2.7" fill="#e01414"/>
<circle cx="432.6" cy="180.2" r="2.7" fill="#e01414"/>
<circle cx="443.8" cy="180.2" r="2.7" fill="#e01414"/>
<circle cx="432.6" cy="192.5" r="2.7" fill="#e01414"/>
<circle cx="443.8" cy="192.5" r="2.7" fill="#e01414"/>
<circle cx="432.6" cy="204.9" r="2.7" fill="#e01414"/>
<circle cx="443.8" cy="204.9" r="2.7" fill="#e01414"/>
<circle cx="432.6" cy="217.7" r="2.7" fill="#e01414"/>
<circle cx="443.8" cy="217.7" r="2.7" fill="#e01414"/>
<circle cx="432.6" cy="230.4" r="2.7" fill="#e01414"/>
<circle cx="443.8" cy="230.4" r="2.7" fill="#e01414"/>
<circle cx="432.6" cy="243.3" r="2.7" fill="#e01414"/>
<circle cx="443.8" cy="243.3" r="2.7" fill="#e01414"/>
<circle cx="432.6" cy="255.9" r="2.7" fill="#e01414"/>
<circle cx="443.8" cy="255.9" r="2.7" fill="#e01414"/>
<rect x="435.2" y="171.1" width="6" height="6" rx="2" fill="#82a8c8" stroke="#5a86ad" stroke-width="0.7"/>
<rect x="435.2" y="183.4" width="6" height="6" rx="2" fill="#82a8c8" stroke="#5a86ad" stroke-width="0.7"/>
<rect x="435.2" y="195.6" width="6" height="6" rx="2" fill="#82a8c8" stroke="#5a86ad" stroke-width="0.7"/>
<rect x="435.2" y="208.3" width="6" height="6" rx="2" fill="#82a8c8" stroke="#5a86ad" stroke-width="0.7"/>
<rect x="435.2" y="221.0" width="6" height="6" rx="2" fill="#82a8c8" stroke="#5a86ad" stroke-width="0.7"/>
<rect x="435.2" y="233.9" width="6" height="6" rx="2" fill="#82a8c8" stroke="#5a86ad" stroke-width="0.7"/>
<rect x="435.2" y="246.7" width="6" height="6" rx="2" fill="#82a8c8" stroke="#5a86ad" stroke-width="0.7"/>
<circle cx="451.7" cy="169.1" r="1.1" fill="#f0b8b8"/>
<path d="M456.6 167.9L452.7 168.9" stroke="#e04040" stroke-width="0.9"/>
<circle cx="472.7" cy="169.1" r="1.1" fill="#f0b8b8"/>
<path d="M467.8 167.9L471.7 168.9" stroke="#e04040" stroke-width="0.9"/>
<circle cx="451.7" cy="181.4" r="1.1" fill="#f0b8b8"/>
<path d="M456.6 180.2L452.7 181.2" stroke="#e04040" stroke-width="0.9"/>
<circle cx="472.7" cy="181.4" r="1.1" fill="#f0b8b8"/>
<path d="M467.8 180.2L471.7 181.2" stroke="#e04040" stroke-width="0.9"/>
<circle cx="451.7" cy="193.7" r="1.1" fill="#f0b8b8"/>
<path d="M456.6 192.5L452.7 193.5" stroke="#e04040" stroke-width="0.9"/>
<circle cx="472.7" cy="193.7" r="1.1" fill="#f0b8b8"/>
<path d="M467.8 192.5L471.7 193.5" stroke="#e04040" stroke-width="0.9"/>
<circle cx="451.7" cy="206.1" r="1.1" fill="#f0b8b8"/>
<path d="M456.6 204.9L452.7 205.9" stroke="#e04040" stroke-width="0.9"/>
<circle cx="472.7" cy="206.1" r="1.1" fill="#f0b8b8"/>
<path d="M467.8 204.9L471.7 205.9" stroke="#e04040" stroke-width="0.9"/>
<circle cx="451.7" cy="218.8" r="1.1" fill="#f0b8b8"/>
<path d="M456.6 217.7L452.7 218.7" stroke="#e04040" stroke-width="0.9"/>
<circle cx="472.7" cy="218.8" r="1.1" fill="#f0b8b8"/>
<path d="M467.8 217.7L471.7 218.7" stroke="#e04040" stroke-width="0.9"/>
<circle cx="451.7" cy="231.6" r="1.1" fill="#f0b8b8"/>
<path d="M456.6 230.4L452.7 231.4" stroke="#e04040" stroke-width="0.9"/>
<circle cx="472.7" cy="231.6" r="1.1" fill="#f0b8b8"/>
<path d="M467.8 230.4L471.7 231.4" stroke="#e04040" stroke-width="0.9"/>
<circle cx="451.7" cy="244.5" r="1.1" fill="#f0b8b8"/>
<path d="M456.6 243.3L452.7 244.3" stroke="#e04040" stroke-width="0.9"/>
<circle cx="472.7" cy="244.5" r="1.1" fill="#f0b8b8"/>
<path d="M467.8 243.3L471.7 244.3" stroke="#e04040" stroke-width="0.9"/>
<circle cx="451.7" cy="257.1" r="1.1" fill="#f0b8b8"/>
<path d="M456.6 255.9L452.7 256.9" stroke="#e04040" stroke-width="0.9"/>
<circle cx="472.7" cy="257.1" r="1.1" fill="#f0b8b8"/>
<path d="M467.8 255.9L471.7 256.9" stroke="#e04040" stroke-width="0.9"/>
<path d="M462.2 174.1L456.6 167.9" stroke="#a8c4dc" stroke-width="1.2"/>
<path d="M462.2 174.1L467.8 167.9" stroke="#a8c4dc" stroke-width="1.2"/>
<path d="M462.2 174.1L456.6 180.2" stroke="#a8c4dc" stroke-width="1.2"/>
<path d="M462.2 174.1L467.8 180.2" stroke="#a8c4dc" stroke-width="1.2"/>
<path d="M462.2 186.4L456.6 180.2" stroke="#a8c4dc" stroke-width="1.2"/>
<path d="M462.2 186.4L467.8 180.2" stroke="#a8c4dc" stroke-width="1.2"/>
<path d="M462.2 186.4L456.6 192.6" stroke="#a8c4dc" stroke-width="1.2"/>
<path d="M462.2 186.4L467.8 192.6" stroke="#a8c4dc" stroke-width="1.2"/>
<path d="M462.2 198.6L456.6 192.4" stroke="#a8c4dc" stroke-width="1.2"/>
<path d="M462.2 198.6L467.8 192.4" stroke="#a8c4dc" stroke-width="1.2"/>
<path d="M462.2 198.6L456.6 204.8" stroke="#a8c4dc" stroke-width="1.2"/>
<path d="M462.2 198.6L467.8 204.8" stroke="#a8c4dc" stroke-width="1.2"/>
<path d="M462.2 211.3L456.6 205.2" stroke="#a8c4dc" stroke-width="1.2"/>
<path d="M462.2 211.3L467.8 205.2" stroke="#a8c4dc" stroke-width="1.2"/>
<path d="M462.2 211.3L456.6 217.5" stroke="#a8c4dc" stroke-width="1.2"/>
<path d="M462.2 211.3L467.8 217.5" stroke="#a8c4dc" stroke-width="1.2"/>
<path d="M462.2 224.0L456.6 217.8" stroke="#a8c4dc" stroke-width="1.2"/>
<path d="M462.2 224.0L467.8 217.8" stroke="#a8c4dc" stroke-width="1.2"/>
<path d="M462.2 224.0L456.6 230.2" stroke="#a8c4dc" stroke-width="1.2"/>
<path d="M462.2 224.0L467.8 230.2" stroke="#a8c4dc" stroke-width="1.2"/>
<path d="M462.2 236.9L456.6 230.8" stroke="#a8c4dc" stroke-width="1.2"/>
<path d="M462.2 236.9L467.8 230.8" stroke="#a8c4dc" stroke-width="1.2"/>
<path d="M462.2 236.9L456.6 243.1" stroke="#a8c4dc" stroke-width="1.2"/>
<path d="M462.2 236.9L467.8 243.1" stroke="#a8c4dc" stroke-width="1.2"/>
<path d="M462.2 249.7L456.6 243.5" stroke="#a8c4dc" stroke-width="1.2"/>
<path d="M462.2 249.7L467.8 243.5" stroke="#a8c4dc" stroke-width="1.2"/>
<path d="M462.2 249.7L456.6 255.8" stroke="#a8c4dc" stroke-width="1.2"/>
<path d="M462.2 249.7L467.8 255.8" stroke="#a8c4dc" stroke-width="1.2"/>
<circle cx="456.6" cy="167.9" r="2.7" fill="#e01414"/>
<circle cx="467.8" cy="167.9" r="2.7" fill="#e01414"/>
<circle cx="456.6" cy="180.2" r="2.7" fill="#e01414"/>
<circle cx="467.8" cy="180.2" r="2.7" fill="#e01414"/>
<circle cx="456.6" cy="192.5" r="2.7" fill="#e01414"/>
<circle cx="467.8" cy="192.5" r="2.7" fill="#e01414"/>
<circle cx="456.6" cy="204.9" r="2.7" fill="#e01414"/>
<circle cx="467.8" cy="204.9" r="2.7" fill="#e01414"/>
<circle cx="456.6" cy="217.7" r="2.7" fill="#e01414"/>
<circle cx="467.8" cy="217.7" r="2.7" fill="#e01414"/>
<circle cx="456.6" cy="230.4" r="2.7" fill="#e01414"/>
<circle cx="467.8" cy="230.4" r="2.7" fill="#e01414"/>
<circle cx="456.6" cy="243.3" r="2.7" fill="#e01414"/>
<circle cx="467.8" cy="243.3" r="2.7" fill="#e01414"/>
<circle cx="456.6" cy="255.9" r="2.7" fill="#e01414"/>
<circle cx="467.8" cy="255.9" r="2.7" fill="#e01414"/>
<rect x="459.2" y="171.1" width="6" height="6" rx="2" fill="#82a8c8" stroke="#5a86ad" stroke-width="0.7"/>
<rect x="459.2" y="183.4" width="6" height="6" rx="2" fill="#82a8c8" stroke="#5a86ad" stroke-width="0.7"/>
<rect x="459.2" y="195.6" width="6" height="6" rx="2" fill="#82a8c8" stroke="#5a86ad" stroke-width="0.7"/>
<rect x="459.2" y="208.3" width="6" height="6" rx="2" fill="#82a8c8" stroke="#5a86ad" stroke-width="0.7"/>
<rect x="459.2" y="221.0" width="6" height="6" rx="2" fill="#82a8c8" stroke="#5a86ad" stroke-width="0.7"/>
<rect x="459.2" y="233.9" width="6" height="6" rx="2" fill="#82a8c8" stroke="#5a86ad" stroke-width="0.7"/>
<rect x="459.2" y="246.7" width="6" height="6" rx="2" fill="#82a8c8" stroke="#5a86ad" stroke-width="0.7"/>
<text x="386" y="165" font-size="9"><tspan font-style="italic">φ</tspan>= 90°</text>
<path d="M393.9 169.4 L393.9 190.9" stroke="#222" stroke-width="0.9"/>
<path d="M387.5 178.5 Q388.5 184 394 183.5 Q399 183 400 179" fill="none" stroke="#222" stroke-width="1.6"/>
<path d="M397.8 179 L401.5 177.5 L401 181.5 Z" fill="#222"/>
<text x="481.5" y="198.5" font-size="8.5" transform="rotate(90 481.5 198.5)">(002)</text>
<g clip-path="url(#cB)">
<g filter="url(#bl4)"><path fill="#0f054f" d="M29.2 297h8v8h-8z"/><path fill="#100653" d="M37.2 297h8v8h-8z"/><path fill="#13075e" d="M45.2 297h8v8h-8z"/><path fill="#17086e" d="M53.2 297h8v8h-8z"/><path fill="#1a0a7e" d="M61.2 297h8v8h-8z"/><path fill="#1f0c92" d="M69.2 297h8v8h-8z"/><path fill="#2d0f9b" d="M77.2 297h8v8h-8z"/><path fill="#3d12a1" d="M85.2 297h8v8h-8z"/><path fill="#4f15a5" d="M93.2 297h8v8h-8z"/><path fill="#6818a3" d="M101.2 297h8v8h-8z"/><path fill="#811ba1" d="M109.2 297h8v8h-8z"/><path fill="#961d9c" d="M117.2 297h8v8h-8z"/><path fill="#a71e96" d="M125.2 297h8v8h-8z"/><path fill="#b51f92" d="M133.2 297h8v8h-8z"/><path fill="#c1208e" d="M141.2 297h8v8h-8z"/><path fill="#c82189" d="M149.2 297h8v8h-8z"/><path fill="#ca2386" d="M157.2 297h8v8h-8z"/><path fill="#cb2484" d="M165.2 297h8v8h-8z"/><path fill="#ca2385" d="M173.2 297h8v8h-8z"/><path fill="#c92288" d="M181.2 297h8v8h-8z"/><path fill="#c6208c" d="M189.2 297h8v8h-8z"/><path fill="#bc1f8f" d="M197.2 297h8v8h-8z"/><path fill="#b01f93" d="M205.2 297h8v8h-8z"/><path fill="#a11e98" d="M213.2 297h8v8h-8z"/><path fill="#911c9e" d="M221.2 297h8v8h-8z"/><path fill="#7b1aa1" d="M229.2 297h8v8h-8z"/><path fill="#6417a3" d="M237.2 297h8v8h-8z"/><path fill="#4c14a6" d="M245.2 297h8v8h-8z"/><path fill="#3c12a1" d="M253.2 297h8v8h-8z"/><path fill="#2d0f9b" d="M261.2 297h8v8h-8z"/><path fill="#1f0c93" d="M269.2 297h8v8h-8z"/><path fill="#1b0a7f" d="M277.2 297h8v8h-8z"/><path fill="#170971" d="M285.2 297h8v8h-8z"/><path fill="#140762" d="M293.2 297h8v8h-8z"/><path fill="#110655" d="M301.2 297h8v8h-8z"/><path fill="#100650" d="M309.2 297h8v8h-8z"/><path fill="#100651" d="M29.2 305h8v8h-8z"/><path fill="#110656" d="M37.2 305h8v8h-8z"/><path fill="#150866" d="M45.2 305h8v8h-8z"/><path fill="#190976" d="M53.2 305h8v8h-8z"/><path fill="#1d0b88" d="M61.2 305h8v8h-8z"/><path fill="#270d99" d="M69.2 305h8v8h-8z"/><path fill="#3811a0" d="M77.2 305h8v8h-8z"/><path fill="#4914a6" d="M85.2 305h8v8h-8z"/><path fill="#6517a3" d="M93.2 305h8v8h-8z"/><path fill="#811ba1" d="M101.2 305h8v8h-8z"/><path fill="#981d9b" d="M109.2 305h8v8h-8z"/><path fill="#ac1e95" d="M117.2 305h8v8h-8z"/><path fill="#be1f8f" d="M125.2 305h8v8h-8z"/><path fill="#c92287" d="M133.2 305h8v8h-8z"/><path fill="#cf267e" d="M141.2 305h8v8h-8z"/><path fill="#d32a77" d="M149.2 305h8v8h-8z"/><path fill="#d62c71" d="M157.2 305h8v8h-8z"/><path fill="#d92e6d" d="M165.2 305h8v8h-8z"/><path fill="#d72d6f" d="M173.2 305h8v8h-8z"/><path fill="#d42b74" d="M181.2 305h8v8h-8z"/><path fill="#d1287a" d="M189.2 305h8v8h-8z"/><path fill="#cc2582" d="M197.2 305h8v8h-8z"/><path fill="#c7218b" d="M205.2 305h8v8h-8z"/><path fill="#b81f91" d="M213.2 305h8v8h-8z"/><path fill="#a61e97" d="M221.2 305h8v8h-8z"/><path fill="#931d9d" d="M229.2 305h8v8h-8z"/><path fill="#7b1aa1" d="M237.2 305h8v8h-8z"/><path fill="#6117a4" d="M245.2 305h8v8h-8z"/><path fill="#4714a6" d="M253.2 305h8v8h-8z"/><path fill="#38119f" d="M261.2 305h8v8h-8z"/><path fill="#280e99" d="M269.2 305h8v8h-8z"/><path fill="#1d0b8b" d="M277.2 305h8v8h-8z"/><path fill="#190979" d="M285.2 305h8v8h-8z"/><path fill="#16086a" d="M293.2 305h8v8h-8z"/><path fill="#12075a" d="M301.2 305h8v8h-8z"/><path fill="#100652" d="M309.2 305h8v8h-8z"/><path fill="#100652" d="M29.2 313h8v8h-8z"/><path fill="#12075c" d="M37.2 313h8v8h-8z"/><path fill="#16086d" d="M45.2 313h8v8h-8z"/><path fill="#1a0a7e" d="M53.2 313h8v8h-8z"/><path fill="#200c95" d="M61.2 313h8v8h-8z"/><path fill="#300f9d" d="M69.2 313h8v8h-8z"/><path fill="#4113a3" d="M77.2 313h8v8h-8z"/><path fill="#5b16a4" d="M85.2 313h8v8h-8z"/><path fill="#791aa2" d="M93.2 313h8v8h-8z"/><path fill="#951d9c" d="M101.2 313h8v8h-8z"/><path fill="#ac1e95" d="M109.2 313h8v8h-8z"/><path fill="#c1208e" d="M117.2 313h8v8h-8z"/><path fill="#cc2482" d="M125.2 313h8v8h-8z"/><path fill="#d32a76" d="M133.2 313h8v8h-8z"/><path fill="#de3264" d="M141.2 313h8v8h-8z"/><path fill="#e53e56" d="M149.2 313h8v8h-8z"/><path fill="#ec4948" d="M157.2 313h8v8h-8z"/><path fill="#ef4e42" d="M165.2 313h8v8h-8z"/><path fill="#ed4c45" d="M173.2 313h8v8h-8z"/><path fill="#e84250" d="M181.2 313h8v8h-8z"/><path fill="#e2385d" d="M189.2 313h8v8h-8z"/><path fill="#d82e6e" d="M197.2 313h8v8h-8z"/><path fill="#d0287b" d="M205.2 313h8v8h-8z"/><path fill="#c92287" d="M213.2 313h8v8h-8z"/><path fill="#bb1f90" d="M221.2 313h8v8h-8z"/><path fill="#a61e97" d="M229.2 313h8v8h-8z"/><path fill="#901c9e" d="M237.2 313h8v8h-8z"/><path fill="#7519a2" d="M245.2 313h8v8h-8z"/><path fill="#5916a4" d="M253.2 313h8v8h-8z"/><path fill="#4113a3" d="M261.2 313h8v8h-8z"/><path fill="#310f9d" d="M269.2 313h8v8h-8z"/><path fill="#210c96" d="M277.2 313h8v8h-8z"/><path fill="#1b0a81" d="M285.2 313h8v8h-8z"/><path fill="#170971" d="M293.2 313h8v8h-8z"/><path fill="#140761" d="M301.2 313h8v8h-8z"/><path fill="#110654" d="M309.2 313h8v8h-8z"/><path fill="#110654" d="M29.2 321h8v8h-8z"/><path fill="#140762" d="M37.2 321h8v8h-8z"/><path fill="#180973" d="M45.2 321h8v8h-8z"/><path fill="#1c0b85" d="M53.2 321h8v8h-8z"/><path fill="#260d99" d="M61.2 321h8v8h-8z"/><path fill="#3811a0" d="M69.2 321h8v8h-8z"/><path fill="#4c15a6" d="M77.2 321h8v8h-8z"/><path fill="#6c18a3" d="M85.2 321h8v8h-8z"/><path fill="#8c1c9f" d="M93.2 321h8v8h-8z"/><path fill="#a51e97" d="M101.2 321h8v8h-8z"/><path fill="#bd1f8f" d="M109.2 321h8v8h-8z"/><path fill="#cc2483" d="M117.2 321h8v8h-8z"/><path fill="#d52b74" d="M125.2 321h8v8h-8z"/><path fill="#e33a5a" d="M133.2 321h8v8h-8z"/><path fill="#f1533e" d="M141.2 321h8v8h-8z"/><path fill="#f86a29" d="M149.2 321h8v8h-8z"/><path fill="#fb7a1e" d="M157.2 321h8v8h-8z"/><path fill="#fb7b1d" d="M165.2 321h8v8h-8z"/><path fill="#fb7a1e" d="M173.2 321h8v8h-8z"/><path fill="#fa7123" d="M181.2 321h8v8h-8z"/><path fill="#f55f33" d="M189.2 321h8v8h-8z"/><path fill="#ea464c" d="M197.2 321h8v8h-8z"/><path fill="#de3264" d="M205.2 321h8v8h-8z"/><path fill="#d12979" d="M213.2 321h8v8h-8z"/><path fill="#c92288" d="M221.2 321h8v8h-8z"/><path fill="#b81f91" d="M229.2 321h8v8h-8z"/><path fill="#a01d99" d="M237.2 321h8v8h-8z"/><path fill="#881ca0" d="M245.2 321h8v8h-8z"/><path fill="#6a18a3" d="M253.2 321h8v8h-8z"/><path fill="#4c14a6" d="M261.2 321h8v8h-8z"/><path fill="#3911a0" d="M269.2 321h8v8h-8z"/><path fill="#280e99" d="M277.2 321h8v8h-8z"/><path fill="#1d0b8a" d="M285.2 321h8v8h-8z"/><path fill="#190977" d="M293.2 321h8v8h-8z"/><path fill="#150867" d="M301.2 321h8v8h-8z"/><path fill="#110657" d="M309.2 321h8v8h-8z"/><path fill="#110656" d="M29.2 329h8v8h-8z"/><path fill="#150867" d="M37.2 329h8v8h-8z"/><path fill="#190979" d="M45.2 329h8v8h-8z"/><path fill="#1e0b8e" d="M53.2 329h8v8h-8z"/><path fill="#2d0f9b" d="M61.2 329h8v8h-8z"/><path fill="#3f12a2" d="M69.2 329h8v8h-8z"/><path fill="#5a16a4" d="M77.2 329h8v8h-8z"/><path fill="#7a1aa1" d="M85.2 329h8v8h-8z"/><path fill="#991d9b" d="M93.2 329h8v8h-8z"/><path fill="#b31f92" d="M101.2 329h8v8h-8z"/><path fill="#c82288" d="M109.2 329h8v8h-8z"/><path fill="#d32a77" d="M117.2 329h8v8h-8z"/><path fill="#e33a5a" d="M125.2 329h8v8h-8z"/><path fill="#f35b36" d="M133.2 329h8v8h-8z"/><path fill="#fb7a1e" d="M141.2 329h8v8h-8z"/><path fill="#fc7f1b" d="M149.2 329h8v8h-8z"/><path fill="#fc8219" d="M157.2 329h8v8h-8z"/><path fill="#fd8318" d="M165.2 329h8v8h-8z"/><path fill="#fc8318" d="M173.2 329h8v8h-8z"/><path fill="#fc801a" d="M181.2 329h8v8h-8z"/><path fill="#fc7c1c" d="M189.2 329h8v8h-8z"/><path fill="#f96d27" d="M197.2 329h8v8h-8z"/><path fill="#ed4b45" d="M205.2 329h8v8h-8z"/><path fill="#dd3265" d="M213.2 329h8v8h-8z"/><path fill="#d0277c" d="M221.2 329h8v8h-8z"/><path fill="#c6208b" d="M229.2 329h8v8h-8z"/><path fill="#ae1e94" d="M237.2 329h8v8h-8z"/><path fill="#951d9c" d="M245.2 329h8v8h-8z"/><path fill="#781aa2" d="M253.2 329h8v8h-8z"/><path fill="#5916a4" d="M261.2 329h8v8h-8z"/><path fill="#4012a3" d="M269.2 329h8v8h-8z"/><path fill="#2f0f9c" d="M277.2 329h8v8h-8z"/><path fill="#1f0c92" d="M285.2 329h8v8h-8z"/><path fill="#1a0a7c" d="M293.2 329h8v8h-8z"/><path fill="#16086c" d="M301.2 329h8v8h-8z"/><path fill="#12075c" d="M309.2 329h8v8h-8z"/><path fill="#120759" d="M29.2 337h8v8h-8z"/><path fill="#16086b" d="M37.2 337h8v8h-8z"/><path fill="#1a0a7d" d="M45.2 337h8v8h-8z"/><path fill="#200c95" d="M53.2 337h8v8h-8z"/><path fill="#32109d" d="M61.2 337h8v8h-8z"/><path fill="#4513a5" d="M69.2 337h8v8h-8z"/><path fill="#6417a3" d="M77.2 337h8v8h-8z"/><path fill="#871ca0" d="M85.2 337h8v8h-8z"/><path fill="#a41e97" d="M93.2 337h8v8h-8z"/><path fill="#bf208e" d="M101.2 337h8v8h-8z"/><path fill="#ce267f" d="M109.2 337h8v8h-8z"/><path fill="#dd3166" d="M117.2 337h8v8h-8z"/><path fill="#f1523e" d="M125.2 337h8v8h-8z"/><path fill="#fb7a1e" d="M133.2 337h8v8h-8z"/><path fill="#fc811a" d="M141.2 337h8v8h-8z"/><path fill="#fd8715" d="M149.2 337h8v8h-8z"/><path fill="#fe8c12" d="M157.2 337h8v8h-8z"/><path fill="#fe8f11" d="M165.2 337h8v8h-8z"/><path fill="#fe8e11" d="M173.2 337h8v8h-8z"/><path fill="#fd8a14" d="M181.2 337h8v8h-8z"/><path fill="#fd8318" d="M189.2 337h8v8h-8z"/><path fill="#fc7e1b" d="M197.2 337h8v8h-8z"/><path fill="#f86b29" d="M205.2 337h8v8h-8z"/><path fill="#e84350" d="M213.2 337h8v8h-8z"/><path fill="#d62c71" d="M221.2 337h8v8h-8z"/><path fill="#cb2483" d="M229.2 337h8v8h-8z"/><path fill="#ba1f90" d="M237.2 337h8v8h-8z"/><path fill="#a01d99" d="M245.2 337h8v8h-8z"/><path fill="#851ba0" d="M253.2 337h8v8h-8z"/><path fill="#6417a3" d="M261.2 337h8v8h-8z"/><path fill="#4614a5" d="M269.2 337h8v8h-8z"/><path fill="#34109e" d="M277.2 337h8v8h-8z"/><path fill="#220c97" d="M285.2 337h8v8h-8z"/><path fill="#1b0a81" d="M293.2 337h8v8h-8z"/><path fill="#170970" d="M301.2 337h8v8h-8z"/><path fill="#13075f" d="M309.2 337h8v8h-8z"/><path fill="#12075c" d="M29.2 345h8v8h-8z"/><path fill="#17086e" d="M37.2 345h8v8h-8z"/><path fill="#1b0a80" d="M45.2 345h8v8h-8z"/><path fill="#230d97" d="M53.2 345h8v8h-8z"/><path fill="#36109f" d="M61.2 345h8v8h-8z"/><path fill="#4a14a6" d="M69.2 345h8v8h-8z"/><path fill="#6c18a3" d="M77.2 345h8v8h-8z"/><path fill="#8f1c9e" d="M85.2 345h8v8h-8z"/><path fill="#ac1e95" d="M93.2 345h8v8h-8z"/><path fill="#c7218b" d="M101.2 345h8v8h-8z"/><path fill="#d22978" d="M109.2 345h8v8h-8z"/><path fill="#e53d57" d="M117.2 345h8v8h-8z"/><path fill="#f86a2a" d="M125.2 345h8v8h-8z"/><path fill="#fc7f1b" d="M133.2 345h8v8h-8z"/><path fill="#fd8715" d="M141.2 345h8v8h-8z"/><path fill="#fe9010" d="M149.2 345h8v8h-8z"/><path fill="#ffa30b" d="M157.2 345h8v8h-8z"/><path fill="#ffae0b" d="M165.2 345h8v8h-8z"/><path fill="#ffa90b" d="M173.2 345h8v8h-8z"/><path fill="#ff970c" d="M181.2 345h8v8h-8z"/><path fill="#fe8c13" d="M189.2 345h8v8h-8z"/><path fill="#fc8318" d="M197.2 345h8v8h-8z"/><path fill="#fc7c1d" d="M205.2 345h8v8h-8z"/><path fill="#f35938" d="M213.2 345h8v8h-8z"/><path fill="#df3461" d="M221.2 345h8v8h-8z"/><path fill="#cf277c" d="M229.2 345h8v8h-8z"/><path fill="#c3208d" d="M237.2 345h8v8h-8z"/><path fill="#a81e96" d="M245.2 345h8v8h-8z"/><path fill="#8d1c9f" d="M253.2 345h8v8h-8z"/><path fill="#6c18a3" d="M261.2 345h8v8h-8z"/><path fill="#4c14a6" d="M269.2 345h8v8h-8z"/><path fill="#38119f" d="M277.2 345h8v8h-8z"/><path fill="#260d98" d="M285.2 345h8v8h-8z"/><path fill="#1c0a85" d="M293.2 345h8v8h-8z"/><path fill="#180973" d="M301.2 345h8v8h-8z"/><path fill="#140762" d="M309.2 345h8v8h-8z"/><path fill="#13075e" d="M29.2 353h8v8h-8z"/><path fill="#170970" d="M37.2 353h8v8h-8z"/><path fill="#1b0a82" d="M45.2 353h8v8h-8z"/><path fill="#250d98" d="M53.2 353h8v8h-8z"/><path fill="#3811a0" d="M61.2 353h8v8h-8z"/><path fill="#4f15a5" d="M69.2 353h8v8h-8z"/><path fill="#7219a2" d="M77.2 353h8v8h-8z"/><path fill="#941d9d" d="M85.2 353h8v8h-8z"/><path fill="#b11f93" d="M93.2 353h8v8h-8z"/><path fill="#c92287" d="M101.2 353h8v8h-8z"/><path fill="#d52b72" d="M109.2 353h8v8h-8z"/><path fill="#eb4849" d="M117.2 353h8v8h-8z"/><path fill="#fb7a1e" d="M125.2 353h8v8h-8z"/><path fill="#fc8219" d="M133.2 353h8v8h-8z"/><path fill="#fe8d12" d="M141.2 353h8v8h-8z"/><path fill="#ffa50b" d="M149.2 353h8v8h-8z"/><path fill="#ffb20b" d="M157.2 353h8v8h-8z"/><path fill="#ffb20b" d="M165.2 353h8v8h-8z"/><path fill="#ffb20b" d="M173.2 353h8v8h-8z"/><path fill="#ffb20b" d="M181.2 353h8v8h-8z"/><path fill="#ff930e" d="M189.2 353h8v8h-8z"/><path fill="#fd8815" d="M197.2 353h8v8h-8z"/><path fill="#fc7f1b" d="M205.2 353h8v8h-8z"/><path fill="#f8682b" d="M213.2 353h8v8h-8z"/><path fill="#e43c58" d="M221.2 353h8v8h-8z"/><path fill="#d22978" d="M229.2 353h8v8h-8z"/><path fill="#c7218a" d="M237.2 353h8v8h-8z"/><path fill="#ae1e94" d="M245.2 353h8v8h-8z"/><path fill="#921d9d" d="M253.2 353h8v8h-8z"/><path fill="#7219a2" d="M261.2 353h8v8h-8z"/><path fill="#5115a5" d="M269.2 353h8v8h-8z"/><path fill="#3a11a1" d="M277.2 353h8v8h-8z"/><path fill="#280e99" d="M285.2 353h8v8h-8z"/><path fill="#1d0b88" d="M293.2 353h8v8h-8z"/><path fill="#180975" d="M301.2 353h8v8h-8z"/><path fill="#140864" d="M309.2 353h8v8h-8z"/><path fill="#13075f" d="M29.2 361h8v8h-8z"/><path fill="#170971" d="M37.2 361h8v8h-8z"/><path fill="#1c0a83" d="M45.2 361h8v8h-8z"/><path fill="#260d98" d="M53.2 361h8v8h-8z"/><path fill="#3911a0" d="M61.2 361h8v8h-8z"/><path fill="#5115a5" d="M69.2 361h8v8h-8z"/><path fill="#7419a2" d="M77.2 361h8v8h-8z"/><path fill="#971d9c" d="M85.2 361h8v8h-8z"/><path fill="#b41f92" d="M93.2 361h8v8h-8z"/><path fill="#ca2385" d="M101.2 361h8v8h-8z"/><path fill="#d82e6e" d="M109.2 361h8v8h-8z"/><path fill="#ef4e42" d="M117.2 361h8v8h-8z"/><path fill="#fb7b1d" d="M125.2 361h8v8h-8z"/><path fill="#fd8417" d="M133.2 361h8v8h-8z"/><path fill="#fe9010" d="M141.2 361h8v8h-8z"/><path fill="#ffb20b" d="M149.2 361h8v8h-8z"/><path fill="#ffb20b" d="M157.2 361h8v8h-8z"/><path fill="#ffb20b" d="M165.2 361h8v8h-8z"/><path fill="#ffb20b" d="M173.2 361h8v8h-8z"/><path fill="#ffb20b" d="M181.2 361h8v8h-8z"/><path fill="#ff9d0c" d="M189.2 361h8v8h-8z"/><path fill="#fd8a14" d="M197.2 361h8v8h-8z"/><path fill="#fc801a" d="M205.2 361h8v8h-8z"/><path fill="#fa6f25" d="M213.2 361h8v8h-8z"/><path fill="#e64053" d="M221.2 361h8v8h-8z"/><path fill="#d42a75" d="M229.2 361h8v8h-8z"/><path fill="#c82289" d="M237.2 361h8v8h-8z"/><path fill="#b01f93" d="M245.2 361h8v8h-8z"/><path fill="#951d9c" d="M253.2 361h8v8h-8z"/><path fill="#7419a2" d="M261.2 361h8v8h-8z"/><path fill="#5315a5" d="M269.2 361h8v8h-8z"/><path fill="#3b11a1" d="M277.2 361h8v8h-8z"/><path fill="#290e9a" d="M285.2 361h8v8h-8z"/><path fill="#1d0b89" d="M293.2 361h8v8h-8z"/><path fill="#180976" d="M301.2 361h8v8h-8z"/><path fill="#140865" d="M309.2 361h8v8h-8z"/><path fill="#13075f" d="M29.2 369h8v8h-8z"/><path fill="#170971" d="M37.2 369h8v8h-8z"/><path fill="#1b0a83" d="M45.2 369h8v8h-8z"/><path fill="#260d98" d="M53.2 369h8v8h-8z"/><path fill="#3911a0" d="M61.2 369h8v8h-8z"/><path fill="#5115a5" d="M69.2 369h8v8h-8z"/><path fill="#7419a2" d="M77.2 369h8v8h-8z"/><path fill="#961d9c" d="M85.2 369h8v8h-8z"/><path fill="#b41f92" d="M93.2 369h8v8h-8z"/><path fill="#ca2385" d="M101.2 369h8v8h-8z"/><path fill="#d82d6f" d="M109.2 369h8v8h-8z"/><path fill="#ee4d43" d="M117.2 369h8v8h-8z"/><path fill="#fb7b1d" d="M125.2 369h8v8h-8z"/><path fill="#fd8418" d="M133.2 369h8v8h-8z"/><path fill="#fe8f10" d="M141.2 369h8v8h-8z"/><path fill="#ffb00b" d="M149.2 369h8v8h-8z"/><path fill="#ffb20b" d="M157.2 369h8v8h-8z"/><path fill="#ffb20b" d="M165.2 369h8v8h-8z"/><path fill="#ffb20b" d="M173.2 369h8v8h-8z"/><path fill="#ffb20b" d="M181.2 369h8v8h-8z"/><path fill="#ff9b0c" d="M189.2 369h8v8h-8z"/><path fill="#fd8a14" d="M197.2 369h8v8h-8z"/><path fill="#fc801a" d="M205.2 369h8v8h-8z"/><path fill="#f96e26" d="M213.2 369h8v8h-8z"/><path fill="#e63f54" d="M221.2 369h8v8h-8z"/><path fill="#d32a76" d="M229.2 369h8v8h-8z"/><path fill="#c82189" d="M237.2 369h8v8h-8z"/><path fill="#b01f93" d="M245.2 369h8v8h-8z"/><path fill="#941d9d" d="M253.2 369h8v8h-8z"/><path fill="#7419a2" d="M261.2 369h8v8h-8z"/><path fill="#5315a5" d="M269.2 369h8v8h-8z"/><path fill="#3b11a1" d="M277.2 369h8v8h-8z"/><path fill="#290e9a" d="M285.2 369h8v8h-8z"/><path fill="#1d0b89" d="M293.2 369h8v8h-8z"/><path fill="#180976" d="M301.2 369h8v8h-8z"/><path fill="#140865" d="M309.2 369h8v8h-8z"/><path fill="#13075e" d="M29.2 377h8v8h-8z"/><path fill="#17096f" d="M37.2 377h8v8h-8z"/><path fill="#1b0a81" d="M45.2 377h8v8h-8z"/><path fill="#250d98" d="M53.2 377h8v8h-8z"/><path fill="#38119f" d="M61.2 377h8v8h-8z"/><path fill="#4e15a5" d="M69.2 377h8v8h-8z"/><path fill="#7119a2" d="M77.2 377h8v8h-8z"/><path fill="#931d9d" d="M85.2 377h8v8h-8z"/><path fill="#b01f93" d="M93.2 377h8v8h-8z"/><path fill="#c82288" d="M101.2 377h8v8h-8z"/><path fill="#d42b74" d="M109.2 377h8v8h-8z"/><path fill="#e9454d" d="M117.2 377h8v8h-8z"/><path fill="#fb7620" d="M125.2 377h8v8h-8z"/><path fill="#fc8119" d="M133.2 377h8v8h-8z"/><path fill="#fe8b13" d="M141.2 377h8v8h-8z"/><path fill="#ff9e0c" d="M149.2 377h8v8h-8z"/><path fill="#ffb20b" d="M157.2 377h8v8h-8z"/><path fill="#ffb20b" d="M165.2 377h8v8h-8z"/><path fill="#ffb20b" d="M173.2 377h8v8h-8z"/><path fill="#ffab0b" d="M181.2 377h8v8h-8z"/><path fill="#fe9010" d="M189.2 377h8v8h-8z"/><path fill="#fd8616" d="M197.2 377h8v8h-8z"/><path fill="#fc7e1b" d="M205.2 377h8v8h-8z"/><path fill="#f6642e" d="M213.2 377h8v8h-8z"/><path fill="#e33a5a" d="M221.2 377h8v8h-8z"/><path fill="#d22979" d="M229.2 377h8v8h-8z"/><path fill="#c7208b" d="M237.2 377h8v8h-8z"/><path fill="#ac1e95" d="M245.2 377h8v8h-8z"/><path fill="#911c9e" d="M253.2 377h8v8h-8z"/><path fill="#7019a2" d="M261.2 377h8v8h-8z"/><path fill="#5015a5" d="M269.2 377h8v8h-8z"/><path fill="#3a11a0" d="M277.2 377h8v8h-8z"/><path fill="#280e99" d="M285.2 377h8v8h-8z"/><path fill="#1c0b87" d="M293.2 377h8v8h-8z"/><path fill="#180975" d="M301.2 377h8v8h-8z"/><path fill="#140864" d="M309.2 377h8v8h-8z"/><path fill="#12075b" d="M29.2 385h8v8h-8z"/><path fill="#16086d" d="M37.2 385h8v8h-8z"/><path fill="#1b0a7f" d="M45.2 385h8v8h-8z"/><path fill="#220c97" d="M53.2 385h8v8h-8z"/><path fill="#35109e" d="M61.2 385h8v8h-8z"/><path fill="#4814a6" d="M69.2 385h8v8h-8z"/><path fill="#6a18a3" d="M77.2 385h8v8h-8z"/><path fill="#8d1c9f" d="M85.2 385h8v8h-8z"/><path fill="#aa1e95" d="M93.2 385h8v8h-8z"/><path fill="#c6208c" d="M101.2 385h8v8h-8z"/><path fill="#d1287a" d="M109.2 385h8v8h-8z"/><path fill="#e33a5b" d="M117.2 385h8v8h-8z"/><path fill="#f6632f" d="M125.2 385h8v8h-8z"/><path fill="#fc7d1b" d="M133.2 385h8v8h-8z"/><path fill="#fd8517" d="M141.2 385h8v8h-8z"/><path fill="#fe8e11" d="M149.2 385h8v8h-8z"/><path fill="#ff990c" d="M157.2 385h8v8h-8z"/><path fill="#ffa20c" d="M165.2 385h8v8h-8z"/><path fill="#ff9e0c" d="M173.2 385h8v8h-8z"/><path fill="#fe9010" d="M181.2 385h8v8h-8z"/><path fill="#fd8914" d="M189.2 385h8v8h-8z"/><path fill="#fc8119" d="M197.2 385h8v8h-8z"/><path fill="#fb7a1d" d="M205.2 385h8v8h-8z"/><path fill="#f1533e" d="M213.2 385h8v8h-8z"/><path fill="#dd3165" d="M221.2 385h8v8h-8z"/><path fill="#ce267e" d="M229.2 385h8v8h-8z"/><path fill="#c1208e" d="M237.2 385h8v8h-8z"/><path fill="#a61e97" d="M245.2 385h8v8h-8z"/><path fill="#8b1ca0" d="M253.2 385h8v8h-8z"/><path fill="#6a18a3" d="M261.2 385h8v8h-8z"/><path fill="#4a14a6" d="M269.2 385h8v8h-8z"/><path fill="#37119f" d="M277.2 385h8v8h-8z"/><path fill="#250d98" d="M285.2 385h8v8h-8z"/><path fill="#1c0a83" d="M293.2 385h8v8h-8z"/><path fill="#180972" d="M301.2 385h8v8h-8z"/><path fill="#140762" d="M309.2 385h8v8h-8z"/><path fill="#120758" d="M29.2 393h8v8h-8z"/><path fill="#16086a" d="M37.2 393h8v8h-8z"/><path fill="#1a0a7c" d="M45.2 393h8v8h-8z"/><path fill="#1f0c93" d="M53.2 393h8v8h-8z"/><path fill="#300f9d" d="M61.2 393h8v8h-8z"/><path fill="#4313a4" d="M69.2 393h8v8h-8z"/><path fill="#6117a4" d="M77.2 393h8v8h-8z"/><path fill="#841ba1" d="M85.2 393h8v8h-8z"/><path fill="#a11e98" d="M93.2 393h8v8h-8z"/><path fill="#bc1f8f" d="M101.2 393h8v8h-8z"/><path fill="#cc2581" d="M109.2 393h8v8h-8z"/><path fill="#da2f6b" d="M117.2 393h8v8h-8z"/><path fill="#ec4a47" d="M125.2 393h8v8h-8z"/><path fill="#fa7322" d="M133.2 393h8v8h-8z"/><path fill="#fc7f1b" d="M141.2 393h8v8h-8z"/><path fill="#fd8417" d="M149.2 393h8v8h-8z"/><path fill="#fd8914" d="M157.2 393h8v8h-8z"/><path fill="#fe8b13" d="M165.2 393h8v8h-8z"/><path fill="#fd8a13" d="M173.2 393h8v8h-8z"/><path fill="#fd8716" d="M181.2 393h8v8h-8z"/><path fill="#fc8119" d="M189.2 393h8v8h-8z"/><path fill="#fc7c1d" d="M197.2 393h8v8h-8z"/><path fill="#f66230" d="M205.2 393h8v8h-8z"/><path fill="#e53d56" d="M213.2 393h8v8h-8z"/><path fill="#d42b75" d="M221.2 393h8v8h-8z"/><path fill="#ca2386" d="M229.2 393h8v8h-8z"/><path fill="#b71f91" d="M237.2 393h8v8h-8z"/><path fill="#9d1d9a" d="M245.2 393h8v8h-8z"/><path fill="#811ba1" d="M253.2 393h8v8h-8z"/><path fill="#6117a4" d="M261.2 393h8v8h-8z"/><path fill="#4413a4" d="M269.2 393h8v8h-8z"/><path fill="#32109d" d="M277.2 393h8v8h-8z"/><path fill="#210c96" d="M285.2 393h8v8h-8z"/><path fill="#1b0a7f" d="M293.2 393h8v8h-8z"/><path fill="#17096f" d="M301.2 393h8v8h-8z"/><path fill="#13075e" d="M309.2 393h8v8h-8z"/><path fill="#110656" d="M29.2 401h8v8h-8z"/><path fill="#150866" d="M37.2 401h8v8h-8z"/><path fill="#190977" d="M45.2 401h8v8h-8z"/><path fill="#1e0b8b" d="M53.2 401h8v8h-8z"/><path fill="#2b0e9a" d="M61.2 401h8v8h-8z"/><path fill="#3d12a2" d="M69.2 401h8v8h-8z"/><path fill="#5616a5" d="M77.2 401h8v8h-8z"/><path fill="#761aa2" d="M85.2 401h8v8h-8z"/><path fill="#951d9c" d="M93.2 401h8v8h-8z"/><path fill="#af1e94" d="M101.2 401h8v8h-8z"/><path fill="#c7218a" d="M109.2 401h8v8h-8z"/><path fill="#d1287a" d="M117.2 401h8v8h-8z"/><path fill="#df3461" d="M125.2 401h8v8h-8z"/><path fill="#f05040" d="M133.2 401h8v8h-8z"/><path fill="#fa7024" d="M141.2 401h8v8h-8z"/><path fill="#fc7c1c" d="M149.2 401h8v8h-8z"/><path fill="#fc7f1a" d="M157.2 401h8v8h-8z"/><path fill="#fc8119" d="M165.2 401h8v8h-8z"/><path fill="#fc801a" d="M173.2 401h8v8h-8z"/><path fill="#fc7e1b" d="M181.2 401h8v8h-8z"/><path fill="#fb7a1e" d="M189.2 401h8v8h-8z"/><path fill="#f66230" d="M197.2 401h8v8h-8z"/><path fill="#e74151" d="M205.2 401h8v8h-8z"/><path fill="#d92e6c" d="M213.2 401h8v8h-8z"/><path fill="#ce267f" d="M221.2 401h8v8h-8z"/><path fill="#c3208d" d="M229.2 401h8v8h-8z"/><path fill="#aa1e95" d="M237.2 401h8v8h-8z"/><path fill="#921d9d" d="M245.2 401h8v8h-8z"/><path fill="#7419a2" d="M253.2 401h8v8h-8z"/><path fill="#5616a5" d="M261.2 401h8v8h-8z"/><path fill="#3e12a2" d="M269.2 401h8v8h-8z"/><path fill="#2d0f9b" d="M277.2 401h8v8h-8z"/><path fill="#1f0b90" d="M285.2 401h8v8h-8z"/><path fill="#1a0a7b" d="M293.2 401h8v8h-8z"/><path fill="#16086b" d="M301.2 401h8v8h-8z"/><path fill="#12075a" d="M309.2 401h8v8h-8z"/><path fill="#100654" d="M29.2 409h8v8h-8z"/><path fill="#130761" d="M37.2 409h8v8h-8z"/><path fill="#170972" d="M45.2 409h8v8h-8z"/><path fill="#1b0a82" d="M53.2 409h8v8h-8z"/><path fill="#240d98" d="M61.2 409h8v8h-8z"/><path fill="#36109f" d="M69.2 409h8v8h-8z"/><path fill="#4814a6" d="M77.2 409h8v8h-8z"/><path fill="#6718a3" d="M85.2 409h8v8h-8z"/><path fill="#871ca0" d="M93.2 409h8v8h-8z"/><path fill="#a01d99" d="M101.2 409h8v8h-8z"/><path fill="#b81f91" d="M109.2 409h8v8h-8z"/><path fill="#c92287" d="M117.2 409h8v8h-8z"/><path fill="#d22978" d="M125.2 409h8v8h-8z"/><path fill="#df3363" d="M133.2 409h8v8h-8z"/><path fill="#ea464c" d="M141.2 409h8v8h-8z"/><path fill="#f45c35" d="M149.2 409h8v8h-8z"/><path fill="#f86b28" d="M157.2 409h8v8h-8z"/><path fill="#fa7123" d="M165.2 409h8v8h-8z"/><path fill="#f96e26" d="M173.2 409h8v8h-8z"/><path fill="#f6632f" d="M181.2 409h8v8h-8z"/><path fill="#f0513f" d="M189.2 409h8v8h-8z"/><path fill="#e43d57" d="M197.2 409h8v8h-8z"/><path fill="#d92e6d" d="M205.2 409h8v8h-8z"/><path fill="#cf277d" d="M213.2 409h8v8h-8z"/><path fill="#c7218b" d="M221.2 409h8v8h-8z"/><path fill="#b31f92" d="M229.2 409h8v8h-8z"/><path fill="#9c1d9a" d="M237.2 409h8v8h-8z"/><path fill="#831ba1" d="M245.2 409h8v8h-8z"/><path fill="#6518a3" d="M253.2 409h8v8h-8z"/><path fill="#4814a6" d="M261.2 409h8v8h-8z"/><path fill="#37119f" d="M269.2 409h8v8h-8z"/><path fill="#260d99" d="M277.2 409h8v8h-8z"/><path fill="#1c0b87" d="M285.2 409h8v8h-8z"/><path fill="#180975" d="M293.2 409h8v8h-8z"/><path fill="#150865" d="M301.2 409h8v8h-8z"/><path fill="#110656" d="M309.2 409h8v8h-8z"/><path fill="#100652" d="M29.2 417h8v8h-8z"/><path fill="#12075b" d="M37.2 417h8v8h-8z"/><path fill="#16086b" d="M45.2 417h8v8h-8z"/><path fill="#1a0a7c" d="M53.2 417h8v8h-8z"/><path fill="#1f0c91" d="M61.2 417h8v8h-8z"/><path fill="#2e0f9c" d="M69.2 417h8v8h-8z"/><path fill="#3f12a2" d="M77.2 417h8v8h-8z"/><path fill="#5616a5" d="M85.2 417h8v8h-8z"/><path fill="#7319a2" d="M93.2 417h8v8h-8z"/><path fill="#8f1c9e" d="M101.2 417h8v8h-8z"/><path fill="#a61e97" d="M109.2 417h8v8h-8z"/><path fill="#bb1f90" d="M117.2 417h8v8h-8z"/><path fill="#c92287" d="M125.2 417h8v8h-8z"/><path fill="#d0287b" d="M133.2 417h8v8h-8z"/><path fill="#d72d6f" d="M141.2 417h8v8h-8z"/><path fill="#e03560" d="M149.2 417h8v8h-8z"/><path fill="#e53d57" d="M157.2 417h8v8h-8z"/><path fill="#e74053" d="M165.2 417h8v8h-8z"/><path fill="#e63f55" d="M173.2 417h8v8h-8z"/><path fill="#e2395b" d="M181.2 417h8v8h-8z"/><path fill="#dc3167" d="M189.2 417h8v8h-8z"/><path fill="#d32a76" d="M197.2 417h8v8h-8z"/><path fill="#cd2580" d="M205.2 417h8v8h-8z"/><path fill="#c7208b" d="M213.2 417h8v8h-8z"/><path fill="#b51f92" d="M221.2 417h8v8h-8z"/><path fill="#a11e98" d="M229.2 417h8v8h-8z"/><path fill="#8b1ca0" d="M237.2 417h8v8h-8z"/><path fill="#6f19a2" d="M245.2 417h8v8h-8z"/><path fill="#5415a5" d="M253.2 417h8v8h-8z"/><path fill="#3e12a2" d="M261.2 417h8v8h-8z"/><path fill="#2f0f9c" d="M269.2 417h8v8h-8z"/><path fill="#1f0c94" d="M277.2 417h8v8h-8z"/><path fill="#1a0a7e" d="M285.2 417h8v8h-8z"/><path fill="#17096f" d="M293.2 417h8v8h-8z"/><path fill="#13075f" d="M301.2 417h8v8h-8z"/><path fill="#100654" d="M309.2 417h8v8h-8z"/><path fill="#100650" d="M29.2 425h8v8h-8z"/><path fill="#110655" d="M37.2 425h8v8h-8z"/><path fill="#140864" d="M45.2 425h8v8h-8z"/><path fill="#180974" d="M53.2 425h8v8h-8z"/><path fill="#1c0a84" d="M61.2 425h8v8h-8z"/><path fill="#250d98" d="M69.2 425h8v8h-8z"/><path fill="#35109e" d="M77.2 425h8v8h-8z"/><path fill="#4513a5" d="M85.2 425h8v8h-8z"/><path fill="#5e17a4" d="M93.2 425h8v8h-8z"/><path fill="#791aa2" d="M101.2 425h8v8h-8z"/><path fill="#921d9d" d="M109.2 425h8v8h-8z"/><path fill="#a61e97" d="M117.2 425h8v8h-8z"/><path fill="#b71f91" d="M125.2 425h8v8h-8z"/><path fill="#c6208b" d="M133.2 425h8v8h-8z"/><path fill="#cb2483" d="M141.2 425h8v8h-8z"/><path fill="#cf277c" d="M149.2 425h8v8h-8z"/><path fill="#d22978" d="M157.2 425h8v8h-8z"/><path fill="#d32a76" d="M165.2 425h8v8h-8z"/><path fill="#d32a77" d="M173.2 425h8v8h-8z"/><path fill="#d1287a" d="M181.2 425h8v8h-8z"/><path fill="#cd2680" d="M189.2 425h8v8h-8z"/><path fill="#c92287" d="M197.2 425h8v8h-8z"/><path fill="#c1208e" d="M205.2 425h8v8h-8z"/><path fill="#b11f93" d="M213.2 425h8v8h-8z"/><path fill="#a01d99" d="M221.2 425h8v8h-8z"/><path fill="#8d1c9f" d="M229.2 425h8v8h-8z"/><path fill="#7419a2" d="M237.2 425h8v8h-8z"/><path fill="#5b16a4" d="M245.2 425h8v8h-8z"/><path fill="#4413a4" d="M253.2 425h8v8h-8z"/><path fill="#35109e" d="M261.2 425h8v8h-8z"/><path fill="#250d98" d="M269.2 425h8v8h-8z"/><path fill="#1c0b87" d="M277.2 425h8v8h-8z"/><path fill="#190977" d="M285.2 425h8v8h-8z"/><path fill="#150868" d="M293.2 425h8v8h-8z"/><path fill="#110758" d="M301.2 425h8v8h-8z"/><path fill="#100651" d="M309.2 425h8v8h-8z"/><path fill="#0f054e" d="M29.2 433h8v8h-8z"/><path fill="#100652" d="M37.2 433h8v8h-8z"/><path fill="#12075c" d="M45.2 433h8v8h-8z"/><path fill="#16086b" d="M53.2 433h8v8h-8z"/><path fill="#1a0a7b" d="M61.2 433h8v8h-8z"/><path fill="#1e0b8e" d="M69.2 433h8v8h-8z"/><path fill="#2a0e9a" d="M77.2 433h8v8h-8z"/><path fill="#3911a0" d="M85.2 433h8v8h-8z"/><path fill="#4814a6" d="M93.2 433h8v8h-8z"/><path fill="#6117a4" d="M101.2 433h8v8h-8z"/><path fill="#791aa2" d="M109.2 433h8v8h-8z"/><path fill="#8f1c9e" d="M117.2 433h8v8h-8z"/><path fill="#a01d99" d="M125.2 433h8v8h-8z"/><path fill="#ae1e94" d="M133.2 433h8v8h-8z"/><path fill="#b91f90" d="M141.2 433h8v8h-8z"/><path fill="#c2208d" d="M149.2 433h8v8h-8z"/><path fill="#c7218b" d="M157.2 433h8v8h-8z"/><path fill="#c7218a" d="M165.2 433h8v8h-8z"/><path fill="#c7218a" d="M173.2 433h8v8h-8z"/><path fill="#c5208c" d="M181.2 433h8v8h-8z"/><path fill="#be1f8f" d="M189.2 433h8v8h-8z"/><path fill="#b41f92" d="M197.2 433h8v8h-8z"/><path fill="#a81e96" d="M205.2 433h8v8h-8z"/><path fill="#9a1d9b" d="M213.2 433h8v8h-8z"/><path fill="#8a1ca0" d="M221.2 433h8v8h-8z"/><path fill="#7319a2" d="M229.2 433h8v8h-8z"/><path fill="#5d17a4" d="M237.2 433h8v8h-8z"/><path fill="#4614a5" d="M245.2 433h8v8h-8z"/><path fill="#3811a0" d="M253.2 433h8v8h-8z"/><path fill="#2a0e9a" d="M261.2 433h8v8h-8z"/><path fill="#1e0b8f" d="M269.2 433h8v8h-8z"/><path fill="#1a0a7c" d="M277.2 433h8v8h-8z"/><path fill="#17086e" d="M285.2 433h8v8h-8z"/><path fill="#13075f" d="M293.2 433h8v8h-8z"/><path fill="#100654" d="M301.2 433h8v8h-8z"/><path fill="#100650" d="M309.2 433h8v8h-8z"/><path fill="#0f054d" d="M29.2 441h8v8h-8z"/><path fill="#100650" d="M37.2 441h8v8h-8z"/><path fill="#110655" d="M45.2 441h8v8h-8z"/><path fill="#140762" d="M53.2 441h8v8h-8z"/><path fill="#170971" d="M61.2 441h8v8h-8z"/><path fill="#1b0a7f" d="M69.2 441h8v8h-8z"/><path fill="#1f0c94" d="M77.2 441h8v8h-8z"/><path fill="#2d0f9b" d="M85.2 441h8v8h-8z"/><path fill="#3b11a1" d="M93.2 441h8v8h-8z"/><path fill="#4814a6" d="M101.2 441h8v8h-8z"/><path fill="#5e17a4" d="M109.2 441h8v8h-8z"/><path fill="#7319a2" d="M117.2 441h8v8h-8z"/><path fill="#861ca0" d="M125.2 441h8v8h-8z"/><path fill="#941d9d" d="M133.2 441h8v8h-8z"/><path fill="#9f1d99" d="M141.2 441h8v8h-8z"/><path fill="#a71e96" d="M149.2 441h8v8h-8z"/><path fill="#ac1e95" d="M157.2 441h8v8h-8z"/><path fill="#ae1e94" d="M165.2 441h8v8h-8z"/><path fill="#ad1e94" d="M173.2 441h8v8h-8z"/><path fill="#a91e96" d="M181.2 441h8v8h-8z"/><path fill="#a31e98" d="M189.2 441h8v8h-8z"/><path fill="#9a1d9b" d="M197.2 441h8v8h-8z"/><path fill="#8f1c9e" d="M205.2 441h8v8h-8z"/><path fill="#7f1ba1" d="M213.2 441h8v8h-8z"/><path fill="#6d18a3" d="M221.2 441h8v8h-8z"/><path fill="#5916a4" d="M229.2 441h8v8h-8z"/><path fill="#4614a5" d="M237.2 441h8v8h-8z"/><path fill="#3911a0" d="M245.2 441h8v8h-8z"/><path fill="#2c0e9b" d="M253.2 441h8v8h-8z"/><path fill="#1f0c93" d="M261.2 441h8v8h-8z"/><path fill="#1b0a80" d="M269.2 441h8v8h-8z"/><path fill="#180973" d="M277.2 441h8v8h-8z"/><path fill="#140865" d="M285.2 441h8v8h-8z"/><path fill="#110657" d="M293.2 441h8v8h-8z"/><path fill="#100651" d="M301.2 441h8v8h-8z"/><path fill="#0f054e" d="M309.2 441h8v8h-8z"/><path fill="#0f054b" d="M29.2 449h8v8h-8z"/><path fill="#0f054e" d="M37.2 449h8v8h-8z"/><path fill="#100651" d="M45.2 449h8v8h-8z"/><path fill="#110758" d="M53.2 449h8v8h-8z"/><path fill="#150867" d="M61.2 449h8v8h-8z"/><path fill="#180974" d="M69.2 449h8v8h-8z"/><path fill="#1b0a82" d="M77.2 449h8v8h-8z"/><path fill="#200c96" d="M85.2 449h8v8h-8z"/><path fill="#2d0f9b" d="M93.2 449h8v8h-8z"/><path fill="#3911a0" d="M101.2 449h8v8h-8z"/><path fill="#4513a5" d="M109.2 449h8v8h-8z"/><path fill="#5616a5" d="M117.2 449h8v8h-8z"/><path fill="#6718a3" d="M125.2 449h8v8h-8z"/><path fill="#7519a2" d="M133.2 449h8v8h-8z"/><path fill="#811ba1" d="M141.2 449h8v8h-8z"/><path fill="#8b1ca0" d="M149.2 449h8v8h-8z"/><path fill="#8f1c9e" d="M157.2 449h8v8h-8z"/><path fill="#911c9e" d="M165.2 449h8v8h-8z"/><path fill="#901c9e" d="M173.2 449h8v8h-8z"/><path fill="#8d1c9f" d="M181.2 449h8v8h-8z"/><path fill="#861ca0" d="M189.2 449h8v8h-8z"/><path fill="#7c1aa1" d="M197.2 449h8v8h-8z"/><path fill="#6f19a2" d="M205.2 449h8v8h-8z"/><path fill="#6117a4" d="M213.2 449h8v8h-8z"/><path fill="#5015a5" d="M221.2 449h8v8h-8z"/><path fill="#4213a4" d="M229.2 449h8v8h-8z"/><path fill="#37119f" d="M237.2 449h8v8h-8z"/><path fill="#2b0e9b" d="M245.2 449h8v8h-8z"/><path fill="#200c94" d="M253.2 449h8v8h-8z"/><path fill="#1b0a82" d="M261.2 449h8v8h-8z"/><path fill="#180975" d="M269.2 449h8v8h-8z"/><path fill="#150868" d="M277.2 449h8v8h-8z"/><path fill="#12075b" d="M285.2 449h8v8h-8z"/><path fill="#100652" d="M293.2 449h8v8h-8z"/><path fill="#0f054f" d="M301.2 449h8v8h-8z"/><path fill="#0f054c" d="M309.2 449h8v8h-8z"/><path fill="#0e0449" d="M29.2 457h8v8h-8z"/><path fill="#0f054c" d="M37.2 457h8v8h-8z"/><path fill="#10064f" d="M45.2 457h8v8h-8z"/><path fill="#100653" d="M53.2 457h8v8h-8z"/><path fill="#12075b" d="M61.2 457h8v8h-8z"/><path fill="#150869" d="M69.2 457h8v8h-8z"/><path fill="#180976" d="M77.2 457h8v8h-8z"/><path fill="#1b0a82" d="M85.2 457h8v8h-8z"/><path fill="#200c94" d="M93.2 457h8v8h-8z"/><path fill="#2a0e9a" d="M101.2 457h8v8h-8z"/><path fill="#35109e" d="M109.2 457h8v8h-8z"/><path fill="#3f12a2" d="M117.2 457h8v8h-8z"/><path fill="#4814a6" d="M125.2 457h8v8h-8z"/><path fill="#5516a5" d="M133.2 457h8v8h-8z"/><path fill="#6017a4" d="M141.2 457h8v8h-8z"/><path fill="#6818a3" d="M149.2 457h8v8h-8z"/><path fill="#6d18a3" d="M157.2 457h8v8h-8z"/><path fill="#6f19a2" d="M165.2 457h8v8h-8z"/><path fill="#6e19a3" d="M173.2 457h8v8h-8z"/><path fill="#6a18a3" d="M181.2 457h8v8h-8z"/><path fill="#6417a3" d="M189.2 457h8v8h-8z"/><path fill="#5b16a4" d="M197.2 457h8v8h-8z"/><path fill="#5015a5" d="M205.2 457h8v8h-8z"/><path fill="#4513a5" d="M213.2 457h8v8h-8z"/><path fill="#3c12a1" d="M221.2 457h8v8h-8z"/><path fill="#33109d" d="M229.2 457h8v8h-8z"/><path fill="#280e99" d="M237.2 457h8v8h-8z"/><path fill="#1f0c92" d="M245.2 457h8v8h-8z"/><path fill="#1b0a81" d="M253.2 457h8v8h-8z"/><path fill="#180976" d="M261.2 457h8v8h-8z"/><path fill="#160869" d="M269.2 457h8v8h-8z"/><path fill="#13075d" d="M277.2 457h8v8h-8z"/><path fill="#100654" d="M285.2 457h8v8h-8z"/><path fill="#100650" d="M293.2 457h8v8h-8z"/><path fill="#0f054d" d="M301.2 457h8v8h-8z"/><path fill="#0f054a" d="M309.2 457h8v8h-8z"/><path fill="#0e0446" d="M29.2 465h8v8h-8z"/><path fill="#0f054a" d="M37.2 465h8v8h-8z"/><path fill="#0f054d" d="M45.2 465h8v8h-8z"/><path fill="#100650" d="M53.2 465h8v8h-8z"/><path fill="#100654" d="M61.2 465h8v8h-8z"/><path fill="#13075d" d="M69.2 465h8v8h-8z"/><path fill="#150869" d="M77.2 465h8v8h-8z"/><path fill="#180975" d="M85.2 465h8v8h-8z"/><path fill="#1b0a80" d="M93.2 465h8v8h-8z"/><path fill="#1e0b8f" d="M101.2 465h8v8h-8z"/><path fill="#250d98" d="M109.2 465h8v8h-8z"/><path fill="#2e0f9c" d="M117.2 465h8v8h-8z"/><path fill="#36109f" d="M125.2 465h8v8h-8z"/><path fill="#3d12a2" d="M133.2 465h8v8h-8z"/><path fill="#4313a4" d="M141.2 465h8v8h-8z"/><path fill="#4714a6" d="M149.2 465h8v8h-8z"/><path fill="#4b14a6" d="M157.2 465h8v8h-8z"/><path fill="#4d15a6" d="M165.2 465h8v8h-8z"/><path fill="#4c15a6" d="M173.2 465h8v8h-8z"/><path fill="#4914a6" d="M181.2 465h8v8h-8z"/><path fill="#4513a5" d="M189.2 465h8v8h-8z"/><path fill="#4012a3" d="M197.2 465h8v8h-8z"/><path fill="#3a11a1" d="M205.2 465h8v8h-8z"/><path fill="#34109e" d="M213.2 465h8v8h-8z"/><path fill="#2c0e9b" d="M221.2 465h8v8h-8z"/><path fill="#230d97" d="M229.2 465h8v8h-8z"/><path fill="#1e0b8c" d="M237.2 465h8v8h-8z"/><path fill="#1a0a7f" d="M245.2 465h8v8h-8z"/><path fill="#180974" d="M253.2 465h8v8h-8z"/><path fill="#150869" d="M261.2 465h8v8h-8z"/><path fill="#13075d" d="M269.2 465h8v8h-8z"/><path fill="#110654" d="M277.2 465h8v8h-8z"/><path fill="#100650" d="M285.2 465h8v8h-8z"/><path fill="#0f054d" d="M293.2 465h8v8h-8z"/><path fill="#0f054b" d="M301.2 465h8v8h-8z"/><path fill="#0e0448" d="M309.2 465h8v8h-8z"/><path fill="#0e0445" d="M29.2 473h8v8h-8z"/><path fill="#0e0447" d="M37.2 473h8v8h-8z"/><path fill="#0f054a" d="M45.2 473h8v8h-8z"/><path fill="#0f054d" d="M53.2 473h8v8h-8z"/><path fill="#100650" d="M61.2 473h8v8h-8z"/><path fill="#100654" d="M69.2 473h8v8h-8z"/><path fill="#12075c" d="M77.2 473h8v8h-8z"/><path fill="#150867" d="M85.2 473h8v8h-8z"/><path fill="#170972" d="M93.2 473h8v8h-8z"/><path fill="#1a0a7c" d="M101.2 473h8v8h-8z"/><path fill="#1c0b86" d="M109.2 473h8v8h-8z"/><path fill="#1f0c92" d="M117.2 473h8v8h-8z"/><path fill="#250d98" d="M125.2 473h8v8h-8z"/><path fill="#2b0e9b" d="M133.2 473h8v8h-8z"/><path fill="#300f9d" d="M141.2 473h8v8h-8z"/><path fill="#34109e" d="M149.2 473h8v8h-8z"/><path fill="#37119f" d="M157.2 473h8v8h-8z"/><path fill="#38119f" d="M165.2 473h8v8h-8z"/><path fill="#37119f" d="M173.2 473h8v8h-8z"/><path fill="#35109f" d="M181.2 473h8v8h-8z"/><path fill="#32109d" d="M189.2 473h8v8h-8z"/><path fill="#2e0f9c" d="M197.2 473h8v8h-8z"/><path fill="#290e9a" d="M205.2 473h8v8h-8z"/><path fill="#220c97" d="M213.2 473h8v8h-8z"/><path fill="#1e0b8f" d="M221.2 473h8v8h-8z"/><path fill="#1b0a82" d="M229.2 473h8v8h-8z"/><path fill="#190a7a" d="M237.2 473h8v8h-8z"/><path fill="#170970" d="M245.2 473h8v8h-8z"/><path fill="#150866" d="M253.2 473h8v8h-8z"/><path fill="#12075c" d="M261.2 473h8v8h-8z"/><path fill="#100654" d="M269.2 473h8v8h-8z"/><path fill="#100650" d="M277.2 473h8v8h-8z"/><path fill="#0f054e" d="M285.2 473h8v8h-8z"/><path fill="#0f054b" d="M293.2 473h8v8h-8z"/><path fill="#0e0448" d="M301.2 473h8v8h-8z"/><path fill="#0e0446" d="M309.2 473h8v8h-8z"/><path fill="#0e0444" d="M29.2 481h8v8h-8z"/><path fill="#0e0445" d="M37.2 481h8v8h-8z"/><path fill="#0e0448" d="M45.2 481h8v8h-8z"/><path fill="#0f054b" d="M53.2 481h8v8h-8z"/><path fill="#0f054d" d="M61.2 481h8v8h-8z"/><path fill="#100650" d="M69.2 481h8v8h-8z"/><path fill="#100653" d="M77.2 481h8v8h-8z"/><path fill="#120759" d="M85.2 481h8v8h-8z"/><path fill="#140863" d="M93.2 481h8v8h-8z"/><path fill="#16086d" d="M101.2 481h8v8h-8z"/><path fill="#180975" d="M109.2 481h8v8h-8z"/><path fill="#1a0a7d" d="M117.2 481h8v8h-8z"/><path fill="#1c0a84" d="M125.2 481h8v8h-8z"/><path fill="#1e0b8c" d="M133.2 481h8v8h-8z"/><path fill="#1f0c93" d="M141.2 481h8v8h-8z"/><path fill="#220c97" d="M149.2 481h8v8h-8z"/><path fill="#240d98" d="M157.2 481h8v8h-8z"/><path fill="#250d98" d="M165.2 481h8v8h-8z"/><path fill="#240d98" d="M173.2 481h8v8h-8z"/><path fill="#230d97" d="M181.2 481h8v8h-8z"/><path fill="#200c96" d="M189.2 481h8v8h-8z"/><path fill="#1f0c90" d="M197.2 481h8v8h-8z"/><path fill="#1d0b89" d="M205.2 481h8v8h-8z"/><path fill="#1b0a81" d="M213.2 481h8v8h-8z"/><path fill="#1a0a7b" d="M221.2 481h8v8h-8z"/><path fill="#180973" d="M229.2 481h8v8h-8z"/><path fill="#16086b" d="M237.2 481h8v8h-8z"/><path fill="#140762" d="M245.2 481h8v8h-8z"/><path fill="#110758" d="M253.2 481h8v8h-8z"/><path fill="#100653" d="M261.2 481h8v8h-8z"/><path fill="#100650" d="M269.2 481h8v8h-8z"/><path fill="#0f054e" d="M277.2 481h8v8h-8z"/><path fill="#0f054b" d="M285.2 481h8v8h-8z"/><path fill="#0e0448" d="M293.2 481h8v8h-8z"/><path fill="#0e0446" d="M301.2 481h8v8h-8z"/><path fill="#0e0445" d="M309.2 481h8v8h-8z"/><path fill="#0d0344" d="M29.2 489h8v8h-8z"/><path fill="#0e0445" d="M37.2 489h8v8h-8z"/><path fill="#0e0446" d="M45.2 489h8v8h-8z"/><path fill="#0e0448" d="M53.2 489h8v8h-8z"/><path fill="#0f054a" d="M61.2 489h8v8h-8z"/><path fill="#0f054d" d="M69.2 489h8v8h-8z"/><path fill="#10064f" d="M77.2 489h8v8h-8z"/><path fill="#100652" d="M85.2 489h8v8h-8z"/><path fill="#110656" d="M93.2 489h8v8h-8z"/><path fill="#13075d" d="M101.2 489h8v8h-8z"/><path fill="#150865" d="M109.2 489h8v8h-8z"/><path fill="#16086d" d="M117.2 489h8v8h-8z"/><path fill="#180973" d="M125.2 489h8v8h-8z"/><path fill="#190978" d="M133.2 489h8v8h-8z"/><path fill="#1a0a7c" d="M141.2 489h8v8h-8z"/><path fill="#1b0a7f" d="M149.2 489h8v8h-8z"/><path fill="#1b0a81" d="M157.2 489h8v8h-8z"/><path fill="#1b0a82" d="M165.2 489h8v8h-8z"/><path fill="#1b0a82" d="M173.2 489h8v8h-8z"/><path fill="#1b0a80" d="M181.2 489h8v8h-8z"/><path fill="#1a0a7e" d="M189.2 489h8v8h-8z"/><path fill="#1a0a7a" d="M197.2 489h8v8h-8z"/><path fill="#180976" d="M205.2 489h8v8h-8z"/><path fill="#170971" d="M213.2 489h8v8h-8z"/><path fill="#16086a" d="M221.2 489h8v8h-8z"/><path fill="#140863" d="M229.2 489h8v8h-8z"/><path fill="#12075c" d="M237.2 489h8v8h-8z"/><path fill="#110655" d="M245.2 489h8v8h-8z"/><path fill="#100652" d="M253.2 489h8v8h-8z"/><path fill="#10064f" d="M261.2 489h8v8h-8z"/><path fill="#0f054d" d="M269.2 489h8v8h-8z"/><path fill="#0f054b" d="M277.2 489h8v8h-8z"/><path fill="#0e0448" d="M285.2 489h8v8h-8z"/><path fill="#0e0446" d="M293.2 489h8v8h-8z"/><path fill="#0e0445" d="M301.2 489h8v8h-8z"/><path fill="#0e0444" d="M309.2 489h8v8h-8z"/><path fill="#0d0343" d="M29.2 497h8v8h-8z"/><path fill="#0d0344" d="M37.2 497h8v8h-8z"/><path fill="#0e0445" d="M45.2 497h8v8h-8z"/><path fill="#0e0446" d="M53.2 497h8v8h-8z"/><path fill="#0e0447" d="M61.2 497h8v8h-8z"/><path fill="#0f054a" d="M69.2 497h8v8h-8z"/><path fill="#0f054c" d="M77.2 497h8v8h-8z"/><path fill="#0f054e" d="M85.2 497h8v8h-8z"/><path fill="#100651" d="M93.2 497h8v8h-8z"/><path fill="#100653" d="M101.2 497h8v8h-8z"/><path fill="#110656" d="M109.2 497h8v8h-8z"/><path fill="#12075c" d="M117.2 497h8v8h-8z"/><path fill="#140762" d="M125.2 497h8v8h-8z"/><path fill="#150867" d="M133.2 497h8v8h-8z"/><path fill="#16086b" d="M141.2 497h8v8h-8z"/><path fill="#17086e" d="M149.2 497h8v8h-8z"/><path fill="#170970" d="M157.2 497h8v8h-8z"/><path fill="#170971" d="M165.2 497h8v8h-8z"/><path fill="#170970" d="M173.2 497h8v8h-8z"/><path fill="#17096f" d="M181.2 497h8v8h-8z"/><path fill="#16086d" d="M189.2 497h8v8h-8z"/><path fill="#160869" d="M197.2 497h8v8h-8z"/><path fill="#150865" d="M205.2 497h8v8h-8z"/><path fill="#130760" d="M213.2 497h8v8h-8z"/><path fill="#12075a" d="M221.2 497h8v8h-8z"/><path fill="#110655" d="M229.2 497h8v8h-8z"/><path fill="#100652" d="M237.2 497h8v8h-8z"/><path fill="#100650" d="M245.2 497h8v8h-8z"/><path fill="#0f054e" d="M253.2 497h8v8h-8z"/><path fill="#0f054c" d="M261.2 497h8v8h-8z"/><path fill="#0f054a" d="M269.2 497h8v8h-8z"/><path fill="#0e0448" d="M277.2 497h8v8h-8z"/><path fill="#0e0446" d="M285.2 497h8v8h-8z"/><path fill="#0e0445" d="M293.2 497h8v8h-8z"/><path fill="#0e0444" d="M301.2 497h8v8h-8z"/><path fill="#0d0343" d="M309.2 497h8v8h-8z"/></g>
<circle cx="170.4" cy="367.8" r="36" fill="url(#gbc)"/>
<g filter="url(#bl1)">
<ellipse cx="170.4" cy="325.8" rx="6" ry="2" fill="#ffd850" opacity="0.95"/>
<ellipse cx="209" cy="348.5" rx="3" ry="2" fill="#ffd850" opacity="0.95"/>
<ellipse cx="209.9" cy="385.3" rx="3" ry="2.5" fill="#ffd850" opacity="0.95"/>
<ellipse cx="167.8" cy="411.6" rx="5" ry="2" fill="#ffd850" opacity="0.95"/>
<ellipse cx="129.3" cy="352" rx="2.5" ry="2" fill="#ffd850" opacity="0.95"/>
<ellipse cx="131.5" cy="388" rx="2.5" ry="2" fill="#ffd850" opacity="0.95"/>
<circle cx="213.9" cy="367.8" r="1.4" fill="#ffb43a" opacity="0.7"/>
<circle cx="212.4" cy="379.1" r="1.4" fill="#ffb43a" opacity="0.7"/>
<circle cx="201.2" cy="398.6" r="1.4" fill="#ffb43a" opacity="0.7"/>
<circle cx="192.2" cy="405.5" r="1.4" fill="#ffb43a" opacity="0.7"/>
<circle cx="181.7" cy="409.8" r="1.4" fill="#ffb43a" opacity="0.7"/>
<circle cx="159.1" cy="409.8" r="1.4" fill="#ffb43a" opacity="0.7"/>
<circle cx="148.7" cy="405.5" r="1.4" fill="#ffb43a" opacity="0.7"/>
<circle cx="139.6" cy="398.6" r="1.4" fill="#ffb43a" opacity="0.7"/>
<circle cx="128.4" cy="379.1" r="1.4" fill="#ffb43a" opacity="0.7"/>
<circle cx="126.9" cy="367.8" r="1.4" fill="#ffb43a" opacity="0.7"/>
<circle cx="128.4" cy="356.5" r="1.4" fill="#ffb43a" opacity="0.7"/>
<circle cx="139.6" cy="337.0" r="1.4" fill="#ffb43a" opacity="0.7"/>
<circle cx="148.6" cy="330.1" r="1.4" fill="#ffb43a" opacity="0.7"/>
<circle cx="159.1" cy="325.8" r="1.4" fill="#ffb43a" opacity="0.7"/>
<circle cx="181.7" cy="325.8" r="1.4" fill="#ffb43a" opacity="0.7"/>
<circle cx="192.2" cy="330.1" r="1.4" fill="#ffb43a" opacity="0.7"/>
<circle cx="201.2" cy="337.0" r="1.4" fill="#ffb43a" opacity="0.7"/>
<circle cx="212.4" cy="356.5" r="1.4" fill="#ffb43a" opacity="0.7"/>
</g>
<circle cx="170.4" cy="367.8" r="18.4" fill="#0a0030"/>
<path d="M163.4 345.6 L305 389.2 L305 391.4 L163.4 347.9 Z" fill="#0a0030"/>
<rect x="162" y="430.6" width="2.2" height="2.2" fill="#fff"/>
<circle cx="94.6" cy="366.2" r="2.2" fill="#c8388a" opacity="0.6" filter="url(#bl1)"/>
</g>
<rect x="37.2" y="305" width="264.7" height="190.5" fill="none" stroke="#c4c4c4" stroke-width="1"/><line x1="37.2" y1="305" x2="37.2" y2="495.5" stroke="#777" stroke-width="0.9"/><line x1="37.2" y1="495.5" x2="301.9" y2="495.5" stroke="#777" stroke-width="0.9"/>
<line x1="33.2" y1="305.0" x2="37.2" y2="305.0" stroke="#555" stroke-width="0.6"/>
<text x="35.5" y="307.7" font-size="7.5" text-anchor="end">0.010</text>
<line x1="33.2" y1="336.8" x2="37.2" y2="336.8" stroke="#555" stroke-width="0.6"/>
<text x="35.5" y="339.45" font-size="7.5" text-anchor="end">0.005</text>
<line x1="33.2" y1="368.5" x2="37.2" y2="368.5" stroke="#555" stroke-width="0.6"/>
<text x="35.5" y="371.2" font-size="7.5" text-anchor="end">0.000</text>
<line x1="33.2" y1="400.2" x2="37.2" y2="400.2" stroke="#555" stroke-width="0.6"/>
<text x="35.5" y="402.95" font-size="7.5" text-anchor="end">-0.005</text>
<line x1="33.2" y1="432.0" x2="37.2" y2="432.0" stroke="#555" stroke-width="0.6"/>
<text x="35.5" y="434.7" font-size="7.5" text-anchor="end">-0.010</text>
<line x1="33.2" y1="463.8" x2="37.2" y2="463.8" stroke="#555" stroke-width="0.6"/>
<text x="35.5" y="466.45" font-size="7.5" text-anchor="end">-0.015</text>
<line x1="33.2" y1="495.5" x2="37.2" y2="495.5" stroke="#555" stroke-width="0.6"/>
<text x="35.5" y="498.2" font-size="7.5" text-anchor="end">-0.020</text>
<line x1="35.2" y1="489.1" x2="37.2" y2="489.1" stroke="#666" stroke-width="0.5"/>
<line x1="35.2" y1="482.8" x2="37.2" y2="482.8" stroke="#666" stroke-width="0.5"/>
<line x1="35.2" y1="476.4" x2="37.2" y2="476.4" stroke="#666" stroke-width="0.5"/>
<line x1="35.2" y1="470.1" x2="37.2" y2="470.1" stroke="#666" stroke-width="0.5"/>
<line x1="35.2" y1="457.4" x2="37.2" y2="457.4" stroke="#666" stroke-width="0.5"/>
<line x1="35.2" y1="451.1" x2="37.2" y2="451.1" stroke="#666" stroke-width="0.5"/>
<line x1="35.2" y1="444.7" x2="37.2" y2="444.7" stroke="#666" stroke-width="0.5"/>
<line x1="35.2" y1="438.4" x2="37.2" y2="438.4" stroke="#666" stroke-width="0.5"/>
<line x1="35.2" y1="425.6" x2="37.2" y2="425.6" stroke="#666" stroke-width="0.5"/>
<line x1="35.2" y1="419.3" x2="37.2" y2="419.3" stroke="#666" stroke-width="0.5"/>
<line x1="35.2" y1="412.9" x2="37.2" y2="412.9" stroke="#666" stroke-width="0.5"/>
<line x1="35.2" y1="406.6" x2="37.2" y2="406.6" stroke="#666" stroke-width="0.5"/>
<line x1="35.2" y1="393.9" x2="37.2" y2="393.9" stroke="#666" stroke-width="0.5"/>
<line x1="35.2" y1="387.6" x2="37.2" y2="387.6" stroke="#666" stroke-width="0.5"/>
<line x1="35.2" y1="381.2" x2="37.2" y2="381.2" stroke="#666" stroke-width="0.5"/>
<line x1="35.2" y1="374.9" x2="37.2" y2="374.9" stroke="#666" stroke-width="0.5"/>
<line x1="35.2" y1="362.1" x2="37.2" y2="362.1" stroke="#666" stroke-width="0.5"/>
<line x1="35.2" y1="355.8" x2="37.2" y2="355.8" stroke="#666" stroke-width="0.5"/>
<line x1="35.2" y1="349.4" x2="37.2" y2="349.4" stroke="#666" stroke-width="0.5"/>
<line x1="35.2" y1="343.1" x2="37.2" y2="343.1" stroke="#666" stroke-width="0.5"/>
<line x1="35.2" y1="330.4" x2="37.2" y2="330.4" stroke="#666" stroke-width="0.5"/>
<line x1="35.2" y1="324.1" x2="37.2" y2="324.1" stroke="#666" stroke-width="0.5"/>
<line x1="35.2" y1="317.7" x2="37.2" y2="317.7" stroke="#666" stroke-width="0.5"/>
<line x1="35.2" y1="311.4" x2="37.2" y2="311.4" stroke="#666" stroke-width="0.5"/>
<line x1="37.2" y1="495.5" x2="37.2" y2="499" stroke="#555" stroke-width="0.6"/>
<text x="37.21" y="504.5" font-size="7.5" text-anchor="middle">-0.02</text>
<line x1="103.4" y1="495.5" x2="103.4" y2="499" stroke="#555" stroke-width="0.6"/>
<text x="103.38" y="504.5" font-size="7.5" text-anchor="middle">-0.01</text>
<line x1="169.6" y1="495.5" x2="169.6" y2="499" stroke="#555" stroke-width="0.6"/>
<text x="169.55" y="504.5" font-size="7.5" text-anchor="middle">0.00</text>
<line x1="235.7" y1="495.5" x2="235.7" y2="499" stroke="#555" stroke-width="0.6"/>
<text x="235.72" y="504.5" font-size="7.5" text-anchor="middle">0.01</text>
<line x1="301.9" y1="495.5" x2="301.9" y2="499" stroke="#555" stroke-width="0.6"/>
<text x="301.89" y="504.5" font-size="7.5" text-anchor="middle">0.02</text>
<line x1="50.4" y1="495.5" x2="50.4" y2="497.5" stroke="#666" stroke-width="0.5"/>
<line x1="63.7" y1="495.5" x2="63.7" y2="497.5" stroke="#666" stroke-width="0.5"/>
<line x1="76.9" y1="495.5" x2="76.9" y2="497.5" stroke="#666" stroke-width="0.5"/>
<line x1="90.1" y1="495.5" x2="90.1" y2="497.5" stroke="#666" stroke-width="0.5"/>
<line x1="116.6" y1="495.5" x2="116.6" y2="497.5" stroke="#666" stroke-width="0.5"/>
<line x1="129.8" y1="495.5" x2="129.8" y2="497.5" stroke="#666" stroke-width="0.5"/>
<line x1="143.1" y1="495.5" x2="143.1" y2="497.5" stroke="#666" stroke-width="0.5"/>
<line x1="156.3" y1="495.5" x2="156.3" y2="497.5" stroke="#666" stroke-width="0.5"/>
<line x1="182.8" y1="495.5" x2="182.8" y2="497.5" stroke="#666" stroke-width="0.5"/>
<line x1="196.0" y1="495.5" x2="196.0" y2="497.5" stroke="#666" stroke-width="0.5"/>
<line x1="209.3" y1="495.5" x2="209.3" y2="497.5" stroke="#666" stroke-width="0.5"/>
<line x1="222.5" y1="495.5" x2="222.5" y2="497.5" stroke="#666" stroke-width="0.5"/>
<line x1="249.0" y1="495.5" x2="249.0" y2="497.5" stroke="#666" stroke-width="0.5"/>
<line x1="262.2" y1="495.5" x2="262.2" y2="497.5" stroke="#666" stroke-width="0.5"/>
<line x1="275.4" y1="495.5" x2="275.4" y2="497.5" stroke="#666" stroke-width="0.5"/>
<line x1="288.7" y1="495.5" x2="288.7" y2="497.5" stroke="#666" stroke-width="0.5"/>
<text x="174.5" y="519" font-size="10.6" text-anchor="middle" fill="#222"><tspan font-style="italic">q</tspan><tspan font-size="8.4" dy="2" font-style="italic">x</tspan><tspan dy="-2"> (Å</tspan><tspan font-size="6.4" dy="-3.6">-1</tspan><tspan dy="3.6">)</tspan></text>
<text x="0" y="0" font-size="10.6" text-anchor="middle" transform="translate(12 402.4) rotate(-90)" fill="#222"><tspan font-style="italic">q</tspan><tspan font-size="8.4" dy="2" font-style="italic">y</tspan><tspan dy="-2"> (Å</tspan><tspan font-size="6.4" dy="-3.6">-1</tspan><tspan dy="3.6">)</tspan></text>
<line x1="170.4" y1="367.8" x2="170.4" y2="335.4" stroke="#f6f6f6" stroke-width="0.9"/><polygon points="170.4,328.4 174.0,335.4 166.8,335.4" fill="#f6f6f6"/>
<line x1="170.4" y1="367.8" x2="199.7" y2="353.1" stroke="#f6f6f6" stroke-width="0.9"/><polygon points="206.0,350.0 201.3,356.4 198.1,349.9" fill="#f6f6f6"/>
<path d="M170.4 356.8 A11 11 0 0 1 180.1 362.5" fill="none" stroke="#f6f6f6" stroke-width="0.8"/>
<text x="185.7" y="351.5" font-size="8.5" text-anchor="middle" fill="#f6f6f6">60°</text>
<text x="175" y="320.3" font-size="9" text-anchor="middle" fill="#f6f6f6">Mc(01)</text>
<text x="229.2" y="313.3" font-size="9" text-anchor="middle" fill="#f6f6f6">Mc(11)</text>
<text x="229.2" y="355.3" font-size="9" text-anchor="middle" fill="#f6f6f6">Mc(10)</text>
<text x="264.5" y="378.1" font-size="9" text-anchor="middle" fill="#f6f6f6">Mc(2<tspan text-decoration="overline">1</tspan>)</text>
<text x="213" y="396.3" font-size="9" text-anchor="middle" fill="#f6f6f6">Mc(1<tspan text-decoration="overline">1</tspan>)</text>
<path d="M207.2 306.2L212.4 309.0M208.6 310.2L211.0 305.0" stroke="#f6f6f6" stroke-width="0.8" fill="none"/>
<path d="M242.8 369.7L248.0 372.5M244.2 373.7L246.6 368.5" stroke="#f6f6f6" stroke-width="0.8" fill="none"/>
<rect x="317.6" y="304.4" width="8" height="191.3" fill="url(#cbb)" stroke="#9a9a9a" stroke-width="0.9"/>
<line x1="322.6" y1="342" x2="325.6" y2="342" stroke="#333" stroke-width="0.6"/>
<line x1="322.6" y1="418.8" x2="325.6" y2="418.8" stroke="#333" stroke-width="0.6"/>
<line x1="324" y1="472.551" x2="325.6" y2="472.551" stroke="#333" stroke-width="0.5"/>
<line x1="324" y1="459.009" x2="325.6" y2="459.009" stroke="#333" stroke-width="0.5"/>
<line x1="324" y1="449.402" x2="325.6" y2="449.402" stroke="#333" stroke-width="0.5"/>
<line x1="324" y1="441.949" x2="325.6" y2="441.949" stroke="#333" stroke-width="0.5"/>
<line x1="324" y1="435.86" x2="325.6" y2="435.86" stroke="#333" stroke-width="0.5"/>
<line x1="324" y1="430.712" x2="325.6" y2="430.712" stroke="#333" stroke-width="0.5"/>
<line x1="324" y1="426.252" x2="325.6" y2="426.252" stroke="#333" stroke-width="0.5"/>
<line x1="324" y1="422.319" x2="325.6" y2="422.319" stroke="#333" stroke-width="0.5"/>
<line x1="324" y1="395.681" x2="325.6" y2="395.681" stroke="#333" stroke-width="0.5"/>
<line x1="324" y1="382.157" x2="325.6" y2="382.157" stroke="#333" stroke-width="0.5"/>
<line x1="324" y1="372.562" x2="325.6" y2="372.562" stroke="#333" stroke-width="0.5"/>
<line x1="324" y1="365.119" x2="325.6" y2="365.119" stroke="#333" stroke-width="0.5"/>
<line x1="324" y1="359.038" x2="325.6" y2="359.038" stroke="#333" stroke-width="0.5"/>
<line x1="324" y1="353.896" x2="325.6" y2="353.896" stroke="#333" stroke-width="0.5"/>
<line x1="324" y1="349.443" x2="325.6" y2="349.443" stroke="#333" stroke-width="0.5"/>
<line x1="324" y1="345.514" x2="325.6" y2="345.514" stroke="#333" stroke-width="0.5"/>
<line x1="324" y1="318.851" x2="325.6" y2="318.851" stroke="#333" stroke-width="0.5"/>
<line x1="324" y1="305.309" x2="325.6" y2="305.309" stroke="#333" stroke-width="0.5"/>
<text x="328" y="344.5" font-size="7.8">10<tspan font-size="5.5" dy="-3.2">4</tspan></text>
<text x="328" y="421.5" font-size="7.8">10</text>
<text x="328" y="498.7" font-size="7.8">10<tspan font-size="5.5" dy="-3.2">2</tspan></text>
<text x="0" y="0" font-size="9" text-anchor="middle" transform="translate(313.8 396) rotate(-90)" fill="#222">Intensity (counts)</text>
<g clip-path="url(#cE)">
<g filter="url(#bl4)"><path fill="#5115a5" d="M376.2 294.5h8v8h-8z"/><path fill="#5a16a4" d="M384.2 294.5h8v8h-8z"/><path fill="#6417a3" d="M392.2 294.5h8v8h-8z"/><path fill="#6e19a3" d="M400.2 294.5h8v8h-8z"/><path fill="#771aa2" d="M408.2 294.5h8v8h-8z"/><path fill="#7f1ba1" d="M416.2 294.5h8v8h-8z"/><path fill="#881ca0" d="M424.2 294.5h8v8h-8z"/><path fill="#8e1c9f" d="M432.2 294.5h8v8h-8z"/><path fill="#941d9d" d="M440.2 294.5h8v8h-8z"/><path fill="#991d9b" d="M448.2 294.5h8v8h-8z"/><path fill="#9d1d9a" d="M456.2 294.5h8v8h-8z"/><path fill="#a21e98" d="M464.2 294.5h8v8h-8z"/><path fill="#a51e97" d="M472.2 294.5h8v8h-8z"/><path fill="#a81e96" d="M480.2 294.5h8v8h-8z"/><path fill="#ab1e95" d="M488.2 294.5h8v8h-8z"/><path fill="#ac1e95" d="M496.2 294.5h8v8h-8z"/><path fill="#ad1e94" d="M504.2 294.5h8v8h-8z"/><path fill="#ae1e94" d="M512.2 294.5h8v8h-8z"/><path fill="#a91e96" d="M520.2 294.5h8v8h-8z"/><path fill="#a31e98" d="M528.2 294.5h8v8h-8z"/><path fill="#9c1d9a" d="M536.2 294.5h8v8h-8z"/><path fill="#941d9d" d="M544.2 294.5h8v8h-8z"/><path fill="#8c1c9f" d="M552.2 294.5h8v8h-8z"/><path fill="#7f1ba1" d="M560.2 294.5h8v8h-8z"/><path fill="#7219a2" d="M568.2 294.5h8v8h-8z"/><path fill="#6217a4" d="M576.2 294.5h8v8h-8z"/><path fill="#5215a5" d="M584.2 294.5h8v8h-8z"/><path fill="#4413a4" d="M592.2 294.5h8v8h-8z"/><path fill="#3911a0" d="M600.2 294.5h8v8h-8z"/><path fill="#2f0f9c" d="M608.2 294.5h8v8h-8z"/><path fill="#240d98" d="M616.2 294.5h8v8h-8z"/><path fill="#1d0b8b" d="M624.2 294.5h8v8h-8z"/><path fill="#190a7a" d="M632.2 294.5h8v8h-8z"/><path fill="#16086b" d="M640.2 294.5h8v8h-8z"/><path fill="#140762" d="M648.2 294.5h8v8h-8z"/><path fill="#12075a" d="M656.2 294.5h8v8h-8z"/><path fill="#6818a3" d="M376.2 302.5h8v8h-8z"/><path fill="#7319a2" d="M384.2 302.5h8v8h-8z"/><path fill="#7e1ba1" d="M392.2 302.5h8v8h-8z"/><path fill="#881ca0" d="M400.2 302.5h8v8h-8z"/><path fill="#901c9e" d="M408.2 302.5h8v8h-8z"/><path fill="#981d9b" d="M416.2 302.5h8v8h-8z"/><path fill="#9f1d99" d="M424.2 302.5h8v8h-8z"/><path fill="#a61e97" d="M432.2 302.5h8v8h-8z"/><path fill="#ac1e95" d="M440.2 302.5h8v8h-8z"/><path fill="#b21f93" d="M448.2 302.5h8v8h-8z"/><path fill="#b71f91" d="M456.2 302.5h8v8h-8z"/><path fill="#bc1f8f" d="M464.2 302.5h8v8h-8z"/><path fill="#c0208e" d="M472.2 302.5h8v8h-8z"/><path fill="#c3208d" d="M480.2 302.5h8v8h-8z"/><path fill="#c6208c" d="M488.2 302.5h8v8h-8z"/><path fill="#c7218a" d="M496.2 302.5h8v8h-8z"/><path fill="#c82189" d="M504.2 302.5h8v8h-8z"/><path fill="#c82289" d="M512.2 302.5h8v8h-8z"/><path fill="#c5208c" d="M520.2 302.5h8v8h-8z"/><path fill="#c0208e" d="M528.2 302.5h8v8h-8z"/><path fill="#b91f90" d="M536.2 302.5h8v8h-8z"/><path fill="#b11f93" d="M544.2 302.5h8v8h-8z"/><path fill="#a81e96" d="M552.2 302.5h8v8h-8z"/><path fill="#9e1d99" d="M560.2 302.5h8v8h-8z"/><path fill="#921d9d" d="M568.2 302.5h8v8h-8z"/><path fill="#851ba0" d="M576.2 302.5h8v8h-8z"/><path fill="#7419a2" d="M584.2 302.5h8v8h-8z"/><path fill="#6117a4" d="M592.2 302.5h8v8h-8z"/><path fill="#4f15a5" d="M600.2 302.5h8v8h-8z"/><path fill="#4012a3" d="M608.2 302.5h8v8h-8z"/><path fill="#34109e" d="M616.2 302.5h8v8h-8z"/><path fill="#280e99" d="M624.2 302.5h8v8h-8z"/><path fill="#1f0c91" d="M632.2 302.5h8v8h-8z"/><path fill="#1a0a7e" d="M640.2 302.5h8v8h-8z"/><path fill="#17096f" d="M648.2 302.5h8v8h-8z"/><path fill="#150866" d="M656.2 302.5h8v8h-8z"/><path fill="#7f1ba1" d="M376.2 310.5h8v8h-8z"/><path fill="#8a1ca0" d="M384.2 310.5h8v8h-8z"/><path fill="#931d9d" d="M392.2 310.5h8v8h-8z"/><path fill="#9c1d9a" d="M400.2 310.5h8v8h-8z"/><path fill="#a51e97" d="M408.2 310.5h8v8h-8z"/><path fill="#ad1e94" d="M416.2 310.5h8v8h-8z"/><path fill="#b51f92" d="M424.2 310.5h8v8h-8z"/><path fill="#bc1f8f" d="M432.2 310.5h8v8h-8z"/><path fill="#c3208d" d="M440.2 310.5h8v8h-8z"/><path fill="#c92288" d="M448.2 310.5h8v8h-8z"/><path fill="#cc2581" d="M456.2 310.5h8v8h-8z"/><path fill="#d0277c" d="M464.2 310.5h8v8h-8z"/><path fill="#d32a77" d="M472.2 310.5h8v8h-8z"/><path fill="#d52c72" d="M480.2 310.5h8v8h-8z"/><path fill="#d72d6f" d="M488.2 310.5h8v8h-8z"/><path fill="#d92e6c" d="M496.2 310.5h8v8h-8z"/><path fill="#da2f6a" d="M504.2 310.5h8v8h-8z"/><path fill="#db306a" d="M512.2 310.5h8v8h-8z"/><path fill="#d82d6e" d="M520.2 310.5h8v8h-8z"/><path fill="#d52b73" d="M528.2 310.5h8v8h-8z"/><path fill="#d1287a" d="M536.2 310.5h8v8h-8z"/><path fill="#cc2482" d="M544.2 310.5h8v8h-8z"/><path fill="#c6208c" d="M552.2 310.5h8v8h-8z"/><path fill="#bc1f8f" d="M560.2 310.5h8v8h-8z"/><path fill="#b01f93" d="M568.2 310.5h8v8h-8z"/><path fill="#a41e97" d="M576.2 310.5h8v8h-8z"/><path fill="#961d9c" d="M584.2 310.5h8v8h-8z"/><path fill="#871ca0" d="M592.2 310.5h8v8h-8z"/><path fill="#7419a2" d="M600.2 310.5h8v8h-8z"/><path fill="#6017a4" d="M608.2 310.5h8v8h-8z"/><path fill="#4c14a6" d="M616.2 310.5h8v8h-8z"/><path fill="#3d12a2" d="M624.2 310.5h8v8h-8z"/><path fill="#310f9d" d="M632.2 310.5h8v8h-8z"/><path fill="#240d98" d="M640.2 310.5h8v8h-8z"/><path fill="#1e0b8d" d="M648.2 310.5h8v8h-8z"/><path fill="#1a0a7f" d="M656.2 310.5h8v8h-8z"/><path fill="#911c9e" d="M376.2 318.5h8v8h-8z"/><path fill="#9b1d9a" d="M384.2 318.5h8v8h-8z"/><path fill="#a51e97" d="M392.2 318.5h8v8h-8z"/><path fill="#af1e94" d="M400.2 318.5h8v8h-8z"/><path fill="#b81f91" d="M408.2 318.5h8v8h-8z"/><path fill="#c1208e" d="M416.2 318.5h8v8h-8z"/><path fill="#c82288" d="M424.2 318.5h8v8h-8z"/><path fill="#ce267f" d="M432.2 318.5h8v8h-8z"/><path fill="#d32a76" d="M440.2 318.5h8v8h-8z"/><path fill="#d82d6e" d="M448.2 318.5h8v8h-8z"/><path fill="#de3265" d="M456.2 318.5h8v8h-8z"/><path fill="#e2385d" d="M464.2 318.5h8v8h-8z"/><path fill="#e53e56" d="M472.2 318.5h8v8h-8z"/><path fill="#e8434f" d="M480.2 318.5h8v8h-8z"/><path fill="#ec4949" d="M488.2 318.5h8v8h-8z"/><path fill="#ee4c44" d="M496.2 318.5h8v8h-8z"/><path fill="#ef4f42" d="M504.2 318.5h8v8h-8z"/><path fill="#f04f41" d="M512.2 318.5h8v8h-8z"/><path fill="#ed4c45" d="M520.2 318.5h8v8h-8z"/><path fill="#ea454d" d="M528.2 318.5h8v8h-8z"/><path fill="#e53e56" d="M536.2 318.5h8v8h-8z"/><path fill="#e03660" d="M544.2 318.5h8v8h-8z"/><path fill="#d92e6c" d="M552.2 318.5h8v8h-8z"/><path fill="#d22978" d="M560.2 318.5h8v8h-8z"/><path fill="#cb2384" d="M568.2 318.5h8v8h-8z"/><path fill="#c0208e" d="M576.2 318.5h8v8h-8z"/><path fill="#b31f92" d="M584.2 318.5h8v8h-8z"/><path fill="#a41e97" d="M592.2 318.5h8v8h-8z"/><path fill="#941d9d" d="M600.2 318.5h8v8h-8z"/><path fill="#831ba1" d="M608.2 318.5h8v8h-8z"/><path fill="#6e19a3" d="M616.2 318.5h8v8h-8z"/><path fill="#5816a5" d="M624.2 318.5h8v8h-8z"/><path fill="#4513a5" d="M632.2 318.5h8v8h-8z"/><path fill="#37119f" d="M640.2 318.5h8v8h-8z"/><path fill="#2c0e9b" d="M648.2 318.5h8v8h-8z"/><path fill="#220c97" d="M656.2 318.5h8v8h-8z"/><path fill="#a01d99" d="M376.2 326.5h8v8h-8z"/><path fill="#aa1e95" d="M384.2 326.5h8v8h-8z"/><path fill="#b51f92" d="M392.2 326.5h8v8h-8z"/><path fill="#bf208e" d="M400.2 326.5h8v8h-8z"/><path fill="#c82288" d="M408.2 326.5h8v8h-8z"/><path fill="#cf277d" d="M416.2 326.5h8v8h-8z"/><path fill="#d52b73" d="M424.2 326.5h8v8h-8z"/><path fill="#dc3167" d="M432.2 326.5h8v8h-8z"/><path fill="#e2395b" d="M440.2 326.5h8v8h-8z"/><path fill="#e84350" d="M448.2 326.5h8v8h-8z"/><path fill="#ef4e43" d="M456.2 326.5h8v8h-8z"/><path fill="#f35939" d="M464.2 326.5h8v8h-8z"/><path fill="#f66231" d="M472.2 326.5h8v8h-8z"/><path fill="#f7682b" d="M480.2 326.5h8v8h-8z"/><path fill="#f96d27" d="M488.2 326.5h8v8h-8z"/><path fill="#fa7124" d="M496.2 326.5h8v8h-8z"/><path fill="#fa7322" d="M504.2 326.5h8v8h-8z"/><path fill="#fb7421" d="M512.2 326.5h8v8h-8z"/><path fill="#fa7123" d="M520.2 326.5h8v8h-8z"/><path fill="#f96c27" d="M528.2 326.5h8v8h-8z"/><path fill="#f7652d" d="M536.2 326.5h8v8h-8z"/><path fill="#f35b36" d="M544.2 326.5h8v8h-8z"/><path fill="#ee4d44" d="M552.2 326.5h8v8h-8z"/><path fill="#e53e56" d="M560.2 326.5h8v8h-8z"/><path fill="#dd3166" d="M568.2 326.5h8v8h-8z"/><path fill="#d32a76" d="M576.2 326.5h8v8h-8z"/><path fill="#ca2385" d="M584.2 326.5h8v8h-8z"/><path fill="#bd1f8f" d="M592.2 326.5h8v8h-8z"/><path fill="#ad1e94" d="M600.2 326.5h8v8h-8z"/><path fill="#9d1d9a" d="M608.2 326.5h8v8h-8z"/><path fill="#8c1c9f" d="M616.2 326.5h8v8h-8z"/><path fill="#771aa2" d="M624.2 326.5h8v8h-8z"/><path fill="#6117a4" d="M632.2 326.5h8v8h-8z"/><path fill="#4b14a6" d="M640.2 326.5h8v8h-8z"/><path fill="#3e12a2" d="M648.2 326.5h8v8h-8z"/><path fill="#33109e" d="M656.2 326.5h8v8h-8z"/><path fill="#ac1e95" d="M376.2 334.5h8v8h-8z"/><path fill="#b71f91" d="M384.2 334.5h8v8h-8z"/><path fill="#c2208d" d="M392.2 334.5h8v8h-8z"/><path fill="#cb2484" d="M400.2 334.5h8v8h-8z"/><path fill="#d22978" d="M408.2 334.5h8v8h-8z"/><path fill="#da2f6b" d="M416.2 334.5h8v8h-8z"/><path fill="#e2385d" d="M424.2 334.5h8v8h-8z"/><path fill="#e9444f" d="M432.2 334.5h8v8h-8z"/><path fill="#f1523e" d="M440.2 334.5h8v8h-8z"/><path fill="#f56132" d="M448.2 334.5h8v8h-8z"/><path fill="#f86b28" d="M456.2 334.5h8v8h-8z"/><path fill="#fb7521" d="M464.2 334.5h8v8h-8z"/><path fill="#fc7f1a" d="M472.2 334.5h8v8h-8z"/><path fill="#fd8517" d="M480.2 334.5h8v8h-8z"/><path fill="#fd8a14" d="M488.2 334.5h8v8h-8z"/><path fill="#fe8e11" d="M496.2 334.5h8v8h-8z"/><path fill="#fe9010" d="M504.2 334.5h8v8h-8z"/><path fill="#fe910f" d="M512.2 334.5h8v8h-8z"/><path fill="#fe8f10" d="M520.2 334.5h8v8h-8z"/><path fill="#fe8b13" d="M528.2 334.5h8v8h-8z"/><path fill="#fd8517" d="M536.2 334.5h8v8h-8z"/><path fill="#fc7c1c" d="M544.2 334.5h8v8h-8z"/><path fill="#fa6e25" d="M552.2 334.5h8v8h-8z"/><path fill="#f56131" d="M560.2 334.5h8v8h-8z"/><path fill="#ee4d43" d="M568.2 334.5h8v8h-8z"/><path fill="#e43b59" d="M576.2 334.5h8v8h-8z"/><path fill="#d92e6d" d="M584.2 334.5h8v8h-8z"/><path fill="#ce267e" d="M592.2 334.5h8v8h-8z"/><path fill="#c3208d" d="M600.2 334.5h8v8h-8z"/><path fill="#b31f92" d="M608.2 334.5h8v8h-8z"/><path fill="#a21e98" d="M616.2 334.5h8v8h-8z"/><path fill="#911c9e" d="M624.2 334.5h8v8h-8z"/><path fill="#7d1aa1" d="M632.2 334.5h8v8h-8z"/><path fill="#6618a3" d="M640.2 334.5h8v8h-8z"/><path fill="#5215a5" d="M648.2 334.5h8v8h-8z"/><path fill="#4313a4" d="M656.2 334.5h8v8h-8z"/><path fill="#b51f92" d="M376.2 342.5h8v8h-8z"/><path fill="#c1208e" d="M384.2 342.5h8v8h-8z"/><path fill="#cb2484" d="M392.2 342.5h8v8h-8z"/><path fill="#d22977" d="M400.2 342.5h8v8h-8z"/><path fill="#db2f6a" d="M408.2 342.5h8v8h-8z"/><path fill="#e33a5a" d="M416.2 342.5h8v8h-8z"/><path fill="#ec4949" d="M424.2 342.5h8v8h-8z"/><path fill="#f35a38" d="M432.2 342.5h8v8h-8z"/><path fill="#f7682b" d="M440.2 342.5h8v8h-8z"/><path fill="#fb7521" d="M448.2 342.5h8v8h-8z"/><path fill="#fc8219" d="M456.2 342.5h8v8h-8z"/><path fill="#fd8b13" d="M464.2 342.5h8v8h-8z"/><path fill="#ff940d" d="M472.2 342.5h8v8h-8z"/><path fill="#ffa40b" d="M480.2 342.5h8v8h-8z"/><path fill="#ffb10b" d="M488.2 342.5h8v8h-8z"/><path fill="#ffbc0a" d="M496.2 342.5h8v8h-8z"/><path fill="#ffc30a" d="M504.2 342.5h8v8h-8z"/><path fill="#ffc60a" d="M512.2 342.5h8v8h-8z"/><path fill="#ffc20a" d="M520.2 342.5h8v8h-8z"/><path fill="#ffb70b" d="M528.2 342.5h8v8h-8z"/><path fill="#ffa70b" d="M536.2 342.5h8v8h-8z"/><path fill="#ff940e" d="M544.2 342.5h8v8h-8z"/><path fill="#fd8815" d="M552.2 342.5h8v8h-8z"/><path fill="#fb7a1d" d="M560.2 342.5h8v8h-8z"/><path fill="#f8692a" d="M568.2 342.5h8v8h-8z"/><path fill="#f2553c" d="M576.2 342.5h8v8h-8z"/><path fill="#e63f54" d="M584.2 342.5h8v8h-8z"/><path fill="#db3069" d="M592.2 342.5h8v8h-8z"/><path fill="#d0277c" d="M600.2 342.5h8v8h-8z"/><path fill="#c4208d" d="M608.2 342.5h8v8h-8z"/><path fill="#b41f92" d="M616.2 342.5h8v8h-8z"/><path fill="#a31e98" d="M624.2 342.5h8v8h-8z"/><path fill="#921d9d" d="M632.2 342.5h8v8h-8z"/><path fill="#7e1ba1" d="M640.2 342.5h8v8h-8z"/><path fill="#6a18a3" d="M648.2 342.5h8v8h-8z"/><path fill="#5616a5" d="M656.2 342.5h8v8h-8z"/><path fill="#bc1f8f" d="M376.2 350.5h8v8h-8z"/><path fill="#c7218a" d="M384.2 350.5h8v8h-8z"/><path fill="#cf277c" d="M392.2 350.5h8v8h-8z"/><path fill="#d72d6f" d="M400.2 350.5h8v8h-8z"/><path fill="#e1375e" d="M408.2 350.5h8v8h-8z"/><path fill="#ea454d" d="M416.2 350.5h8v8h-8z"/><path fill="#f2573a" d="M424.2 350.5h8v8h-8z"/><path fill="#f7672c" d="M432.2 350.5h8v8h-8z"/><path fill="#fb7620" d="M440.2 350.5h8v8h-8z"/><path fill="#fd8418" d="M448.2 350.5h8v8h-8z"/><path fill="#fe8e11" d="M456.2 350.5h8v8h-8z"/><path fill="#ffa00c" d="M464.2 350.5h8v8h-8z"/><path fill="#ffb60b" d="M472.2 350.5h8v8h-8z"/><path fill="#ffca0b" d="M480.2 350.5h8v8h-8z"/><path fill="#ffcc0d" d="M488.2 350.5h8v8h-8z"/><path fill="#ffcc0d" d="M496.2 350.5h8v8h-8z"/><path fill="#ffcc0d" d="M504.2 350.5h8v8h-8z"/><path fill="#ffcc0d" d="M512.2 350.5h8v8h-8z"/><path fill="#ffcc0d" d="M520.2 350.5h8v8h-8z"/><path fill="#ffcc0d" d="M528.2 350.5h8v8h-8z"/><path fill="#ffcc0d" d="M536.2 350.5h8v8h-8z"/><path fill="#ffb80b" d="M544.2 350.5h8v8h-8z"/><path fill="#ff9d0c" d="M552.2 350.5h8v8h-8z"/><path fill="#fd8a14" d="M560.2 350.5h8v8h-8z"/><path fill="#fb7b1d" d="M568.2 350.5h8v8h-8z"/><path fill="#f7682b" d="M576.2 350.5h8v8h-8z"/><path fill="#f1523e" d="M584.2 350.5h8v8h-8z"/><path fill="#e43c57" d="M592.2 350.5h8v8h-8z"/><path fill="#d82e6d" d="M600.2 350.5h8v8h-8z"/><path fill="#ce267f" d="M608.2 350.5h8v8h-8z"/><path fill="#c2208d" d="M616.2 350.5h8v8h-8z"/><path fill="#b11f93" d="M624.2 350.5h8v8h-8z"/><path fill="#a11e98" d="M632.2 350.5h8v8h-8z"/><path fill="#901c9e" d="M640.2 350.5h8v8h-8z"/><path fill="#7e1ba1" d="M648.2 350.5h8v8h-8z"/><path fill="#6a18a3" d="M656.2 350.5h8v8h-8z"/><path fill="#bf208e" d="M376.2 358.5h8v8h-8z"/><path fill="#ca2386" d="M384.2 358.5h8v8h-8z"/><path fill="#d22978" d="M392.2 358.5h8v8h-8z"/><path fill="#db2f6a" d="M400.2 358.5h8v8h-8z"/><path fill="#e43b59" d="M408.2 358.5h8v8h-8z"/><path fill="#ed4c45" d="M416.2 358.5h8v8h-8z"/><path fill="#f55f33" d="M424.2 358.5h8v8h-8z"/><path fill="#f96d26" d="M432.2 358.5h8v8h-8z"/><path fill="#fc7e1b" d="M440.2 358.5h8v8h-8z"/><path fill="#fd8a14" d="M448.2 358.5h8v8h-8z"/><path fill="#ff990c" d="M456.2 358.5h8v8h-8z"/><path fill="#ffb10b" d="M464.2 358.5h8v8h-8z"/><path fill="#ffc90b" d="M472.2 358.5h8v8h-8z"/><path fill="#ffcc0d" d="M480.2 358.5h8v8h-8z"/><path fill="#ffcc0d" d="M488.2 358.5h8v8h-8z"/><path fill="#ffcc0d" d="M496.2 358.5h8v8h-8z"/><path fill="#ffcc0d" d="M504.2 358.5h8v8h-8z"/><path fill="#ffcc0d" d="M512.2 358.5h8v8h-8z"/><path fill="#ffcc0d" d="M520.2 358.5h8v8h-8z"/><path fill="#ffcc0d" d="M528.2 358.5h8v8h-8z"/><path fill="#ffcc0d" d="M536.2 358.5h8v8h-8z"/><path fill="#ffcc0d" d="M544.2 358.5h8v8h-8z"/><path fill="#ffaf0b" d="M552.2 358.5h8v8h-8z"/><path fill="#ff920e" d="M560.2 358.5h8v8h-8z"/><path fill="#fd8418" d="M568.2 358.5h8v8h-8z"/><path fill="#fa7123" d="M576.2 358.5h8v8h-8z"/><path fill="#f55e33" d="M584.2 358.5h8v8h-8z"/><path fill="#eb474b" d="M592.2 358.5h8v8h-8z"/><path fill="#e03561" d="M600.2 358.5h8v8h-8z"/><path fill="#d42a75" d="M608.2 358.5h8v8h-8z"/><path fill="#ca2386" d="M616.2 358.5h8v8h-8z"/><path fill="#bc1f8f" d="M624.2 358.5h8v8h-8z"/><path fill="#ac1e95" d="M632.2 358.5h8v8h-8z"/><path fill="#9d1d9a" d="M640.2 358.5h8v8h-8z"/><path fill="#8d1c9f" d="M648.2 358.5h8v8h-8z"/><path fill="#7b1aa1" d="M656.2 358.5h8v8h-8z"/><path fill="#bf208e" d="M376.2 366.5h8v8h-8z"/><path fill="#c92286" d="M384.2 366.5h8v8h-8z"/><path fill="#d12979" d="M392.2 366.5h8v8h-8z"/><path fill="#da2f6a" d="M400.2 366.5h8v8h-8z"/><path fill="#e33b59" d="M408.2 366.5h8v8h-8z"/><path fill="#ed4b46" d="M416.2 366.5h8v8h-8z"/><path fill="#f45e34" d="M424.2 366.5h8v8h-8z"/><path fill="#f96d27" d="M432.2 366.5h8v8h-8z"/><path fill="#fc7d1c" d="M440.2 366.5h8v8h-8z"/><path fill="#fd8914" d="M448.2 366.5h8v8h-8z"/><path fill="#ff970c" d="M456.2 366.5h8v8h-8z"/><path fill="#ffae0b" d="M464.2 366.5h8v8h-8z"/><path fill="#ffc70a" d="M472.2 366.5h8v8h-8z"/><path fill="#ffcc0d" d="M480.2 366.5h8v8h-8z"/><path fill="#ffcc0d" d="M488.2 366.5h8v8h-8z"/><path fill="#ffcc0d" d="M496.2 366.5h8v8h-8z"/><path fill="#ffcc0d" d="M504.2 366.5h8v8h-8z"/><path fill="#ffcc0d" d="M512.2 366.5h8v8h-8z"/><path fill="#ffcc0d" d="M520.2 366.5h8v8h-8z"/><path fill="#ffcc0d" d="M528.2 366.5h8v8h-8z"/><path fill="#ffcc0d" d="M536.2 366.5h8v8h-8z"/><path fill="#ffcb0c" d="M544.2 366.5h8v8h-8z"/><path fill="#ffae0b" d="M552.2 366.5h8v8h-8z"/><path fill="#fe920f" d="M560.2 366.5h8v8h-8z"/><path fill="#fd8418" d="M568.2 366.5h8v8h-8z"/><path fill="#fa7123" d="M576.2 366.5h8v8h-8z"/><path fill="#f55f33" d="M584.2 366.5h8v8h-8z"/><path fill="#eb4849" d="M592.2 366.5h8v8h-8z"/><path fill="#e0365f" d="M600.2 366.5h8v8h-8z"/><path fill="#d52b73" d="M608.2 366.5h8v8h-8z"/><path fill="#cb2484" d="M616.2 366.5h8v8h-8z"/><path fill="#be1f8f" d="M624.2 366.5h8v8h-8z"/><path fill="#af1e94" d="M632.2 366.5h8v8h-8z"/><path fill="#a01d99" d="M640.2 366.5h8v8h-8z"/><path fill="#911c9e" d="M648.2 366.5h8v8h-8z"/><path fill="#801ba1" d="M656.2 366.5h8v8h-8z"/><path fill="#bb1f90" d="M376.2 374.5h8v8h-8z"/><path fill="#c7208b" d="M384.2 374.5h8v8h-8z"/><path fill="#cf267e" d="M392.2 374.5h8v8h-8z"/><path fill="#d72c70" d="M400.2 374.5h8v8h-8z"/><path fill="#e03560" d="M408.2 374.5h8v8h-8z"/><path fill="#e84350" d="M416.2 374.5h8v8h-8z"/><path fill="#f1543c" d="M424.2 374.5h8v8h-8z"/><path fill="#f7652d" d="M432.2 374.5h8v8h-8z"/><path fill="#fa7322" d="M440.2 374.5h8v8h-8z"/><path fill="#fc8219" d="M448.2 374.5h8v8h-8z"/><path fill="#fe8c12" d="M456.2 374.5h8v8h-8z"/><path fill="#ff9b0c" d="M464.2 374.5h8v8h-8z"/><path fill="#ffaf0b" d="M472.2 374.5h8v8h-8z"/><path fill="#ffc30a" d="M480.2 374.5h8v8h-8z"/><path fill="#ffcc0d" d="M488.2 374.5h8v8h-8z"/><path fill="#ffcc0d" d="M496.2 374.5h8v8h-8z"/><path fill="#ffcc0d" d="M504.2 374.5h8v8h-8z"/><path fill="#ffcc0d" d="M512.2 374.5h8v8h-8z"/><path fill="#ffcc0d" d="M520.2 374.5h8v8h-8z"/><path fill="#ffcc0d" d="M528.2 374.5h8v8h-8z"/><path fill="#ffca0b" d="M536.2 374.5h8v8h-8z"/><path fill="#ffb30b" d="M544.2 374.5h8v8h-8z"/><path fill="#ff9a0c" d="M552.2 374.5h8v8h-8z"/><path fill="#fd8914" d="M560.2 374.5h8v8h-8z"/><path fill="#fc7c1d" d="M568.2 374.5h8v8h-8z"/><path fill="#f8692a" d="M576.2 374.5h8v8h-8z"/><path fill="#f2563b" d="M584.2 374.5h8v8h-8z"/><path fill="#e74153" d="M592.2 374.5h8v8h-8z"/><path fill="#dd3166" d="M600.2 374.5h8v8h-8z"/><path fill="#d22978" d="M608.2 374.5h8v8h-8z"/><path fill="#c82288" d="M616.2 374.5h8v8h-8z"/><path fill="#ba1f90" d="M624.2 374.5h8v8h-8z"/><path fill="#ab1e95" d="M632.2 374.5h8v8h-8z"/><path fill="#9c1d9a" d="M640.2 374.5h8v8h-8z"/><path fill="#8e1c9f" d="M648.2 374.5h8v8h-8z"/><path fill="#7c1aa1" d="M656.2 374.5h8v8h-8z"/><path fill="#b41f92" d="M376.2 382.5h8v8h-8z"/><path fill="#bf208e" d="M384.2 382.5h8v8h-8z"/><path fill="#c92287" d="M392.2 382.5h8v8h-8z"/><path fill="#d1287a" d="M400.2 382.5h8v8h-8z"/><path fill="#d92e6d" d="M408.2 382.5h8v8h-8z"/><path fill="#e1385d" d="M416.2 382.5h8v8h-8z"/><path fill="#e9454e" d="M424.2 382.5h8v8h-8z"/><path fill="#f2553c" d="M432.2 382.5h8v8h-8z"/><path fill="#f6642e" d="M440.2 382.5h8v8h-8z"/><path fill="#fa7024" d="M448.2 382.5h8v8h-8z"/><path fill="#fc7e1b" d="M456.2 382.5h8v8h-8z"/><path fill="#fd8716" d="M464.2 382.5h8v8h-8z"/><path fill="#fe8f11" d="M472.2 382.5h8v8h-8z"/><path fill="#ff9a0c" d="M480.2 382.5h8v8h-8z"/><path fill="#ffa70b" d="M488.2 382.5h8v8h-8z"/><path fill="#ffb10b" d="M496.2 382.5h8v8h-8z"/><path fill="#ffb70b" d="M504.2 382.5h8v8h-8z"/><path fill="#ffb90b" d="M512.2 382.5h8v8h-8z"/><path fill="#ffb60b" d="M520.2 382.5h8v8h-8z"/><path fill="#ffad0b" d="M528.2 382.5h8v8h-8z"/><path fill="#ffa00c" d="M536.2 382.5h8v8h-8z"/><path fill="#fe9010" d="M544.2 382.5h8v8h-8z"/><path fill="#fd8716" d="M552.2 382.5h8v8h-8z"/><path fill="#fb7b1d" d="M560.2 382.5h8v8h-8z"/><path fill="#f86b29" d="M568.2 382.5h8v8h-8z"/><path fill="#f35a37" d="M576.2 382.5h8v8h-8z"/><path fill="#ea464c" d="M584.2 382.5h8v8h-8z"/><path fill="#e0365f" d="M592.2 382.5h8v8h-8z"/><path fill="#d62c72" d="M600.2 382.5h8v8h-8z"/><path fill="#cc2581" d="M608.2 382.5h8v8h-8z"/><path fill="#c2208d" d="M616.2 382.5h8v8h-8z"/><path fill="#b31f92" d="M624.2 382.5h8v8h-8z"/><path fill="#a51e97" d="M632.2 382.5h8v8h-8z"/><path fill="#961d9c" d="M640.2 382.5h8v8h-8z"/><path fill="#871ca0" d="M648.2 382.5h8v8h-8z"/><path fill="#7519a2" d="M656.2 382.5h8v8h-8z"/><path fill="#a91e96" d="M376.2 390.5h8v8h-8z"/><path fill="#b51f92" d="M384.2 390.5h8v8h-8z"/><path fill="#c0208e" d="M392.2 390.5h8v8h-8z"/><path fill="#c92287" d="M400.2 390.5h8v8h-8z"/><path fill="#d0287b" d="M408.2 390.5h8v8h-8z"/><path fill="#d72d70" d="M416.2 390.5h8v8h-8z"/><path fill="#df3462" d="M424.2 390.5h8v8h-8z"/><path fill="#e63f55" d="M432.2 390.5h8v8h-8z"/><path fill="#ee4c45" d="M440.2 390.5h8v8h-8z"/><path fill="#f35a37" d="M448.2 390.5h8v8h-8z"/><path fill="#f7662d" d="M456.2 390.5h8v8h-8z"/><path fill="#fa6f25" d="M464.2 390.5h8v8h-8z"/><path fill="#fb781f" d="M472.2 390.5h8v8h-8z"/><path fill="#fc801a" d="M480.2 390.5h8v8h-8z"/><path fill="#fd8517" d="M488.2 390.5h8v8h-8z"/><path fill="#fd8815" d="M496.2 390.5h8v8h-8z"/><path fill="#fd8a13" d="M504.2 390.5h8v8h-8z"/><path fill="#fe8b13" d="M512.2 390.5h8v8h-8z"/><path fill="#fd8a13" d="M520.2 390.5h8v8h-8z"/><path fill="#fd8715" d="M528.2 390.5h8v8h-8z"/><path fill="#fc8219" d="M536.2 390.5h8v8h-8z"/><path fill="#fb7a1e" d="M544.2 390.5h8v8h-8z"/><path fill="#fa6f25" d="M552.2 390.5h8v8h-8z"/><path fill="#f6632f" d="M560.2 390.5h8v8h-8z"/><path fill="#f1543d" d="M568.2 390.5h8v8h-8z"/><path fill="#e84350" d="M576.2 390.5h8v8h-8z"/><path fill="#e03560" d="M584.2 390.5h8v8h-8z"/><path fill="#d62c71" d="M592.2 390.5h8v8h-8z"/><path fill="#ce267f" d="M600.2 390.5h8v8h-8z"/><path fill="#c4208d" d="M608.2 390.5h8v8h-8z"/><path fill="#b71f91" d="M616.2 390.5h8v8h-8z"/><path fill="#a91e96" d="M624.2 390.5h8v8h-8z"/><path fill="#9b1d9a" d="M632.2 390.5h8v8h-8z"/><path fill="#8d1c9f" d="M640.2 390.5h8v8h-8z"/><path fill="#7d1aa1" d="M648.2 390.5h8v8h-8z"/><path fill="#6b18a3" d="M656.2 390.5h8v8h-8z"/><path fill="#9c1d9a" d="M376.2 398.5h8v8h-8z"/><path fill="#a71e96" d="M384.2 398.5h8v8h-8z"/><path fill="#b21f93" d="M392.2 398.5h8v8h-8z"/><path fill="#bc1f8f" d="M400.2 398.5h8v8h-8z"/><path fill="#c6208c" d="M408.2 398.5h8v8h-8z"/><path fill="#cc2582" d="M416.2 398.5h8v8h-8z"/><path fill="#d22977" d="M424.2 398.5h8v8h-8z"/><path fill="#d82e6e" d="M432.2 398.5h8v8h-8z"/><path fill="#df3461" d="M440.2 398.5h8v8h-8z"/><path fill="#e53d57" d="M448.2 398.5h8v8h-8z"/><path fill="#ea464b" d="M456.2 398.5h8v8h-8z"/><path fill="#f05040" d="M464.2 398.5h8v8h-8z"/><path fill="#f35a38" d="M472.2 398.5h8v8h-8z"/><path fill="#f56131" d="M480.2 398.5h8v8h-8z"/><path fill="#f7662d" d="M488.2 398.5h8v8h-8z"/><path fill="#f8692a" d="M496.2 398.5h8v8h-8z"/><path fill="#f96c28" d="M504.2 398.5h8v8h-8z"/><path fill="#f96c27" d="M512.2 398.5h8v8h-8z"/><path fill="#f96b28" d="M520.2 398.5h8v8h-8z"/><path fill="#f8682b" d="M528.2 398.5h8v8h-8z"/><path fill="#f6632f" d="M536.2 398.5h8v8h-8z"/><path fill="#f45b36" d="M544.2 398.5h8v8h-8z"/><path fill="#f05040" d="M552.2 398.5h8v8h-8z"/><path fill="#e9444f" d="M560.2 398.5h8v8h-8z"/><path fill="#e2395c" d="M568.2 398.5h8v8h-8z"/><path fill="#db2f6a" d="M576.2 398.5h8v8h-8z"/><path fill="#d32a77" d="M584.2 398.5h8v8h-8z"/><path fill="#cb2483" d="M592.2 398.5h8v8h-8z"/><path fill="#c2208d" d="M600.2 398.5h8v8h-8z"/><path fill="#b61f91" d="M608.2 398.5h8v8h-8z"/><path fill="#a91e96" d="M616.2 398.5h8v8h-8z"/><path fill="#9c1d9a" d="M624.2 398.5h8v8h-8z"/><path fill="#8f1c9e" d="M632.2 398.5h8v8h-8z"/><path fill="#801ba1" d="M640.2 398.5h8v8h-8z"/><path fill="#6f19a2" d="M648.2 398.5h8v8h-8z"/><path fill="#5e17a4" d="M656.2 398.5h8v8h-8z"/><path fill="#8e1c9f" d="M376.2 406.5h8v8h-8z"/><path fill="#971d9c" d="M384.2 406.5h8v8h-8z"/><path fill="#a11e98" d="M392.2 406.5h8v8h-8z"/><path fill="#ab1e95" d="M400.2 406.5h8v8h-8z"/><path fill="#b41f92" d="M408.2 406.5h8v8h-8z"/><path fill="#bd1f8f" d="M416.2 406.5h8v8h-8z"/><path fill="#c5208c" d="M424.2 406.5h8v8h-8z"/><path fill="#cb2484" d="M432.2 406.5h8v8h-8z"/><path fill="#d0277c" d="M440.2 406.5h8v8h-8z"/><path fill="#d42b74" d="M448.2 406.5h8v8h-8z"/><path fill="#d92e6c" d="M456.2 406.5h8v8h-8z"/><path fill="#de3264" d="M464.2 406.5h8v8h-8z"/><path fill="#e1385d" d="M472.2 406.5h8v8h-8z"/><path fill="#e43c58" d="M480.2 406.5h8v8h-8z"/><path fill="#e64053" d="M488.2 406.5h8v8h-8z"/><path fill="#e8434f" d="M496.2 406.5h8v8h-8z"/><path fill="#ea464c" d="M504.2 406.5h8v8h-8z"/><path fill="#ea464b" d="M512.2 406.5h8v8h-8z"/><path fill="#ea454d" d="M520.2 406.5h8v8h-8z"/><path fill="#e84250" d="M528.2 406.5h8v8h-8z"/><path fill="#e53e56" d="M536.2 406.5h8v8h-8z"/><path fill="#e2395c" d="M544.2 406.5h8v8h-8z"/><path fill="#de3264" d="M552.2 406.5h8v8h-8z"/><path fill="#d82d6f" d="M560.2 406.5h8v8h-8z"/><path fill="#d22977" d="M568.2 406.5h8v8h-8z"/><path fill="#cc2581" d="M576.2 406.5h8v8h-8z"/><path fill="#c6208c" d="M584.2 406.5h8v8h-8z"/><path fill="#bc1f8f" d="M592.2 406.5h8v8h-8z"/><path fill="#b11f93" d="M600.2 406.5h8v8h-8z"/><path fill="#a51e97" d="M608.2 406.5h8v8h-8z"/><path fill="#991d9b" d="M616.2 406.5h8v8h-8z"/><path fill="#8d1c9f" d="M624.2 406.5h8v8h-8z"/><path fill="#7f1ba1" d="M632.2 406.5h8v8h-8z"/><path fill="#6f19a2" d="M640.2 406.5h8v8h-8z"/><path fill="#5f17a4" d="M648.2 406.5h8v8h-8z"/><path fill="#5015a5" d="M656.2 406.5h8v8h-8z"/><path fill="#7a1aa1" d="M376.2 414.5h8v8h-8z"/><path fill="#851ba0" d="M384.2 414.5h8v8h-8z"/><path fill="#8f1c9e" d="M392.2 414.5h8v8h-8z"/><path fill="#981d9b" d="M400.2 414.5h8v8h-8z"/><path fill="#a01d99" d="M408.2 414.5h8v8h-8z"/><path fill="#a81e96" d="M416.2 414.5h8v8h-8z"/><path fill="#b01f93" d="M424.2 414.5h8v8h-8z"/><path fill="#b71f91" d="M432.2 414.5h8v8h-8z"/><path fill="#be1f8f" d="M440.2 414.5h8v8h-8z"/><path fill="#c5208c" d="M448.2 414.5h8v8h-8z"/><path fill="#c92287" d="M456.2 414.5h8v8h-8z"/><path fill="#cc2582" d="M464.2 414.5h8v8h-8z"/><path fill="#cf277d" d="M472.2 414.5h8v8h-8z"/><path fill="#d12979" d="M480.2 414.5h8v8h-8z"/><path fill="#d32a76" d="M488.2 414.5h8v8h-8z"/><path fill="#d52b73" d="M496.2 414.5h8v8h-8z"/><path fill="#d62c72" d="M504.2 414.5h8v8h-8z"/><path fill="#d62c71" d="M512.2 414.5h8v8h-8z"/><path fill="#d62c72" d="M520.2 414.5h8v8h-8z"/><path fill="#d42b74" d="M528.2 414.5h8v8h-8z"/><path fill="#d22977" d="M536.2 414.5h8v8h-8z"/><path fill="#d0277c" d="M544.2 414.5h8v8h-8z"/><path fill="#cc2582" d="M552.2 414.5h8v8h-8z"/><path fill="#c82189" d="M560.2 414.5h8v8h-8z"/><path fill="#c2208d" d="M568.2 414.5h8v8h-8z"/><path fill="#ba1f90" d="M576.2 414.5h8v8h-8z"/><path fill="#b11f93" d="M584.2 414.5h8v8h-8z"/><path fill="#a71e96" d="M592.2 414.5h8v8h-8z"/><path fill="#9d1d9a" d="M600.2 414.5h8v8h-8z"/><path fill="#931d9d" d="M608.2 414.5h8v8h-8z"/><path fill="#871ca0" d="M616.2 414.5h8v8h-8z"/><path fill="#791aa2" d="M624.2 414.5h8v8h-8z"/><path fill="#6b18a3" d="M632.2 414.5h8v8h-8z"/><path fill="#5c16a4" d="M640.2 414.5h8v8h-8z"/><path fill="#4e15a5" d="M648.2 414.5h8v8h-8z"/><path fill="#4313a4" d="M656.2 414.5h8v8h-8z"/><path fill="#6317a4" d="M376.2 422.5h8v8h-8z"/><path fill="#6e19a3" d="M384.2 422.5h8v8h-8z"/><path fill="#781aa2" d="M392.2 422.5h8v8h-8z"/><path fill="#821ba1" d="M400.2 422.5h8v8h-8z"/><path fill="#8b1ca0" d="M408.2 422.5h8v8h-8z"/><path fill="#931d9d" d="M416.2 422.5h8v8h-8z"/><path fill="#9a1d9b" d="M424.2 422.5h8v8h-8z"/><path fill="#a01d99" d="M432.2 422.5h8v8h-8z"/><path fill="#a61e97" d="M440.2 422.5h8v8h-8z"/><path fill="#ac1e95" d="M448.2 422.5h8v8h-8z"/><path fill="#b11f93" d="M456.2 422.5h8v8h-8z"/><path fill="#b61f91" d="M464.2 422.5h8v8h-8z"/><path fill="#ba1f90" d="M472.2 422.5h8v8h-8z"/><path fill="#bd1f8f" d="M480.2 422.5h8v8h-8z"/><path fill="#c0208e" d="M488.2 422.5h8v8h-8z"/><path fill="#c1208e" d="M496.2 422.5h8v8h-8z"/><path fill="#c3208d" d="M504.2 422.5h8v8h-8z"/><path fill="#c3208d" d="M512.2 422.5h8v8h-8z"/><path fill="#c2208d" d="M520.2 422.5h8v8h-8z"/><path fill="#c1208e" d="M528.2 422.5h8v8h-8z"/><path fill="#be1f8f" d="M536.2 422.5h8v8h-8z"/><path fill="#ba1f90" d="M544.2 422.5h8v8h-8z"/><path fill="#b61f91" d="M552.2 422.5h8v8h-8z"/><path fill="#b01f93" d="M560.2 422.5h8v8h-8z"/><path fill="#aa1e95" d="M568.2 422.5h8v8h-8z"/><path fill="#a21e98" d="M576.2 422.5h8v8h-8z"/><path fill="#9a1d9b" d="M584.2 422.5h8v8h-8z"/><path fill="#921d9d" d="M592.2 422.5h8v8h-8z"/><path fill="#881ca0" d="M600.2 422.5h8v8h-8z"/><path fill="#7c1aa1" d="M608.2 422.5h8v8h-8z"/><path fill="#7019a2" d="M616.2 422.5h8v8h-8z"/><path fill="#6217a4" d="M624.2 422.5h8v8h-8z"/><path fill="#5516a5" d="M632.2 422.5h8v8h-8z"/><path fill="#4814a6" d="M640.2 422.5h8v8h-8z"/><path fill="#4012a3" d="M648.2 422.5h8v8h-8z"/><path fill="#3811a0" d="M656.2 422.5h8v8h-8z"/><path fill="#4c14a6" d="M376.2 430.5h8v8h-8z"/><path fill="#5516a5" d="M384.2 430.5h8v8h-8z"/><path fill="#5e17a4" d="M392.2 430.5h8v8h-8z"/><path fill="#6818a3" d="M400.2 430.5h8v8h-8z"/><path fill="#7019a2" d="M408.2 430.5h8v8h-8z"/><path fill="#791aa2" d="M416.2 430.5h8v8h-8z"/><path fill="#811ba1" d="M424.2 430.5h8v8h-8z"/><path fill="#881ca0" d="M432.2 430.5h8v8h-8z"/><path fill="#8e1c9f" d="M440.2 430.5h8v8h-8z"/><path fill="#931d9d" d="M448.2 430.5h8v8h-8z"/><path fill="#981d9b" d="M456.2 430.5h8v8h-8z"/><path fill="#9c1d9a" d="M464.2 430.5h8v8h-8z"/><path fill="#9f1d99" d="M472.2 430.5h8v8h-8z"/><path fill="#a21e98" d="M480.2 430.5h8v8h-8z"/><path fill="#a41e97" d="M488.2 430.5h8v8h-8z"/><path fill="#a61e97" d="M496.2 430.5h8v8h-8z"/><path fill="#a71e96" d="M504.2 430.5h8v8h-8z"/><path fill="#a71e96" d="M512.2 430.5h8v8h-8z"/><path fill="#a71e96" d="M520.2 430.5h8v8h-8z"/><path fill="#a61e97" d="M528.2 430.5h8v8h-8z"/><path fill="#a31e98" d="M536.2 430.5h8v8h-8z"/><path fill="#a01d99" d="M544.2 430.5h8v8h-8z"/><path fill="#9c1d9a" d="M552.2 430.5h8v8h-8z"/><path fill="#971d9c" d="M560.2 430.5h8v8h-8z"/><path fill="#911c9e" d="M568.2 430.5h8v8h-8z"/><path fill="#8a1ca0" d="M576.2 430.5h8v8h-8z"/><path fill="#821ba1" d="M584.2 430.5h8v8h-8z"/><path fill="#781aa2" d="M592.2 430.5h8v8h-8z"/><path fill="#6d19a3" d="M600.2 430.5h8v8h-8z"/><path fill="#6217a4" d="M608.2 430.5h8v8h-8z"/><path fill="#5716a5" d="M616.2 430.5h8v8h-8z"/><path fill="#4b14a6" d="M624.2 430.5h8v8h-8z"/><path fill="#4313a4" d="M632.2 430.5h8v8h-8z"/><path fill="#3b11a1" d="M640.2 430.5h8v8h-8z"/><path fill="#34109e" d="M648.2 430.5h8v8h-8z"/><path fill="#2d0f9b" d="M656.2 430.5h8v8h-8z"/><path fill="#3c12a1" d="M376.2 438.5h8v8h-8z"/><path fill="#4113a3" d="M384.2 438.5h8v8h-8z"/><path fill="#4614a5" d="M392.2 438.5h8v8h-8z"/><path fill="#4d15a6" d="M400.2 438.5h8v8h-8z"/><path fill="#5516a5" d="M408.2 438.5h8v8h-8z"/><path fill="#5c16a4" d="M416.2 438.5h8v8h-8z"/><path fill="#6317a4" d="M424.2 438.5h8v8h-8z"/><path fill="#6a18a3" d="M432.2 438.5h8v8h-8z"/><path fill="#7019a2" d="M440.2 438.5h8v8h-8z"/><path fill="#761aa2" d="M448.2 438.5h8v8h-8z"/><path fill="#7b1aa1" d="M456.2 438.5h8v8h-8z"/><path fill="#801ba1" d="M464.2 438.5h8v8h-8z"/><path fill="#841ba1" d="M472.2 438.5h8v8h-8z"/><path fill="#871ca0" d="M480.2 438.5h8v8h-8z"/><path fill="#8a1ca0" d="M488.2 438.5h8v8h-8z"/><path fill="#8b1ca0" d="M496.2 438.5h8v8h-8z"/><path fill="#8c1c9f" d="M504.2 438.5h8v8h-8z"/><path fill="#8c1c9f" d="M512.2 438.5h8v8h-8z"/><path fill="#8c1c9f" d="M520.2 438.5h8v8h-8z"/><path fill="#8b1ca0" d="M528.2 438.5h8v8h-8z"/><path fill="#881ca0" d="M536.2 438.5h8v8h-8z"/><path fill="#851ba0" d="M544.2 438.5h8v8h-8z"/><path fill="#801ba1" d="M552.2 438.5h8v8h-8z"/><path fill="#7a1aa1" d="M560.2 438.5h8v8h-8z"/><path fill="#7419a2" d="M568.2 438.5h8v8h-8z"/><path fill="#6c18a3" d="M576.2 438.5h8v8h-8z"/><path fill="#6417a3" d="M584.2 438.5h8v8h-8z"/><path fill="#5b16a4" d="M592.2 438.5h8v8h-8z"/><path fill="#5215a5" d="M600.2 438.5h8v8h-8z"/><path fill="#4814a6" d="M608.2 438.5h8v8h-8z"/><path fill="#4213a4" d="M616.2 438.5h8v8h-8z"/><path fill="#3c12a1" d="M624.2 438.5h8v8h-8z"/><path fill="#35109e" d="M632.2 438.5h8v8h-8z"/><path fill="#2e0f9c" d="M640.2 438.5h8v8h-8z"/><path fill="#280e99" d="M648.2 438.5h8v8h-8z"/><path fill="#210c96" d="M656.2 438.5h8v8h-8z"/><path fill="#2d0f9b" d="M376.2 446.5h8v8h-8z"/><path fill="#32109d" d="M384.2 446.5h8v8h-8z"/><path fill="#36109f" d="M392.2 446.5h8v8h-8z"/><path fill="#3b11a1" d="M400.2 446.5h8v8h-8z"/><path fill="#3f12a3" d="M408.2 446.5h8v8h-8z"/><path fill="#4313a4" d="M416.2 446.5h8v8h-8z"/><path fill="#4714a6" d="M424.2 446.5h8v8h-8z"/><path fill="#4d15a6" d="M432.2 446.5h8v8h-8z"/><path fill="#5215a5" d="M440.2 446.5h8v8h-8z"/><path fill="#5716a5" d="M448.2 446.5h8v8h-8z"/><path fill="#5b16a4" d="M456.2 446.5h8v8h-8z"/><path fill="#5f17a4" d="M464.2 446.5h8v8h-8z"/><path fill="#6317a4" d="M472.2 446.5h8v8h-8z"/><path fill="#6618a3" d="M480.2 446.5h8v8h-8z"/><path fill="#6818a3" d="M488.2 446.5h8v8h-8z"/><path fill="#6a18a3" d="M496.2 446.5h8v8h-8z"/><path fill="#6b18a3" d="M504.2 446.5h8v8h-8z"/><path fill="#6b18a3" d="M512.2 446.5h8v8h-8z"/><path fill="#6b18a3" d="M520.2 446.5h8v8h-8z"/><path fill="#6918a3" d="M528.2 446.5h8v8h-8z"/><path fill="#6718a3" d="M536.2 446.5h8v8h-8z"/><path fill="#6317a4" d="M544.2 446.5h8v8h-8z"/><path fill="#5f17a4" d="M552.2 446.5h8v8h-8z"/><path fill="#5a16a4" d="M560.2 446.5h8v8h-8z"/><path fill="#5516a5" d="M568.2 446.5h8v8h-8z"/><path fill="#4e15a5" d="M576.2 446.5h8v8h-8z"/><path fill="#4814a6" d="M584.2 446.5h8v8h-8z"/><path fill="#4313a4" d="M592.2 446.5h8v8h-8z"/><path fill="#3e12a2" d="M600.2 446.5h8v8h-8z"/><path fill="#3811a0" d="M608.2 446.5h8v8h-8z"/><path fill="#33109d" d="M616.2 446.5h8v8h-8z"/><path fill="#2d0f9b" d="M624.2 446.5h8v8h-8z"/><path fill="#280e99" d="M632.2 446.5h8v8h-8z"/><path fill="#220c97" d="M640.2 446.5h8v8h-8z"/><path fill="#1e0b8f" d="M648.2 446.5h8v8h-8z"/><path fill="#1c0b86" d="M656.2 446.5h8v8h-8z"/><path fill="#200c95" d="M376.2 454.5h8v8h-8z"/><path fill="#240d97" d="M384.2 454.5h8v8h-8z"/><path fill="#280e99" d="M392.2 454.5h8v8h-8z"/><path fill="#2c0e9b" d="M400.2 454.5h8v8h-8z"/><path fill="#2f0f9c" d="M408.2 454.5h8v8h-8z"/><path fill="#33109d" d="M416.2 454.5h8v8h-8z"/><path fill="#36109f" d="M424.2 454.5h8v8h-8z"/><path fill="#3911a0" d="M432.2 454.5h8v8h-8z"/><path fill="#3c12a1" d="M440.2 454.5h8v8h-8z"/><path fill="#3f12a2" d="M448.2 454.5h8v8h-8z"/><path fill="#4113a3" d="M456.2 454.5h8v8h-8z"/><path fill="#4413a4" d="M464.2 454.5h8v8h-8z"/><path fill="#4513a5" d="M472.2 454.5h8v8h-8z"/><path fill="#4714a6" d="M480.2 454.5h8v8h-8z"/><path fill="#4814a6" d="M488.2 454.5h8v8h-8z"/><path fill="#4a14a6" d="M496.2 454.5h8v8h-8z"/><path fill="#4a14a6" d="M504.2 454.5h8v8h-8z"/><path fill="#4b14a6" d="M512.2 454.5h8v8h-8z"/><path fill="#4a14a6" d="M520.2 454.5h8v8h-8z"/><path fill="#4914a6" d="M528.2 454.5h8v8h-8z"/><path fill="#4714a6" d="M536.2 454.5h8v8h-8z"/><path fill="#4614a5" d="M544.2 454.5h8v8h-8z"/><path fill="#4413a4" d="M552.2 454.5h8v8h-8z"/><path fill="#4113a3" d="M560.2 454.5h8v8h-8z"/><path fill="#3e12a2" d="M568.2 454.5h8v8h-8z"/><path fill="#3a11a0" d="M576.2 454.5h8v8h-8z"/><path fill="#36109f" d="M584.2 454.5h8v8h-8z"/><path fill="#32109d" d="M592.2 454.5h8v8h-8z"/><path fill="#2e0f9c" d="M600.2 454.5h8v8h-8z"/><path fill="#290e9a" d="M608.2 454.5h8v8h-8z"/><path fill="#240d98" d="M616.2 454.5h8v8h-8z"/><path fill="#200c95" d="M624.2 454.5h8v8h-8z"/><path fill="#1e0b8d" d="M632.2 454.5h8v8h-8z"/><path fill="#1c0b85" d="M640.2 454.5h8v8h-8z"/><path fill="#1a0a7d" d="M648.2 454.5h8v8h-8z"/><path fill="#180974" d="M656.2 454.5h8v8h-8z"/><path fill="#1b0a80" d="M376.2 462.5h8v8h-8z"/><path fill="#1c0b86" d="M384.2 462.5h8v8h-8z"/><path fill="#1e0b8c" d="M392.2 462.5h8v8h-8z"/><path fill="#1f0c91" d="M400.2 462.5h8v8h-8z"/><path fill="#200c96" d="M408.2 462.5h8v8h-8z"/><path fill="#230d97" d="M416.2 462.5h8v8h-8z"/><path fill="#260d98" d="M424.2 462.5h8v8h-8z"/><path fill="#290e9a" d="M432.2 462.5h8v8h-8z"/><path fill="#2b0e9b" d="M440.2 462.5h8v8h-8z"/><path fill="#2e0f9b" d="M448.2 462.5h8v8h-8z"/><path fill="#300f9c" d="M456.2 462.5h8v8h-8z"/><path fill="#310f9d" d="M464.2 462.5h8v8h-8z"/><path fill="#33109e" d="M472.2 462.5h8v8h-8z"/><path fill="#34109e" d="M480.2 462.5h8v8h-8z"/><path fill="#35109e" d="M488.2 462.5h8v8h-8z"/><path fill="#36109f" d="M496.2 462.5h8v8h-8z"/><path fill="#36109f" d="M504.2 462.5h8v8h-8z"/><path fill="#37119f" d="M512.2 462.5h8v8h-8z"/><path fill="#36109f" d="M520.2 462.5h8v8h-8z"/><path fill="#36109f" d="M528.2 462.5h8v8h-8z"/><path fill="#35109e" d="M536.2 462.5h8v8h-8z"/><path fill="#33109e" d="M544.2 462.5h8v8h-8z"/><path fill="#310f9d" d="M552.2 462.5h8v8h-8z"/><path fill="#2f0f9c" d="M560.2 462.5h8v8h-8z"/><path fill="#2c0e9b" d="M568.2 462.5h8v8h-8z"/><path fill="#2a0e9a" d="M576.2 462.5h8v8h-8z"/><path fill="#260d99" d="M584.2 462.5h8v8h-8z"/><path fill="#230d97" d="M592.2 462.5h8v8h-8z"/><path fill="#200c94" d="M600.2 462.5h8v8h-8z"/><path fill="#1e0b8e" d="M608.2 462.5h8v8h-8z"/><path fill="#1d0b87" d="M616.2 462.5h8v8h-8z"/><path fill="#1b0a80" d="M624.2 462.5h8v8h-8z"/><path fill="#190979" d="M632.2 462.5h8v8h-8z"/><path fill="#170971" d="M640.2 462.5h8v8h-8z"/><path fill="#16086b" d="M648.2 462.5h8v8h-8z"/><path fill="#150866" d="M656.2 462.5h8v8h-8z"/><path fill="#16086d" d="M376.2 470.5h8v8h-8z"/><path fill="#170971" d="M384.2 470.5h8v8h-8z"/><path fill="#180976" d="M392.2 470.5h8v8h-8z"/><path fill="#1a0a7b" d="M400.2 470.5h8v8h-8z"/><path fill="#1b0a7f" d="M408.2 470.5h8v8h-8z"/><path fill="#1c0a84" d="M416.2 470.5h8v8h-8z"/><path fill="#1d0b88" d="M424.2 470.5h8v8h-8z"/><path fill="#1e0b8b" d="M432.2 470.5h8v8h-8z"/><path fill="#1e0b8f" d="M440.2 470.5h8v8h-8z"/><path fill="#1f0c92" d="M448.2 470.5h8v8h-8z"/><path fill="#200c95" d="M456.2 470.5h8v8h-8z"/><path fill="#210c96" d="M464.2 470.5h8v8h-8z"/><path fill="#220c97" d="M472.2 470.5h8v8h-8z"/><path fill="#230d97" d="M480.2 470.5h8v8h-8z"/><path fill="#240d98" d="M488.2 470.5h8v8h-8z"/><path fill="#250d98" d="M496.2 470.5h8v8h-8z"/><path fill="#250d98" d="M504.2 470.5h8v8h-8z"/><path fill="#250d98" d="M512.2 470.5h8v8h-8z"/><path fill="#250d98" d="M520.2 470.5h8v8h-8z"/><path fill="#250d98" d="M528.2 470.5h8v8h-8z"/><path fill="#240d97" d="M536.2 470.5h8v8h-8z"/><path fill="#220c97" d="M544.2 470.5h8v8h-8z"/><path fill="#210c96" d="M552.2 470.5h8v8h-8z"/><path fill="#200c94" d="M560.2 470.5h8v8h-8z"/><path fill="#1f0c90" d="M568.2 470.5h8v8h-8z"/><path fill="#1e0b8c" d="M576.2 470.5h8v8h-8z"/><path fill="#1d0b88" d="M584.2 470.5h8v8h-8z"/><path fill="#1c0a83" d="M592.2 470.5h8v8h-8z"/><path fill="#1a0a7e" d="M600.2 470.5h8v8h-8z"/><path fill="#190978" d="M608.2 470.5h8v8h-8z"/><path fill="#170972" d="M616.2 470.5h8v8h-8z"/><path fill="#16086d" d="M624.2 470.5h8v8h-8z"/><path fill="#150868" d="M632.2 470.5h8v8h-8z"/><path fill="#140864" d="M640.2 470.5h8v8h-8z"/><path fill="#13075f" d="M648.2 470.5h8v8h-8z"/><path fill="#12075b" d="M656.2 470.5h8v8h-8z"/><path fill="#130760" d="M376.2 478.5h8v8h-8z"/><path fill="#140763" d="M384.2 478.5h8v8h-8z"/><path fill="#150866" d="M392.2 478.5h8v8h-8z"/><path fill="#150868" d="M400.2 478.5h8v8h-8z"/><path fill="#16086b" d="M408.2 478.5h8v8h-8z"/><path fill="#16086e" d="M416.2 478.5h8v8h-8z"/><path fill="#170970" d="M424.2 478.5h8v8h-8z"/><path fill="#180974" d="M432.2 478.5h8v8h-8z"/><path fill="#190977" d="M440.2 478.5h8v8h-8z"/><path fill="#190a7a" d="M448.2 478.5h8v8h-8z"/><path fill="#1a0a7d" d="M456.2 478.5h8v8h-8z"/><path fill="#1b0a7f" d="M464.2 478.5h8v8h-8z"/><path fill="#1b0a81" d="M472.2 478.5h8v8h-8z"/><path fill="#1b0a82" d="M480.2 478.5h8v8h-8z"/><path fill="#1c0a83" d="M488.2 478.5h8v8h-8z"/><path fill="#1c0a84" d="M496.2 478.5h8v8h-8z"/><path fill="#1c0a85" d="M504.2 478.5h8v8h-8z"/><path fill="#1c0b85" d="M512.2 478.5h8v8h-8z"/><path fill="#1c0a85" d="M520.2 478.5h8v8h-8z"/><path fill="#1c0a84" d="M528.2 478.5h8v8h-8z"/><path fill="#1b0a83" d="M536.2 478.5h8v8h-8z"/><path fill="#1b0a81" d="M544.2 478.5h8v8h-8z"/><path fill="#1b0a7f" d="M552.2 478.5h8v8h-8z"/><path fill="#1a0a7c" d="M560.2 478.5h8v8h-8z"/><path fill="#190979" d="M568.2 478.5h8v8h-8z"/><path fill="#180975" d="M576.2 478.5h8v8h-8z"/><path fill="#170971" d="M584.2 478.5h8v8h-8z"/><path fill="#16086d" d="M592.2 478.5h8v8h-8z"/><path fill="#16086a" d="M600.2 478.5h8v8h-8z"/><path fill="#150867" d="M608.2 478.5h8v8h-8z"/><path fill="#140863" d="M616.2 478.5h8v8h-8z"/><path fill="#130760" d="M624.2 478.5h8v8h-8z"/><path fill="#12075c" d="M632.2 478.5h8v8h-8z"/><path fill="#110657" d="M640.2 478.5h8v8h-8z"/><path fill="#100653" d="M648.2 478.5h8v8h-8z"/><path fill="#100650" d="M656.2 478.5h8v8h-8z"/><path fill="#100652" d="M376.2 486.5h8v8h-8z"/><path fill="#110655" d="M384.2 486.5h8v8h-8z"/><path fill="#110758" d="M392.2 486.5h8v8h-8z"/><path fill="#12075b" d="M400.2 486.5h8v8h-8z"/><path fill="#13075d" d="M408.2 486.5h8v8h-8z"/><path fill="#130760" d="M416.2 486.5h8v8h-8z"/><path fill="#140762" d="M424.2 486.5h8v8h-8z"/><path fill="#140864" d="M432.2 486.5h8v8h-8z"/><path fill="#150866" d="M440.2 486.5h8v8h-8z"/><path fill="#150867" d="M448.2 486.5h8v8h-8z"/><path fill="#150869" d="M456.2 486.5h8v8h-8z"/><path fill="#16086a" d="M464.2 486.5h8v8h-8z"/><path fill="#16086b" d="M472.2 486.5h8v8h-8z"/><path fill="#16086c" d="M480.2 486.5h8v8h-8z"/><path fill="#16086d" d="M488.2 486.5h8v8h-8z"/><path fill="#16086d" d="M496.2 486.5h8v8h-8z"/><path fill="#16086d" d="M504.2 486.5h8v8h-8z"/><path fill="#16086d" d="M512.2 486.5h8v8h-8z"/><path fill="#16086d" d="M520.2 486.5h8v8h-8z"/><path fill="#16086d" d="M528.2 486.5h8v8h-8z"/><path fill="#16086c" d="M536.2 486.5h8v8h-8z"/><path fill="#16086b" d="M544.2 486.5h8v8h-8z"/><path fill="#16086a" d="M552.2 486.5h8v8h-8z"/><path fill="#150868" d="M560.2 486.5h8v8h-8z"/><path fill="#150866" d="M568.2 486.5h8v8h-8z"/><path fill="#140864" d="M576.2 486.5h8v8h-8z"/><path fill="#140762" d="M584.2 486.5h8v8h-8z"/><path fill="#13075f" d="M592.2 486.5h8v8h-8z"/><path fill="#12075c" d="M600.2 486.5h8v8h-8z"/><path fill="#120759" d="M608.2 486.5h8v8h-8z"/><path fill="#110656" d="M616.2 486.5h8v8h-8z"/><path fill="#100652" d="M624.2 486.5h8v8h-8z"/><path fill="#100650" d="M632.2 486.5h8v8h-8z"/><path fill="#0f054e" d="M640.2 486.5h8v8h-8z"/><path fill="#0f054c" d="M648.2 486.5h8v8h-8z"/><path fill="#0f054a" d="M656.2 486.5h8v8h-8z"/><path fill="#0f054b" d="M376.2 494.5h8v8h-8z"/><path fill="#0f054d" d="M384.2 494.5h8v8h-8z"/><path fill="#0f054e" d="M392.2 494.5h8v8h-8z"/><path fill="#10064f" d="M400.2 494.5h8v8h-8z"/><path fill="#100651" d="M408.2 494.5h8v8h-8z"/><path fill="#100652" d="M416.2 494.5h8v8h-8z"/><path fill="#100653" d="M424.2 494.5h8v8h-8z"/><path fill="#110655" d="M432.2 494.5h8v8h-8z"/><path fill="#110657" d="M440.2 494.5h8v8h-8z"/><path fill="#120759" d="M448.2 494.5h8v8h-8z"/><path fill="#12075a" d="M456.2 494.5h8v8h-8z"/><path fill="#12075b" d="M464.2 494.5h8v8h-8z"/><path fill="#12075c" d="M472.2 494.5h8v8h-8z"/><path fill="#13075d" d="M480.2 494.5h8v8h-8z"/><path fill="#13075e" d="M488.2 494.5h8v8h-8z"/><path fill="#13075e" d="M496.2 494.5h8v8h-8z"/><path fill="#13075e" d="M504.2 494.5h8v8h-8z"/><path fill="#13075f" d="M512.2 494.5h8v8h-8z"/><path fill="#13075e" d="M520.2 494.5h8v8h-8z"/><path fill="#13075e" d="M528.2 494.5h8v8h-8z"/><path fill="#13075d" d="M536.2 494.5h8v8h-8z"/><path fill="#12075c" d="M544.2 494.5h8v8h-8z"/><path fill="#12075b" d="M552.2 494.5h8v8h-8z"/><path fill="#12075a" d="M560.2 494.5h8v8h-8z"/><path fill="#110758" d="M568.2 494.5h8v8h-8z"/><path fill="#110656" d="M576.2 494.5h8v8h-8z"/><path fill="#100654" d="M584.2 494.5h8v8h-8z"/><path fill="#100652" d="M592.2 494.5h8v8h-8z"/><path fill="#100650" d="M600.2 494.5h8v8h-8z"/><path fill="#0f054f" d="M608.2 494.5h8v8h-8z"/><path fill="#0f054d" d="M616.2 494.5h8v8h-8z"/><path fill="#0f054b" d="M624.2 494.5h8v8h-8z"/><path fill="#0f054a" d="M632.2 494.5h8v8h-8z"/><path fill="#0e0448" d="M640.2 494.5h8v8h-8z"/><path fill="#0e0447" d="M648.2 494.5h8v8h-8z"/><path fill="#0e0447" d="M656.2 494.5h8v8h-8z"/></g>
<circle cx="516.5" cy="365.6" r="34" fill="url(#gec)"/>
<ellipse cx="516.5" cy="365.6" rx="58" ry="12" fill="url(#gstreak)"/>
<g filter="url(#bl1)">
<ellipse cx="512" cy="323.6" rx="16" ry="2.2" fill="#ffb020" opacity="0.8"/>
<ellipse cx="490" cy="406" rx="32" ry="2.6" fill="#ff9a20" opacity="0.7"/>
<ellipse cx="518" cy="409.5" rx="10" ry="2" fill="#ffb020" opacity="0.7"/>
</g>
<circle cx="516.5" cy="365.6" r="17.7" fill="#0a0030"/>
<path d="M509.6 344.5 L652 389.5 L652 391.6 L509.6 346.7 Z" fill="#0a0030"/>
<rect x="508" y="428" width="1.8" height="1.8" fill="#ddd"/>
</g>
<rect x="384.2" y="302.5" width="264.6" height="190.5" fill="none" stroke="#c4c4c4" stroke-width="1"/><line x1="384.2" y1="302.5" x2="384.2" y2="493" stroke="#777" stroke-width="0.9"/><line x1="384.2" y1="493" x2="648.8" y2="493" stroke="#777" stroke-width="0.9"/>
<line x1="380.2" y1="303.0" x2="384.2" y2="303.0" stroke="#555" stroke-width="0.6"/>
<text x="382.5" y="305.7" font-size="7.5" text-anchor="end">0.010</text>
<line x1="380.2" y1="334.5" x2="384.2" y2="334.5" stroke="#555" stroke-width="0.6"/>
<text x="382.5" y="337.2" font-size="7.5" text-anchor="end">0.005</text>
<line x1="380.2" y1="366.0" x2="384.2" y2="366.0" stroke="#555" stroke-width="0.6"/>
<text x="382.5" y="368.7" font-size="7.5" text-anchor="end">0.000</text>
<line x1="380.2" y1="397.5" x2="384.2" y2="397.5" stroke="#555" stroke-width="0.6"/>
<text x="382.5" y="400.2" font-size="7.5" text-anchor="end">-0.005</text>
<line x1="380.2" y1="429.0" x2="384.2" y2="429.0" stroke="#555" stroke-width="0.6"/>
<text x="382.5" y="431.7" font-size="7.5" text-anchor="end">-0.010</text>
<line x1="380.2" y1="460.5" x2="384.2" y2="460.5" stroke="#555" stroke-width="0.6"/>
<text x="382.5" y="463.2" font-size="7.5" text-anchor="end">-0.015</text>
<line x1="380.2" y1="492.0" x2="384.2" y2="492.0" stroke="#555" stroke-width="0.6"/>
<text x="382.5" y="494.7" font-size="7.5" text-anchor="end">-0.020</text>
<line x1="382.2" y1="485.7" x2="384.2" y2="485.7" stroke="#666" stroke-width="0.5"/>
<line x1="382.2" y1="479.4" x2="384.2" y2="479.4" stroke="#666" stroke-width="0.5"/>
<line x1="382.2" y1="473.1" x2="384.2" y2="473.1" stroke="#666" stroke-width="0.5"/>
<line x1="382.2" y1="466.8" x2="384.2" y2="466.8" stroke="#666" stroke-width="0.5"/>
<line x1="382.2" y1="454.2" x2="384.2" y2="454.2" stroke="#666" stroke-width="0.5"/>
<line x1="382.2" y1="447.9" x2="384.2" y2="447.9" stroke="#666" stroke-width="0.5"/>
<line x1="382.2" y1="441.6" x2="384.2" y2="441.6" stroke="#666" stroke-width="0.5"/>
<line x1="382.2" y1="435.3" x2="384.2" y2="435.3" stroke="#666" stroke-width="0.5"/>
<line x1="382.2" y1="422.7" x2="384.2" y2="422.7" stroke="#666" stroke-width="0.5"/>
<line x1="382.2" y1="416.4" x2="384.2" y2="416.4" stroke="#666" stroke-width="0.5"/>
<line x1="382.2" y1="410.1" x2="384.2" y2="410.1" stroke="#666" stroke-width="0.5"/>
<line x1="382.2" y1="403.8" x2="384.2" y2="403.8" stroke="#666" stroke-width="0.5"/>
<line x1="382.2" y1="391.2" x2="384.2" y2="391.2" stroke="#666" stroke-width="0.5"/>
<line x1="382.2" y1="384.9" x2="384.2" y2="384.9" stroke="#666" stroke-width="0.5"/>
<line x1="382.2" y1="378.6" x2="384.2" y2="378.6" stroke="#666" stroke-width="0.5"/>
<line x1="382.2" y1="372.3" x2="384.2" y2="372.3" stroke="#666" stroke-width="0.5"/>
<line x1="382.2" y1="359.7" x2="384.2" y2="359.7" stroke="#666" stroke-width="0.5"/>
<line x1="382.2" y1="353.4" x2="384.2" y2="353.4" stroke="#666" stroke-width="0.5"/>
<line x1="382.2" y1="347.1" x2="384.2" y2="347.1" stroke="#666" stroke-width="0.5"/>
<line x1="382.2" y1="340.8" x2="384.2" y2="340.8" stroke="#666" stroke-width="0.5"/>
<line x1="382.2" y1="328.2" x2="384.2" y2="328.2" stroke="#666" stroke-width="0.5"/>
<line x1="382.2" y1="321.9" x2="384.2" y2="321.9" stroke="#666" stroke-width="0.5"/>
<line x1="382.2" y1="315.6" x2="384.2" y2="315.6" stroke="#666" stroke-width="0.5"/>
<line x1="382.2" y1="309.3" x2="384.2" y2="309.3" stroke="#666" stroke-width="0.5"/>
<line x1="384.2" y1="493" x2="384.2" y2="496.5" stroke="#555" stroke-width="0.6"/>
<text x="384.2" y="502" font-size="7.5" text-anchor="middle">-0.02</text>
<line x1="450.4" y1="493" x2="450.4" y2="496.5" stroke="#555" stroke-width="0.6"/>
<text x="450.35" y="502" font-size="7.5" text-anchor="middle">-0.01</text>
<line x1="516.5" y1="493" x2="516.5" y2="496.5" stroke="#555" stroke-width="0.6"/>
<text x="516.5" y="502" font-size="7.5" text-anchor="middle">0.00</text>
<line x1="582.6" y1="493" x2="582.6" y2="496.5" stroke="#555" stroke-width="0.6"/>
<text x="582.65" y="502" font-size="7.5" text-anchor="middle">0.01</text>
<line x1="648.8" y1="493" x2="648.8" y2="496.5" stroke="#555" stroke-width="0.6"/>
<text x="648.8" y="502" font-size="7.5" text-anchor="middle">0.02</text>
<line x1="397.4" y1="493" x2="397.4" y2="495" stroke="#666" stroke-width="0.5"/>
<line x1="410.7" y1="493" x2="410.7" y2="495" stroke="#666" stroke-width="0.5"/>
<line x1="423.9" y1="493" x2="423.9" y2="495" stroke="#666" stroke-width="0.5"/>
<line x1="437.1" y1="493" x2="437.1" y2="495" stroke="#666" stroke-width="0.5"/>
<line x1="463.6" y1="493" x2="463.6" y2="495" stroke="#666" stroke-width="0.5"/>
<line x1="476.8" y1="493" x2="476.8" y2="495" stroke="#666" stroke-width="0.5"/>
<line x1="490.0" y1="493" x2="490.0" y2="495" stroke="#666" stroke-width="0.5"/>
<line x1="503.3" y1="493" x2="503.3" y2="495" stroke="#666" stroke-width="0.5"/>
<line x1="529.7" y1="493" x2="529.7" y2="495" stroke="#666" stroke-width="0.5"/>
<line x1="543.0" y1="493" x2="543.0" y2="495" stroke="#666" stroke-width="0.5"/>
<line x1="556.2" y1="493" x2="556.2" y2="495" stroke="#666" stroke-width="0.5"/>
<line x1="569.4" y1="493" x2="569.4" y2="495" stroke="#666" stroke-width="0.5"/>
<line x1="595.9" y1="493" x2="595.9" y2="495" stroke="#666" stroke-width="0.5"/>
<line x1="609.1" y1="493" x2="609.1" y2="495" stroke="#666" stroke-width="0.5"/>
<line x1="622.3" y1="493" x2="622.3" y2="495" stroke="#666" stroke-width="0.5"/>
<line x1="635.6" y1="493" x2="635.6" y2="495" stroke="#666" stroke-width="0.5"/>
<text x="520" y="516" font-size="10.6" text-anchor="middle" fill="#222"><tspan font-style="italic">q</tspan><tspan font-size="8.4" dy="2" font-style="italic">x</tspan><tspan dy="-2"> (Å</tspan><tspan font-size="6.4" dy="-3.6">-1</tspan><tspan dy="3.6">)</tspan></text>
<text x="0" y="0" font-size="10.6" text-anchor="middle" transform="translate(359.5 396.9) rotate(-90)" fill="#222"><tspan font-style="italic">q</tspan><tspan font-size="8.4" dy="2" font-style="italic">z</tspan><tspan dy="-2"> (Å</tspan><tspan font-size="6.4" dy="-3.6">-1</tspan><tspan dy="3.6">)</tspan></text>
<line x1="516.5" y1="365.6" x2="516.5" y2="330.5" stroke="#f6f6f6" stroke-width="0.9"/><polygon points="516.5,323.0 520.3,330.5 512.7,330.5" fill="#f6f6f6"/>
<line x1="516.5" y1="365.6" x2="562.0" y2="331.5" stroke="#f6f6f6" stroke-width="0.9"/><polygon points="568.0,327.0 564.3,334.5 559.7,328.5" fill="#f6f6f6"/>
<path d="M516.5 354.6 A11 11 0 0 1 525.2 358.8" fill="none" stroke="#f6f6f6" stroke-width="0.8"/>
<text x="530.7" y="346.5" font-size="8.5" text-anchor="middle" fill="#f6f6f6">52 °</text>
<text x="516.5" y="316.3" font-size="9" text-anchor="middle" fill="#f6f6f6">Mc(01)</text>
<text x="582.8" y="345.2" font-size="9" text-anchor="middle" fill="#f6f6f6">Mc*(010)</text>
<rect x="663.2" y="302.4" width="8.6" height="190.6" fill="url(#cbe)" stroke="#9a9a9a" stroke-width="0.9"/>
<line x1="668.8" y1="339.6" x2="671.8" y2="339.6" stroke="#333" stroke-width="0.6"/>
<line x1="668.8" y1="416.3" x2="671.8" y2="416.3" stroke="#333" stroke-width="0.6"/>
<line x1="670.2" y1="469.911" x2="671.8" y2="469.911" stroke="#333" stroke-width="0.5"/>
<line x1="670.2" y1="456.405" x2="671.8" y2="456.405" stroke="#333" stroke-width="0.5"/>
<line x1="670.2" y1="446.822" x2="671.8" y2="446.822" stroke="#333" stroke-width="0.5"/>
<line x1="670.2" y1="439.389" x2="671.8" y2="439.389" stroke="#333" stroke-width="0.5"/>
<line x1="670.2" y1="433.316" x2="671.8" y2="433.316" stroke="#333" stroke-width="0.5"/>
<line x1="670.2" y1="428.181" x2="671.8" y2="428.181" stroke="#333" stroke-width="0.5"/>
<line x1="670.2" y1="423.733" x2="671.8" y2="423.733" stroke="#333" stroke-width="0.5"/>
<line x1="670.2" y1="419.81" x2="671.8" y2="419.81" stroke="#333" stroke-width="0.5"/>
<line x1="670.2" y1="393.211" x2="671.8" y2="393.211" stroke="#333" stroke-width="0.5"/>
<line x1="670.2" y1="379.705" x2="671.8" y2="379.705" stroke="#333" stroke-width="0.5"/>
<line x1="670.2" y1="370.122" x2="671.8" y2="370.122" stroke="#333" stroke-width="0.5"/>
<line x1="670.2" y1="362.689" x2="671.8" y2="362.689" stroke="#333" stroke-width="0.5"/>
<line x1="670.2" y1="356.616" x2="671.8" y2="356.616" stroke="#333" stroke-width="0.5"/>
<line x1="670.2" y1="351.481" x2="671.8" y2="351.481" stroke="#333" stroke-width="0.5"/>
<line x1="670.2" y1="347.033" x2="671.8" y2="347.033" stroke="#333" stroke-width="0.5"/>
<line x1="670.2" y1="343.11" x2="671.8" y2="343.11" stroke="#333" stroke-width="0.5"/>
<line x1="670.2" y1="316.511" x2="671.8" y2="316.511" stroke="#333" stroke-width="0.5"/>
<line x1="670.2" y1="303.005" x2="671.8" y2="303.005" stroke="#333" stroke-width="0.5"/>
<text x="674" y="342.5" font-size="7.8">10<tspan font-size="5.5" dy="-3.2">4</tspan></text>
<text x="674" y="419.3" font-size="7.8">10<tspan font-size="5.5" dy="-3.2">3</tspan></text>
<text x="674" y="496" font-size="7.8">10<tspan font-size="5.5" dy="-3.2">2</tspan></text>
<text x="0" y="0" font-size="9" text-anchor="middle" transform="translate(659.3 395) rotate(-90)" fill="#222">Intensity (counts)</text>
<polygon points="135.1,546.1 158.5,559.4 158.5,585.9 135.1,599.1 111.7,585.9 111.7,559.4" fill="#dde8f5" stroke="#2f75bf" stroke-width="1.2" stroke-linejoin="round"/>
<polygon points="181.9,546.1 205.3,559.4 205.3,585.9 181.9,599.1 158.5,585.9 158.5,559.4" fill="#dde8f5" stroke="#2f75bf" stroke-width="1.2" stroke-linejoin="round"/>
<polygon points="111.7,585.8 135.1,599.0 135.1,625.5 111.7,638.8 88.3,625.5 88.3,599.0" fill="#dde8f5" stroke="#2f75bf" stroke-width="1.2" stroke-linejoin="round"/>
<polygon points="158.5,585.8 181.9,599.0 181.9,625.5 158.5,638.8 135.1,625.5 135.1,599.0" fill="#dde8f5" stroke="#2f75bf" stroke-width="1.2" stroke-linejoin="round"/>
<polygon points="205.3,585.8 228.7,599.0 228.7,625.5 205.3,638.8 181.9,625.5 181.9,599.0" fill="#dde8f5" stroke="#2f75bf" stroke-width="1.2" stroke-linejoin="round"/>
<polygon points="135.1,625.5 158.5,638.8 158.5,665.2 135.1,678.5 111.7,665.2 111.7,638.8" fill="#dde8f5" stroke="#2f75bf" stroke-width="1.2" stroke-linejoin="round"/>
<polygon points="181.9,625.5 205.3,638.8 205.3,665.2 181.9,678.5 158.5,665.2 158.5,638.8" fill="#dde8f5" stroke="#2f75bf" stroke-width="1.2" stroke-linejoin="round"/>
<line x1="182.3" y1="573.5" x2="182.3" y2="543.4" stroke="#3f7fcf" stroke-width="1"/><polygon points="182.3,537.4 185.3,543.4 179.3,543.4" fill="#3f7fcf"/>
<line x1="182.3" y1="573.5" x2="222.4" y2="573.5" stroke="#3f7fcf" stroke-width="1"/><polygon points="228.4,573.5 222.4,576.5 222.4,570.5" fill="#3f7fcf"/>
<line x1="159.9" y1="613.6" x2="140.0" y2="578.3" stroke="#222" stroke-width="0.8"/><polygon points="136.6,572.2 142.6,576.8 137.4,579.8" fill="#222"/>
<line x1="159.9" y1="613.6" x2="203" y2="613.6" stroke="#8a8a8a" stroke-width="1.3"/>
<polygon points="209.5,613.6 201.5,610.3 201.5,616.9" fill="#111"/>
<path d="M156.2 607 A7.9 7.9 0 0 1 167.7 613.6" fill="none" stroke="#222" stroke-width="0.7"/>
<text x="188.5" y="535" font-size="8.7" text-anchor="middle" fill="#3f7fcf">Gb[010]</text>
<text x="229.5" y="567.8" font-size="8.7" text-anchor="middle" fill="#3f7fcf">Gb[100]</text>
<text x="128.1" y="566.8" font-size="9" text-anchor="middle" fill="#111">Mc[01]</text>
<text x="200.3" y="609" font-size="9" text-anchor="middle" fill="#111">Mc[10]</text>
<text x="166.3" y="604.9" font-size="9" text-anchor="middle" fill="#111">120°</text>
<text x="174.7" y="626" font-size="9" text-anchor="middle" fill="#111">93 nm</text>
<text x="159" y="712.8" font-size="9.2" text-anchor="middle" fill="#111">2D hexagonal</text>
<polygon points="378.6,560.0 378.6,586.5 378.6,599.5 355.2,612.8 331.8,599.5 331.8,586.5 331.8,560.0" fill="#dde8f5" stroke="#2f75bf" stroke-width="1.2" stroke-linejoin="round"/>
<polygon points="355.2,546.8 378.6,560.0 378.6,586.5 355.2,599.8 331.8,586.5 331.8,560.0" fill="#dde8f5" stroke="#2f75bf" stroke-width="1.2" stroke-linejoin="round"/>
<polygon points="425.6,560.0 425.6,586.5 425.6,599.5 402.2,612.8 378.8,599.5 378.8,586.5 378.8,560.0" fill="#dde8f5" stroke="#2f75bf" stroke-width="1.2" stroke-linejoin="round"/>
<polygon points="402.2,546.8 425.6,560.0 425.6,586.5 402.2,599.8 378.8,586.5 378.8,560.0" fill="#dde8f5" stroke="#2f75bf" stroke-width="1.2" stroke-linejoin="round"/>
<polygon points="355.3,599.8 355.3,626.2 355.3,639.2 331.9,652.5 308.5,639.2 308.5,626.2 308.5,599.8" fill="#dde8f5" stroke="#2f75bf" stroke-width="1.2" stroke-linejoin="round"/>
<polygon points="331.9,586.5 355.3,599.8 355.3,626.2 331.9,639.5 308.5,626.2 308.5,599.8" fill="#dde8f5" stroke="#2f75bf" stroke-width="1.2" stroke-linejoin="round"/>
<polygon points="402.1,599.8 402.1,626.2 402.1,639.2 378.7,652.5 355.3,639.2 355.3,626.2 355.3,599.8" fill="#dde8f5" stroke="#2f75bf" stroke-width="1.2" stroke-linejoin="round"/>
<polygon points="378.7,586.5 402.1,599.8 402.1,626.2 378.7,639.5 355.3,626.2 355.3,599.8" fill="#dde8f5" stroke="#2f75bf" stroke-width="1.2" stroke-linejoin="round"/>
<polygon points="448.9,599.8 448.9,626.2 448.9,639.2 425.5,652.5 402.1,639.2 402.1,626.2 402.1,599.8" fill="#dde8f5" stroke="#2f75bf" stroke-width="1.2" stroke-linejoin="round"/>
<polygon points="425.5,586.5 448.9,599.8 448.9,626.2 425.5,639.5 402.1,626.2 402.1,599.8" fill="#dde8f5" stroke="#2f75bf" stroke-width="1.2" stroke-linejoin="round"/>
<polygon points="378.6,639.5 378.6,666.0 378.6,679.0 355.2,692.2 331.8,679.0 331.8,666.0 331.8,639.5" fill="#dde8f5" stroke="#2f75bf" stroke-width="1.2" stroke-linejoin="round"/>
<polygon points="355.2,626.2 378.6,639.5 378.6,666.0 355.2,679.2 331.8,666.0 331.8,639.5" fill="#dde8f5" stroke="#2f75bf" stroke-width="1.2" stroke-linejoin="round"/>
<polygon points="425.6,639.5 425.6,666.0 425.6,679.0 402.2,692.2 378.8,679.0 378.8,666.0 378.8,639.5" fill="#dde8f5" stroke="#2f75bf" stroke-width="1.2" stroke-linejoin="round"/>
<polygon points="402.2,626.2 425.6,639.5 425.6,666.0 402.2,679.2 378.8,666.0 378.8,639.5" fill="#dde8f5" stroke="#2f75bf" stroke-width="1.2" stroke-linejoin="round"/>
<rect x="355.7" y="574.1" width="46.5" height="80" fill="none" stroke="#7030a0" stroke-width="1.4" stroke-dasharray="4.5 2.8"/>
<line x1="402.2" y1="574.0" x2="403.4" y2="544.7" stroke="#3f7fcf" stroke-width="1"/><polygon points="403.6,538.7 406.4,544.8 400.4,544.6" fill="#3f7fcf"/>
<line x1="402.2" y1="574.0" x2="442.8" y2="573.6" stroke="#3f7fcf" stroke-width="1"/><polygon points="448.8,573.5 442.8,576.6 442.8,570.6" fill="#3f7fcf"/>
<text x="404.2" y="533.7" font-size="9" text-anchor="middle" fill="#3f7fcf">Gb[010]</text>
<text x="442" y="561.7" font-size="9" text-anchor="middle" fill="#3f7fcf">Gb[100]</text>
<line x1="391.2" y1="678.9" x2="441.9" y2="678.9" stroke="#3f7fcf" stroke-width="1"/>
<line x1="393" y1="691.8" x2="443.8" y2="691.8" stroke="#3f7fcf" stroke-width="1"/>
<text x="454.2" y="689.3" font-size="8.7" text-anchor="middle" fill="#111">6-12 nm</text>
<text x="0" y="0" font-size="9" fill="#7030a0" font-style="italic" text-anchor="middle" transform="translate(349 619) rotate(-90)">b<tspan font-size="6.5" dy="2" font-style="normal">Mc</tspan></text>
<text x="364" y="664" font-size="9" fill="#7030a0" font-style="italic" text-anchor="middle">a<tspan font-size="6.5" dy="2" font-style="normal">Mc</tspan></text>
<path d="M304.4 541.9 L333 541.9 M304.4 541.9 L304.4 569" stroke="#7030a0" stroke-width="1.2" fill="none"/>
<polygon points="338.4,541.9 331.5,538.6 331.5,545.2" fill="#7030a0"/>
<polygon points="304.4,574.6 301.1,567.7 307.7,567.7" fill="#7030a0"/>
<path d="M304.4 549.6 L312 549.6 L312 541.9" stroke="#7030a0" stroke-width="0.8" fill="none"/>
<text x="336" y="537.5" font-size="9" fill="#7030a0" font-style="italic">a<tspan font-size="6.5" dy="2" font-style="normal">Mc</tspan></text>
<text x="297" y="583" font-size="9" fill="#7030a0" font-style="italic">b<tspan font-size="6.5" dy="2" font-style="normal">Mc</tspan></text>
<text x="453.1" y="714.8" font-size="9.1" text-anchor="middle" fill="#111">3D base-centered monoclinic packing</text>
<rect x="533.2" y="543.5" width="5.6" height="42" fill="#dde8f5" stroke="#2f75bf" stroke-width="1.15"/>
<rect x="539.1" y="550.9" width="5.6" height="42" fill="#dde8f5" stroke="#2f75bf" stroke-width="1.15"/>
<rect x="545.0" y="558.3" width="5.6" height="42" fill="#dde8f5" stroke="#2f75bf" stroke-width="1.15"/>
<rect x="550.9" y="565.7" width="5.6" height="42" fill="#dde8f5" stroke="#2f75bf" stroke-width="1.15"/>
<rect x="556.8" y="573.1" width="5.6" height="42" fill="#dde8f5" stroke="#2f75bf" stroke-width="1.15"/>
<rect x="562.7" y="580.5" width="5.6" height="42" fill="#dde8f5" stroke="#2f75bf" stroke-width="1.15"/>
<rect x="568.6" y="587.9" width="5.6" height="42" fill="#dde8f5" stroke="#2f75bf" stroke-width="1.15"/>
<rect x="533.2" y="585.3" width="5.6" height="42" fill="#dde8f5" stroke="#2f75bf" stroke-width="1.15"/>
<rect x="539.1" y="592.7" width="5.6" height="42" fill="#dde8f5" stroke="#2f75bf" stroke-width="1.15"/>
<rect x="545.0" y="600.1" width="5.6" height="42" fill="#dde8f5" stroke="#2f75bf" stroke-width="1.15"/>
<rect x="550.9" y="607.5" width="5.6" height="42" fill="#dde8f5" stroke="#2f75bf" stroke-width="1.15"/>
<rect x="556.8" y="614.9" width="5.6" height="42" fill="#dde8f5" stroke="#2f75bf" stroke-width="1.15"/>
<rect x="562.7" y="622.3" width="5.6" height="42" fill="#dde8f5" stroke="#2f75bf" stroke-width="1.15"/>
<rect x="568.6" y="629.7" width="5.6" height="42" fill="#dde8f5" stroke="#2f75bf" stroke-width="1.15"/>
<rect x="533.2" y="627.1" width="5.6" height="42" fill="#dde8f5" stroke="#2f75bf" stroke-width="1.15"/>
<rect x="539.1" y="634.5" width="5.6" height="42" fill="#dde8f5" stroke="#2f75bf" stroke-width="1.15"/>
<rect x="545.0" y="641.9" width="5.6" height="42" fill="#dde8f5" stroke="#2f75bf" stroke-width="1.15"/>
<rect x="550.9" y="649.3" width="5.6" height="42" fill="#dde8f5" stroke="#2f75bf" stroke-width="1.15"/>
<rect x="556.8" y="656.7" width="5.6" height="42" fill="#dde8f5" stroke="#2f75bf" stroke-width="1.15"/>
<rect x="562.7" y="664.1" width="5.6" height="42" fill="#dde8f5" stroke="#2f75bf" stroke-width="1.15"/>
<rect x="568.6" y="671.5" width="5.6" height="42" fill="#dde8f5" stroke="#2f75bf" stroke-width="1.15"/>
<line x1="536.3" y1="564.5" x2="536.3" y2="534.5" stroke="#4a82d0" stroke-width="0.8"/><polygon points="536.3,528.5 539.3,534.5 533.3,534.5" fill="#4a82d0"/>
<line x1="536.3" y1="564.5" x2="563.5" y2="564.5" stroke="#4a82d0" stroke-width="0.8"/><polygon points="569.5,564.5 563.5,567.5 563.5,561.5" fill="#4a82d0"/>
<text x="555.9" y="538" font-size="9" text-anchor="middle" fill="#3f7fcf">Gb[010]</text>
<text x="582" y="560.5" font-size="9" text-anchor="middle" fill="#3f7fcf">Gb[001]</text>
<path d="M574.5 587.7 L603 587.7 M574.5 629.5 L603 629.5" stroke="#7030a0" stroke-width="1.2" stroke-dasharray="4 2.5"/>
<path d="M533 585.3 L575 630 L599.5 665.5 M533 627 L570 669.6 L603 707" stroke="#7030a0" stroke-width="1.2" stroke-dasharray="4 2.5" fill="none"/>
<line x1="581.6" y1="594" x2="581.6" y2="623" stroke="#7030a0" stroke-width="1.1" stroke-dasharray="3 2"/>
<polygon points="581.6,588.5 578.5,596 584.7,596" fill="#7030a0"/>
<polygon points="581.6,629 578.5,621.5 584.7,621.5" fill="#7030a0"/>
<text x="598.3" y="612.4" font-size="9" text-anchor="middle" fill="#7030a0">93 nm</text>
<path d="M585.5 630 A10 10 0 0 1 580.5 638.8" fill="none" stroke="#7030a0" stroke-width="0.9"/>
<text x="593" y="646.8" font-size="9" text-anchor="middle" fill="#7030a0">52°</text>
<line x1="576" y1="666" x2="586" y2="655" stroke="#7030a0" stroke-width="1.1" stroke-dasharray="3 2"/>
<polygon points="572.5,669.5 575,662 579.5,666.5" fill="#7030a0"/>
<polygon points="589.5,651.5 583,654 587,658.5" fill="#7030a0"/>
<text x="598.3" y="680.3" font-size="9" text-anchor="middle" fill="#7030a0">57 nm</text>
<text x="0" y="0" font-size="9" fill="#7030a0" transform="translate(590 685) rotate(52)">Mc*(010)</text>
<path d="M493.8 536 L493.8 566 M493.8 536 L512 557" stroke="#7030a0" stroke-width="1.2" fill="none"/>
<polygon points="493.8,571.5 490.6,564.5 497,564.5" fill="#7030a0"/>
<polygon points="515.7,561 508.5,557.5 513,553" fill="#7030a0"/>
<path d="M493.8 548 A12 12 0 0 0 501.8 545.2" fill="none" stroke="#7030a0" stroke-width="0.8"/>
<text x="504.5" y="541" font-size="9" fill="#7030a0" font-style="italic">c<tspan font-size="6.5" dy="2" font-style="normal">Mc</tspan></text>
<text x="489.5" y="582.5" font-size="9" fill="#7030a0" font-style="italic">b<tspan font-size="6.5" dy="2" font-style="normal">Mc</tspan></text>
<text x="497.5" y="560" font-size="8.5" fill="#7030a0" font-style="italic">α</text>
<text x="631" y="557.7" font-size="9" fill="#7030a0"><tspan font-style="italic">α</tspan>= 38°</text>
<text x="631" y="576.6" font-size="9" fill="#7030a0"><tspan font-style="italic">β</tspan>= 90°</text>
<text x="631" y="596.2" font-size="9" fill="#7030a0"><tspan font-style="italic">γ</tspan> = 90°</text>
<text x="631" y="614.2" font-size="9" fill="#7030a0"><tspan font-style="italic">a</tspan> = 93 nm</text>
<text x="631" y="635.6" font-size="9" fill="#7030a0"><tspan font-style="italic">b</tspan> = √<tspan text-decoration="overline">3</tspan> <tspan font-style="italic">a</tspan></text>
<text x="637" y="655.2" font-size="9" fill="#7030a0">= 161 nm</text>
<text x="631" y="674.4" font-size="9" fill="#7030a0"><tspan font-style="italic">c</tspan> = <tspan font-style="italic">t</tspan>/(sin <tspan font-style="italic">α</tspan>)</text>
<text x="637" y="693.2" font-size="9" fill="#7030a0">= 16 nm</text>
<text x="-0.6" y="8.7" font-size="16" fill="#000" font-weight="bold">a</text>
<text x="341.2" y="12.9" font-size="15" fill="#000" font-weight="bold">d</text>
<text x="-1" y="312" font-size="15.5" fill="#000" font-weight="bold">b</text>
<text x="345.2" y="316" font-size="16" fill="#000" font-weight="bold">e</text>
<text x="0.3" y="547.3" font-size="16.5" fill="#000" font-weight="bold">c</text>
<text x="287.8" y="550.8" font-size="15.5" fill="#000" font-weight="bold">f</text>
</svg>
</body></html>
